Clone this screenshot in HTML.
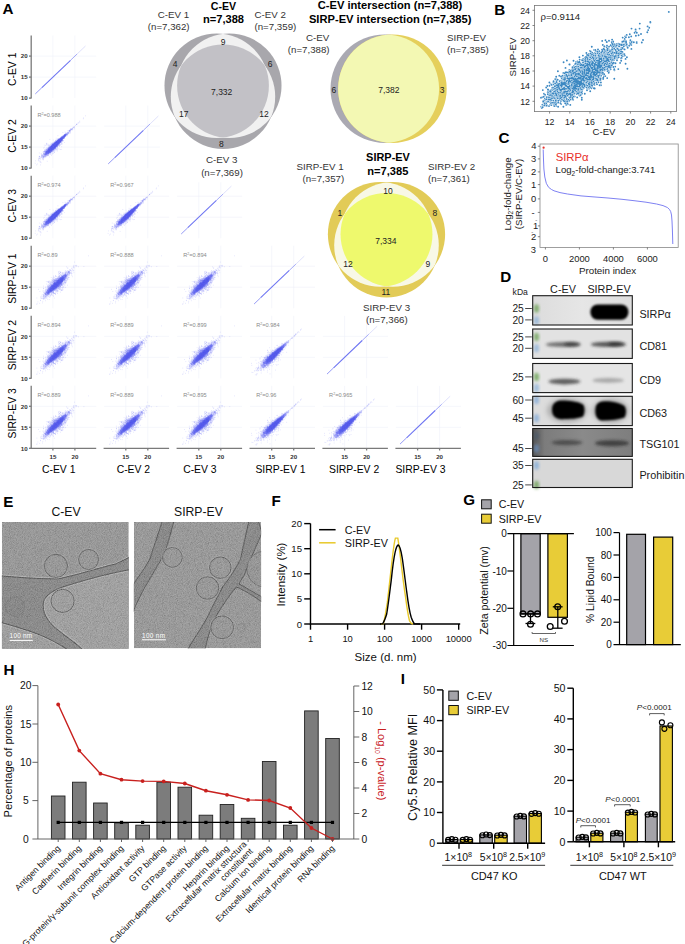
<!DOCTYPE html><html><head><meta charset="utf-8"><style>html,body{margin:0;padding:0;background:#fff;overflow:hidden}svg{display:block}text{font-family:"Liberation Sans", sans-serif}</style></head><body><svg width="685" height="944" viewBox="0 0 685 944" font-family='"Liberation Sans", sans-serif'><rect width="685" height="944" fill="#fff"/><text x="2.4" y="14.3" font-size="15.2" font-weight="bold">A</text><text x="494.2" y="14.5" font-size="15.2" font-weight="bold">B</text><text x="498.6" y="142.8" font-size="15.2" font-weight="bold">C</text><text x="500.2" y="281.9" font-size="15.2" font-weight="bold">D</text><text x="3.3" y="506.9" font-size="15.2" font-weight="bold">E</text><text x="271.4" y="506.2" font-size="15.2" font-weight="bold">F</text><text x="463.2" y="505.0" font-size="15.2" font-weight="bold">G</text><text x="3.6" y="674.9" font-size="15.2" font-weight="bold">H</text><text x="400.7" y="683.8" font-size="15.2" font-weight="bold">I</text><defs><g id="cc" stroke="#646cf6" stroke-opacity="0.27" stroke-width="0.7" stroke-linecap="round" fill="none"><path d="M13.7-11.9h0M32.9-31.8h0M23.7-22.1h0M25.4-23.3h0M26.4-26.1h0M18.1-18.9h0M14.8-15.5h0M32.5-31.6h0M15.3-13.0h0M23.6-19.7h0M29.2-28.2h0M24.7-24.6h0M24.6-22.2h0M33.6-32.3h0M18.7-17.0h0M34.0-33.6h0M28.1-28.2h0M31.4-30.5h0M21.0-20.0h0M19.7-20.4h0M24.9-22.4h0M19.8-16.7h0M19.5-18.8h0M19.3-21.2h0M21.5-22.4h0M26.1-24.1h0M23.6-23.5h0M19.6-21.4h0M28.5-27.2h0M25.6-24.4h0M21.8-20.3h0M17.9-16.4h0M25.9-26.8h0M20.0-19.1h0M22.0-23.5h0M23.1-25.4h0M17.4-17.8h0M21.8-21.7h0M22.0-20.5h0M19.9-17.6h0M32.2-27.2h0M25.1-24.2h0M27.1-27.6h0M27.3-27.1h0M22.2-21.9h0M11.7-16.0h0M28.9-27.8h0M25.8-25.8h0M20.7-18.8h0M27.5-26.2h0M14.9-16.2h0M25.2-23.3h0M30.1-29.5h0M26.8-26.7h0M20.9-21.1h0M21.1-20.8h0M18.6-19.6h0M30.1-30.1h0M16.0-14.6h0M52.1-49.3h0M15.8-12.9h0M25.3-25.0h0M20.6-22.2h0M23.9-23.9h0M26.6-26.0h0M29.2-30.1h0M19.2-18.9h0M21.8-18.7h0M15.9-12.3h0M22.4-23.5h0M25.8-23.2h0M12.8-13.7h0M26.5-24.3h0M23.8-22.3h0M20.4-21.4h0M30.2-29.0h0M18.1-19.0h0M36.2-37.2h0M25.7-18.3h0M21.4-16.4h0M23.5-22.3h0M19.8-18.2h0M17.6-18.3h0M20.7-21.2h0M27.5-27.7h0M18.4-18.9h0M30.5-29.3h0M23.6-21.2h0M22.4-22.1h0M32.0-31.8h0M37.5-37.5h0M31.0-27.0h0M24.1-23.3h0M26.3-25.7h0M21.8-22.9h0M26.6-25.5h0M15.5-12.0h0M22.0-20.8h0M21.4-20.3h0M33.0-31.5h0M20.4-24.5h0M33.8-32.8h0M27.3-25.7h0M28.5-26.0h0M31.0-29.5h0M22.5-22.2h0M8.4-10.1h0M12.6-14.8h0M24.5-22.1h0M18.8-17.4h0M7.1-7.4h0M47.2-45.2h0M29.7-28.7h0M19.3-15.7h0M18.0-17.0h0M20.0-20.4h0M30.9-31.3h0M19.8-19.5h0M15.3-18.4h0M27.7-25.8h0M23.2-20.6h0M26.8-26.6h0M5.3-3.2h0M21.8-20.5h0M22.2-21.1h0M22.4-21.2h0M28.8-27.5h0M26.0-23.1h0M29.2-28.6h0M20.1-17.9h0M24.1-24.9h0M23.5-23.6h0M14.7-14.0h0M27.4-25.4h0M22.2-23.3h0M19.1-20.1h0M26.3-26.1h0M24.9-25.0h0M25.4-23.6h0M21.1-20.2h0M14.4-15.1h0M19.4-18.1h0M25.4-22.5h0M16.9-22.3h0M26.6-25.3h0M20.0-16.8h0M13.6-12.1h0M13.9-14.1h0M32.0-30.5h0M21.1-23.2h0M25.3-23.6h0M33.3-32.8h0M20.7-19.5h0M26.5-24.8h0M20.5-21.7h0M15.5-14.1h0M30.5-29.1h0M25.0-24.2h0M26.8-26.5h0M17.3-18.8h0M23.5-23.5h0M30.9-30.7h0M24.8-24.4h0M28.6-26.9h0M31.0-29.7h0M18.9-18.9h0M19.2-20.1h0M21.4-18.4h0M24.8-24.3h0M30.7-30.0h0M26.2-24.6h0M26.8-26.0h0M27.5-28.8h0M45.6-43.9h0M23.5-23.6h0M17.1-15.9h0M23.0-23.2h0M22.9-22.3h0M34.2-32.4h0M14.9-14.5h0M22.8-23.3h0M33.2-32.3h0M21.9-16.8h0M29.1-26.2h0M23.3-23.9h0M26.6-26.0h0M29.4-27.9h0M24.3-21.5h0M18.4-15.8h0M23.2-22.4h0M27.8-26.9h0M22.6-22.2h0M22.3-22.3h0M24.7-24.9h0M15.2-15.3h0M23.9-24.4h0M9.4-8.9h0M24.0-22.3h0M20.7-18.6h0M26.3-24.7h0M20.4-18.5h0M26.6-27.4h0M38.6-37.6h0M23.6-24.5h0M17.6-18.7h0M24.0-21.9h0M31.9-32.0h0M21.6-20.3h0M27.2-27.0h0M24.7-23.9h0M29.8-29.4h0M27.8-26.6h0M23.3-21.2h0M25.7-25.1h0M24.6-21.5h0M22.7-23.2h0M19.8-19.0h0M12.7-14.2h0M21.0-20.0h0M29.5-27.8h0M18.7-18.6h0M27.9-26.3h0M30.9-30.1h0M18.8-19.7h0M18.3-19.8h0M19.7-19.1h0M20.8-20.1h0M29.7-28.9h0M25.9-22.8h0M25.1-22.5h0M18.5-17.2h0M28.3-28.7h0M37.7-36.1h0M17.6-14.8h0M34.4-32.7h0M17.1-17.0h0M27.9-24.2h0M31.3-29.7h0M21.5-23.7h0M26.4-19.2h0M21.6-22.4h0M20.8-16.8h0M21.0-20.9h0M17.4-16.7h0M24.1-24.4h0M13.3-20.9h0M29.2-28.0h0M16.3-17.7h0M7.9-7.2h0M20.1-19.1h0M18.7-28.7h0M32.5-31.8h0M21.5-21.1h0M24.5-24.1h0M28.8-23.7h0M27.7-26.9h0M20.8-21.6h0M30.3-29.3h0M15.3-15.5h0M36.5-34.0h0M21.3-20.7h0M29.1-27.0h0M33.3-32.5h0M27.4-25.1h0M18.9-20.2h0M18.0-15.1h0M22.1-21.9h0M25.1-25.4h0M9.3-3.2h0M40.7-38.6h0M37.1-35.4h0M32.9-31.7h0M17.5-15.0h0M25.2-24.4h0M25.2-24.3h0M18.1-18.0h0M21.4-23.3h0M33.7-31.6h0M31.9-31.4h0M27.2-24.0h0M21.3-21.9h0M12.2-14.5h0M21.9-17.1h0M26.3-25.5h0M22.1-22.7h0M24.6-19.3h0M23.8-23.4h0M27.5-25.9h0M20.2-12.7h0M22.8-22.3h0M20.4-20.6h0M13.7-11.7h0M23.3-25.1h0M16.1-18.4h0M32.8-32.2h0M16.7-12.6h0M20.0-19.9h0M26.1-24.5h0M22.7-21.5h0M14.6-16.1h0M22.6-21.9h0M33.4-31.3h0M24.5-25.2h0M23.5-23.5h0M17.6-14.2h0M25.7-23.8h0M16.2-16.6h0M17.3-20.9h0M29.2-25.6h0M22.5-18.1h0M18.0-21.1h0M23.7-19.9h0M26.6-21.9h0M15.9-15.3h0M21.9-23.5h0M25.4-22.4h0M33.4-32.9h0M30.1-30.6h0M27.4-25.3h0M33.7-33.2h0M22.4-23.6h0M24.6-22.2h0M29.2-29.4h0M26.7-25.9h0M18.2-22.8h0M28.4-27.8h0M21.8-22.5h0M27.0-26.2h0M14.7-14.5h0M24.6-24.9h0M18.3-18.1h0M21.9-22.4h0M17.5-15.1h0M25.7-24.7h0M20.5-22.3h0M16.8-14.8h0M22.7-19.3h0M33.5-31.5h0M19.0-18.1h0M24.8-24.1h0M20.0-23.9h0M21.3-18.0h0M26.0-22.9h0M17.4-19.3h0M14.8-16.1h0M19.8-21.1h0M23.1-20.4h0M26.8-26.0h0M31.6-30.5h0M21.2-21.1h0M18.6-20.8h0M29.8-29.3h0M30.0-29.2h0M21.7-19.9h0M44.3-42.6h0M31.1-31.0h0M13.6-13.1h0M21.7-18.3h0M14.5-13.2h0M34.8-34.1h0M24.1-23.5h0M21.3-24.2h0M23.4-23.2h0M32.0-31.2h0M33.2-31.5h0M21.2-20.2h0M19.7-18.0h0M24.4-24.1h0M22.7-21.2h0M16.8-18.1h0M27.9-23.9h0M23.4-22.6h0M18.8-17.8h0M31.2-29.7h0M23.0-19.8h0M22.4-22.8h0M20.9-21.5h0M19.5-18.4h0M21.2-22.0h0M20.5-20.7h0M27.3-25.9h0M23.0-22.9h0M19.6-18.0h0M20.4-19.5h0M29.2-26.8h0M22.8-20.6h0M24.4-22.4h0M21.6-20.0h0M31.5-32.0h0M17.0-15.2h0M19.0-20.2h0M18.9-18.5h0M29.9-27.3h0M30.0-23.6h0M15.7-18.7h0M18.4-17.7h0M15.7-12.7h0M30.9-30.1h0M26.7-26.1h0M40.3-38.9h0M16.7-16.5h0M17.6-16.4h0M21.2-20.8h0M25.1-24.1h0M24.8-24.3h0M25.2-24.3h0M18.6-20.7h0M23.6-24.7h0M27.4-25.7h0M40.7-37.9h0M13.5-13.4h0M27.7-26.2h0M17.5-15.7h0M21.4-20.5h0M28.0-28.7h0M20.4-22.1h0M24.4-24.2h0M18.3-17.8h0M18.9-17.1h0M20.6-19.6h0M29.5-28.5h0M22.0-22.1h0M20.3-20.9h0M25.0-23.9h0M31.8-30.1h0M26.4-25.9h0M28.6-28.6h0M22.3-22.5h0M26.4-25.5h0M22.8-15.8h0M24.1-23.9h0M26.4-25.5h0M19.8-19.7h0M20.2-19.0h0M29.4-27.6h0M37.3-34.2h0M16.8-19.5h0M21.1-21.6h0M24.2-22.7h0M34.3-33.7h0M25.1-26.4h0M23.8-25.7h0M29.1-26.1h0M24.6-23.8h0M21.2-18.8h0M34.7-33.5h0M20.8-19.4h0M22.6-21.0h0M30.2-28.1h0M25.2-24.7h0M23.9-23.3h0M33.1-29.7h0M17.5-17.7h0M24.6-22.3h0M24.1-22.6h0M27.6-23.6h0M12.8-10.5h0M22.5-23.3h0M19.3-15.4h0M27.7-27.8h0M22.6-20.7h0M22.0-22.6h0M16.5-15.1h0M24.4-24.9h0M23.7-22.8h0M21.7-19.5h0M23.1-23.4h0M39.9-38.7h0M27.0-26.2h0M16.8-17.2h0M21.5-22.1h0M21.1-16.8h0M22.8-21.6h0M32.4-31.4h0M19.0-17.5h0M16.9-16.2h0M19.2-19.2h0M24.0-23.9h0M21.2-24.0h0M32.1-31.0h0M28.5-26.0h0M30.5-29.4h0M28.1-25.8h0M26.0-25.9h0M24.9-19.4h0M34.8-32.9h0M12.7-14.7h0M29.4-28.7h0M26.2-20.9h0M24.1-17.3h0M19.0-17.6h0M22.6-21.4h0M33.5-32.9h0M25.6-21.5h0M33.7-32.2h0M18.3-17.4h0M34.0-32.5h0M17.8-19.8h0M21.3-19.3h0M23.8-25.9h0M25.9-25.4h0M22.8-23.9h0M20.5-18.6h0M21.6-22.6h0M20.2-20.2h0M24.2-20.3h0M20.4-20.3h0M25.4-23.8h0M20.0-17.9h0M36.2-34.1h0M25.7-24.4h0M23.4-23.2h0M26.3-25.2h0M13.0-13.8h0M19.1-17.5h0M25.0-23.2h0M21.3-22.0h0M52.3-50.2h0M21.9-22.5h0M24.8-24.5h0M17.3-19.8h0M22.3-21.0h0M33.4-33.5h0M19.7-18.3h0M24.8-22.9h0M32.0-27.5h0M26.8-24.5h0M17.7-20.2h0M27.6-28.0h0M21.2-20.9h0M17.1-16.5h0M18.4-15.8h0M28.1-25.7h0M21.7-21.2h0M9.7-11.5h0M21.0-21.1h0M14.6-14.0h0M31.6-29.5h0M14.7-13.8h0M23.4-21.7h0M17.4-15.8h0M18.1-18.5h0M33.8-32.5h0M26.1-25.3h0M21.8-22.2h0M23.5-20.6h0M28.6-28.3h0M27.9-24.8h0M28.0-24.7h0M27.8-26.5h0M22.7-21.6h0M23.2-21.7h0M23.3-24.0h0M24.9-22.4h0M22.4-19.2h0M29.1-28.1h0M24.7-23.2h0M24.0-22.9h0M24.5-24.7h0M25.9-27.9h0M14.7-12.5h0M34.8-34.0h0M26.4-23.8h0M31.4-28.6h0M28.4-29.0h0M25.8-18.0h0M32.0-31.5h0M25.0-22.5h0M20.4-21.4h0M16.4-14.2h0M22.1-24.7h0M38.1-37.6h0M28.4-26.7h0M15.0-15.1h0M25.4-23.7h0M33.1-32.3h0M25.2-25.4h0M17.4-18.9h0M23.9-21.0h0M10.9-10.0h0M24.0-24.6h0M22.0-21.4h0M20.6-21.6h0M27.6-28.1h0M32.2-29.9h0M21.1-18.1h0M13.5-14.9h0M31.7-29.1h0M23.7-25.2h0M32.2-30.9h0M19.4-18.6h0M26.6-25.4h0M13.7-13.7h0M18.9-20.3h0M18.9-15.6h0M22.5-19.5h0M26.6-24.5h0M26.4-26.3h0M29.8-29.9h0M24.5-22.7h0"/><path d="M16.8-16.1h0M30.8-30.1h0M19.7-23.4h0M33.4-31.7h0M22.1-19.9h0M29.8-27.4h0M22.2-21.7h0M16.6-16.4h0M24.5-25.5h0M26.1-26.0h0M21.0-20.0h0M17.2-14.1h0M29.3-28.6h0M17.6-18.0h0M29.3-18.6h0M20.7-22.5h0M26.6-26.8h0M25.0-24.5h0M17.5-23.8h0M15.0-13.8h0M16.3-14.9h0M24.7-23.8h0M33.8-32.5h0M24.4-25.3h0M22.1-20.2h0M21.3-16.2h0M28.3-26.8h0M26.8-26.0h0M30.6-29.8h0M27.1-26.3h0M17.7-20.3h0M24.4-22.9h0M24.9-23.3h0M23.1-22.7h0M14.1-18.0h0M26.2-25.9h0M22.4-21.2h0M25.8-26.0h0M14.0-11.4h0M27.0-25.2h0M16.4-17.6h0M24.1-18.6h0M22.9-23.1h0M26.7-32.4h0M16.8-15.5h0M24.3-24.9h0M23.4-24.7h0M24.7-23.8h0M20.4-20.8h0M29.6-30.3h0M14.7-15.1h0M28.1-27.7h0M27.5-26.7h0M22.8-22.1h0M23.6-22.6h0M26.3-25.3h0M23.2-23.5h0M29.2-28.9h0M22.9-23.0h0M28.3-28.1h0M40.1-39.1h0M21.8-20.5h0M34.3-32.9h0M12.1-11.1h0M23.8-23.2h0M18.3-17.2h0M24.6-25.7h0M32.5-31.5h0M21.9-21.4h0M25.9-25.6h0M15.4-15.9h0M25.2-22.9h0M20.3-19.2h0M20.1-20.4h0M23.8-24.1h0M26.0-24.2h0M26.9-24.6h0M27.6-27.9h0M23.2-23.3h0M21.6-21.2h0M45.6-43.9h0M23.0-20.8h0M22.1-22.7h0M27.7-28.4h0M23.4-19.7h0M29.7-29.4h0M29.6-29.4h0M16.3-16.0h0M25.3-24.8h0M21.6-20.4h0M20.7-22.2h0M23.8-24.0h0M16.5-14.2h0M32.1-29.7h0M19.4-20.1h0M23.8-21.7h0M22.7-23.5h0M34.6-32.3h0M23.9-24.1h0M27.7-22.7h0M25.7-22.4h0M20.7-19.6h0M41.4-39.6h0M29.5-27.3h0M21.5-20.7h0M26.4-23.7h0M31.3-30.8h0M32.5-29.3h0M30.0-28.8h0M21.9-22.4h0M38.5-36.3h0M19.6-20.4h0M22.4-21.0h0M19.0-19.5h0M19.1-13.6h0M27.4-28.1h0M23.0-23.9h0M20.4-21.2h0M21.0-20.6h0M21.3-20.2h0M33.7-31.4h0M24.6-24.2h0M20.1-20.0h0M22.6-24.6h0M26.5-25.4h0M41.7-40.5h0M27.4-25.9h0M35.8-33.7h0M19.9-22.1h0M15.4-24.6h0M20.4-20.0h0M9.9-5.4h0M23.9-21.0h0M26.5-25.4h0M25.0-23.3h0M30.5-29.0h0M20.5-20.9h0M24.2-23.1h0M32.1-30.5h0M27.6-26.4h0M30.4-29.0h0M24.5-26.1h0M35.1-33.5h0M20.0-20.4h0M19.3-20.4h0M15.7-16.8h0M14.4-22.5h0M14.6-13.8h0M27.0-27.1h0M19.3-20.7h0M15.8-16.7h0M25.4-26.2h0M15.7-15.3h0M27.3-26.9h0M21.8-20.2h0M20.7-19.5h0M19.6-22.0h0M18.7-19.8h0M25.1-24.9h0M18.8-17.4h0M28.3-27.4h0M30.1-29.8h0M30.0-28.1h0M27.2-26.2h0M28.6-27.5h0M16.4-12.7h0M48.5-46.9h0M24.5-22.9h0M21.7-20.1h0M15.0-14.8h0M16.0-15.8h0M26.4-25.4h0M25.8-26.6h0M19.9-20.3h0M21.0-19.6h0M21.2-19.3h0M21.1-20.4h0M19.4-19.0h0M26.9-25.3h0M28.6-26.8h0M24.8-20.8h0M26.8-26.2h0M35.7-33.0h0M27.3-28.4h0M17.9-16.3h0M26.0-24.6h0M21.7-21.3h0M26.3-24.3h0M18.6-17.5h0M29.9-29.4h0M21.2-17.5h0M15.1-23.3h0M21.4-24.1h0M21.3-23.9h0M21.5-19.6h0M41.0-38.7h0M20.3-20.9h0M26.5-25.1h0M24.0-24.6h0M18.2-16.7h0M25.6-25.4h0M24.7-25.5h0M25.8-26.0h0M23.9-22.3h0M24.6-22.7h0M22.4-22.6h0M28.7-29.3h0M33.1-30.0h0M26.6-26.7h0M22.5-21.2h0M24.8-25.6h0M15.6-15.9h0M29.9-26.6h0M16.9-17.5h0M17.0-13.1h0M22.4-23.0h0M24.7-25.3h0M15.9-16.5h0M21.5-20.9h0M24.3-22.9h0M20.0-19.5h0M26.4-26.0h0M38.2-37.6h0M21.0-21.0h0M28.7-28.5h0M19.1-20.6h0M14.5-15.9h0M15.0-15.5h0M23.4-24.4h0M21.0-24.3h0M21.4-18.2h0M29.6-25.4h0M28.9-23.1h0M27.3-27.8h0M36.2-34.8h0M19.5-16.7h0M33.3-31.1h0M19.7-25.1h0M38.2-36.3h0M24.0-23.1h0M23.4-22.6h0M25.0-24.0h0M17.5-15.2h0M22.7-23.6h0M24.1-24.3h0M16.7-16.8h0M27.1-26.9h0M27.6-27.1h0M24.8-23.4h0M21.6-20.9h0M18.0-15.6h0M27.0-26.0h0M29.9-28.1h0M19.6-18.9h0M21.7-23.4h0M23.1-21.7h0M21.5-18.4h0M19.8-20.1h0M28.7-28.0h0M21.1-21.1h0M28.1-27.6h0M17.0-20.4h0M16.0-6.8h0M25.6-26.3h0M24.4-23.9h0M30.2-30.0h0M16.8-16.3h0M24.1-23.0h0M27.3-24.9h0M19.6-20.3h0M20.3-19.4h0M22.8-21.8h0M22.4-18.9h0M14.3-12.2h0M26.4-24.2h0M21.9-23.0h0M39.7-39.2h0M13.0-15.9h0M29.8-29.1h0M22.8-22.3h0M24.8-23.9h0M22.1-21.0h0M42.9-40.0h0M25.9-25.5h0M17.6-18.3h0M21.5-21.6h0M31.1-31.0h0M25.7-26.0h0M19.9-19.1h0M20.1-20.9h0M23.5-23.7h0M25.7-24.7h0M22.6-18.5h0M22.0-19.9h0M23.2-21.9h0M24.7-23.8h0M27.8-27.2h0M28.8-26.4h0M29.9-29.2h0M32.5-30.1h0M22.7-21.8h0M22.6-21.4h0M35.6-34.3h0M30.0-28.7h0M30.0-27.1h0M28.9-29.4h0M27.0-26.1h0M25.5-26.1h0M37.0-34.6h0M17.0-19.0h0M19.7-19.7h0M26.1-23.9h0M25.7-26.1h0M21.8-23.3h0M26.0-22.7h0M26.2-22.5h0M23.9-22.2h0M24.8-24.1h0M18.7-16.1h0M27.1-26.3h0M17.7-15.4h0M24.9-24.5h0M24.5-23.7h0M16.1-15.1h0M24.5-23.7h0M21.4-21.6h0M30.4-28.7h0M25.5-25.3h0M21.4-19.9h0M26.8-23.1h0M17.5-18.9h0M26.3-24.9h0M26.2-25.6h0M20.5-16.3h0M38.5-36.4h0M24.8-21.7h0M32.3-30.0h0M24.6-19.8h0M31.4-28.4h0M23.2-24.4h0M24.4-24.4h0M22.9-20.6h0M23.0-24.5h0M31.3-29.9h0M20.1-20.3h0M28.0-27.4h0M28.4-22.0h0M26.0-27.1h0M27.3-24.5h0M18.2-19.6h0M23.4-17.4h0M29.5-28.5h0M20.3-18.1h0M24.0-21.5h0M24.9-22.6h0M27.8-27.1h0M29.9-29.1h0M18.7-16.5h0M21.5-23.4h0M16.0-17.4h0M39.4-35.8h0M25.7-25.6h0M20.6-20.5h0M26.9-27.8h0M23.7-24.0h0M19.6-18.4h0M22.9-23.2h0M18.4-18.5h0M29.2-27.6h0M39.4-37.1h0M28.2-27.3h0M30.4-31.4h0M28.3-24.6h0M27.0-25.5h0M21.8-22.3h0M24.5-21.7h0M28.7-26.9h0M30.2-28.7h0M19.1-18.3h0M38.8-38.5h0M25.4-24.8h0M30.2-28.9h0M30.4-27.6h0M31.8-32.0h0M23.7-21.7h0M18.6-16.9h0M26.0-24.3h0M24.8-23.9h0M24.6-25.0h0M23.6-20.5h0M21.5-21.2h0M27.1-26.5h0M25.2-22.9h0M25.2-24.5h0M13.4-15.0h0M31.1-30.3h0M30.8-25.3h0M36.0-33.8h0M17.6-16.7h0M15.8-18.6h0M20.0-18.8h0M26.4-26.1h0M10.5-10.5h0M19.9-23.9h0M24.4-23.2h0M24.5-26.1h0M25.8-23.7h0M31.5-29.6h0M24.8-25.8h0M21.9-22.3h0M12.9-14.0h0M27.1-27.1h0M22.1-17.1h0M23.6-25.0h0M19.1-15.8h0M19.0-19.5h0M24.4-21.9h0M22.9-21.3h0M39.1-37.1h0M32.1-30.0h0M20.0-16.8h0M38.1-37.0h0M22.6-22.7h0M22.2-20.0h0M28.7-29.9h0M25.8-26.2h0M21.3-22.1h0M21.1-20.1h0M17.0-15.5h0M15.3-13.3h0M31.4-30.8h0M22.5-20.1h0M19.6-20.0h0M26.8-27.7h0M21.8-18.8h0M21.2-18.8h0M30.3-27.8h0M33.7-32.1h0M28.7-29.3h0M19.6-17.8h0M23.9-23.8h0M23.8-24.0h0M23.1-21.2h0M19.6-18.5h0M20.9-21.0h0M16.3-14.0h0M24.8-22.6h0M23.8-23.5h0M22.2-21.3h0M19.8-19.3h0M25.7-23.8h0M27.2-27.0h0M23.2-21.5h0M29.2-28.2h0M28.4-26.9h0M22.8-22.6h0M21.1-18.6h0M21.4-21.8h0M17.0-18.3h0M29.6-28.5h0M21.0-22.6h0M23.3-21.4h0M21.4-19.4h0M33.0-32.6h0M23.7-22.3h0M26.6-24.9h0M23.2-21.5h0M23.5-21.4h0M20.0-21.9h0M19.3-18.3h0M26.1-25.8h0M30.9-28.9h0M23.2-23.8h0M26.6-26.6h0M17.2-14.7h0M19.2-18.6h0M25.7-23.1h0M37.2-35.2h0M30.9-30.1h0M18.7-20.1h0M18.7-18.0h0M30.3-29.4h0M26.6-24.8h0M25.2-23.0h0M18.7-19.2h0M30.3-29.0h0M19.1-14.8h0M27.5-26.5h0M23.8-22.2h0M35.0-34.2h0M18.3-16.0h0M23.5-19.2h0M26.8-28.3h0M27.7-28.0h0M17.3-14.9h0M16.5-19.5h0M21.8-22.5h0M18.7-17.7h0M26.9-24.9h0M22.4-21.4h0M27.8-26.7h0M19.0-19.1h0M15.1-17.9h0M28.5-28.6h0M28.6-27.3h0M31.3-30.1h0M34.9-33.7h0M32.9-30.4h0M18.0-19.8h0M23.1-22.3h0M23.4-22.2h0M22.8-20.2h0M33.4-25.6h0M21.7-20.6h0M21.0-20.7h0M14.1-15.7h0M27.6-27.1h0M31.5-29.9h0M17.2-16.3h0M21.1-19.7h0M22.9-23.6h0M18.9-18.9h0M27.1-27.5h0M22.2-20.9h0M17.2-18.2h0M19.1-19.8h0M28.0-28.0h0M25.2-26.3h0M28.7-28.4h0M25.3-22.7h0M18.7-17.4h0M28.6-28.4h0M32.1-30.9h0M10.7-13.7h0M26.8-19.8h0M21.2-20.1h0M17.3-15.9h0M26.3-24.6h0M19.0-19.0h0M28.1-27.0h0M17.9-17.0h0M39.1-37.4h0M23.8-19.8h0M13.0-13.7h0M21.3-22.8h0M20.8-20.0h0M21.1-21.9h0M21.1-23.4h0M22.2-22.4h0M33.8-36.1h0M14.3-12.8h0M20.2-16.2h0M25.9-25.5h0M17.3-18.0h0M23.8-22.8h0M19.9-18.8h0M25.2-24.2h0M25.4-26.3h0M24.5-22.8h0M20.3-16.8h0M21.9-21.9h0M29.1-26.7h0M18.8-16.1h0M45.2-43.6h0M27.5-26.4h0M25.1-23.1h0M22.5-20.3h0M17.4-17.5h0M28.2-26.9h0M25.9-23.7h0M21.4-19.3h0M24.4-24.5h0M27.3-27.1h0M24.2-24.4h0M19.8-20.6h0M29.1-28.7h0M21.7-22.6h0M15.4-16.3h0M17.0-20.2h0M24.8-24.6h0M27.7-25.9h0M26.2-29.4h0M26.4-27.7h0M19.2-18.5h0M22.8-23.5h0M22.5-21.9h0M16.9-15.9h0M26.5-25.8h0M23.5-20.7h0M20.5-21.4h0M24.4-20.9h0M30.4-28.4h0M23.7-23.4h0M15.1-15.5h0M27.4-28.8h0M21.9-22.0h0M37.8-34.6h0M28.4-28.4h0M18.2-17.1h0M21.9-24.3h0"/><path d="M22.2-14.8h0M23.7-22.6h0M15.1-16.8h0M31.4-30.4h0M24.2-23.6h0M25.0-23.5h0M27.3-26.2h0M24.7-25.1h0M35.0-32.7h0M14.3-13.6h0M21.8-21.8h0M21.2-22.2h0M25.0-26.4h0M30.9-28.7h0M22.0-21.6h0M27.2-26.5h0M15.6-16.3h0M20.0-19.2h0M17.4-19.6h0M22.9-22.6h0M20.3-16.4h0M23.2-20.5h0M25.5-25.3h0M22.2-22.3h0M16.8-15.1h0M28.0-27.9h0M28.8-27.1h0M25.4-25.9h0M18.8-23.2h0M26.0-24.0h0M29.1-26.9h0M20.6-19.6h0M29.5-28.9h0M15.9-16.4h0M27.6-26.7h0M22.4-22.8h0M14.7-16.9h0M27.0-26.7h0M19.8-19.6h0M24.9-23.6h0M25.2-21.8h0M18.7-17.9h0M18.5-19.9h0M23.9-21.3h0M22.7-22.2h0M21.3-20.2h0M8.7-6.9h0M25.2-24.2h0M25.8-24.1h0M28.3-26.0h0M21.3-21.1h0M26.4-25.9h0M16.4-15.9h0M28.1-27.0h0M34.7-33.7h0M28.5-25.3h0M20.1-18.4h0M13.6-17.1h0M18.9-18.5h0M24.9-26.0h0M22.1-19.4h0M23.3-23.4h0M33.1-30.9h0M25.9-22.0h0M18.9-19.9h0M32.0-30.9h0M26.8-23.8h0M30.2-28.8h0M23.0-23.3h0M18.6-20.3h0M20.3-18.9h0M30.3-29.1h0M28.3-28.3h0M22.6-20.6h0M18.5-18.2h0M19.2-19.1h0M21.2-19.2h0M21.3-19.8h0M21.4-23.3h0M54.2-52.3h0M18.2-11.1h0M19.9-21.5h0M27.3-26.2h0M28.3-27.3h0M27.4-26.3h0M24.4-22.6h0M22.7-21.2h0M21.5-20.4h0M24.1-22.5h0M15.6-16.0h0M28.3-27.1h0M20.9-20.6h0M24.8-22.9h0M12.0-14.0h0M18.4-17.0h0M30.5-28.1h0M23.0-22.7h0M30.2-29.8h0M33.9-31.9h0M27.6-27.7h0M35.8-35.0h0M23.6-22.6h0M29.8-29.0h0M22.5-22.2h0M32.2-31.0h0M22.8-25.0h0M25.3-25.2h0M16.7-13.8h0M17.8-18.7h0M25.8-26.5h0M18.6-16.5h0M15.6-14.6h0M17.3-18.2h0M14.4-14.2h0M28.9-26.1h0M16.1-16.6h0M26.0-25.5h0M27.1-24.6h0M22.7-21.1h0M23.6-21.4h0M17.6-22.0h0M24.2-23.5h0M24.5-24.4h0M23.8-20.7h0M23.5-24.6h0M28.5-25.9h0M35.8-34.0h0M21.6-22.1h0M37.2-35.7h0M26.6-25.3h0M22.1-25.4h0M31.0-30.4h0M12.6-11.4h0M12.6-12.9h0M24.1-22.7h0M28.3-25.5h0M24.3-25.2h0M26.6-26.3h0M19.4-21.6h0M26.9-27.9h0M15.5-14.6h0M23.9-22.3h0M19.8-20.1h0M15.0-15.8h0M25.9-23.2h0M24.1-20.5h0M27.7-26.5h0M28.6-26.9h0M24.5-24.5h0M16.7-18.7h0M18.5-18.1h0M26.0-22.8h0M24.6-27.2h0M16.2-16.2h0M15.1-14.8h0M21.5-21.8h0M18.1-16.6h0M22.4-23.2h0M26.2-27.3h0M34.3-33.7h0M22.7-22.0h0M15.2-14.7h0M16.2-17.5h0M24.7-24.8h0M15.1-13.7h0M22.0-21.4h0M16.8-15.7h0M12.5-16.3h0M27.6-29.6h0M20.1-18.5h0M26.3-26.5h0M27.3-26.6h0M26.4-27.1h0M20.8-23.0h0M24.0-22.7h0M30.5-28.0h0M25.7-26.0h0M28.0-27.4h0M20.0-17.9h0M31.1-29.9h0M29.4-29.0h0M17.2-16.2h0M15.3-14.2h0M27.1-25.5h0M20.9-20.5h0M22.1-21.8h0M12.8-13.0h0M25.4-23.8h0M30.7-29.1h0M27.4-22.6h0M13.1-12.0h0M27.8-24.6h0M8.1-11.7h0M22.8-20.7h0M19.0-17.9h0M39.4-38.0h0M21.6-20.5h0M8.2-11.4h0M22.3-23.6h0M20.3-16.8h0M24.8-24.6h0M8.1-11.6h0M21.3-22.8h0M26.0-27.0h0M16.5-14.9h0M4.0-4.8h0M25.1-21.8h0M33.4-32.4h0M27.7-27.9h0M33.2-32.3h0M19.9-17.8h0M26.2-25.6h0M20.1-19.5h0M26.1-23.3h0M29.2-27.2h0M30.2-29.7h0M26.1-24.9h0M26.9-23.7h0M28.2-26.6h0M21.5-20.7h0M27.8-27.2h0M19.0-18.7h0M18.4-18.4h0M24.6-23.5h0M25.2-24.9h0M26.7-24.5h0M24.6-24.4h0M20.3-18.9h0M22.2-18.6h0M22.9-19.3h0M22.2-21.8h0M25.1-24.0h0M22.1-22.7h0M33.8-32.5h0M28.6-28.1h0M20.3-22.4h0M33.1-30.2h0M28.2-26.7h0M20.3-18.3h0M11.5-10.5h0M26.6-26.6h0M20.9-20.9h0M26.6-25.5h0M26.1-25.5h0M20.1-17.1h0M28.0-26.9h0M29.1-28.0h0M34.2-32.3h0M16.9-12.3h0M34.2-31.8h0M22.8-21.7h0M25.1-24.4h0M26.2-24.1h0M29.2-26.9h0M21.9-19.9h0M32.0-30.2h0M25.3-26.0h0M21.9-18.4h0M17.1-16.9h0M24.2-20.9h0M22.5-21.9h0M22.9-22.2h0M21.5-18.0h0M28.0-26.7h0M23.2-21.6h0M28.7-27.6h0M17.3-16.1h0M39.2-35.0h0M24.8-24.8h0M24.6-25.1h0M27.6-24.5h0M25.0-25.5h0M18.1-21.5h0M23.0-23.8h0M27.7-24.3h0M33.6-32.5h0M33.2-31.2h0M15.2-16.0h0M19.7-19.6h0M20.0-21.3h0M25.4-22.1h0M24.4-24.5h0M23.1-23.2h0M24.7-24.8h0M25.2-25.7h0M14.0-14.0h0M10.3-14.0h0M14.3-16.3h0M31.3-28.0h0M14.6-10.8h0M30.5-29.5h0M21.5-17.8h0M19.1-18.9h0M18.9-15.9h0M17.3-16.3h0M13.2-14.6h0M24.4-23.4h0M40.8-39.1h0M31.1-28.5h0M17.6-16.7h0M21.3-20.8h0M9.2-10.5h0M21.3-21.0h0M27.5-26.3h0M20.9-16.6h0M20.3-20.9h0M26.1-27.5h0M20.9-22.3h0M24.0-23.5h0M23.3-22.3h0M27.2-26.0h0M23.6-25.1h0M42.4-40.7h0M33.3-32.9h0M20.4-19.2h0M29.3-27.2h0M20.0-18.0h0M22.2-23.6h0M23.2-21.2h0M23.3-22.4h0M16.4-18.9h0M19.9-19.1h0M19.0-16.5h0M17.4-18.4h0M30.6-31.2h0M17.4-18.3h0M22.6-23.1h0M16.6-16.1h0M20.6-21.7h0M21.8-21.2h0M19.1-21.6h0M23.3-22.9h0M25.8-23.8h0M20.1-19.0h0M31.0-28.8h0M25.1-21.4h0M15.2-16.9h0M26.7-25.2h0M27.1-26.8h0M23.9-22.2h0M19.1-18.9h0M26.6-24.6h0M29.8-29.4h0M26.1-23.0h0M12.5-10.7h0M25.9-23.9h0M26.9-25.2h0M23.1-21.6h0M18.8-18.2h0M25.0-22.5h0M25.5-21.5h0M12.2-8.3h0M24.4-22.7h0M26.5-25.6h0M36.6-35.8h0M24.8-22.8h0M19.9-18.5h0M9.0-5.6h0M19.3-19.0h0M21.8-23.2h0M27.5-27.5h0M26.1-25.7h0M25.2-24.6h0M26.5-24.1h0M19.6-17.8h0M29.3-27.4h0M25.0-28.3h0M26.7-25.3h0M25.0-29.9h0M24.2-25.4h0M14.5-14.5h0M19.9-21.3h0M26.0-25.9h0M24.9-25.9h0M24.3-24.3h0M24.3-23.5h0M21.2-19.3h0M18.8-17.7h0M33.5-32.1h0M27.9-26.5h0M15.5-15.3h0M17.1-16.4h0M21.1-18.6h0M19.4-16.1h0M25.9-23.7h0M22.4-19.3h0M19.3-20.6h0M27.4-25.8h0M23.3-23.3h0M27.2-25.8h0M16.8-16.9h0M26.0-25.2h0M19.0-19.3h0M26.7-26.4h0M24.6-24.1h0M22.2-22.1h0M26.9-25.4h0M17.6-17.8h0M23.1-21.8h0M11.6-12.1h0M36.3-33.3h0M21.5-21.2h0M22.2-19.4h0M19.0-14.6h0M16.0-12.7h0M10.8-11.0h0M14.9-14.1h0M23.5-21.7h0M29.5-28.1h0M27.5-25.4h0M26.4-23.7h0M20.0-18.3h0M7.6-9.5h0M20.8-21.8h0M28.0-27.8h0M25.4-25.9h0M31.0-28.8h0M29.3-27.7h0M21.8-23.6h0M14.5-13.1h0M21.9-22.2h0M29.4-30.0h0M28.4-27.2h0M23.2-22.1h0M26.6-25.4h0M28.9-27.3h0M19.6-17.9h0M21.8-23.2h0M16.6-16.8h0M28.2-29.6h0M24.5-24.9h0M23.0-21.5h0M31.3-24.2h0M18.3-20.1h0M25.2-24.6h0M25.2-23.2h0M23.3-22.2h0M25.4-24.4h0M21.2-21.5h0M29.7-27.2h0M12.1-11.2h0M18.6-16.4h0M21.6-19.3h0M19.4-18.3h0M26.9-28.4h0M17.7-14.9h0M22.3-18.8h0M24.4-20.3h0M29.7-27.2h0M26.3-26.0h0M31.2-27.3h0M25.7-26.6h0M25.9-25.3h0M24.7-24.3h0M26.1-24.4h0M22.3-20.5h0M23.6-25.4h0M22.0-22.4h0M19.3-19.8h0M16.1-13.9h0M21.7-23.6h0M24.9-21.3h0M29.8-28.9h0M18.8-18.6h0M32.6-30.2h0M19.3-18.8h0M11.8-11.8h0M24.2-24.3h0M29.9-30.2h0M14.7-15.7h0M26.9-24.9h0M29.5-28.7h0M23.6-23.9h0M16.9-17.7h0M29.0-27.9h0M17.6-15.4h0M25.9-24.2h0M22.0-21.3h0M43.3-41.3h0M24.6-25.3h0M25.5-24.8h0M25.4-23.9h0M19.6-20.3h0M18.1-20.1h0M21.6-21.4h0M26.4-24.8h0M31.2-28.6h0M27.5-22.8h0M21.0-20.9h0M23.0-23.9h0M42.0-40.7h0M32.2-31.7h0M20.1-19.3h0M20.6-20.1h0M28.8-28.4h0M26.6-26.7h0M22.0-22.3h0M22.7-22.0h0M20.7-19.8h0M21.5-18.9h0M18.2-16.6h0M25.6-25.8h0M15.1-16.6h0M33.0-31.3h0M26.6-25.0h0M26.2-25.7h0M27.5-25.6h0M24.3-21.5h0M21.0-21.2h0M8.2-11.8h0M23.3-26.1h0M30.4-29.0h0M17.0-14.5h0M10.4-10.9h0M15.3-16.2h0M27.1-28.2h0M18.5-18.2h0M27.3-27.2h0M16.5-14.7h0M25.1-23.6h0M21.9-22.3h0M18.6-20.2h0M21.0-18.7h0M33.4-32.4h0M25.7-24.0h0M20.5-21.8h0M27.3-26.0h0M24.3-24.0h0M19.3-18.0h0M20.1-18.6h0M20.8-19.7h0M24.7-22.8h0M29.8-28.9h0M32.4-32.1h0M24.1-23.7h0M23.8-23.0h0M20.2-20.7h0M24.1-20.4h0M21.5-19.0h0M8.7-9.7h0M25.5-25.7h0M29.8-29.2h0M14.7-16.0h0M16.3-16.7h0M12.2-15.0h0M10.2-12.3h0M17.4-18.9h0M40.0-38.8h0M24.8-24.9h0M23.5-20.5h0M24.6-23.8h0M19.6-17.4h0M28.0-25.9h0M21.6-19.7h0M18.8-18.7h0M21.0-22.6h0M25.9-26.3h0M21.4-19.4h0M22.2-20.9h0M30.0-29.2h0M19.6-18.0h0M20.8-20.6h0M34.6-34.1h0M17.6-16.5h0M22.5-22.3h0M24.8-22.9h0M15.9-17.5h0M22.6-21.1h0M27.8-23.8h0M18.3-18.1h0M20.8-23.0h0M15.6-18.4h0M23.4-24.0h0M27.4-27.3h0M19.9-18.8h0M16.7-15.3h0M21.5-20.5h0M26.3-25.8h0M29.9-29.6h0M24.8-21.5h0M17.7-19.2h0M22.6-21.5h0M14.3-14.4h0M27.7-26.1h0M26.1-25.6h0M25.8-27.1h0M26.9-26.6h0M21.8-22.3h0M25.0-23.1h0M17.4-17.9h0M24.0-24.4h0M22.8-21.8h0M33.1-31.0h0M29.8-31.0h0M20.0-16.3h0M22.4-20.6h0M26.7-25.6h0M22.6-24.1h0M24.9-26.3h0M26.8-28.9h0"/><path d="M22.0-19.8h0M21.8-21.3h0M21.7-23.5h0M22.3-22.4h0M25.4-24.2h0M23.0-24.4h0M16.7-17.9h0M24.6-24.6h0M32.3-30.1h0M26.7-25.0h0M26.5-25.7h0M25.5-25.4h0M14.4-13.6h0M29.6-27.2h0M29.3-27.2h0M31.8-27.6h0M23.3-23.0h0M10.4-12.7h0M23.4-21.1h0M21.4-14.4h0M20.5-18.1h0M24.4-22.1h0M27.5-26.6h0M22.4-21.6h0M29.2-29.1h0M27.0-23.9h0M32.8-31.5h0M30.7-29.6h0M21.9-21.6h0M31.7-29.5h0M23.9-23.8h0M24.1-22.0h0M23.7-23.4h0M26.2-21.8h0M18.2-18.5h0M26.0-17.0h0M24.2-23.6h0M17.4-14.7h0M25.9-25.4h0M20.4-22.3h0M18.1-15.3h0M17.5-18.3h0M15.1-16.3h0M32.5-32.5h0M26.6-25.9h0M18.6-18.9h0M26.1-23.8h0M23.5-21.8h0M22.9-21.5h0M17.1-17.8h0M20.3-18.2h0M30.7-30.5h0M27.9-26.1h0M19.9-18.8h0M16.4-17.1h0M28.7-27.5h0M34.1-32.8h0M21.5-23.7h0M21.2-21.4h0M12.2-10.0h0M41.2-39.7h0M21.6-20.9h0M22.9-18.5h0M19.5-21.7h0M19.3-18.0h0M13.5-13.0h0M21.9-22.1h0M33.0-33.0h0M15.6-15.4h0M27.5-27.2h0M27.6-26.1h0M25.0-22.8h0M18.5-17.2h0M24.3-23.7h0M17.9-19.0h0M20.9-23.3h0M21.6-18.8h0M17.0-17.4h0M29.4-28.6h0M26.0-25.0h0M25.7-25.4h0M15.1-16.9h0M24.6-25.4h0M25.4-24.3h0M31.7-30.8h0M33.7-32.6h0M23.6-19.5h0M16.7-14.2h0M21.4-22.1h0M31.4-30.1h0M17.9-16.1h0M24.9-22.8h0M18.7-20.9h0M23.7-21.6h0M29.8-26.6h0M34.0-33.3h0M26.9-25.8h0M23.3-20.6h0M29.0-29.5h0M26.8-26.4h0M18.0-16.5h0M18.0-17.6h0M22.7-24.1h0M24.2-24.7h0M23.6-19.2h0M21.7-22.1h0M17.1-14.3h0M24.1-22.0h0M23.2-23.1h0M21.1-22.3h0M18.7-15.5h0M21.9-22.9h0M23.7-22.3h0M25.0-25.8h0M20.3-20.0h0M19.9-19.1h0M17.6-15.8h0M18.2-20.5h0M23.0-20.6h0M27.5-26.3h0M14.0-14.1h0M23.1-21.9h0M19.6-18.7h0M28.6-27.9h0M28.8-27.1h0M13.1-22.9h0M26.3-27.0h0M22.2-20.7h0M28.4-27.7h0M27.3-27.8h0M25.5-26.1h0M35.6-34.1h0M24.7-18.7h0M33.4-33.3h0M11.6-12.0h0M21.5-21.2h0M20.5-19.2h0M25.2-23.9h0M26.6-24.7h0M16.7-18.7h0M23.7-20.8h0M18.2-19.8h0M26.5-26.1h0M23.0-26.1h0M28.6-27.6h0M24.0-23.4h0M14.5-14.5h0M23.9-21.7h0M16.7-17.5h0M28.8-27.9h0M21.0-22.6h0M24.8-24.2h0M18.7-18.0h0M27.8-27.0h0M30.2-29.3h0M24.9-23.3h0M19.1-20.0h0M28.5-26.7h0M43.2-40.7h0M18.0-17.9h0M21.9-23.7h0M26.0-26.0h0M24.3-24.1h0M29.5-28.7h0M21.5-20.9h0M25.3-24.1h0M27.2-24.6h0M28.4-28.4h0M33.0-30.2h0M18.6-19.3h0M28.2-28.0h0M20.8-21.6h0M33.5-33.0h0M25.5-26.2h0M26.1-24.6h0M32.8-30.9h0M26.8-26.5h0M31.4-29.2h0M24.1-20.0h0M17.8-16.8h0M25.6-23.0h0M28.5-27.8h0M6.4-4.1h0M25.1-24.4h0M19.2-16.2h0M16.3-23.9h0M24.1-20.1h0M29.0-25.6h0M26.0-24.4h0M18.0-17.2h0M16.2-16.0h0M33.4-32.9h0M12.5-10.1h0M20.8-20.0h0M27.9-26.8h0M21.1-19.0h0M39.5-39.3h0M36.1-32.3h0M24.9-22.7h0M12.2-11.1h0M27.0-25.5h0M16.9-16.9h0M32.5-31.3h0M16.9-17.9h0M24.9-27.1h0M26.3-27.2h0M29.3-28.4h0M24.4-24.6h0M27.7-28.3h0M17.3-17.6h0M30.8-27.8h0M30.5-29.3h0M23.8-24.0h0M28.9-27.4h0M21.1-20.9h0M30.7-30.1h0M26.8-24.9h0M23.6-22.7h0M23.1-25.2h0M21.4-20.5h0M31.1-29.3h0M22.0-22.4h0M24.8-22.4h0M25.9-24.4h0M23.3-21.4h0M26.1-25.0h0M21.8-21.8h0M25.4-24.5h0M26.0-24.1h0M30.5-30.3h0M21.9-22.7h0M23.5-21.8h0M24.1-22.1h0M14.9-16.3h0M28.5-26.6h0M21.2-21.2h0M27.8-28.0h0M7.9-9.0h0M21.1-25.5h0M19.4-18.3h0M29.6-29.1h0M24.0-23.5h0M36.6-35.0h0M27.9-27.5h0M20.7-21.9h0M14.6-14.5h0M30.5-28.9h0M28.0-25.7h0M27.3-24.9h0M17.9-20.1h0M29.5-28.3h0M28.5-19.1h0M27.7-27.0h0M22.7-21.9h0M17.5-18.0h0M27.4-25.0h0M28.3-27.5h0M29.5-29.3h0M33.4-32.5h0M15.5-14.9h0M30.2-29.4h0M21.2-23.9h0M28.6-27.0h0M19.3-20.6h0M23.3-20.8h0M17.5-18.6h0M10.7-12.4h0M31.3-31.4h0M20.4-20.2h0M21.0-22.8h0M28.0-26.0h0M29.1-27.4h0M27.4-22.5h0M24.3-21.9h0M26.0-23.1h0M11.2-13.3h0M28.0-26.7h0M20.8-21.9h0M27.2-26.8h0M21.4-20.1h0M28.0-27.4h0M22.4-25.1h0M24.1-23.3h0M19.4-17.6h0M27.1-27.9h0M28.3-26.4h0M18.5-15.3h0M28.5-27.3h0M25.5-24.9h0M23.6-22.8h0M13.2-11.9h0M27.6-25.7h0M17.3-17.0h0M11.4-9.7h0M26.2-25.1h0M29.2-28.7h0M23.9-22.0h0M26.6-27.3h0M18.4-17.5h0M24.2-23.9h0M22.6-22.8h0M33.2-31.4h0M27.4-25.1h0M19.8-17.8h0M12.7-11.8h0M32.6-31.4h0M23.8-20.0h0M16.9-18.3h0M17.5-16.7h0M22.4-20.9h0M16.3-16.6h0M25.7-23.8h0M19.6-20.9h0M23.2-24.1h0M20.4-21.0h0M30.5-27.1h0M24.1-23.6h0M23.4-21.5h0M25.8-25.3h0M21.8-19.8h0M30.1-29.8h0M17.8-17.7h0M27.2-28.3h0M30.2-28.1h0M23.0-19.2h0M23.5-21.0h0M24.8-25.0h0M24.6-24.5h0M22.7-18.1h0M20.6-19.5h0M21.8-20.2h0M17.1-17.2h0M26.8-26.3h0M26.9-26.9h0M16.7-15.5h0M17.9-19.1h0M20.3-19.5h0M28.3-28.3h0M15.3-17.5h0M24.2-20.9h0M28.4-27.7h0M25.2-25.7h0M21.5-21.2h0M22.2-22.6h0M21.8-22.2h0M29.0-25.6h0M19.2-19.4h0M20.8-22.9h0M23.5-22.0h0M26.7-27.5h0M23.0-24.4h0M20.1-19.1h0M38.7-37.0h0M20.8-19.4h0M24.8-25.0h0M29.2-27.2h0M22.4-22.4h0M25.2-23.0h0M20.0-18.9h0M14.1-16.3h0M19.5-22.3h0M24.5-23.3h0M22.2-20.6h0M22.0-28.0h0M22.1-22.8h0M23.7-22.6h0M28.5-28.0h0M21.0-20.8h0M27.9-27.6h0M29.9-27.9h0M29.3-27.1h0M26.0-25.1h0M19.3-21.3h0M26.3-24.5h0M25.8-25.6h0M26.0-24.8h0M29.3-28.4h0M26.5-24.8h0M25.6-21.6h0M21.2-20.9h0M11.6-11.3h0M27.5-25.3h0M42.3-40.9h0M25.0-24.6h0M24.1-24.9h0M23.6-22.6h0M27.6-26.0h0M22.7-22.9h0M22.2-19.2h0M30.4-29.4h0M30.5-30.5h0M25.3-23.8h0M20.4-17.8h0M20.6-20.2h0M27.0-23.9h0M21.2-22.1h0M23.0-22.9h0M23.8-22.3h0M22.0-21.3h0M31.7-35.6h0M33.9-32.5h0M19.4-18.3h0M19.7-18.4h0M24.8-24.0h0M30.5-27.3h0M14.2-13.3h0M19.1-16.5h0M24.4-22.2h0M32.4-30.5h0M31.1-30.2h0M25.8-24.2h0M25.8-23.2h0M20.9-21.2h0M28.6-26.7h0M16.4-14.8h0M22.7-21.8h0M27.6-24.7h0M29.0-29.5h0M21.6-21.0h0M23.2-24.8h0M18.6-18.7h0M20.7-18.5h0M22.1-20.4h0M28.9-28.6h0M28.4-26.2h0M28.9-29.8h0M29.1-27.2h0M11.8-11.1h0M23.3-23.0h0M24.8-23.9h0M24.9-22.5h0M22.0-18.6h0M34.7-32.2h0M22.0-20.3h0M21.3-21.4h0M22.6-21.0h0M23.8-23.4h0M23.5-24.6h0M26.3-26.7h0M17.2-19.4h0M17.1-16.9h0M16.1-16.3h0M33.3-33.0h0M20.2-17.9h0M22.3-20.5h0M19.9-18.4h0M27.6-25.7h0M17.2-13.1h0M34.7-32.3h0M27.4-24.8h0M20.3-19.9h0M14.0-13.4h0M16.9-15.0h0M20.8-21.0h0M24.4-26.6h0M23.5-24.4h0M26.7-26.0h0M19.7-17.9h0M24.7-23.1h0M24.8-26.0h0M27.0-27.9h0M14.3-15.0h0M23.5-22.9h0M24.7-22.5h0M17.6-16.3h0M24.5-27.7h0M30.5-21.4h0M28.9-26.3h0M28.7-25.4h0M24.6-22.9h0M29.3-26.5h0M12.7-12.2h0M18.1-15.9h0M19.1-20.6h0M19.2-18.7h0M27.6-27.8h0M22.1-23.2h0M21.9-21.2h0M20.8-20.9h0M25.1-26.2h0M24.7-23.4h0M22.3-23.0h0M28.0-26.3h0M22.9-21.3h0M26.6-25.3h0M27.3-27.4h0M28.3-25.8h0M18.0-15.9h0M17.9-15.5h0M34.1-33.8h0M26.7-25.7h0M17.4-17.5h0M27.2-25.4h0M21.8-21.1h0M22.1-19.2h0M14.8-18.7h0M27.6-27.5h0M18.0-17.7h0M21.5-19.3h0M25.8-26.0h0M22.3-22.8h0M25.1-24.2h0M19.6-19.0h0M26.3-25.4h0M16.1-13.9h0M21.6-21.9h0M16.8-19.6h0M24.3-24.8h0M12.0-13.2h0M13.6-11.6h0M22.2-19.3h0M41.1-39.5h0M21.7-22.3h0M17.3-17.6h0M25.8-24.3h0M26.7-25.3h0M29.8-29.2h0M20.8-21.7h0M27.6-26.0h0M30.1-28.1h0M15.6-24.9h0M21.4-20.7h0M29.0-27.9h0M22.8-19.4h0M15.7-19.2h0M29.9-27.0h0M22.2-19.3h0M20.1-19.6h0M14.7-14.7h0M21.6-19.7h0M15.6-18.9h0M30.9-29.8h0M27.8-28.8h0M27.8-28.7h0M30.7-30.5h0M25.7-21.9h0M22.6-24.1h0M28.7-24.7h0M36.2-35.4h0M22.4-21.6h0M29.9-27.2h0M25.6-26.0h0M23.9-21.9h0M23.3-23.4h0M18.3-16.3h0M21.6-20.9h0M31.9-31.8h0M28.4-27.6h0M20.4-19.6h0M25.1-18.8h0M23.4-22.0h0M27.8-27.2h0M24.0-22.2h0M19.4-18.8h0M27.4-27.3h0M22.5-21.1h0M19.0-17.2h0M28.1-26.8h0M23.0-23.6h0M27.4-25.3h0M24.9-27.7h0M29.2-27.8h0M13.1-16.1h0M13.0-13.3h0M20.1-20.7h0M27.2-27.7h0M22.6-21.8h0M28.2-28.7h0M28.7-28.0h0M18.6-19.4h0M24.9-23.6h0M21.3-19.7h0M23.8-22.1h0M28.4-26.1h0M27.0-25.8h0M26.9-26.0h0M20.3-20.9h0M17.5-18.4h0M19.8-22.4h0M21.1-19.4h0M28.3-22.8h0M27.7-24.8h0M23.9-20.3h0M29.3-27.1h0M12.9-16.6h0M19.2-17.2h0M22.5-24.1h0M22.6-23.7h0M33.5-31.2h0M26.7-24.6h0M21.0-18.1h0M27.0-26.4h0M33.5-31.9h0M23.3-23.1h0M17.9-16.8h0M21.3-19.9h0M29.9-26.0h0M14.1-15.4h0M24.4-24.9h0M20.1-17.1h0"/><path d="M23.0-23.0h0M9.9-14.3h0M18.0-17.1h0M28.3-25.9h0M22.2-19.2h0M27.6-26.8h0M21.4-21.1h0M24.4-22.1h0M26.3-21.2h0M24.5-25.2h0M22.2-21.0h0M14.8-16.3h0M16.0-17.9h0M27.5-26.8h0M20.7-13.9h0M16.4-14.7h0M21.1-22.7h0M21.4-23.1h0M34.0-31.9h0M10.3-11.7h0M27.5-28.2h0M32.0-29.8h0M33.6-30.8h0M23.1-22.0h0M21.9-20.9h0M19.5-18.5h0M26.7-25.1h0M17.0-17.5h0M20.0-20.6h0M24.1-24.2h0M19.7-16.2h0M21.3-19.2h0M24.1-22.9h0M23.3-25.4h0M21.3-21.4h0M18.2-16.7h0M20.2-21.9h0M20.7-20.4h0M24.9-24.7h0M25.4-25.9h0M22.3-24.0h0M15.5-14.2h0M21.4-19.1h0M29.6-29.0h0M28.8-27.8h0M29.9-29.2h0M22.5-21.1h0M19.4-20.9h0M28.8-26.3h0M24.4-23.6h0M24.6-22.8h0M17.2-14.4h0M17.8-18.3h0M30.3-29.4h0M15.0-16.0h0M23.8-22.3h0M26.8-26.3h0M23.0-23.1h0M32.5-32.2h0M22.3-17.5h0M22.8-22.5h0M28.7-26.9h0M23.5-19.2h0M20.3-19.8h0M23.1-25.3h0M30.8-30.1h0M26.3-23.4h0M19.4-18.8h0M20.2-20.1h0M20.8-22.4h0M26.3-23.7h0M39.4-38.3h0M21.8-20.2h0M15.8-15.4h0M20.9-20.9h0M29.9-30.2h0M34.6-33.2h0M25.8-26.6h0M25.0-25.7h0M23.5-23.5h0M21.0-21.1h0M27.4-25.1h0M27.2-27.0h0M21.8-19.5h0M33.5-32.8h0M23.8-22.6h0M12.7-11.1h0M18.9-19.4h0M25.5-23.5h0M25.8-26.4h0M22.1-23.5h0M21.5-18.6h0M14.7-14.4h0M18.9-17.9h0M18.7-17.1h0M31.1-31.2h0M33.0-33.0h0M20.7-17.9h0M17.7-14.5h0M25.6-23.7h0M19.9-23.3h0M30.4-28.4h0M27.6-26.4h0M28.2-28.0h0M20.8-18.0h0M27.4-25.9h0M18.1-16.2h0M29.8-28.3h0M16.8-16.0h0M30.3-28.9h0M19.0-18.1h0M22.2-22.5h0M22.8-22.7h0M26.1-20.5h0M29.5-25.8h0M26.6-27.1h0M32.7-31.2h0M27.5-26.5h0M24.3-24.6h0M25.9-27.0h0M20.1-18.6h0M17.8-17.0h0M45.7-43.5h0M15.9-15.0h0M24.8-21.5h0M23.3-22.7h0M24.1-21.3h0M17.3-15.4h0M23.6-21.3h0M15.7-16.0h0M23.6-22.7h0M25.6-23.3h0M21.7-19.2h0M18.1-20.8h0M25.1-24.6h0M33.7-32.8h0M22.9-23.4h0M23.4-19.7h0M28.1-27.6h0M28.1-25.1h0M27.9-26.2h0M22.2-21.4h0M24.9-23.1h0M26.4-26.3h0M24.1-22.3h0M23.9-22.2h0M24.2-23.9h0M21.5-20.4h0M19.5-17.6h0M19.1-18.9h0M15.1-13.1h0M21.3-22.2h0M17.2-16.2h0M24.4-22.3h0M27.9-26.7h0M18.7-17.7h0M22.3-21.7h0M25.5-22.8h0M19.9-16.9h0M24.4-21.3h0M27.1-25.4h0M17.4-19.0h0M15.5-17.4h0M31.4-29.5h0M27.1-26.6h0M18.5-16.2h0M22.6-22.0h0M21.6-20.1h0M26.2-24.3h0M23.4-21.3h0M22.0-20.1h0M23.4-23.2h0M22.6-21.6h0M27.3-24.3h0M15.4-17.4h0M15.4-13.9h0M23.9-23.9h0M22.0-21.3h0M25.3-23.8h0M11.5-12.3h0M17.7-17.3h0M13.7-12.7h0M30.3-29.1h0M22.5-24.6h0M29.0-25.3h0M24.7-27.0h0M23.8-24.1h0M25.1-25.1h0M21.0-19.3h0M17.5-12.9h0M18.9-18.3h0M8.1-15.1h0M20.9-22.2h0M16.7-15.4h0M32.8-31.7h0M17.3-16.5h0M26.2-21.5h0M21.1-21.2h0M18.2-17.7h0M21.8-21.4h0M28.6-27.6h0M19.7-19.8h0M22.8-21.8h0M21.2-23.1h0M26.1-26.2h0M20.4-19.7h0M22.7-19.5h0M22.6-20.0h0M18.4-18.5h0M34.3-32.9h0M31.7-29.9h0M20.1-16.2h0M33.4-31.3h0M16.3-16.6h0M24.1-21.4h0M29.0-27.4h0M18.9-16.5h0M16.7-20.5h0M26.0-24.1h0M24.7-23.5h0M21.3-23.1h0M17.5-17.5h0M18.5-18.2h0M19.6-22.3h0M17.8-17.7h0M33.5-31.4h0M20.4-22.3h0M14.7-13.7h0M26.3-27.6h0M34.7-33.7h0M21.3-21.3h0M23.9-22.9h0M26.1-22.9h0M26.4-25.2h0M29.0-25.9h0M20.3-20.3h0M20.7-18.8h0M22.6-22.2h0M21.0-19.3h0M26.7-27.2h0M27.7-23.9h0M21.3-19.5h0M22.8-21.4h0M22.6-19.8h0M22.8-21.2h0M17.8-17.5h0M22.4-20.7h0M22.8-21.3h0M22.2-20.8h0M19.6-17.0h0M19.0-15.8h0M23.1-22.3h0M17.1-17.8h0M26.5-28.1h0M19.9-18.1h0M21.1-21.2h0M26.3-26.6h0M16.7-19.6h0M23.0-23.1h0M20.8-20.8h0M20.3-19.0h0M24.6-24.2h0M33.5-32.5h0M16.8-18.3h0M26.7-26.8h0M26.7-25.8h0M24.2-22.8h0M33.3-33.4h0M26.1-23.1h0M25.5-27.9h0M21.1-20.2h0M14.6-11.6h0M21.5-21.6h0M25.4-24.3h0M38.7-36.8h0M25.9-25.0h0M30.5-18.7h0M23.1-20.0h0M25.2-20.1h0M31.9-29.9h0M13.6-17.0h0M21.2-19.8h0M23.2-20.9h0M23.5-24.1h0M21.6-18.3h0M24.7-22.2h0M33.8-33.4h0M12.0-13.2h0M21.5-21.1h0M29.3-28.4h0M15.2-20.3h0M26.5-21.9h0M12.4-9.0h0M23.0-22.6h0M27.1-27.3h0M23.9-22.8h0M27.9-27.6h0M28.3-26.4h0M27.2-23.5h0M23.4-15.8h0M22.4-22.2h0M17.1-16.2h0M28.5-27.9h0M26.3-27.9h0M15.7-16.3h0M25.9-24.9h0M23.7-25.0h0M24.9-24.8h0M30.2-25.4h0M15.1-19.1h0M25.2-21.8h0M24.2-24.1h0M24.2-24.8h0M23.6-25.5h0M31.6-32.0h0M21.3-18.7h0M27.1-26.8h0M18.0-18.5h0M21.6-20.7h0M18.4-22.0h0M23.2-21.9h0M22.1-22.5h0M26.9-26.5h0M16.2-16.2h0M31.0-29.9h0M34.6-33.4h0M26.2-23.2h0M21.1-19.7h0M28.5-26.1h0M27.7-24.1h0M25.3-25.1h0M22.3-21.7h0M21.2-22.0h0M21.9-20.3h0M25.8-23.2h0M20.3-18.0h0M29.1-23.1h0M12.3-20.1h0M22.8-22.1h0M31.4-30.1h0M17.0-16.9h0M19.3-18.3h0M30.6-28.3h0M28.1-27.0h0M23.6-22.8h0M26.8-24.8h0M27.3-26.4h0M26.7-25.8h0M28.8-27.5h0M25.3-24.9h0M19.5-16.0h0M16.7-16.7h0M26.6-26.3h0M24.2-20.4h0M24.0-22.2h0M31.3-31.5h0M32.1-31.2h0M18.4-18.3h0M25.2-24.7h0M19.1-17.6h0M25.4-24.1h0M27.2-26.0h0M23.0-21.3h0M18.0-17.1h0M26.6-24.7h0M19.9-17.9h0M27.4-26.7h0M21.4-18.4h0M19.6-21.5h0M23.8-22.2h0M30.2-29.2h0M27.4-27.9h0M30.6-30.5h0M18.5-17.0h0M24.0-21.5h0M26.7-27.4h0M33.6-32.9h0M30.3-24.2h0M31.4-27.1h0M8.8-9.8h0M25.6-24.3h0M34.8-33.8h0M23.1-16.0h0M25.4-23.9h0M24.1-24.5h0M33.3-30.3h0M24.8-22.5h0M20.2-19.8h0M24.7-24.6h0M20.5-19.3h0M29.6-27.5h0M20.3-17.8h0M31.9-31.9h0M16.1-17.9h0M23.3-22.3h0M24.6-22.5h0M23.3-21.9h0M20.0-20.0h0M20.0-21.0h0M31.0-30.2h0M24.3-24.8h0M23.6-19.1h0M17.6-19.7h0M32.6-30.6h0M18.9-17.9h0M25.6-23.5h0M18.1-15.7h0M27.0-25.4h0M18.8-18.9h0M30.2-29.0h0M29.5-27.5h0M21.4-18.6h0M26.7-22.1h0M22.3-23.2h0M20.3-20.0h0M13.9-19.1h0M23.2-22.4h0M29.4-28.6h0M22.1-20.1h0M45.4-43.7h0M24.5-23.2h0M23.2-23.8h0M15.1-17.1h0M24.6-20.4h0M26.2-26.6h0M34.3-33.2h0M30.9-30.1h0M23.2-22.5h0M23.0-23.0h0M26.9-27.0h0M15.9-16.2h0M18.1-18.3h0M24.4-23.9h0M24.3-21.1h0M24.1-22.4h0M21.8-19.2h0M23.3-22.1h0M27.0-25.4h0M26.4-25.3h0M28.9-27.9h0M18.2-17.1h0M16.2-18.9h0M20.8-21.5h0M23.6-21.9h0M23.3-23.8h0M25.9-23.9h0M13.0-16.6h0M20.6-23.7h0M33.8-34.2h0M24.6-24.9h0M25.6-25.7h0M26.5-25.8h0M29.7-30.0h0M24.0-24.6h0M22.4-22.0h0M19.7-21.1h0M19.9-21.0h0M32.5-31.5h0M24.2-23.2h0M31.9-29.5h0M29.6-29.3h0M25.2-22.1h0M28.0-24.3h0M18.3-19.5h0M23.2-22.1h0M28.8-28.7h0M27.2-24.5h0M17.5-18.0h0M27.2-24.0h0M16.8-20.2h0M28.0-28.3h0M24.3-22.3h0M26.9-26.8h0M24.0-24.4h0M21.8-18.8h0M14.8-16.1h0M18.3-18.3h0M21.8-19.4h0M25.1-26.1h0M26.9-25.2h0M24.2-26.9h0M15.0-24.0h0M16.7-13.9h0M23.0-24.6h0M23.8-23.3h0M24.7-24.0h0M22.5-20.4h0M21.0-18.4h0M24.0-23.4h0M24.6-24.7h0M26.7-26.3h0M28.8-27.8h0M31.9-30.5h0M21.9-22.0h0M27.3-26.4h0M15.4-14.5h0M19.7-17.8h0M23.0-21.2h0M15.7-15.6h0M21.4-17.9h0M17.6-17.8h0M20.6-19.9h0M30.8-26.9h0M24.6-21.4h0M22.3-19.9h0M32.3-31.2h0M20.9-21.2h0M25.3-22.6h0M22.8-21.1h0M34.1-33.4h0M19.1-17.8h0M26.7-25.9h0M28.6-27.5h0M23.7-21.8h0M25.2-20.9h0M28.5-25.8h0M32.9-32.9h0M17.3-15.9h0M32.6-31.7h0M18.0-18.0h0M35.5-33.8h0M34.0-32.3h0M20.6-21.4h0M18.2-17.3h0M26.8-28.6h0M33.8-32.1h0M20.3-22.0h0M33.2-32.2h0M11.0-8.4h0M24.1-24.3h0M25.1-27.0h0M14.8-16.8h0M19.5-17.8h0M18.9-15.2h0M28.5-28.6h0M11.7-9.1h0M17.3-17.4h0M31.7-31.0h0M15.8-15.4h0M46.5-44.9h0M17.4-18.3h0M26.0-25.3h0M18.6-20.3h0M17.4-16.8h0M30.9-30.1h0M26.1-27.1h0M23.7-23.2h0M15.3-14.4h0M21.0-19.9h0M25.5-24.9h0M26.5-24.4h0M33.8-32.7h0M26.2-26.2h0M25.1-25.3h0M18.9-18.2h0M16.6-18.0h0M30.9-27.8h0M23.8-22.1h0M27.5-26.4h0M21.6-21.2h0M24.1-23.4h0M17.8-19.4h0M31.0-28.0h0M42.9-39.2h0M34.8-35.6h0M18.4-18.3h0M22.4-22.1h0M30.3-28.0h0M21.0-19.5h0M29.2-28.5h0M16.1-13.8h0M22.5-22.1h0M16.2-15.1h0M27.4-25.7h0M25.4-23.9h0M38.1-37.0h0M27.3-25.2h0M23.8-24.5h0M26.7-18.9h0M24.8-24.3h0M20.3-17.5h0M25.0-21.6h0M35.1-32.8h0M25.8-22.7h0M22.5-22.9h0M20.6-21.2h0M34.0-33.7h0M27.9-26.6h0M20.8-21.5h0M28.5-25.4h0M30.9-27.8h0M20.8-18.3h0M27.7-27.8h0M12.4-12.1h0M20.8-20.7h0M23.1-20.8h0M18.1-17.7h0M30.1-26.1h0M22.7-21.3h0M34.5-33.3h0"/><path d="M20.4-18.5h0M31.1-30.7h0M17.0-16.8h0M23.0-26.0h0M27.6-25.4h0M21.2-19.5h0M20.0-18.7h0M23.1-21.6h0M25.1-25.2h0M18.4-17.8h0M24.5-25.4h0M27.8-28.3h0M15.3-15.8h0M21.2-19.7h0M29.6-28.3h0M31.4-29.3h0M24.7-24.3h0M16.0-14.9h0M12.8-15.3h0M24.4-21.8h0M19.6-19.6h0M23.6-23.0h0M27.9-27.4h0M22.8-21.9h0M32.7-32.6h0M16.0-15.5h0M24.9-23.8h0M32.7-31.7h0M27.4-25.8h0M19.7-19.8h0M22.5-20.5h0M28.5-26.0h0M23.4-23.3h0M24.6-23.6h0M19.4-18.9h0M23.3-23.0h0M33.2-31.5h0M23.5-22.7h0M33.9-32.7h0M23.2-21.5h0M27.7-28.0h0M22.6-23.5h0M28.4-25.7h0M25.7-23.9h0M24.8-24.7h0M26.1-26.1h0M27.3-24.3h0M28.1-28.4h0M20.5-17.2h0M19.9-20.8h0M24.2-23.4h0M27.9-25.2h0M25.5-24.4h0M20.2-20.1h0M17.1-22.7h0M18.5-20.0h0M19.8-18.3h0M13.8-12.8h0M15.7-23.1h0M24.2-23.4h0M18.6-20.5h0M28.3-29.1h0M25.3-24.3h0M22.1-21.8h0M27.5-26.4h0M28.2-26.7h0M21.8-20.3h0M27.9-26.4h0M21.2-18.0h0M23.9-21.6h0M19.6-21.3h0M27.0-25.9h0M16.9-17.2h0M22.5-19.4h0M18.5-16.1h0M24.6-21.7h0M18.2-16.8h0M29.6-28.2h0M22.9-21.8h0M27.2-27.5h0M29.9-29.2h0M38.0-35.1h0M23.5-23.7h0M26.8-26.3h0M17.2-17.8h0M34.3-33.6h0M26.5-27.5h0M26.5-24.1h0M22.7-21.9h0M16.4-14.5h0M23.2-22.2h0M30.7-31.0h0M35.1-33.2h0M19.7-20.7h0M19.5-17.3h0M22.5-21.4h0M24.7-22.4h0M23.4-20.1h0M30.3-29.0h0M27.5-26.9h0M23.6-24.3h0M25.1-22.6h0M41.5-38.4h0M13.7-18.6h0M27.4-27.2h0M20.9-20.1h0M31.1-28.0h0M30.1-29.3h0M23.6-23.0h0M15.7-16.7h0M25.9-26.2h0M21.6-22.5h0M24.0-24.0h0M24.1-23.8h0M27.9-28.0h0M47.7-45.2h0M28.6-28.5h0M32.6-30.8h0M34.6-34.0h0M21.5-21.4h0M27.8-26.7h0M24.7-23.4h0M27.0-27.2h0M17.6-17.2h0M21.8-20.8h0M30.1-29.5h0M30.2-24.9h0M25.2-23.2h0M29.1-27.1h0M29.3-28.6h0M23.7-24.0h0M21.5-21.5h0M15.1-13.2h0M24.5-20.2h0M26.4-25.7h0M26.9-24.0h0M23.7-23.6h0M23.1-23.1h0M26.8-26.3h0M23.6-22.8h0M30.4-28.8h0M21.5-19.9h0M19.3-15.6h0M37.4-35.4h0M12.6-16.5h0M26.7-25.2h0M22.8-24.1h0M24.3-24.5h0M21.1-20.5h0M32.2-30.9h0M16.5-16.7h0M21.2-19.4h0M25.7-24.9h0M30.3-27.3h0M23.9-21.8h0M12.9-13.6h0M21.7-22.6h0M31.2-29.8h0M26.4-26.4h0M14.9-15.9h0M19.1-18.1h0M36.4-33.5h0M31.4-31.6h0M18.8-16.3h0M21.9-21.2h0M28.2-27.6h0M25.8-26.8h0M25.0-25.0h0M27.8-27.1h0M22.7-19.6h0M22.0-24.6h0M30.1-27.9h0M20.4-17.5h0M27.1-25.6h0M28.3-25.5h0M20.7-20.2h0M24.7-25.9h0M27.9-25.8h0M15.0-17.9h0M23.3-23.6h0M17.7-16.2h0M26.2-23.7h0M17.3-19.6h0M22.1-24.9h0M19.6-19.4h0M21.7-23.3h0M24.9-26.3h0M20.7-15.0h0M23.8-23.3h0M14.7-14.4h0M15.3-13.8h0M20.9-22.5h0M37.5-37.0h0M26.5-26.7h0M24.2-22.3h0M23.3-19.3h0M26.0-23.4h0M28.5-26.9h0M21.0-19.6h0M25.2-23.4h0M29.4-28.6h0M19.8-21.5h0M25.8-23.5h0M22.6-21.3h0M20.7-21.8h0M20.6-21.8h0M26.7-23.8h0M25.5-26.0h0M14.0-15.2h0M29.3-27.3h0M22.2-19.9h0M20.7-19.0h0M22.5-21.6h0M4.5-7.3h0M20.8-19.6h0M21.2-19.1h0M9.5-6.8h0M23.8-20.8h0M17.5-18.6h0M14.3-16.1h0M21.7-18.3h0M28.3-28.4h0M22.1-22.7h0M22.9-19.9h0M29.2-27.0h0M18.5-21.4h0M32.1-29.4h0M22.8-22.8h0M21.2-20.5h0M32.2-32.8h0M28.4-26.2h0M29.5-28.5h0M29.9-28.4h0M24.7-23.4h0M18.2-22.1h0M25.2-24.0h0M27.9-27.1h0M30.5-28.9h0M20.2-20.1h0M22.8-24.1h0M22.4-21.6h0M21.3-21.0h0M17.8-16.8h0M25.8-24.1h0M29.0-28.2h0M20.4-20.6h0M22.0-20.8h0M25.9-24.1h0M22.9-23.4h0M29.0-29.3h0M19.6-19.5h0M25.1-24.3h0M15.6-15.7h0M21.7-22.0h0M24.5-23.6h0M25.8-23.1h0M22.2-22.8h0M17.8-20.6h0M20.2-20.9h0M20.8-20.2h0M17.1-15.6h0M22.1-20.9h0M19.0-20.3h0M25.1-26.3h0M19.2-18.6h0M25.5-25.8h0M26.5-24.6h0M19.5-18.3h0M17.2-18.7h0M22.5-21.2h0M14.5-17.2h0M28.8-27.2h0M24.5-23.4h0M23.1-23.8h0M29.2-28.1h0M21.7-21.8h0M25.6-25.8h0M13.3-16.6h0M48.6-46.0h0M43.1-41.3h0M22.7-20.7h0M25.3-25.2h0M25.0-22.9h0M18.0-19.4h0M27.5-26.2h0M21.7-21.2h0M21.4-20.2h0M13.9-17.6h0M38.5-37.8h0M26.6-26.3h0M27.4-24.4h0M25.9-22.3h0M22.4-23.9h0M29.4-28.2h0M32.9-31.1h0M19.5-19.8h0M14.5-12.8h0M26.9-25.3h0M28.9-27.5h0M32.9-32.4h0M18.3-14.1h0M17.8-15.1h0M22.7-20.7h0M22.7-22.3h0M22.1-20.5h0M25.1-24.6h0M23.4-20.2h0M23.0-21.7h0M28.1-26.6h0M24.7-22.7h0M24.2-24.7h0M16.1-15.3h0M22.6-22.5h0M19.1-17.1h0M17.1-16.9h0M21.2-20.8h0M19.9-19.8h0M28.4-22.0h0M32.5-31.2h0M17.3-14.2h0M34.8-32.4h0M23.4-23.5h0M7.6-10.1h0M23.5-19.4h0M36.5-35.1h0M17.4-17.3h0M20.0-18.8h0M23.5-21.8h0M29.9-27.4h0M11.2-12.6h0M23.0-21.8h0M29.8-29.5h0M20.3-20.3h0M13.1-14.2h0M30.2-30.9h0M29.3-29.9h0M28.1-25.4h0M20.2-18.6h0M31.5-29.1h0M24.5-23.6h0M15.4-13.7h0M16.2-15.9h0M20.8-21.2h0M21.7-20.5h0M10.6-12.2h0M29.6-28.2h0M26.7-26.1h0M29.7-27.7h0M19.9-19.3h0M21.1-21.1h0M28.0-28.8h0M25.4-22.2h0M27.2-24.1h0M29.4-28.6h0M18.0-17.8h0M23.8-23.3h0M23.7-23.1h0M24.7-25.6h0M25.4-26.6h0M26.6-27.4h0M19.3-17.2h0M23.9-23.4h0M25.9-25.4h0M23.4-23.5h0M18.2-16.6h0M19.8-19.4h0M26.9-26.1h0M18.6-19.8h0M29.0-25.8h0M18.8-17.8h0M30.2-28.6h0M18.2-15.6h0M13.2-13.7h0M21.6-22.1h0M23.8-22.5h0M22.4-21.4h0M28.8-28.8h0M24.1-23.4h0M18.5-16.8h0M19.9-19.4h0M33.0-32.7h0M25.8-26.0h0M28.5-26.8h0M20.5-21.0h0M27.7-27.4h0M29.8-27.6h0M25.8-25.0h0M23.8-22.9h0M22.0-24.3h0M21.3-21.9h0M28.9-27.5h0M23.4-21.8h0M24.9-25.1h0M24.7-22.9h0M17.8-21.1h0M26.8-27.3h0M16.8-15.6h0M20.6-20.3h0M24.0-20.5h0M27.8-26.4h0M19.9-20.0h0M24.7-22.3h0M20.2-20.4h0M19.3-19.2h0M22.3-21.9h0M25.1-24.1h0M24.5-23.9h0M25.3-24.8h0M27.1-26.8h0M18.2-17.6h0M30.3-31.5h0M19.0-18.6h0M22.1-21.7h0M26.2-25.2h0M19.5-21.7h0M24.7-22.6h0M25.8-22.6h0M17.7-17.9h0M20.5-19.1h0M29.9-30.5h0M29.5-28.8h0M29.2-29.0h0M22.0-20.1h0M19.6-19.8h0M28.1-29.2h0M26.0-26.0h0M24.1-22.5h0M30.0-28.7h0M21.9-18.2h0M30.9-28.5h0M13.5-17.4h0M23.3-20.1h0M14.5-17.4h0M29.2-29.0h0M30.3-30.0h0M31.0-30.1h0M23.8-22.9h0M32.2-31.3h0M24.4-23.1h0M21.4-22.5h0M40.1-38.8h0M30.4-29.9h0M29.7-29.5h0M16.1-13.6h0M39.1-38.2h0M24.9-26.6h0M25.0-25.1h0M35.0-34.7h0M26.0-25.9h0M23.0-23.2h0M21.3-18.8h0M20.4-18.5h0M29.7-29.3h0M30.2-28.0h0M23.2-23.0h0M26.4-26.5h0M30.8-30.6h0M22.6-21.9h0M13.6-10.4h0M23.3-22.8h0M16.7-17.0h0M24.6-25.8h0M22.3-20.9h0M29.7-30.7h0M13.9-14.0h0M23.6-23.0h0M23.6-23.0h0M29.0-29.7h0M29.0-26.6h0M20.6-20.6h0M32.1-30.9h0M29.3-26.9h0M16.1-16.8h0M18.1-18.4h0M21.0-19.9h0M28.9-27.5h0M27.9-26.2h0M26.0-24.4h0M29.5-28.8h0M24.2-24.3h0M20.9-21.9h0M19.1-18.6h0M27.7-24.7h0M28.0-28.1h0M18.4-19.0h0M26.3-23.3h0M26.2-25.9h0M18.4-16.0h0M29.2-27.5h0M31.5-31.2h0M18.6-17.9h0M24.6-21.9h0M30.2-29.2h0M19.9-19.2h0M31.7-30.2h0M27.6-27.7h0M22.2-21.7h0M30.3-29.2h0M19.8-17.6h0M27.1-25.6h0M24.0-24.0h0M26.9-27.7h0M19.5-21.2h0M24.8-23.6h0M22.9-17.3h0M33.7-32.6h0M23.6-22.2h0M30.5-30.9h0M32.1-30.0h0M23.9-21.5h0M35.5-34.1h0M29.9-27.1h0M16.4-16.9h0M19.4-19.9h0M22.6-23.9h0M23.1-22.8h0M21.8-23.3h0M30.0-29.1h0M23.5-24.3h0M22.9-26.2h0M15.7-16.3h0M13.8-16.5h0M25.8-24.9h0M27.2-25.9h0M26.0-26.2h0M23.7-20.8h0M26.4-26.2h0M19.5-18.6h0M31.4-30.0h0M26.5-26.9h0M25.4-25.0h0M27.2-26.4h0M25.4-26.0h0M25.2-24.8h0M19.2-17.5h0M24.5-22.9h0M22.3-20.2h0M21.0-21.6h0M20.4-20.7h0M19.2-17.5h0M27.3-29.6h0M23.9-24.2h0M25.2-22.1h0M26.0-24.8h0M29.3-27.6h0M29.0-29.5h0M26.6-26.9h0M11.9-11.8h0M24.5-24.9h0M25.0-23.3h0M15.0-16.0h0M24.5-23.3h0M15.2-15.2h0M26.6-25.5h0M36.9-34.8h0M22.1-19.3h0M18.1-19.4h0M26.1-25.2h0M32.2-31.0h0M7.3-8.4h0M34.9-33.9h0M22.6-21.5h0M21.1-18.8h0M22.5-21.3h0M24.3-22.9h0M27.2-26.8h0M29.3-29.1h0M18.4-19.2h0M14.3-14.8h0M33.8-31.5h0M26.7-25.4h0M25.7-24.3h0M25.8-25.6h0M37.9-35.9h0M18.1-20.7h0M21.3-22.2h0M20.9-21.2h0M31.8-31.5h0M28.1-25.4h0M24.7-24.9h0M18.7-16.5h0M28.9-28.4h0M38.5-37.6h0M21.7-19.4h0M31.4-27.4h0M33.1-32.0h0M25.3-23.3h0M36.8-34.9h0M31.3-30.0h0M22.7-22.5h0M28.2-24.7h0M36.6-35.5h0M27.3-27.4h0M14.7-11.6h0M21.1-20.9h0M23.9-23.7h0M26.8-24.7h0M39.7-38.1h0M25.2-24.7h0M35.7-33.5h0"/></g><g id="dg" fill="none"><path d="M4.1 -4.2 L10.7 -10.5" stroke="#8a90f4" stroke-width="0.9"/><path d="M10.7 -10.5 L39.3 -37.8" stroke="#6d74f2" stroke-width="1.05"/><path d="M39.3 -37.8 L45.9 -44.1" stroke="#959bf5" stroke-width="0.85"/><path d="M45.9 -44.1 L54.3 -52.1" stroke="#c9ccf9" stroke-width="0.6"/></g><g id="sc" stroke="#646cf6" stroke-opacity="0.27" stroke-width="0.7" stroke-linecap="round" fill="none"><path d="M22.4-18.9h0M27.5-27.0h0M26.3-26.1h0M23.9-19.9h0M24.8-22.6h0M27.2-28.0h0M22.0-21.9h0M29.1-23.9h0M21.5-23.4h0M29.7-30.7h0M25.6-22.0h0M27.5-24.9h0M26.6-25.3h0M22.9-22.7h0M22.8-20.2h0M33.2-28.8h0M22.9-21.1h0M31.5-33.2h0M20.3-22.1h0M33.5-28.8h0M21.7-21.0h0M31.6-31.7h0M21.5-21.1h0M19.6-18.1h0M17.2-17.2h0M27.3-27.3h0M30.6-31.2h0M16.5-15.9h0M20.3-17.6h0M22.2-19.2h0M20.2-18.2h0M25.1-26.1h0M31.3-30.1h0M30.6-24.9h0M26.3-23.6h0M24.6-21.8h0M27.5-27.0h0M14.6-20.5h0M26.9-23.3h0M26.1-22.5h0M24.0-20.9h0M17.2-14.6h0M18.9-18.8h0M29.0-26.0h0M21.1-20.6h0M24.1-23.1h0M23.3-22.3h0M15.6-12.1h0M23.2-22.5h0M27.8-27.7h0M21.3-22.1h0M38.8-38.4h0M21.0-18.5h0M23.1-25.3h0M22.0-20.7h0M16.1-17.7h0M33.7-31.4h0M20.3-22.4h0M25.5-22.6h0M30.6-18.4h0M31.1-29.0h0M29.5-27.7h0M16.7-17.0h0M14.0-11.0h0M29.5-31.5h0M35.0-33.0h0M27.1-27.4h0M23.6-23.1h0M22.3-21.9h0M26.2-22.4h0M22.7-20.3h0M24.8-29.3h0M39.1-35.1h0M27.6-19.4h0M26.7-26.2h0M26.0-25.5h0M22.0-21.0h0M33.9-32.9h0M21.2-23.6h0M30.3-26.5h0M32.0-31.2h0M22.7-19.5h0M24.0-22.5h0M13.0-10.3h0M19.0-19.9h0M19.6-18.0h0M24.3-13.9h0M22.9-27.1h0M25.4-24.5h0M30.1-26.0h0M26.4-21.8h0M13.9-14.8h0M32.9-30.3h0M22.5-22.7h0M36.8-31.2h0M30.3-26.0h0M34.5-20.8h0M27.9-34.8h0M19.1-20.9h0M27.4-24.2h0M23.8-24.4h0M27.7-24.8h0M16.9-15.8h0M25.8-25.7h0M31.1-18.6h0M25.5-16.8h0M30.2-24.0h0M25.8-24.7h0M31.3-29.1h0M28.8-27.8h0M23.0-22.2h0M21.3-21.0h0M28.8-26.7h0M22.4-22.5h0M23.4-22.7h0M25.1-26.9h0M30.5-25.9h0M26.4-25.1h0M26.2-27.1h0M24.4-19.6h0M16.2-18.7h0M28.8-29.2h0M30.4-26.0h0M25.8-25.0h0M33.8-25.8h0M32.3-29.0h0M24.9-23.7h0M25.4-22.5h0M21.2-19.0h0M20.2-19.3h0M25.9-23.6h0M23.9-21.5h0M27.4-23.9h0M29.1-27.3h0M20.9-18.4h0M24.1-20.6h0M28.2-24.0h0M24.1-24.4h0M21.6-18.8h0M20.9-18.4h0M25.6-18.9h0M27.4-25.6h0M31.8-29.3h0M26.8-22.9h0M22.2-23.6h0M23.8-25.7h0M13.8-9.0h0M26.5-25.8h0M25.6-21.9h0M35.4-36.1h0M20.5-18.0h0M20.9-21.7h0M20.2-21.1h0M23.1-22.3h0M30.6-29.1h0M26.8-23.8h0M26.2-29.5h0M21.8-22.2h0M29.8-27.9h0M36.9-35.3h0M37.7-28.8h0M34.8-30.3h0M30.7-27.8h0M16.9-17.7h0M29.4-30.6h0M21.7-22.6h0M29.9-28.1h0M24.8-24.5h0M27.8-24.7h0M27.4-25.7h0M28.2-25.5h0M19.4-19.2h0M24.8-22.4h0M31.1-29.7h0M40.7-32.7h0M22.1-20.7h0M22.9-28.9h0M31.8-29.7h0M30.8-24.9h0M29.5-28.4h0M17.1-17.0h0M26.5-24.0h0M33.6-32.0h0M28.9-25.3h0M24.3-22.3h0M25.0-27.8h0M26.1-25.3h0M19.9-20.7h0M23.1-23.5h0M24.8-23.5h0M28.0-24.9h0M32.7-32.5h0M27.4-27.2h0M28.5-22.3h0M22.6-19.4h0M25.4-22.1h0M14.5-14.8h0M24.8-24.8h0M26.9-24.7h0M26.9-23.7h0M31.1-28.3h0M31.5-32.2h0M17.6-15.7h0M34.4-31.5h0M25.6-23.1h0M24.3-32.6h0M42.7-35.5h0M20.1-18.7h0M25.7-19.6h0M29.5-27.4h0M20.5-23.3h0M21.1-25.3h0M13.3-14.8h0M17.4-14.5h0M30.5-26.2h0M34.1-31.7h0M20.1-17.6h0M36.1-35.9h0M28.5-27.7h0M21.1-20.4h0M25.3-21.1h0M14.6-13.8h0M31.4-30.1h0M22.3-21.5h0M18.0-14.7h0M28.3-25.6h0M27.4-27.2h0M26.3-26.1h0M22.6-22.6h0M31.8-29.2h0M26.3-27.1h0M26.5-23.8h0M35.0-33.1h0M29.2-28.1h0M15.6-14.0h0M25.2-18.2h0M29.3-25.7h0M33.9-35.1h0M38.2-36.0h0M23.9-21.9h0M29.0-26.0h0M23.5-21.4h0M31.2-30.5h0M22.0-14.5h0M31.8-29.5h0M28.9-24.3h0M29.3-28.9h0M27.6-26.9h0M20.8-19.0h0M27.5-27.1h0M27.6-27.0h0M24.7-19.3h0M30.8-28.5h0M30.9-27.6h0M24.5-20.8h0M22.8-23.2h0M24.4-22.0h0M26.5-24.5h0M20.1-18.9h0M22.7-18.6h0M20.8-19.5h0M28.4-36.9h0M24.1-26.3h0M13.8-12.2h0M23.5-25.3h0M26.2-22.8h0M19.9-15.7h0M27.3-26.7h0M26.9-21.2h0M21.1-20.4h0M20.6-18.3h0M15.1-14.2h0M23.6-18.0h0M28.9-25.0h0M18.8-18.7h0M28.7-27.8h0M27.3-21.7h0M24.0-23.5h0M29.5-28.2h0M22.1-27.3h0M23.1-22.5h0M33.2-28.4h0M25.9-23.6h0M25.6-22.8h0M20.0-18.2h0M29.0-28.3h0M32.1-29.4h0M31.1-28.9h0M25.5-23.8h0M28.2-24.0h0M17.5-19.3h0M27.4-19.4h0M24.2-27.0h0M13.5-14.8h0M28.3-25.5h0M31.4-31.7h0M18.5-20.3h0M29.0-25.0h0M23.2-21.9h0M21.7-20.5h0M21.4-19.8h0M24.3-23.4h0M28.3-27.8h0M25.9-24.0h0M36.1-33.2h0M28.8-30.2h0M37.0-32.2h0M26.9-25.2h0M30.7-29.4h0M22.3-19.7h0M33.8-26.1h0M19.3-19.4h0M23.5-21.4h0M22.0-18.5h0M15.8-16.4h0M26.4-23.0h0M23.0-22.4h0M25.4-22.8h0M16.1-16.6h0M19.3-18.0h0M22.7-28.6h0M30.6-24.2h0M30.7-30.0h0M23.6-21.4h0M19.7-23.5h0M24.9-22.6h0M20.5-19.8h0M21.7-27.3h0M34.4-24.4h0M26.1-26.4h0M29.4-27.0h0M29.2-28.4h0M32.2-30.8h0M29.6-32.8h0M27.8-25.0h0M29.6-24.8h0M30.9-28.0h0M21.7-20.8h0M23.9-24.1h0M31.6-28.0h0M22.3-18.3h0M21.9-19.6h0M22.8-20.1h0M22.6-20.8h0M26.5-16.8h0M21.4-16.0h0M24.6-22.7h0M18.4-16.1h0M20.6-20.7h0M23.4-18.7h0M36.1-34.1h0M28.0-20.2h0M23.8-24.1h0M25.1-22.9h0M20.9-18.9h0M29.7-29.0h0M16.3-15.3h0M26.6-17.4h0M24.5-23.7h0M34.6-34.4h0M21.4-20.0h0M20.3-19.0h0M25.3-29.2h0M16.8-17.5h0M21.0-21.3h0M18.0-14.6h0M19.8-17.9h0M28.0-25.5h0M27.7-20.1h0M27.1-26.9h0M24.5-21.7h0M27.4-30.2h0M23.5-20.2h0M36.7-37.0h0M27.4-25.6h0M23.8-21.3h0M30.2-27.0h0M23.4-22.9h0M25.9-23.3h0M25.5-21.1h0M25.3-22.6h0M27.6-29.3h0M28.9-26.5h0M24.6-23.1h0M12.8-15.1h0M17.4-16.2h0M14.9-16.1h0M24.3-25.5h0M21.7-22.8h0M28.5-24.3h0M21.3-21.5h0M24.4-23.5h0M13.9-13.1h0M29.2-25.2h0M24.8-22.6h0M17.9-15.0h0M22.7-22.9h0M14.1-17.1h0M25.9-25.4h0M19.3-20.4h0M27.6-25.9h0M23.7-19.6h0M22.1-20.3h0M17.3-14.0h0M31.8-28.4h0M26.2-24.2h0M27.7-25.1h0M22.5-21.4h0M29.8-35.9h0M14.1-11.4h0M27.4-25.5h0M27.2-28.0h0M26.4-23.5h0M30.3-27.9h0M28.8-26.9h0M19.4-16.6h0M12.3-13.9h0M29.5-22.9h0M22.5-20.7h0M24.8-23.0h0M37.5-33.1h0M19.7-18.0h0M31.5-30.7h0M33.4-32.6h0M27.1-26.6h0M26.9-25.0h0M30.7-22.6h0M26.1-22.9h0M16.7-22.3h0M24.8-23.4h0M23.3-22.4h0M34.5-37.7h0M24.7-23.4h0M19.1-13.3h0M25.1-20.7h0M28.3-29.4h0M20.5-18.8h0M22.0-20.5h0M16.1-15.1h0M23.5-22.8h0M27.0-27.3h0M19.1-17.0h0M23.1-22.3h0M24.2-23.2h0M30.3-26.8h0M23.5-14.8h0M30.3-17.7h0M23.5-21.9h0M29.9-30.4h0M23.6-22.2h0M37.0-36.5h0M30.5-30.4h0M28.5-25.4h0M23.5-23.3h0M24.2-22.5h0M28.4-26.6h0M25.2-23.4h0M17.6-18.7h0M32.3-24.8h0M26.7-26.3h0M57.4-52.4h0M29.4-22.1h0M24.3-22.3h0M19.4-19.8h0M21.8-22.0h0M34.1-31.0h0M23.7-23.4h0M31.3-23.5h0M27.8-25.7h0M20.5-20.5h0M26.3-23.8h0M27.4-28.3h0M26.7-21.5h0M23.8-18.4h0M17.1-18.6h0M28.2-26.6h0M12.8-10.0h0M21.6-19.8h0M33.9-31.8h0M33.3-28.1h0M20.5-18.3h0M25.3-25.6h0M22.5-24.1h0M23.8-17.7h0M30.3-29.6h0M27.9-28.6h0M37.6-36.1h0M27.4-28.6h0M19.9-20.3h0M24.3-25.4h0M17.6-14.0h0M25.4-23.3h0M26.1-25.5h0M25.1-25.3h0M20.3-23.0h0M18.7-20.0h0M29.7-28.1h0M28.1-28.4h0M22.8-20.8h0M21.2-19.2h0M20.6-24.4h0M21.2-22.1h0M21.0-21.6h0M33.8-32.8h0M23.3-23.3h0M21.3-27.8h0M43.4-40.4h0M25.6-20.8h0M24.8-23.1h0M25.5-22.3h0M24.4-20.5h0M28.9-20.2h0M30.4-28.9h0M24.9-24.4h0M29.0-27.2h0M26.6-22.7h0M19.8-20.2h0M21.9-23.3h0M30.2-26.8h0M23.9-21.5h0M27.2-22.7h0M16.1-17.3h0M17.0-15.5h0M26.9-29.1h0M25.2-23.6h0M26.9-22.9h0M26.8-28.1h0M24.7-23.6h0M21.6-18.7h0M32.2-29.7h0M27.8-20.5h0M23.8-22.1h0M19.4-17.5h0M16.9-13.6h0M30.7-27.9h0M14.5-11.9h0M21.0-20.1h0M36.1-33.4h0M33.3-28.0h0M18.6-10.8h0M28.5-26.8h0M33.8-25.8h0M21.8-19.3h0M29.8-25.4h0M24.2-22.0h0M21.6-25.8h0M33.5-23.3h0M25.0-24.2h0M25.0-25.6h0M26.1-23.6h0M14.2-13.8h0M28.2-24.8h0M18.6-18.6h0M21.3-21.2h0M24.8-23.1h0M25.1-20.9h0M23.0-25.2h0M33.9-33.2h0M31.2-27.9h0M24.7-24.0h0M21.5-24.6h0M31.6-31.8h0M26.8-28.0h0M33.4-32.5h0M25.6-25.8h0M24.2-21.9h0M23.0-22.2h0M27.3-24.5h0M27.8-26.9h0M25.6-24.6h0M31.8-29.0h0M25.6-24.8h0M20.0-21.7h0M42.4-41.3h0M28.7-28.6h0M27.9-25.7h0M26.5-25.4h0M15.7-14.0h0M23.8-24.5h0M30.9-30.0h0M14.4-14.6h0M23.4-22.5h0M20.6-23.1h0M27.3-25.2h0M36.3-29.0h0M34.0-32.9h0M22.6-20.5h0M26.7-24.0h0M29.7-28.3h0M26.7-27.1h0M23.8-19.3h0M18.9-17.5h0M29.0-27.4h0M22.2-21.7h0M18.2-17.8h0M34.7-27.0h0M23.4-21.1h0M18.0-19.2h0M29.6-29.7h0M32.1-31.2h0"/><path d="M29.0-25.2h0M20.2-18.8h0M21.2-25.1h0M29.0-25.1h0M31.8-27.3h0M29.9-28.4h0M33.5-32.2h0M28.4-24.1h0M23.7-20.7h0M20.9-22.4h0M21.8-21.3h0M12.8-12.1h0M28.0-25.1h0M30.9-27.7h0M18.3-18.6h0M27.9-26.4h0M22.1-22.0h0M22.2-19.9h0M28.0-26.6h0M22.1-18.6h0M34.7-32.0h0M20.3-19.8h0M21.6-21.1h0M21.8-20.0h0M17.9-16.9h0M28.0-24.4h0M17.6-17.0h0M26.9-21.5h0M28.1-26.8h0M30.8-24.0h0M29.5-28.1h0M32.7-34.7h0M28.6-26.2h0M31.6-31.6h0M24.4-24.2h0M24.3-21.2h0M18.0-24.9h0M21.9-19.8h0M22.6-25.0h0M25.0-22.3h0M26.0-24.5h0M28.7-27.5h0M23.2-20.9h0M26.2-24.6h0M28.3-26.1h0M21.6-17.2h0M29.6-26.6h0M37.0-36.0h0M23.5-20.3h0M19.5-24.1h0M21.6-21.3h0M24.4-21.1h0M24.9-24.2h0M22.3-22.0h0M35.0-27.6h0M24.1-23.4h0M24.3-23.7h0M27.0-27.5h0M32.0-29.4h0M29.6-25.6h0M17.6-15.7h0M28.2-23.3h0M31.4-17.7h0M36.1-34.0h0M19.8-18.6h0M36.3-33.3h0M24.6-22.3h0M29.9-29.8h0M18.1-17.5h0M23.7-20.1h0M22.6-17.4h0M30.3-31.5h0M34.5-32.5h0M43.8-42.7h0M31.0-30.8h0M20.5-20.1h0M18.1-18.8h0M23.5-17.9h0M29.6-24.2h0M30.2-25.6h0M30.1-28.0h0M21.3-18.0h0M29.5-25.3h0M27.2-27.8h0M23.4-21.9h0M29.8-27.4h0M24.6-22.4h0M23.5-27.4h0M21.6-21.8h0M30.9-27.9h0M33.1-33.3h0M31.5-31.3h0M34.0-31.8h0M10.9-13.3h0M27.8-24.7h0M23.9-22.8h0M19.0-24.4h0M32.4-27.9h0M28.4-23.0h0M31.3-30.1h0M45.7-42.0h0M28.1-25.5h0M26.7-24.6h0M23.9-21.5h0M23.5-20.4h0M22.6-21.9h0M34.8-32.5h0M25.3-25.1h0M30.1-28.8h0M25.1-25.0h0M25.8-24.5h0M22.1-22.5h0M25.5-24.2h0M31.1-29.2h0M22.3-22.3h0M27.9-23.0h0M19.3-20.8h0M38.2-34.1h0M26.2-27.4h0M28.9-25.1h0M23.9-23.8h0M21.7-18.0h0M22.8-19.9h0M22.4-22.8h0M35.4-32.9h0M28.2-25.3h0M20.6-18.9h0M31.3-28.0h0M28.7-21.8h0M24.0-23.4h0M31.0-29.9h0M18.8-19.4h0M28.8-28.6h0M27.3-24.4h0M30.9-23.9h0M25.7-26.7h0M30.8-27.2h0M22.1-20.0h0M17.3-16.0h0M28.4-27.1h0M24.4-22.9h0M17.3-16.4h0M24.9-31.1h0M22.6-19.0h0M19.4-18.7h0M7.4-18.8h0M20.7-28.5h0M17.9-17.6h0M21.8-20.9h0M38.2-38.4h0M29.4-27.1h0M26.1-25.5h0M21.2-18.2h0M23.9-27.3h0M27.8-24.8h0M29.8-26.6h0M19.3-16.5h0M25.4-23.0h0M35.5-26.8h0M16.0-16.8h0M15.3-16.0h0M30.4-31.0h0M27.8-26.4h0M18.1-22.5h0M29.1-30.0h0M20.6-21.6h0M23.0-23.7h0M6.7-6.3h0M19.9-20.8h0M29.4-29.6h0M24.0-25.0h0M17.8-15.8h0M22.7-22.8h0M42.1-37.3h0M30.1-28.1h0M26.3-23.3h0M27.3-23.9h0M26.3-24.0h0M28.2-29.1h0M26.6-23.1h0M29.3-25.8h0M29.8-27.0h0M25.5-25.2h0M30.0-29.1h0M21.8-21.5h0M32.2-31.1h0M16.1-18.0h0M35.8-34.7h0M22.2-26.1h0M38.3-34.7h0M23.1-24.2h0M25.5-27.5h0M24.1-27.9h0M29.8-26.0h0M29.1-29.3h0M27.7-23.6h0M26.3-26.1h0M28.8-29.2h0M27.4-26.2h0M16.3-17.9h0M28.2-30.5h0M32.9-32.2h0M28.8-29.0h0M39.5-37.7h0M24.9-22.5h0M36.0-29.6h0M23.5-27.1h0M25.7-23.7h0M26.6-25.3h0M22.8-25.0h0M20.3-22.9h0M22.2-20.0h0M24.1-21.1h0M28.4-27.6h0M24.0-21.8h0M20.2-22.0h0M37.2-36.8h0M23.4-20.8h0M27.8-22.6h0M5.7-10.2h0M20.8-23.5h0M17.8-23.3h0M26.9-26.4h0M11.1-11.5h0M30.2-28.9h0M25.5-27.3h0M23.5-19.7h0M25.9-25.0h0M25.7-21.3h0M40.8-34.5h0M23.8-25.2h0M22.3-18.3h0M22.1-19.9h0M24.1-23.6h0M21.8-23.4h0M24.9-22.5h0M22.4-23.9h0M28.1-23.0h0M17.4-19.1h0M27.2-26.0h0M18.0-19.2h0M25.5-21.8h0M21.2-23.0h0M28.3-29.5h0M23.8-21.2h0M25.1-22.5h0M27.8-27.2h0M24.5-23.7h0M27.4-28.7h0M20.7-19.0h0M25.0-24.0h0M23.3-17.7h0M26.7-27.6h0M25.9-25.4h0M20.9-20.0h0M33.6-33.6h0M21.7-21.6h0M26.4-24.8h0M30.8-34.3h0M33.3-27.4h0M31.3-27.1h0M35.8-33.5h0M25.9-24.8h0M23.4-22.8h0M34.1-32.7h0M36.7-30.6h0M24.5-25.2h0M31.5-28.8h0M24.5-21.9h0M31.2-28.6h0M25.0-20.1h0M17.4-19.7h0M21.9-19.0h0M25.0-23.3h0M26.5-24.8h0M39.4-36.0h0M21.2-18.3h0M36.0-27.8h0M29.8-29.2h0M34.6-32.8h0M27.6-25.3h0M29.6-20.0h0M22.1-24.9h0M30.6-25.7h0M34.3-31.4h0M13.7-17.2h0M31.3-30.8h0M26.0-21.2h0M23.6-23.1h0M30.1-29.9h0M20.1-17.0h0M22.7-19.5h0M24.9-23.2h0M22.9-20.1h0M28.8-28.3h0M19.8-15.8h0M31.1-26.4h0M20.5-17.3h0M29.4-22.0h0M25.2-23.1h0M22.0-22.2h0M24.4-21.6h0M32.5-28.6h0M23.0-23.6h0M25.0-22.8h0M17.1-20.0h0M35.4-30.0h0M35.0-25.6h0M18.7-20.9h0M25.0-24.8h0M19.3-20.1h0M20.9-21.0h0M25.7-24.2h0M30.7-27.9h0M29.2-35.9h0M33.3-29.3h0M18.0-24.1h0M23.7-22.5h0M24.6-22.8h0M21.3-28.2h0M28.5-27.6h0M25.8-25.9h0M35.3-31.3h0M22.7-21.2h0M30.3-30.3h0M24.5-21.3h0M38.2-36.3h0M30.0-27.9h0M23.9-21.7h0M23.9-24.8h0M20.1-19.4h0M22.5-21.0h0M24.2-27.6h0M31.2-29.2h0M32.2-27.8h0M22.9-23.8h0M18.9-22.9h0M23.1-14.7h0M29.5-30.4h0M25.0-23.9h0M23.2-22.4h0M25.2-23.0h0M23.3-24.3h0M25.5-24.3h0M22.8-21.7h0M17.9-18.7h0M28.6-32.0h0M20.7-19.8h0M27.5-24.5h0M24.1-29.3h0M23.4-21.2h0M26.7-25.7h0M22.8-22.6h0M24.4-24.0h0M22.1-19.8h0M29.5-24.8h0M20.8-18.5h0M18.7-19.4h0M24.8-22.7h0M30.8-27.3h0M26.1-26.0h0M26.1-26.6h0M17.8-15.7h0M14.3-17.6h0M21.0-22.1h0M23.9-21.7h0M19.7-22.1h0M22.8-23.2h0M34.5-28.8h0M27.5-26.4h0M21.6-20.8h0M23.7-21.4h0M35.8-32.0h0M23.9-22.5h0M33.7-31.8h0M11.4-5.3h0M21.1-18.4h0M32.1-29.6h0M14.1-13.2h0M26.9-26.8h0M30.9-27.6h0M30.6-28.8h0M26.9-24.8h0M26.3-26.7h0M22.9-20.7h0M29.3-24.8h0M27.7-24.7h0M19.7-18.7h0M25.0-27.7h0M25.9-28.5h0M21.3-29.9h0M28.2-26.6h0M23.5-24.2h0M28.0-23.1h0M10.3-9.8h0M16.2-15.8h0M18.0-8.7h0M25.5-22.0h0M28.0-28.3h0M26.0-23.8h0M12.5-12.8h0M28.9-24.5h0M26.7-25.1h0M21.4-25.7h0M20.8-19.6h0M21.4-20.9h0M14.6-13.6h0M28.4-25.1h0M27.0-26.7h0M32.0-33.2h0M30.5-28.5h0M24.9-25.1h0M20.6-18.2h0M26.4-25.7h0M25.0-26.8h0M22.1-27.0h0M29.9-30.3h0M30.7-20.4h0M29.8-27.9h0M15.9-16.0h0M24.9-20.6h0M31.3-31.1h0M29.7-26.6h0M24.0-24.9h0M25.1-23.1h0M26.1-22.3h0M22.6-26.1h0M36.6-40.0h0M27.9-29.0h0M28.3-26.5h0M25.9-19.3h0M31.8-27.3h0M25.5-22.9h0M23.8-21.8h0M31.1-30.4h0M21.4-20.2h0M29.0-26.2h0M17.5-18.0h0M23.1-25.6h0M23.1-20.6h0M22.8-23.2h0M31.5-30.4h0M28.6-26.4h0M22.2-20.7h0M21.6-21.3h0M20.3-21.7h0M21.2-26.7h0M22.0-17.9h0M20.7-20.4h0M22.0-20.7h0M25.3-24.0h0M27.5-27.3h0M31.3-29.8h0M29.6-24.3h0M29.8-29.2h0M25.6-23.1h0M24.8-20.6h0M23.3-23.2h0M18.8-16.0h0M19.1-18.5h0M24.2-28.6h0M24.9-20.1h0M37.0-36.7h0M30.4-29.0h0M20.2-18.5h0M27.5-26.3h0M16.9-15.2h0M24.4-22.2h0M19.5-20.5h0M24.0-22.0h0M31.8-31.3h0M21.7-20.5h0M33.0-29.1h0M26.7-19.2h0M30.4-29.6h0M29.9-25.6h0M24.8-27.6h0M22.5-22.1h0M27.2-21.3h0M18.9-19.4h0M21.9-17.2h0M23.3-14.8h0M22.3-21.2h0M29.5-28.8h0M24.5-21.0h0M29.1-29.5h0M30.3-28.5h0M22.9-23.5h0M22.1-28.8h0M31.5-29.7h0M22.4-20.8h0M38.0-33.5h0M24.6-20.4h0M31.1-27.3h0M9.4-7.9h0M30.6-27.0h0M22.2-20.5h0M27.2-25.8h0M30.6-32.8h0M25.5-24.2h0M29.6-26.7h0M23.1-21.1h0M26.6-26.4h0M18.9-17.4h0M20.7-20.4h0M26.7-27.4h0M29.1-28.8h0M27.5-24.3h0M18.6-20.8h0M16.4-18.2h0M20.6-17.6h0M25.6-23.9h0M12.1-8.9h0M30.7-28.0h0M22.0-22.8h0M24.6-20.9h0M20.8-20.4h0M28.6-27.8h0M35.8-35.6h0M26.3-23.0h0M29.9-28.5h0M28.8-26.7h0M26.9-31.1h0M26.2-26.5h0M32.6-30.4h0M17.0-15.4h0M26.3-22.9h0M40.1-37.7h0M22.3-24.3h0M27.3-27.2h0M16.3-9.0h0M23.9-19.2h0M18.8-12.2h0M22.9-24.5h0M20.6-20.4h0M22.3-15.3h0M20.3-16.7h0M17.5-15.3h0M24.9-23.0h0M19.6-17.3h0M16.4-14.8h0M28.2-23.9h0M33.0-30.7h0M25.1-22.9h0M24.8-23.2h0M26.7-24.8h0M30.8-27.3h0M26.1-22.3h0M24.2-23.1h0M17.6-16.1h0M18.6-19.6h0M29.8-27.9h0M27.9-26.0h0M24.9-25.3h0M33.7-32.6h0M20.7-16.7h0M30.5-31.0h0M27.9-25.2h0M27.5-28.8h0M16.3-17.8h0M16.9-15.4h0M23.4-21.1h0M30.6-27.1h0M19.3-16.3h0M40.3-34.2h0M30.5-26.4h0M22.0-30.5h0M22.9-24.5h0M30.4-24.9h0M23.9-18.3h0M17.2-17.1h0M30.4-28.8h0M31.5-27.0h0M22.1-21.6h0M28.3-24.5h0M28.4-29.9h0M22.4-22.6h0M27.1-31.9h0M15.5-24.2h0M23.6-21.6h0M28.7-26.7h0M34.7-32.7h0M26.4-23.9h0M25.6-25.7h0M24.9-22.7h0M28.0-26.0h0M26.9-23.9h0M21.2-18.4h0M29.4-16.1h0M24.5-24.2h0M38.5-36.8h0M9.2-7.6h0M32.9-31.0h0M31.0-28.6h0M29.8-27.3h0M27.1-26.8h0M32.2-32.0h0M24.4-24.0h0M22.1-21.2h0M23.7-21.2h0"/><path d="M22.3-21.7h0M23.4-20.6h0M29.8-27.0h0M25.3-25.0h0M18.8-21.2h0M30.9-28.3h0M34.0-29.7h0M27.1-27.9h0M26.3-25.1h0M24.5-27.5h0M22.2-21.2h0M17.5-21.8h0M22.4-29.1h0M33.3-31.9h0M30.2-25.9h0M28.5-22.4h0M20.2-19.1h0M18.1-27.2h0M25.3-23.1h0M25.5-17.6h0M23.4-19.3h0M21.3-15.3h0M25.0-20.2h0M27.9-24.5h0M32.7-33.4h0M20.3-20.5h0M25.2-22.4h0M19.0-19.0h0M24.0-24.7h0M30.2-27.3h0M31.4-28.0h0M20.4-16.5h0M32.3-32.2h0M29.6-29.9h0M29.5-27.1h0M30.2-25.9h0M21.5-17.9h0M27.5-22.8h0M19.2-17.8h0M28.6-26.2h0M25.3-22.9h0M31.3-26.1h0M33.9-33.4h0M33.9-30.6h0M17.4-18.8h0M21.9-20.5h0M31.3-27.6h0M16.1-17.8h0M28.5-30.2h0M24.6-23.1h0M28.6-25.8h0M24.8-25.3h0M30.6-29.9h0M29.0-26.1h0M28.3-26.0h0M27.5-27.5h0M28.2-25.8h0M29.5-29.6h0M21.5-21.2h0M21.5-19.1h0M29.3-25.0h0M27.4-24.9h0M28.5-28.9h0M31.5-26.8h0M23.7-24.3h0M27.8-34.0h0M25.6-31.7h0M23.0-23.3h0M15.2-11.6h0M32.4-30.3h0M32.6-32.2h0M14.9-18.0h0M35.3-32.8h0M21.9-22.0h0M23.4-22.6h0M29.2-25.0h0M25.1-24.5h0M31.4-29.3h0M29.2-36.2h0M19.4-19.3h0M22.1-20.8h0M27.4-22.3h0M19.5-20.8h0M28.0-25.0h0M20.4-26.2h0M25.3-23.6h0M25.9-21.4h0M19.0-17.0h0M26.4-24.2h0M28.7-24.1h0M37.1-34.2h0M15.4-15.0h0M29.1-26.3h0M25.9-23.5h0M27.0-25.2h0M30.7-31.5h0M19.4-17.8h0M23.1-21.9h0M8.7-16.7h0M25.7-25.7h0M20.7-18.4h0M28.0-27.1h0M13.9-14.8h0M21.1-19.1h0M25.2-23.6h0M24.7-22.2h0M17.7-14.4h0M22.0-21.0h0M28.0-28.6h0M16.6-21.1h0M22.2-20.1h0M25.9-29.1h0M30.9-24.8h0M18.0-22.5h0M31.0-28.7h0M28.2-29.8h0M31.0-31.4h0M26.1-23.8h0M24.1-22.0h0M25.1-23.4h0M18.4-16.3h0M15.8-15.1h0M21.4-18.6h0M19.8-21.4h0M34.4-33.8h0M23.3-25.5h0M23.4-23.0h0M21.4-22.1h0M9.2-11.3h0M17.9-20.1h0M29.2-23.6h0M24.1-20.6h0M35.6-31.4h0M32.0-32.7h0M24.9-24.1h0M32.4-25.5h0M26.8-30.5h0M21.9-22.6h0M27.0-22.3h0M26.7-21.0h0M18.8-17.3h0M24.7-22.7h0M20.9-19.5h0M22.4-16.2h0M26.0-16.1h0M34.5-32.8h0M21.4-21.8h0M19.6-19.2h0M24.5-22.6h0M26.2-24.0h0M21.4-19.9h0M25.9-21.2h0M31.6-24.5h0M27.8-24.3h0M31.9-18.5h0M22.6-21.8h0M24.7-27.6h0M24.8-23.7h0M25.3-24.6h0M25.5-24.6h0M20.8-18.7h0M34.3-32.3h0M19.9-20.0h0M26.2-25.1h0M31.8-29.3h0M41.6-37.5h0M14.7-17.0h0M27.0-30.4h0M27.8-22.7h0M34.1-28.5h0M31.1-27.5h0M30.0-28.1h0M22.3-11.8h0M20.1-21.8h0M17.8-16.0h0M23.7-19.0h0M27.4-22.7h0M19.6-20.4h0M26.5-26.3h0M23.3-23.7h0M23.6-21.7h0M19.2-19.5h0M32.6-31.3h0M25.6-23.1h0M22.8-19.2h0M31.5-29.1h0M22.4-23.7h0M23.9-20.5h0M19.2-18.0h0M22.2-21.7h0M17.9-20.7h0M30.0-26.8h0M23.6-22.5h0M26.7-25.1h0M33.9-36.6h0M25.6-23.6h0M31.8-29.7h0M18.0-20.2h0M30.0-28.5h0M32.2-30.6h0M32.8-28.9h0M22.8-21.8h0M26.8-22.7h0M33.6-28.2h0M31.4-28.5h0M16.5-11.2h0M31.0-27.1h0M32.7-32.6h0M12.3-10.4h0M30.1-28.7h0M22.3-18.9h0M25.5-27.3h0M21.8-22.4h0M19.7-16.8h0M30.3-24.7h0M23.9-21.2h0M34.5-25.1h0M27.2-27.9h0M28.7-23.3h0M45.3-42.8h0M22.0-19.4h0M22.3-23.3h0M21.6-19.7h0M21.3-18.5h0M23.0-23.8h0M24.0-28.3h0M33.2-29.6h0M29.2-28.3h0M26.5-26.8h0M25.9-19.9h0M26.2-17.3h0M29.9-30.1h0M23.1-20.8h0M29.3-26.6h0M23.7-27.3h0M18.6-25.3h0M18.1-16.2h0M17.6-21.7h0M17.4-13.6h0M22.0-21.9h0M23.0-24.0h0M20.0-26.6h0M32.4-35.4h0M20.9-19.3h0M20.3-22.3h0M20.8-19.2h0M27.2-24.9h0M26.9-24.6h0M22.2-16.5h0M22.9-23.3h0M27.3-36.5h0M24.4-22.6h0M13.9-14.3h0M24.7-23.8h0M26.2-23.7h0M28.5-21.0h0M22.6-20.3h0M13.7-13.5h0M16.8-26.7h0M22.3-14.9h0M28.4-26.7h0M27.3-23.8h0M20.3-17.4h0M34.5-35.2h0M21.9-20.1h0M20.3-16.4h0M17.6-16.4h0M28.5-27.2h0M29.8-29.2h0M20.2-19.7h0M36.0-28.8h0M27.0-25.2h0M23.5-21.9h0M22.5-21.6h0M31.2-29.3h0M31.6-19.7h0M31.7-27.6h0M29.1-26.6h0M27.5-23.8h0M26.1-24.7h0M29.2-25.2h0M28.2-25.1h0M30.9-27.1h0M29.1-21.5h0M27.0-25.0h0M26.4-26.8h0M31.0-28.4h0M20.4-19.3h0M29.2-29.8h0M31.1-26.3h0M19.9-22.9h0M25.1-21.4h0M19.5-18.1h0M27.2-21.7h0M33.9-30.8h0M25.3-25.3h0M24.2-22.0h0M15.1-26.6h0M23.8-21.4h0M26.9-24.7h0M17.8-19.1h0M31.7-32.1h0M27.5-23.8h0M26.2-24.4h0M29.4-26.8h0M29.7-28.4h0M19.0-17.0h0M16.9-15.9h0M21.4-19.9h0M26.7-25.8h0M28.5-28.3h0M20.9-19.4h0M26.6-24.7h0M25.7-19.6h0M33.0-28.2h0M37.6-36.3h0M22.9-20.6h0M26.2-25.2h0M26.6-23.6h0M21.3-18.3h0M23.0-22.5h0M18.0-22.8h0M23.7-25.4h0M24.0-22.2h0M27.9-27.8h0M44.6-42.6h0M34.7-33.2h0M32.1-30.2h0M24.5-21.0h0M21.7-24.3h0M24.7-24.0h0M26.3-23.7h0M27.8-27.0h0M19.6-19.0h0M25.9-20.9h0M24.5-23.9h0M30.4-29.4h0M31.6-29.5h0M28.6-26.2h0M19.0-20.9h0M26.9-25.2h0M28.6-26.5h0M30.1-30.3h0M27.7-21.1h0M25.9-24.0h0M24.5-23.0h0M25.8-22.0h0M17.9-21.5h0M33.5-30.5h0M25.1-28.4h0M23.3-28.0h0M21.0-27.8h0M13.8-13.5h0M25.4-22.0h0M20.8-19.3h0M19.9-17.3h0M22.1-19.5h0M28.9-20.9h0M21.9-19.4h0M22.7-22.0h0M21.5-20.8h0M30.1-30.2h0M28.5-25.9h0M21.2-21.8h0M27.0-25.4h0M30.4-26.8h0M26.5-25.6h0M33.7-30.0h0M26.7-25.1h0M27.4-29.1h0M25.9-21.7h0M25.4-23.1h0M18.6-17.9h0M27.5-26.1h0M22.0-21.1h0M16.4-21.2h0M20.0-25.5h0M32.3-27.9h0M30.2-26.9h0M33.6-30.1h0M30.8-31.1h0M24.8-22.0h0M28.4-22.0h0M23.7-24.0h0M40.3-34.9h0M21.3-20.3h0M32.7-27.8h0M24.5-18.0h0M22.0-19.5h0M30.1-27.0h0M33.8-29.5h0M38.5-34.3h0M20.3-17.4h0M14.2-21.2h0M24.1-26.1h0M38.0-37.5h0M29.8-26.5h0M24.3-23.0h0M28.4-25.9h0M32.1-27.6h0M27.2-27.1h0M27.1-23.7h0M16.4-15.1h0M22.3-18.5h0M27.4-27.3h0M26.8-23.4h0M29.7-28.0h0M30.0-28.7h0M22.8-23.1h0M31.2-30.6h0M30.5-29.0h0M22.4-22.6h0M32.3-28.5h0M20.9-19.9h0M22.9-25.1h0M27.9-25.7h0M27.2-24.9h0M37.5-33.6h0M34.9-32.5h0M26.8-23.5h0M42.2-42.8h0M16.2-16.2h0M19.4-18.6h0M26.0-23.7h0M27.9-25.8h0M29.6-28.4h0M21.6-21.8h0M20.2-25.2h0M33.6-31.0h0M17.7-20.6h0M31.2-27.1h0M21.8-20.3h0M33.6-31.9h0M12.1-9.4h0M33.0-30.7h0M21.3-17.3h0M18.7-17.4h0M24.5-22.6h0M17.4-26.8h0M29.2-24.8h0M25.5-21.5h0M31.8-30.6h0M29.5-27.5h0M30.5-31.2h0M21.8-26.0h0M26.3-20.9h0M15.4-13.5h0M17.7-13.7h0M28.2-26.6h0M28.8-26.3h0M30.2-28.9h0M19.2-18.6h0M29.2-26.8h0M32.1-32.4h0M27.0-26.2h0M26.0-27.9h0M27.0-23.6h0M30.4-27.2h0M22.1-15.6h0M21.5-19.2h0M21.7-22.0h0M24.0-21.6h0M22.3-24.3h0M19.8-19.1h0M17.8-16.0h0M16.5-14.8h0M29.0-18.7h0M15.3-15.8h0M21.0-20.8h0M26.7-26.4h0M24.7-23.5h0M21.2-20.0h0M26.3-25.4h0M30.0-30.5h0M23.8-24.7h0M32.0-32.0h0M21.8-20.9h0M33.5-30.7h0M17.2-18.6h0M19.4-19.1h0M29.3-21.8h0M24.0-22.3h0M20.8-22.5h0M27.1-22.0h0M32.0-30.2h0M15.2-16.6h0M26.5-23.3h0M25.2-25.7h0M23.1-22.2h0M19.8-16.3h0M32.5-24.2h0M25.7-21.4h0M23.6-23.7h0M21.3-21.6h0M20.8-20.5h0M26.0-22.4h0M26.9-24.5h0M23.9-21.3h0M21.7-14.0h0M29.1-26.7h0M25.5-23.7h0M14.9-17.0h0M18.7-19.2h0M32.4-21.2h0M21.4-21.8h0M31.1-35.4h0M25.4-23.5h0M24.9-19.5h0M43.2-46.1h0M24.9-18.3h0M26.7-17.8h0M28.7-26.5h0M25.3-23.5h0M28.9-26.6h0M28.6-27.6h0M27.4-25.0h0M29.3-25.9h0M28.2-34.9h0M27.1-25.8h0M31.1-31.4h0M23.6-21.2h0M30.5-28.2h0M23.2-25.1h0M29.0-29.2h0M26.8-25.4h0M25.9-23.6h0M15.6-15.5h0M28.7-26.1h0M31.5-20.8h0M19.4-25.3h0M26.9-28.1h0M26.9-29.5h0M26.6-25.0h0M15.7-15.7h0M25.3-21.8h0M26.3-25.5h0M20.3-20.7h0M30.4-28.1h0M21.9-20.5h0M30.2-29.5h0M29.4-31.0h0M17.6-14.8h0M20.9-20.1h0M29.9-29.4h0M24.3-20.9h0M15.1-10.1h0M24.8-20.8h0M22.4-19.6h0M18.4-16.6h0M25.8-25.0h0M28.2-28.1h0M27.9-28.4h0M32.1-28.3h0M24.3-23.8h0M20.1-19.7h0M20.6-21.8h0M27.2-26.0h0M23.6-23.1h0M26.2-25.3h0M23.2-21.2h0M23.3-23.3h0M26.5-30.4h0M26.1-26.3h0M18.7-15.4h0M21.3-19.1h0M28.7-25.8h0M26.5-26.4h0M23.3-27.2h0M23.3-20.1h0M24.0-22.2h0M23.1-24.1h0M22.2-22.5h0M19.5-18.8h0M32.8-26.8h0M25.5-21.7h0M33.0-30.8h0M27.0-25.5h0M18.5-18.0h0M17.6-17.0h0M20.0-30.6h0M25.5-26.3h0M32.3-28.7h0M23.8-24.6h0M33.8-30.9h0M32.7-23.9h0M32.4-29.7h0M21.0-18.7h0M30.1-26.2h0M24.7-22.8h0M24.3-23.1h0M36.1-33.2h0M19.7-18.3h0M32.3-30.4h0M28.2-27.4h0M22.3-20.1h0M27.0-26.0h0M24.7-24.9h0M32.1-30.2h0M12.7-9.5h0M31.1-28.5h0"/><path d="M22.9-20.1h0M24.9-24.7h0M25.9-27.2h0M29.2-27.1h0M18.0-16.5h0M28.0-24.9h0M19.3-16.4h0M20.2-21.8h0M24.5-23.8h0M14.9-19.7h0M16.7-19.0h0M17.9-16.6h0M24.4-31.9h0M15.3-18.7h0M32.1-30.5h0M31.4-28.1h0M21.9-18.8h0M28.1-26.2h0M30.3-26.0h0M34.2-33.4h0M17.5-20.4h0M19.7-17.0h0M26.6-24.9h0M22.6-19.4h0M19.8-16.2h0M17.3-17.5h0M23.0-25.2h0M20.7-18.1h0M22.7-20.7h0M27.2-25.4h0M30.4-23.6h0M17.6-17.9h0M15.1-14.6h0M16.4-17.0h0M15.7-14.0h0M33.7-28.6h0M19.9-17.7h0M30.3-29.2h0M25.3-23.4h0M31.8-33.6h0M30.4-28.5h0M25.1-22.5h0M20.4-21.4h0M30.4-26.5h0M17.2-18.5h0M28.4-25.8h0M23.7-26.1h0M29.2-29.8h0M24.2-14.2h0M27.7-21.8h0M28.6-27.7h0M30.9-29.3h0M31.8-22.6h0M20.5-14.3h0M21.7-20.2h0M24.8-24.8h0M17.6-19.5h0M27.3-23.9h0M22.3-20.3h0M30.9-27.1h0M29.5-27.7h0M21.1-19.6h0M24.7-23.9h0M32.7-30.6h0M26.7-24.1h0M16.8-22.1h0M13.8-10.6h0M30.6-23.1h0M30.7-28.8h0M30.7-27.2h0M33.0-31.0h0M26.2-24.1h0M26.6-28.0h0M21.4-22.6h0M33.1-32.6h0M22.4-25.4h0M25.3-23.9h0M23.4-23.8h0M20.2-18.5h0M30.0-23.0h0M33.0-30.5h0M21.1-18.0h0M25.2-29.2h0M20.5-20.4h0M33.3-25.0h0M30.7-28.0h0M24.2-24.0h0M21.4-21.3h0M24.1-24.5h0M19.3-19.6h0M26.0-24.2h0M32.4-29.1h0M24.6-32.1h0M19.0-17.8h0M22.6-24.4h0M29.8-23.0h0M12.3-11.8h0M23.8-22.6h0M22.4-24.7h0M21.2-19.4h0M37.4-30.4h0M16.1-19.8h0M12.5-20.3h0M23.7-20.8h0M29.7-25.8h0M25.0-23.3h0M24.7-21.5h0M19.1-18.2h0M30.2-28.6h0M30.8-27.9h0M21.0-21.4h0M21.3-17.6h0M28.3-25.1h0M20.9-20.6h0M19.9-23.7h0M23.9-22.4h0M42.8-41.6h0M23.3-23.5h0M30.8-28.2h0M31.7-33.0h0M31.5-28.2h0M25.6-19.6h0M19.4-18.5h0M21.4-22.1h0M33.3-28.5h0M34.9-34.2h0M29.3-28.7h0M24.8-24.8h0M20.3-25.8h0M24.8-24.9h0M24.0-19.8h0M21.8-18.5h0M18.6-15.8h0M24.4-16.6h0M23.1-22.1h0M26.9-27.0h0M25.6-24.9h0M33.7-22.3h0M19.2-22.3h0M24.0-19.7h0M32.1-30.2h0M21.9-22.3h0M18.7-18.8h0M24.3-23.1h0M23.3-25.4h0M28.2-26.3h0M23.6-24.7h0M11.8-17.2h0M23.0-27.6h0M24.9-27.4h0M21.9-19.6h0M30.1-27.7h0M24.7-23.0h0M19.2-17.0h0M26.9-25.1h0M27.4-24.5h0M25.8-29.5h0M17.7-20.4h0M30.6-29.7h0M29.4-28.4h0M29.2-30.0h0M28.5-23.9h0M21.2-22.1h0M28.3-25.9h0M20.1-19.3h0M32.7-33.5h0M24.5-19.0h0M21.0-21.1h0M21.3-18.9h0M28.5-27.3h0M28.6-26.4h0M17.3-15.2h0M24.2-19.7h0M27.0-30.5h0M24.9-21.0h0M31.8-29.8h0M28.3-29.3h0M24.7-22.6h0M28.2-32.2h0M28.1-26.1h0M28.4-29.4h0M24.1-20.7h0M24.8-23.1h0M23.1-20.8h0M17.9-15.3h0M27.6-27.2h0M25.1-26.5h0M30.6-31.0h0M23.0-20.6h0M29.6-33.6h0M28.3-32.5h0M24.7-23.8h0M29.0-28.2h0M25.6-23.3h0M22.8-20.6h0M36.6-29.6h0M20.5-13.8h0M20.0-17.3h0M24.9-19.3h0M21.2-22.7h0M28.7-26.9h0M30.1-21.0h0M23.3-22.0h0M22.5-22.9h0M18.7-19.5h0M29.3-26.4h0M27.5-26.8h0M31.2-31.0h0M28.6-28.0h0M19.8-18.8h0M26.1-26.3h0M23.6-19.4h0M27.3-25.0h0M19.7-20.2h0M21.5-21.9h0M21.0-22.5h0M28.1-23.4h0M24.7-24.7h0M29.1-29.1h0M22.9-27.8h0M27.9-27.2h0M20.8-17.3h0M23.2-23.9h0M32.2-31.2h0M29.1-28.7h0M33.7-27.0h0M27.1-25.1h0M21.3-20.8h0M17.7-18.3h0M25.4-24.9h0M20.4-18.3h0M19.4-20.6h0M25.1-24.0h0M29.5-25.1h0M27.6-24.7h0M27.4-25.7h0M22.4-20.9h0M31.9-28.8h0M21.2-22.2h0M24.4-24.5h0M22.0-21.6h0M14.6-14.3h0M25.1-20.9h0M25.6-22.5h0M27.6-26.9h0M22.2-18.9h0M21.4-20.3h0M20.4-20.1h0M38.3-35.9h0M30.9-27.3h0M35.3-32.7h0M27.0-25.1h0M19.1-23.1h0M24.1-21.4h0M23.2-22.0h0M17.3-14.8h0M38.5-34.5h0M24.2-22.9h0M24.9-22.3h0M30.9-20.6h0M30.6-28.0h0M22.6-19.5h0M28.5-27.6h0M25.4-23.9h0M24.1-22.6h0M29.3-35.7h0M22.3-21.0h0M38.0-32.7h0M27.5-31.6h0M29.9-29.5h0M29.4-25.3h0M18.9-18.1h0M27.8-28.0h0M18.1-20.0h0M28.1-25.1h0M26.7-24.8h0M29.8-26.3h0M32.4-31.1h0M20.8-20.8h0M23.3-22.3h0M22.1-20.5h0M23.6-22.6h0M23.1-24.9h0M22.1-21.7h0M27.8-26.3h0M27.7-28.1h0M23.7-21.8h0M33.7-29.9h0M22.6-21.8h0M25.2-23.1h0M19.9-19.1h0M12.7-13.1h0M23.2-20.3h0M16.2-17.5h0M25.2-23.7h0M23.6-22.8h0M36.6-33.2h0M24.4-23.5h0M24.2-23.2h0M34.3-27.7h0M30.2-29.6h0M22.6-20.4h0M28.1-27.2h0M28.3-25.6h0M25.4-20.7h0M15.1-15.5h0M27.4-24.8h0M21.5-23.9h0M23.7-20.4h0M36.2-23.0h0M20.7-21.6h0M22.8-21.8h0M19.7-22.4h0M28.1-27.4h0M26.4-29.3h0M17.9-15.4h0M26.7-25.6h0M26.6-26.1h0M30.8-25.4h0M22.2-18.9h0M30.7-27.8h0M12.5-19.6h0M23.8-22.8h0M16.4-17.3h0M34.1-32.5h0M23.2-28.2h0M27.3-25.5h0M20.0-20.5h0M32.6-30.7h0M29.2-28.2h0M25.6-23.2h0M29.5-27.4h0M14.7-15.7h0M18.1-18.9h0M27.2-27.4h0M23.8-23.3h0M22.3-21.4h0M24.8-20.2h0M21.6-17.4h0M37.0-35.7h0M23.0-22.0h0M30.4-27.4h0M22.0-18.5h0M18.8-15.9h0M27.0-22.6h0M13.8-12.1h0M26.8-25.6h0M22.7-20.4h0M30.1-31.0h0M35.6-28.4h0M24.8-22.6h0M26.3-24.0h0M23.1-24.4h0M27.6-26.2h0M30.6-29.1h0M26.5-24.9h0M31.1-28.6h0M28.9-26.7h0M27.2-22.3h0M18.0-16.7h0M34.1-25.7h0M27.7-26.1h0M31.3-30.2h0M23.5-19.7h0M25.6-19.9h0M30.6-24.3h0M28.4-27.4h0M26.4-24.3h0M27.7-23.1h0M27.1-25.2h0M24.5-23.7h0M30.9-26.6h0M24.7-22.2h0M23.2-26.3h0M22.4-18.7h0M28.2-23.8h0M23.9-23.7h0M22.6-22.4h0M14.2-18.7h0M29.8-26.8h0M16.0-15.1h0M34.1-31.8h0M22.7-21.9h0M20.9-17.7h0M29.7-29.3h0M22.8-24.7h0M31.1-29.0h0M22.9-22.3h0M19.1-16.2h0M23.3-19.2h0M27.4-27.6h0M22.5-21.2h0M19.4-12.2h0M24.4-21.8h0M30.9-25.5h0M16.0-13.2h0M20.3-19.1h0M24.5-21.2h0M26.8-26.1h0M17.6-19.8h0M15.1-15.9h0M29.9-22.9h0M28.6-26.3h0M28.5-35.0h0M14.7-16.3h0M30.4-29.3h0M28.0-27.8h0M31.7-31.0h0M27.7-23.9h0M29.8-28.4h0M29.0-22.9h0M20.3-17.2h0M42.0-41.2h0M27.3-26.0h0M13.6-15.7h0M31.2-30.7h0M25.5-22.8h0M34.3-31.5h0M28.3-24.7h0M22.9-25.1h0M20.4-20.4h0M27.7-25.8h0M18.1-18.0h0M18.8-19.0h0M22.9-22.9h0M28.5-27.3h0M21.5-23.3h0M19.1-21.1h0M12.0-10.0h0M17.6-16.2h0M38.3-30.9h0M27.6-27.0h0M21.9-15.6h0M28.3-27.4h0M23.4-22.5h0M28.6-26.5h0M26.5-25.1h0M23.8-22.1h0M16.1-13.9h0M24.1-24.5h0M18.7-18.1h0M20.0-21.3h0M26.8-26.9h0M33.5-31.4h0M27.2-25.0h0M16.9-16.9h0M21.9-19.8h0M20.9-20.8h0M28.7-25.1h0M12.5-12.4h0M30.7-28.8h0M23.3-18.9h0M34.7-29.9h0M26.7-25.6h0M19.8-19.2h0M31.5-31.1h0M30.5-29.5h0M26.0-26.7h0M26.2-22.4h0M47.4-41.5h0M12.4-11.7h0M28.2-28.1h0M26.4-24.5h0M19.2-16.7h0M25.8-24.7h0M16.8-12.0h0M22.0-12.7h0M23.0-22.1h0M31.1-27.3h0M29.5-28.1h0M26.5-23.7h0M28.8-26.4h0M29.2-26.4h0M26.4-24.7h0M25.9-24.9h0M28.6-26.2h0M22.9-15.1h0M19.8-19.2h0M24.6-21.7h0M25.4-25.1h0M25.7-23.6h0M32.9-35.1h0M26.8-27.8h0M16.3-13.9h0M23.3-21.8h0M24.7-24.4h0M21.0-18.8h0M18.9-17.8h0M29.4-26.6h0M22.9-19.6h0M24.8-22.1h0M30.9-32.5h0M27.1-23.2h0M33.1-29.2h0M19.4-19.2h0M19.0-18.4h0M13.7-10.4h0M10.6-10.2h0M21.2-18.5h0M30.2-29.7h0M22.0-22.7h0M19.5-20.2h0M23.8-20.3h0M26.0-24.0h0M30.6-29.2h0M25.2-21.0h0M27.4-28.9h0M18.2-16.3h0M21.5-18.6h0M32.7-29.9h0M20.9-20.9h0M27.6-22.9h0M23.8-21.7h0M30.9-28.6h0M28.5-27.8h0M25.2-25.2h0M24.0-27.0h0M25.0-21.9h0M28.9-29.0h0M26.1-23.6h0M20.6-16.6h0M20.5-17.0h0M17.8-18.8h0M28.1-26.3h0M15.2-15.0h0M19.9-16.0h0M30.0-24.0h0M19.0-17.9h0M25.3-23.2h0M17.4-19.6h0M31.8-27.9h0M20.6-18.5h0M22.5-20.6h0M22.6-19.4h0M28.3-28.2h0M27.0-22.5h0M20.3-20.4h0M19.3-16.9h0M26.3-24.7h0M22.1-20.4h0M17.4-16.6h0M22.1-27.1h0M24.2-21.8h0M29.2-28.5h0M25.1-21.2h0M30.4-28.8h0M31.5-27.6h0M29.4-28.1h0M25.3-24.1h0M33.5-33.4h0M25.3-27.9h0M24.6-21.2h0M30.0-24.1h0M33.9-31.1h0M26.1-27.6h0M26.4-23.1h0M23.9-20.8h0M23.6-20.1h0M27.6-17.0h0M28.1-28.0h0M24.9-24.9h0M24.2-21.9h0M26.8-28.1h0M16.3-12.6h0M24.8-21.8h0M24.0-20.3h0M18.7-19.8h0M22.8-22.0h0M33.4-31.3h0M24.9-22.2h0M28.0-23.9h0M18.6-16.1h0M35.1-31.2h0M21.0-22.7h0M27.9-26.1h0M25.6-25.3h0M20.7-17.6h0M25.6-22.7h0M21.7-21.6h0M20.3-22.3h0M26.5-22.7h0M28.9-26.8h0M22.3-22.4h0M24.2-22.8h0M24.0-22.3h0M39.1-35.1h0M23.6-22.8h0M28.1-25.0h0M29.9-29.1h0M17.2-16.9h0M22.1-19.1h0M31.9-31.6h0M19.6-17.9h0M23.8-22.3h0M29.9-27.9h0M31.0-28.7h0M23.6-22.5h0M32.1-29.5h0M28.2-27.3h0M18.4-16.5h0"/><path d="M17.1-14.6h0M31.2-28.0h0M52.7-41.7h0M20.9-12.7h0M24.5-22.5h0M17.3-15.5h0M21.2-20.8h0M19.2-18.4h0M27.1-21.9h0M20.7-19.4h0M18.2-16.8h0M34.4-34.5h0M15.0-13.3h0M31.0-27.6h0M20.8-21.8h0M15.6-17.0h0M22.9-20.8h0M34.4-33.8h0M27.4-25.6h0M26.2-25.5h0M21.2-21.4h0M19.1-18.8h0M23.3-24.8h0M23.5-25.9h0M23.7-20.8h0M28.3-24.9h0M33.0-29.1h0M20.9-20.1h0M28.7-30.0h0M31.4-35.0h0M34.7-31.2h0M28.6-30.4h0M29.4-29.3h0M17.9-15.7h0M22.2-17.9h0M23.5-23.3h0M24.5-23.8h0M42.6-37.8h0M23.9-24.2h0M26.2-25.4h0M25.7-21.2h0M31.1-27.2h0M27.0-26.1h0M26.2-22.2h0M26.2-24.2h0M21.5-20.3h0M29.5-23.1h0M15.0-10.3h0M19.2-18.3h0M33.8-31.8h0M26.2-23.5h0M28.0-26.9h0M24.7-23.3h0M21.1-20.7h0M24.9-21.4h0M30.3-27.1h0M25.8-24.7h0M27.9-27.3h0M27.9-24.5h0M34.5-33.2h0M25.5-22.6h0M26.3-27.5h0M21.7-21.8h0M23.5-25.5h0M20.7-19.0h0M16.1-17.3h0M25.1-23.6h0M25.0-23.4h0M20.5-14.3h0M27.2-24.0h0M25.9-24.2h0M23.1-10.1h0M33.1-29.1h0M31.3-23.6h0M20.2-20.5h0M19.0-20.1h0M30.7-27.8h0M34.6-36.3h0M26.5-23.9h0M25.8-22.9h0M35.2-30.2h0M33.7-20.5h0M16.2-19.2h0M25.2-23.5h0M28.4-26.6h0M28.0-25.5h0M25.5-27.7h0M27.3-20.0h0M26.3-27.3h0M16.5-15.4h0M34.4-31.4h0M30.2-29.3h0M31.6-28.6h0M28.4-22.7h0M34.2-31.8h0M17.7-20.2h0M27.8-30.3h0M28.6-25.7h0M25.0-24.7h0M34.3-31.4h0M27.7-27.4h0M16.9-16.6h0M30.0-28.4h0M28.4-26.0h0M20.8-20.4h0M23.6-28.7h0M27.3-21.8h0M24.0-24.3h0M21.8-20.9h0M22.9-19.7h0M19.5-20.5h0M25.0-23.7h0M25.9-25.9h0M22.0-16.2h0M29.0-27.0h0M34.2-30.1h0M18.6-16.1h0M26.6-22.4h0M31.3-29.2h0M18.8-22.0h0M23.6-22.2h0M26.6-27.4h0M14.5-15.7h0M28.6-26.8h0M18.9-17.2h0M26.6-26.8h0M31.6-29.5h0M31.9-26.9h0M24.3-23.3h0M24.2-14.4h0M30.3-29.6h0M9.6-10.1h0M37.5-35.1h0M33.2-29.9h0M31.0-29.4h0M29.9-23.9h0M20.4-17.4h0M29.1-26.4h0M25.9-29.7h0M20.2-14.8h0M27.0-26.9h0M17.9-15.7h0M28.8-24.9h0M24.4-23.9h0M29.4-28.3h0M21.8-19.7h0M26.1-26.7h0M27.2-25.2h0M24.1-27.4h0M33.9-32.9h0M17.4-21.2h0M34.8-31.7h0M26.5-28.1h0M22.8-20.6h0M27.7-27.5h0M27.7-23.7h0M28.3-19.1h0M14.8-14.0h0M27.5-20.5h0M23.0-22.3h0M22.6-22.2h0M24.3-22.0h0M19.0-19.2h0M27.5-27.6h0M28.0-29.6h0M30.7-31.7h0M31.1-29.0h0M28.4-21.6h0M15.1-12.6h0M29.5-23.3h0M28.4-27.1h0M26.7-25.1h0M22.4-22.3h0M22.8-21.9h0M28.4-26.1h0M27.1-24.0h0M22.9-22.2h0M22.3-21.6h0M28.4-31.0h0M22.2-22.1h0M25.3-22.0h0M20.9-17.0h0M15.8-18.2h0M23.4-20.8h0M27.4-24.3h0M27.7-27.7h0M31.6-29.4h0M29.7-34.3h0M25.3-24.2h0M25.9-20.9h0M20.0-27.9h0M27.4-35.9h0M29.8-25.7h0M21.0-22.8h0M22.1-22.8h0M34.8-33.5h0M26.1-27.1h0M22.6-21.7h0M28.3-26.7h0M38.1-35.0h0M23.8-22.4h0M20.7-19.7h0M24.6-26.1h0M28.5-26.3h0M29.5-28.6h0M27.5-23.4h0M22.1-21.3h0M30.6-30.5h0M18.4-14.1h0M27.7-34.0h0M25.9-24.5h0M22.5-23.5h0M25.8-22.7h0M18.5-17.3h0M25.9-23.7h0M29.8-32.8h0M24.9-23.0h0M19.1-25.2h0M10.2-12.0h0M21.9-18.1h0M22.1-18.9h0M28.5-25.2h0M14.5-13.7h0M22.5-21.7h0M32.1-30.4h0M32.3-31.5h0M22.5-19.4h0M16.3-13.3h0M24.2-24.6h0M24.4-23.5h0M23.8-22.4h0M30.2-32.2h0M30.2-28.0h0M16.7-17.3h0M29.4-27.1h0M21.6-21.3h0M27.0-22.4h0M23.4-24.5h0M16.8-18.4h0M17.0-14.4h0M32.1-20.8h0M23.7-22.3h0M31.0-28.4h0M21.6-21.7h0M34.4-27.2h0M22.0-19.3h0M25.1-25.4h0M22.0-16.7h0M18.7-19.1h0M32.7-29.6h0M11.9-13.8h0M22.5-22.6h0M24.3-25.6h0M31.5-29.2h0M28.9-26.4h0M30.1-29.3h0M26.2-27.6h0M31.2-26.5h0M25.8-24.7h0M11.6-6.9h0M21.7-15.7h0M28.2-24.3h0M26.7-23.2h0M31.1-32.4h0M37.2-35.5h0M36.6-34.5h0M22.3-20.3h0M18.5-19.4h0M15.8-14.4h0M31.9-31.3h0M40.5-36.6h0M37.1-34.3h0M29.4-29.7h0M25.0-25.1h0M32.0-27.8h0M33.9-29.8h0M20.3-21.0h0M23.8-21.1h0M25.8-24.3h0M30.1-28.1h0M29.6-29.8h0M30.2-28.3h0M31.1-27.5h0M28.1-25.8h0M32.8-28.1h0M16.9-14.4h0M26.0-23.3h0M29.9-27.9h0M15.8-21.1h0M35.6-32.2h0M25.7-22.8h0M23.6-23.7h0M22.1-21.5h0M21.1-18.9h0M29.4-30.7h0M26.2-24.6h0M14.0-11.7h0M32.6-31.3h0M33.7-25.4h0M31.2-31.4h0M26.8-25.7h0M18.7-15.5h0M22.6-20.4h0M23.8-24.7h0M26.6-22.4h0M30.7-28.7h0M30.1-29.8h0M35.6-33.0h0M26.5-24.9h0M15.9-15.7h0M23.2-23.3h0M29.9-30.4h0M41.1-31.5h0M22.2-15.9h0M36.1-37.6h0M17.9-15.0h0M24.7-23.3h0M24.5-24.1h0M24.9-24.2h0M26.6-26.4h0M24.4-22.9h0M34.1-32.2h0M19.3-19.6h0M24.1-23.0h0M34.0-30.1h0M21.6-25.9h0M26.9-27.4h0M20.9-22.4h0M18.6-17.7h0M23.9-20.9h0M18.0-19.4h0M28.3-25.9h0M22.6-19.3h0M23.3-21.7h0M28.7-26.3h0M26.4-17.5h0M21.2-19.0h0M20.6-20.9h0M33.5-29.0h0M23.2-21.1h0M25.9-26.7h0M20.1-21.5h0M25.1-25.1h0M29.9-28.3h0M26.0-22.6h0M19.7-17.5h0M22.7-20.5h0M24.2-24.6h0M19.9-18.2h0M22.9-23.0h0M16.9-19.6h0M20.8-21.6h0M28.0-29.3h0M18.0-15.2h0M26.5-25.9h0M31.4-28.5h0M16.3-26.3h0M34.2-31.8h0M12.8-11.0h0M30.5-29.3h0M13.8-15.0h0M29.5-29.1h0M22.8-24.3h0M23.6-21.6h0M25.0-18.2h0M26.0-23.2h0M24.1-22.3h0M27.3-24.7h0M28.2-25.8h0M18.5-20.1h0M14.8-15.6h0M22.2-20.2h0M22.8-21.7h0M27.9-31.9h0M19.3-16.2h0M21.7-19.4h0M17.9-11.5h0M29.6-28.5h0M35.7-36.3h0M22.3-22.1h0M15.4-16.0h0M22.3-20.1h0M23.8-27.8h0M23.2-26.4h0M30.6-22.8h0M28.6-30.8h0M14.9-14.9h0M21.6-19.9h0M29.6-24.7h0M37.9-35.1h0M14.3-14.2h0M25.7-26.2h0M34.4-34.0h0M26.7-26.0h0M29.1-18.1h0M24.1-26.2h0M25.9-24.5h0M28.1-26.6h0M29.3-20.3h0M25.1-22.8h0M41.5-38.6h0M17.8-16.7h0M30.2-18.0h0M14.9-12.2h0M30.5-28.9h0M20.9-19.1h0M18.4-16.6h0M29.9-27.7h0M19.7-15.3h0M19.2-17.3h0M19.2-21.1h0M27.6-24.9h0M31.6-31.6h0M21.3-17.4h0M32.1-31.9h0M29.1-26.1h0M16.0-15.3h0M37.0-35.6h0M20.9-20.4h0M24.1-15.1h0M36.4-32.1h0M30.3-30.3h0M25.8-20.9h0M33.5-31.3h0M27.5-26.6h0M23.4-20.7h0M14.9-18.7h0M22.6-30.4h0M31.6-31.0h0M19.8-20.7h0M29.0-25.3h0M34.8-34.0h0M29.9-27.0h0M25.4-21.7h0M25.1-23.4h0M18.6-18.1h0M29.7-27.6h0M34.9-30.2h0M26.9-25.3h0M13.8-16.3h0M26.5-25.9h0M22.5-19.8h0M16.2-13.0h0M29.3-25.3h0M31.9-30.7h0M26.5-25.6h0M18.1-18.7h0M24.8-27.5h0M22.7-20.6h0M35.0-31.8h0M30.6-29.2h0M32.7-33.0h0M12.2-22.1h0M35.3-32.9h0M31.2-28.9h0M26.6-28.9h0M20.5-19.7h0M23.0-24.0h0M22.4-23.7h0M27.1-24.5h0M23.1-19.7h0M23.4-21.2h0M19.3-19.1h0M28.1-29.7h0M26.1-28.0h0M12.4-15.7h0M18.7-18.0h0M16.6-16.7h0M18.0-21.9h0M24.4-22.2h0M28.1-26.7h0M23.7-20.7h0M23.2-27.0h0M25.3-22.5h0M26.2-24.8h0M14.2-14.4h0M28.2-26.4h0M17.7-14.0h0M33.6-32.8h0M27.7-28.1h0M30.1-29.8h0M37.1-35.9h0M21.4-22.2h0M35.1-31.5h0M30.2-32.5h0M22.4-20.8h0M19.1-19.9h0M29.6-30.5h0M24.3-22.6h0M25.0-17.3h0M21.2-18.8h0M24.4-23.0h0M17.2-16.4h0M26.3-22.6h0M23.2-25.5h0M31.2-29.1h0M20.2-22.8h0M30.6-27.9h0M23.7-22.4h0M19.0-18.2h0M22.0-23.3h0M18.8-19.5h0M21.5-18.8h0M31.5-30.9h0M25.6-21.1h0M24.7-25.8h0M29.8-27.5h0M28.4-26.8h0M27.7-25.8h0M16.6-15.3h0M25.6-26.0h0M33.7-33.7h0M25.7-20.6h0M26.9-24.1h0M29.7-27.6h0M25.5-20.5h0M17.7-13.6h0M23.1-21.7h0M18.5-17.6h0M25.4-24.7h0M21.8-20.3h0M20.9-20.8h0M28.3-25.8h0M25.0-24.9h0M24.9-23.2h0M30.8-29.0h0M28.7-27.9h0M40.7-39.3h0M18.0-18.2h0M30.0-27.4h0M25.4-21.8h0M21.3-19.6h0M32.3-24.1h0M20.4-21.3h0M25.0-24.5h0M26.1-23.5h0M25.3-23.7h0M30.7-28.3h0M22.3-22.1h0M22.8-20.5h0M26.0-28.1h0M26.1-22.5h0M24.1-29.4h0M29.2-23.4h0M32.1-29.5h0M32.1-29.6h0M22.7-21.8h0M29.0-25.5h0M21.2-21.1h0M22.4-20.7h0M30.2-29.3h0M34.5-35.5h0M23.9-19.7h0M23.0-21.7h0M19.0-22.1h0M29.7-29.6h0M26.3-24.3h0M31.3-26.8h0M25.9-26.5h0M29.9-28.1h0M27.6-26.8h0M29.7-33.9h0M22.5-17.1h0M22.7-19.2h0M24.2-21.7h0M22.0-22.7h0M26.3-14.7h0M40.2-40.0h0M35.6-32.1h0M19.2-18.1h0M26.0-23.6h0M28.1-27.0h0M18.9-22.2h0M30.8-27.9h0M20.1-17.9h0M26.8-25.0h0M22.7-21.5h0M29.5-28.2h0M20.1-18.4h0M17.5-26.0h0M21.8-22.9h0M19.4-18.1h0M24.9-16.0h0M31.2-26.5h0M19.7-19.4h0M27.5-22.3h0M27.0-26.7h0M25.5-25.0h0M24.9-21.0h0M22.7-23.2h0M34.3-29.1h0M23.5-21.7h0M20.3-24.4h0M26.1-27.9h0M19.4-17.4h0M27.3-25.2h0M30.0-30.0h0M25.3-25.8h0M27.8-25.5h0M23.1-30.5h0"/><path d="M22.6-21.6h0M26.0-23.9h0M29.0-24.5h0M33.1-29.8h0M20.9-16.3h0M18.6-16.5h0M22.9-25.6h0M18.0-17.5h0M25.9-27.1h0M14.9-11.3h0M33.1-26.8h0M29.3-30.3h0M30.2-26.4h0M37.5-36.6h0M20.6-22.4h0M16.4-16.5h0M25.3-25.4h0M24.4-27.1h0M26.8-23.4h0M30.6-29.1h0M25.9-25.2h0M24.9-22.5h0M21.9-18.5h0M31.5-27.6h0M18.5-18.0h0M25.4-20.8h0M31.2-30.1h0M22.2-22.7h0M20.0-18.9h0M23.1-19.2h0M20.4-18.1h0M32.7-31.2h0M24.0-23.9h0M27.2-29.0h0M28.2-28.1h0M13.0-12.0h0M31.2-30.8h0M18.8-19.9h0M21.0-18.0h0M23.3-20.9h0M25.0-26.5h0M27.6-29.6h0M22.9-20.4h0M22.9-26.7h0M32.6-32.4h0M27.6-25.5h0M28.1-21.2h0M31.3-35.1h0M26.8-25.1h0M30.4-30.1h0M13.8-9.9h0M26.9-25.0h0M27.5-24.5h0M33.6-32.0h0M16.0-21.6h0M24.3-18.9h0M20.0-17.1h0M27.3-23.9h0M30.9-27.6h0M24.4-23.2h0M24.7-29.0h0M31.1-26.9h0M26.6-24.3h0M27.2-27.2h0M33.5-25.4h0M25.7-25.7h0M22.8-19.7h0M22.6-21.6h0M6.0-4.4h0M18.8-14.6h0M23.4-24.3h0M32.8-28.9h0M28.5-23.5h0M27.0-24.0h0M39.4-38.1h0M28.2-27.4h0M25.4-28.3h0M23.9-22.1h0M22.6-20.6h0M20.9-23.6h0M29.6-29.1h0M27.1-26.0h0M30.2-29.5h0M37.4-30.7h0M31.0-27.2h0M26.5-21.8h0M17.2-17.3h0M20.5-18.1h0M17.9-17.4h0M20.2-17.6h0M29.7-26.8h0M26.6-20.4h0M21.2-18.9h0M24.5-23.1h0M22.7-18.6h0M30.3-27.4h0M20.3-18.5h0M26.0-26.8h0M22.4-22.6h0M31.3-31.5h0M38.2-36.4h0M25.0-28.0h0M23.9-25.4h0M30.9-24.7h0M33.7-33.1h0M30.6-28.0h0M20.0-19.5h0M20.6-23.8h0M24.0-25.9h0M25.0-29.3h0M22.0-19.5h0M33.4-32.3h0M21.3-20.3h0M17.4-25.8h0M32.0-21.5h0M20.5-20.8h0M28.9-29.6h0M23.7-25.0h0M28.7-22.2h0M22.9-21.2h0M26.6-19.0h0M19.8-21.8h0M30.5-27.2h0M24.1-23.9h0M24.2-22.6h0M29.5-27.0h0M15.0-17.1h0M17.8-15.8h0M22.7-17.7h0M20.4-20.9h0M26.0-22.5h0M25.5-25.7h0M16.2-14.9h0M20.8-22.0h0M29.3-30.8h0M44.8-41.5h0M25.7-23.8h0M28.1-27.2h0M34.0-33.5h0M22.7-18.4h0M29.3-29.3h0M19.5-20.4h0M20.5-22.6h0M27.8-23.9h0M24.8-26.6h0M25.3-21.9h0M27.2-26.4h0M25.7-23.7h0M24.3-22.3h0M24.0-22.2h0M29.1-27.1h0M29.5-26.9h0M31.4-26.5h0M25.1-26.1h0M31.8-30.3h0M30.2-29.4h0M16.9-16.9h0M16.6-22.8h0M23.2-20.2h0M28.7-27.5h0M17.7-17.6h0M20.8-21.2h0M22.0-19.2h0M29.0-26.3h0M20.3-19.0h0M19.1-13.1h0M26.1-23.2h0M27.6-24.8h0M24.2-22.5h0M22.9-21.1h0M28.3-25.8h0M35.2-33.4h0M21.1-20.3h0M19.5-17.5h0M29.5-27.7h0M22.7-29.3h0M23.4-28.1h0M19.1-20.5h0M25.5-25.4h0M23.8-23.1h0M18.2-19.6h0M12.5-19.6h0M24.4-26.0h0M25.0-24.2h0M24.1-24.0h0M26.5-27.0h0M17.4-15.4h0M32.8-29.3h0M31.1-31.4h0M20.1-17.6h0M21.9-21.4h0M25.3-20.2h0M26.7-23.9h0M15.9-14.4h0M26.1-25.2h0M25.2-26.7h0M22.5-22.1h0M29.2-26.1h0M12.4-13.1h0M29.9-27.6h0M29.7-24.8h0M33.9-33.5h0M20.2-13.4h0M29.8-28.8h0M32.2-31.3h0M16.0-17.3h0M22.0-23.3h0M36.2-34.9h0M30.8-30.0h0M15.9-15.8h0M26.7-24.2h0M30.8-29.9h0M27.9-26.1h0M33.6-31.1h0M34.9-27.6h0M23.8-21.6h0M29.3-21.7h0M18.9-16.8h0M27.4-24.7h0M29.5-29.7h0M18.0-17.3h0M21.6-21.8h0M32.3-32.8h0M28.8-27.5h0M28.2-28.0h0M18.3-17.3h0M23.6-18.9h0M25.2-24.3h0M21.9-24.4h0M30.6-22.9h0M31.9-29.0h0M24.9-22.4h0M23.7-20.3h0M27.6-24.5h0M28.0-26.7h0M33.9-26.0h0M28.3-31.8h0M28.5-25.5h0M22.1-21.4h0M28.5-27.2h0M30.8-32.0h0M16.2-14.5h0M20.5-19.1h0M24.9-22.4h0M31.8-28.7h0M25.0-23.2h0M26.1-26.7h0M23.1-21.0h0M17.6-17.8h0M30.5-29.7h0M34.3-35.5h0M29.7-26.6h0M25.0-25.2h0M21.7-22.6h0M16.6-20.8h0M17.2-18.4h0M25.9-23.6h0M28.1-23.5h0M26.3-26.2h0M22.0-20.7h0M24.0-25.0h0M18.2-26.5h0M24.6-24.1h0M24.7-23.7h0M27.2-26.3h0M19.6-23.9h0M17.6-16.0h0M22.8-21.6h0M32.9-29.4h0M16.6-14.0h0M20.8-18.5h0M26.5-26.7h0M30.6-25.9h0M35.9-30.8h0M21.4-18.1h0M29.9-30.5h0M28.1-24.8h0M18.7-18.6h0M17.4-12.2h0M25.8-23.1h0M26.4-21.8h0M20.7-19.1h0M27.8-32.3h0M24.0-24.0h0M27.8-24.9h0M25.8-24.5h0M22.8-24.3h0M27.6-24.8h0M16.5-15.1h0M19.5-19.9h0M19.3-18.4h0M21.2-18.8h0M24.1-22.4h0M19.0-23.3h0M29.7-27.6h0M26.4-23.7h0M27.7-22.6h0M27.7-26.6h0M28.9-25.6h0M26.3-26.9h0M36.7-34.4h0M21.9-26.7h0M25.3-22.8h0M21.4-20.9h0M28.4-27.2h0M23.1-22.6h0M21.9-20.3h0M28.2-26.1h0M24.0-18.6h0M28.5-25.0h0M14.0-14.9h0M23.0-20.0h0M37.8-35.8h0M31.6-29.2h0M25.5-22.0h0M18.8-16.8h0M22.0-20.4h0M20.2-20.8h0M29.6-27.4h0M28.7-25.9h0M24.7-24.9h0M16.1-13.3h0M23.7-24.7h0M15.3-13.0h0M24.8-23.4h0M23.2-23.0h0M24.2-21.3h0M25.8-23.7h0M29.5-27.1h0M16.2-19.2h0M15.2-15.9h0M32.7-30.8h0M24.4-22.0h0M20.9-19.2h0M32.9-29.2h0M18.7-20.9h0M20.3-20.4h0M22.5-20.1h0M28.1-28.7h0M35.2-36.4h0M21.7-20.6h0M40.5-35.7h0M5.5-4.0h0M25.2-21.8h0M24.9-23.7h0M28.1-25.1h0M28.0-20.0h0M30.3-25.6h0M25.5-21.8h0M24.0-22.3h0M18.1-19.2h0M14.2-7.5h0M28.2-25.0h0M19.5-21.3h0M17.0-23.4h0M28.1-26.5h0M22.5-22.4h0M27.6-26.8h0M26.4-23.4h0M25.7-22.8h0M34.8-35.1h0M29.9-26.4h0M42.0-40.7h0M23.7-23.1h0M27.3-24.2h0M25.2-21.9h0M25.8-23.4h0M26.6-26.8h0M24.4-19.7h0M26.1-24.2h0M15.4-13.1h0M28.7-19.0h0M31.7-26.7h0M26.3-23.4h0M13.4-13.2h0M26.3-24.8h0M27.1-24.4h0M25.2-25.9h0M32.9-31.4h0M25.2-23.3h0M17.5-16.5h0M19.8-17.4h0M11.3-9.8h0M14.4-12.3h0M23.4-24.7h0M27.8-25.7h0M22.3-24.0h0M16.6-16.0h0M35.4-32.0h0M23.3-21.3h0M31.0-30.2h0M32.5-29.5h0M25.4-22.8h0M24.6-29.2h0M28.6-27.3h0M21.6-20.1h0M25.9-27.4h0M17.2-14.7h0M28.3-18.9h0M23.4-26.0h0M27.6-26.2h0M29.3-27.6h0M27.6-29.8h0M15.0-13.2h0M27.8-26.1h0M23.3-22.8h0M29.4-24.0h0M25.9-27.3h0M22.8-21.1h0M20.9-15.9h0M27.9-26.5h0M24.9-23.0h0M24.9-22.7h0M8.5-4.9h0M19.8-26.7h0M16.8-15.4h0M28.1-25.8h0M27.7-29.9h0M18.0-13.1h0M17.1-21.1h0M19.5-24.3h0M23.6-20.6h0M30.7-28.4h0M30.4-23.9h0M27.4-24.1h0M24.8-25.1h0M24.6-21.9h0M22.5-23.6h0M23.7-19.2h0M29.9-23.3h0M29.0-25.6h0M28.3-28.5h0M23.3-19.9h0M32.3-30.5h0M23.1-20.9h0M33.5-29.6h0M23.6-19.3h0M16.0-14.5h0M36.6-40.3h0M28.7-27.9h0M35.4-41.3h0M22.4-20.3h0M28.4-25.2h0M31.5-30.3h0M18.3-18.0h0M31.2-28.2h0M23.6-23.7h0M22.2-28.0h0M28.7-28.5h0M21.5-18.3h0M16.7-14.8h0M39.4-37.9h0M26.5-25.2h0M31.0-26.0h0M26.9-24.6h0M19.8-17.2h0M29.6-28.2h0M32.4-31.2h0M23.9-21.4h0M28.0-26.8h0M30.1-26.8h0M29.5-24.3h0M26.3-29.6h0M30.1-28.2h0M21.5-22.1h0M24.0-20.8h0M26.3-25.0h0M19.2-26.1h0M24.2-22.0h0M22.3-22.7h0M24.8-23.5h0M23.6-23.8h0M22.1-27.0h0M31.3-22.2h0M28.9-26.1h0M21.4-22.6h0M24.7-25.7h0M26.1-21.7h0M24.5-22.4h0M18.6-17.2h0M17.0-15.7h0M25.7-22.2h0M21.8-19.4h0M22.9-24.5h0M25.9-23.9h0M23.5-23.8h0M18.7-21.4h0M25.2-22.8h0M22.4-20.4h0M20.6-20.7h0M16.4-16.2h0M38.8-35.2h0M41.8-39.4h0M22.9-21.7h0M21.6-21.1h0M21.9-21.3h0M27.9-23.6h0M22.6-31.4h0M21.7-21.7h0M18.5-20.8h0M26.6-22.2h0M24.8-21.6h0M28.3-25.3h0M19.8-20.1h0M20.9-16.8h0M22.5-27.2h0M17.0-16.2h0M21.7-21.0h0M22.3-32.2h0M23.3-19.0h0M30.1-18.2h0M32.3-29.0h0M29.1-27.0h0M23.0-20.2h0M24.0-25.4h0M21.9-17.7h0M21.4-21.7h0M27.2-26.4h0M34.8-30.4h0M20.0-20.9h0M26.7-22.1h0M31.5-28.8h0M26.7-26.9h0M17.6-17.7h0M31.8-29.5h0M34.1-32.9h0M18.5-17.2h0M33.5-35.1h0M32.3-25.5h0M19.4-18.0h0M27.2-26.0h0M22.4-26.3h0M25.4-22.2h0M23.8-23.4h0M22.3-21.8h0M25.3-26.0h0M17.2-17.0h0M26.4-24.4h0M16.9-17.3h0M17.9-17.7h0M26.5-22.1h0M27.7-21.7h0M27.1-25.5h0M25.8-22.2h0M23.2-22.0h0M28.3-24.4h0M34.2-31.6h0M38.5-35.8h0M19.5-21.6h0M31.0-27.5h0M25.9-28.9h0M17.1-17.3h0M27.4-26.4h0M28.8-27.2h0M19.3-18.5h0M30.3-24.2h0M19.9-18.8h0M27.9-26.7h0M23.8-24.1h0M16.4-18.5h0M32.4-29.7h0M16.8-14.6h0M21.5-19.3h0M28.1-24.9h0M24.9-23.0h0M23.0-20.4h0M25.3-24.8h0M27.2-25.0h0M28.4-27.6h0M29.6-25.1h0M23.1-21.1h0M37.7-37.0h0M16.8-13.2h0M22.6-21.2h0M25.4-21.2h0M25.7-24.9h0M17.6-25.9h0M20.4-20.9h0M24.6-20.5h0M28.2-25.7h0M12.0-17.1h0M20.1-17.1h0M35.6-35.2h0M32.6-32.7h0M30.1-29.3h0M22.3-24.3h0M19.4-20.9h0M23.9-24.2h0M27.9-26.7h0M31.6-27.3h0M24.0-20.0h0M28.3-26.6h0M33.0-32.7h0M26.0-23.0h0M15.3-17.0h0M29.8-28.6h0M34.3-30.2h0M14.5-14.1h0M35.8-29.4h0M22.4-21.1h0"/></g><g id="ss" stroke="#646cf6" stroke-opacity="0.27" stroke-width="0.7" stroke-linecap="round" fill="none"><path d="M21.9-18.6h0M29.5-24.7h0M24.9-23.4h0M15.1-15.0h0M21.3-22.3h0M28.2-26.6h0M24.5-24.2h0M33.1-32.0h0M29.5-29.3h0M27.6-26.0h0M27.3-25.7h0M28.0-27.1h0M23.9-24.6h0M31.3-31.0h0M36.1-33.5h0M23.2-22.5h0M24.7-28.0h0M26.1-25.1h0M25.5-24.3h0M33.5-30.8h0M25.3-24.8h0M29.2-26.9h0M12.8-14.2h0M20.9-22.9h0M19.7-20.4h0M27.3-25.5h0M16.0-16.4h0M29.4-27.5h0M21.4-19.3h0M37.5-36.3h0M25.7-26.4h0M23.4-23.7h0M30.4-28.6h0M22.9-25.3h0M14.5-16.1h0M30.6-26.8h0M23.7-21.7h0M21.4-21.6h0M29.1-26.9h0M23.9-20.4h0M21.7-22.9h0M17.2-21.7h0M22.9-22.1h0M22.4-23.2h0M30.2-28.4h0M18.3-20.3h0M16.3-17.7h0M21.5-19.9h0M25.9-25.0h0M28.8-26.9h0M26.9-25.0h0M19.1-17.5h0M24.1-25.2h0M19.0-14.7h0M24.9-22.1h0M22.7-21.6h0M18.7-17.8h0M26.4-28.2h0M14.0-12.8h0M27.0-27.3h0M24.0-22.0h0M19.9-17.2h0M31.8-29.1h0M31.2-29.7h0M26.6-26.7h0M25.6-24.8h0M16.1-18.2h0M24.2-25.3h0M18.1-16.2h0M30.0-29.7h0M35.5-35.0h0M15.8-17.5h0M20.8-22.9h0M12.3-13.1h0M21.7-23.1h0M22.9-19.5h0M25.1-26.5h0M27.2-25.5h0M18.6-16.8h0M20.9-21.5h0M17.0-15.2h0M24.3-24.5h0M27.0-24.7h0M24.9-22.1h0M20.7-20.8h0M18.0-17.1h0M19.1-19.9h0M20.9-20.9h0M29.3-27.3h0M27.5-25.5h0M20.8-19.1h0M34.2-33.9h0M19.5-17.5h0M21.8-22.3h0M24.2-20.8h0M25.5-24.5h0M22.0-22.5h0M22.4-20.9h0M17.0-16.0h0M23.2-22.8h0M12.8-16.3h0M21.9-22.7h0M31.3-31.5h0M21.6-26.8h0M19.9-21.3h0M17.8-18.4h0M24.5-23.2h0M32.4-30.4h0M16.8-16.6h0M21.8-17.8h0M11.6-21.8h0M20.7-22.3h0M26.7-28.5h0M27.2-28.7h0M20.2-18.7h0M20.7-21.9h0M24.3-25.5h0M25.4-21.0h0M18.2-25.4h0M31.0-30.0h0M21.9-18.7h0M21.4-22.0h0M26.7-24.1h0M13.8-17.5h0M19.8-21.7h0M20.5-18.3h0M22.7-21.5h0M23.6-19.8h0M22.8-23.3h0M27.7-28.5h0M22.7-21.1h0M13.7-13.6h0M28.1-28.1h0M23.8-23.1h0M23.4-20.6h0M27.7-26.6h0M28.8-25.8h0M28.2-27.4h0M15.6-16.0h0M31.5-29.9h0M18.5-18.8h0M19.1-18.7h0M26.8-24.8h0M23.4-20.4h0M22.8-23.7h0M26.6-27.0h0M29.3-27.8h0M26.5-24.4h0M23.8-23.9h0M15.5-11.7h0M21.1-19.6h0M22.7-19.0h0M19.8-18.7h0M27.0-26.1h0M16.2-17.8h0M20.4-18.4h0M23.8-22.8h0M23.9-23.8h0M28.5-29.5h0M33.0-32.6h0M26.1-23.1h0M17.4-16.5h0M22.8-18.8h0M28.5-28.0h0M29.9-26.7h0M23.4-22.7h0M28.5-25.6h0M29.5-27.8h0M23.2-21.1h0M21.1-19.4h0M18.8-20.8h0M32.7-29.2h0M21.0-22.7h0M21.0-18.9h0M18.6-17.5h0M26.5-25.5h0M28.2-28.4h0M30.9-31.4h0M27.8-29.1h0M20.3-20.4h0M32.9-31.4h0M27.2-26.6h0M28.2-26.2h0M26.2-24.7h0M14.2-19.4h0M38.7-36.4h0M22.3-21.2h0M29.1-28.4h0M20.7-14.7h0M30.5-30.4h0M28.9-28.5h0M22.4-22.0h0M31.5-28.8h0M24.2-22.1h0M10.3-16.8h0M20.5-21.0h0M19.9-17.1h0M29.1-27.4h0M16.3-15.1h0M21.6-22.1h0M21.0-21.2h0M22.9-23.1h0M28.1-28.6h0M22.3-21.4h0M26.5-22.8h0M30.5-26.8h0M23.7-23.3h0M25.4-24.0h0M26.3-24.0h0M27.6-21.2h0M17.6-17.0h0M25.1-25.4h0M22.6-20.4h0M26.2-26.9h0M23.3-22.3h0M18.4-17.1h0M26.8-25.8h0M27.1-26.1h0M28.0-26.5h0M28.0-28.0h0M21.4-19.7h0M19.0-15.1h0M23.9-22.3h0M31.4-30.8h0M21.4-20.4h0M23.8-19.2h0M29.6-29.5h0M28.9-29.7h0M23.8-24.8h0M26.5-26.5h0M23.1-22.7h0M22.8-20.5h0M22.8-23.6h0M17.9-14.3h0M46.0-44.5h0M20.9-22.4h0M22.7-23.3h0M19.1-16.2h0M27.4-26.9h0M24.0-25.4h0M22.4-21.2h0M22.5-20.3h0M29.4-28.5h0M31.2-28.8h0M14.7-13.3h0M24.0-21.5h0M24.4-23.3h0M27.8-27.4h0M18.0-17.8h0M21.8-21.6h0M27.5-24.5h0M33.2-32.7h0M30.1-28.9h0M20.1-22.1h0M30.6-29.4h0M23.3-22.1h0M18.1-16.5h0M23.3-24.1h0M9.1-15.0h0M21.3-21.4h0M24.2-23.4h0M27.8-26.0h0M44.4-43.0h0M25.7-23.8h0M30.4-28.3h0M27.9-25.1h0M21.4-22.1h0M34.9-34.2h0M20.9-19.7h0M26.7-19.5h0M30.8-30.4h0M15.5-12.9h0M24.8-23.4h0M15.0-16.2h0M29.3-30.2h0M25.7-22.0h0M26.4-24.0h0M23.8-21.9h0M18.5-15.7h0M13.1-11.6h0M23.4-24.0h0M27.2-27.3h0M17.4-19.0h0M21.7-23.0h0M11.6-13.3h0M20.9-14.9h0M31.3-29.6h0M23.7-23.8h0M28.9-26.4h0M23.6-23.2h0M29.5-29.4h0M22.3-23.8h0M21.8-21.3h0M25.4-25.8h0M35.2-33.2h0M25.9-24.2h0M20.6-20.4h0M33.8-31.1h0M35.7-35.0h0M16.2-19.6h0M21.0-19.6h0M22.2-21.1h0M23.1-21.1h0M19.5-25.4h0M24.8-25.3h0M20.0-21.4h0M18.7-19.9h0M26.2-23.6h0M33.7-31.4h0M19.3-19.4h0M18.7-11.3h0M23.5-23.8h0M31.3-30.5h0M34.6-34.1h0M28.6-26.5h0M25.2-23.1h0M34.1-31.7h0M24.5-23.1h0M21.7-20.7h0M31.3-28.8h0M16.6-18.9h0M7.8-10.8h0M25.3-22.7h0M31.0-29.8h0M37.3-35.1h0M28.1-13.8h0M30.1-27.2h0M21.7-17.7h0M19.0-19.7h0M24.2-26.0h0M33.7-30.9h0M22.1-21.6h0M27.1-23.7h0M16.7-15.1h0M26.5-26.8h0M27.0-26.8h0M31.8-31.5h0M27.5-26.4h0M29.9-25.5h0M13.1-11.1h0M17.3-16.4h0M25.7-23.7h0M30.7-29.9h0M19.3-18.3h0M27.8-25.9h0M19.5-17.7h0M30.6-30.3h0M20.7-22.4h0M26.9-25.1h0M24.2-23.5h0M12.9-17.9h0M21.2-22.4h0M14.9-17.1h0M16.7-16.7h0M35.2-33.4h0M28.1-27.5h0M22.7-21.5h0M20.2-22.9h0M21.8-19.8h0M30.5-30.3h0M30.6-31.0h0M19.7-22.1h0M31.6-31.1h0M25.7-23.6h0M17.9-14.4h0M31.3-29.6h0M24.0-24.3h0M32.2-29.3h0M13.9-8.3h0M28.0-28.8h0M25.1-23.5h0M23.9-15.9h0M26.9-25.1h0M16.1-13.5h0M16.7-16.1h0M24.6-23.5h0M27.3-30.5h0M20.6-20.6h0M28.5-26.9h0M29.0-25.9h0M28.3-25.1h0M35.9-33.7h0M32.7-32.6h0M25.6-21.9h0M18.3-15.9h0M27.9-27.5h0M24.4-22.5h0M26.1-25.7h0M26.6-24.4h0M23.1-21.4h0M35.3-33.0h0M27.5-24.6h0M21.9-21.3h0M28.8-28.9h0M24.4-25.1h0M17.1-16.4h0M24.8-27.4h0M26.3-26.5h0M23.4-24.3h0M40.0-38.7h0M22.8-22.3h0M26.7-26.5h0M28.2-23.5h0M24.8-26.5h0M35.7-30.4h0M22.2-24.5h0M22.4-18.0h0M28.3-23.4h0M27.7-26.2h0M2.9-5.8h0M23.0-24.9h0M27.4-25.4h0M14.9-12.2h0M25.2-22.6h0M22.2-25.6h0M23.9-21.3h0M20.9-15.9h0M29.7-28.4h0M18.9-20.4h0M31.6-30.0h0M31.1-28.9h0M23.1-23.3h0M26.8-25.3h0M22.0-21.2h0M31.7-28.8h0M23.8-22.9h0M14.2-12.1h0M24.8-24.8h0M34.7-33.1h0M26.9-24.5h0M17.3-14.1h0M36.6-35.9h0M20.0-18.9h0M25.2-24.5h0M17.8-14.8h0M33.0-32.7h0M17.9-17.5h0M21.6-20.0h0M30.9-29.3h0M29.6-27.9h0M28.3-24.3h0M23.0-24.0h0M30.5-27.6h0M22.4-17.7h0M20.7-20.3h0M19.6-22.2h0M11.2-9.1h0M30.6-30.1h0M25.1-22.4h0M28.8-30.5h0M19.9-19.2h0M23.2-24.5h0M28.2-26.5h0M16.4-21.3h0M20.7-20.1h0M29.9-28.4h0M21.9-19.8h0M12.9-15.4h0M20.9-15.9h0M22.2-22.6h0M27.3-24.5h0M28.8-22.8h0M18.3-17.4h0M13.2-11.0h0M19.6-17.5h0M12.8-16.3h0M17.8-16.5h0M14.0-15.8h0M26.6-26.4h0M15.0-18.8h0M24.2-22.2h0M21.6-22.0h0M22.4-20.8h0M19.2-17.8h0M16.3-22.5h0M18.5-16.3h0M24.0-21.4h0M36.5-34.6h0M31.8-30.6h0M30.0-29.3h0M17.5-21.0h0M27.4-27.7h0M24.7-19.9h0M26.4-24.2h0M17.6-17.3h0M27.1-25.5h0M26.9-26.0h0M18.0-16.2h0M22.8-22.6h0M24.6-22.6h0M32.4-30.1h0M23.7-20.9h0M23.1-18.4h0M32.2-29.4h0M30.7-30.3h0M19.8-20.2h0M20.6-18.1h0M19.7-21.3h0M24.9-24.7h0M17.7-22.3h0M20.2-22.5h0M35.8-33.1h0M27.9-25.1h0M24.1-26.3h0M27.2-27.9h0M20.3-16.4h0M25.1-23.2h0M17.5-19.5h0M19.4-21.9h0M21.9-23.1h0M31.7-31.1h0M28.6-26.0h0M17.5-27.8h0M19.4-15.4h0M25.1-26.4h0M27.9-26.5h0M29.5-27.9h0M30.1-25.5h0M15.6-14.5h0M17.1-18.2h0M16.7-17.2h0M20.7-18.6h0M27.1-26.0h0M20.2-16.5h0M15.0-16.8h0M22.9-22.9h0M19.7-19.8h0M31.1-29.6h0M21.6-21.2h0M36.5-35.4h0M29.5-28.5h0M25.6-27.2h0M27.5-28.8h0M27.8-26.5h0M18.5-20.5h0M14.5-11.3h0M28.5-26.2h0M21.1-23.5h0M22.1-20.8h0M17.4-19.7h0M8.0-7.4h0M26.8-28.3h0M17.2-17.5h0M24.7-21.0h0M31.4-30.2h0M21.1-19.3h0M16.3-14.5h0M30.8-29.5h0M21.1-20.6h0M25.6-24.5h0M29.1-31.4h0M14.2-15.7h0M25.5-26.5h0M19.9-20.9h0M30.9-26.1h0M26.0-26.6h0M38.6-37.4h0M26.5-25.4h0M23.5-23.1h0M26.9-24.8h0M19.2-17.6h0M24.2-22.2h0M16.7-18.1h0M26.8-26.4h0M22.0-22.9h0M17.2-15.8h0M26.0-25.0h0M21.5-17.6h0M24.8-25.0h0M27.2-25.8h0M21.3-21.2h0M19.5-21.6h0M17.3-10.3h0M22.6-23.0h0M22.8-23.2h0M22.6-24.3h0M20.6-18.3h0M26.0-26.0h0M24.0-21.2h0M24.7-20.4h0M21.2-17.3h0M38.0-36.8h0M21.6-18.6h0M21.4-19.8h0M20.4-18.6h0M14.1-15.8h0M29.7-27.0h0M22.0-23.2h0M16.7-16.6h0M24.2-24.1h0M22.4-23.9h0M24.5-25.4h0M20.3-18.2h0M26.8-27.3h0M29.0-27.8h0M19.2-23.5h0M23.4-24.9h0M17.6-16.8h0M29.0-30.9h0M23.2-23.8h0"/><path d="M23.2-25.1h0M22.1-19.7h0M30.3-29.0h0M29.4-28.0h0M23.7-24.2h0M25.3-24.7h0M30.5-27.1h0M48.3-46.6h0M15.3-17.6h0M24.5-24.2h0M32.7-29.0h0M17.7-15.8h0M33.4-33.4h0M33.4-31.1h0M19.8-17.1h0M16.0-16.8h0M26.3-24.0h0M28.5-26.1h0M19.3-17.1h0M29.2-30.0h0M27.2-26.4h0M16.7-13.7h0M22.6-21.7h0M22.6-22.2h0M26.5-27.9h0M15.4-14.3h0M29.1-26.4h0M22.7-21.0h0M20.0-18.6h0M17.7-17.6h0M23.9-23.4h0M20.5-22.0h0M24.3-23.4h0M21.9-26.7h0M12.9-14.0h0M26.7-22.5h0M16.1-12.8h0M22.4-18.8h0M28.4-27.0h0M16.8-15.1h0M24.8-23.3h0M14.0-15.0h0M27.9-26.0h0M21.3-21.7h0M31.3-28.8h0M14.0-12.9h0M21.7-19.2h0M16.0-19.6h0M27.1-28.3h0M18.1-20.4h0M22.5-20.6h0M18.1-18.2h0M18.6-16.8h0M22.3-23.3h0M23.9-24.9h0M25.7-24.9h0M28.0-26.3h0M26.8-27.1h0M21.9-18.0h0M21.6-22.4h0M27.6-26.9h0M11.4-12.4h0M25.0-23.6h0M25.9-24.6h0M26.3-23.0h0M27.9-26.8h0M30.0-28.5h0M38.8-37.2h0M25.6-23.3h0M28.2-27.7h0M22.6-22.7h0M19.0-19.6h0M18.4-14.8h0M26.6-23.7h0M24.5-26.6h0M25.0-24.0h0M15.8-12.2h0M24.7-24.3h0M23.1-21.2h0M22.9-23.2h0M21.6-18.5h0M10.5-12.1h0M38.8-36.4h0M24.2-24.5h0M15.4-15.9h0M17.8-14.1h0M16.1-19.4h0M33.3-31.4h0M29.1-26.8h0M31.1-31.4h0M1.5-14.9h0M23.6-22.5h0M26.8-28.0h0M27.3-25.1h0M21.0-22.6h0M25.4-24.7h0M24.5-22.8h0M15.8-16.2h0M23.3-20.6h0M16.0-16.7h0M16.1-10.6h0M22.5-15.8h0M21.9-18.1h0M28.7-26.0h0M22.5-20.3h0M22.0-22.3h0M31.8-28.7h0M11.5-16.1h0M25.2-23.6h0M18.4-21.6h0M23.3-21.6h0M6.2-8.1h0M27.2-23.5h0M20.8-20.2h0M23.6-23.1h0M25.6-23.7h0M29.9-25.7h0M44.7-42.7h0M23.8-21.9h0M22.3-23.1h0M27.2-28.4h0M25.2-21.3h0M30.6-27.9h0M24.8-23.4h0M33.8-32.8h0M15.4-15.3h0M19.2-20.9h0M18.8-19.0h0M29.4-28.8h0M19.5-15.3h0M26.2-25.4h0M24.5-18.1h0M30.1-29.2h0M20.1-19.7h0M22.6-23.4h0M22.7-21.4h0M28.8-27.5h0M24.8-21.1h0M28.0-27.0h0M26.0-23.0h0M22.4-20.6h0M22.6-21.8h0M16.4-18.8h0M27.5-25.5h0M31.5-30.9h0M20.6-21.5h0M13.4-15.6h0M18.3-23.6h0M21.8-21.2h0M17.4-21.2h0M17.4-15.9h0M22.0-18.8h0M19.9-21.3h0M25.0-24.1h0M15.1-16.3h0M26.3-26.0h0M26.6-25.1h0M29.8-27.5h0M14.9-12.5h0M23.0-23.2h0M20.1-25.8h0M24.3-20.9h0M14.2-14.3h0M21.0-20.7h0M17.7-20.8h0M25.8-24.7h0M29.1-26.7h0M31.5-29.4h0M27.4-27.6h0M14.1-17.3h0M23.4-21.5h0M18.9-18.4h0M27.9-29.1h0M20.8-19.0h0M22.7-21.6h0M25.8-29.0h0M20.8-21.2h0M23.1-22.9h0M17.9-20.8h0M29.4-26.7h0M28.0-27.7h0M25.2-23.0h0M21.1-20.3h0M19.2-20.4h0M28.3-29.3h0M28.6-26.5h0M25.9-24.9h0M24.1-19.0h0M27.4-25.8h0M25.5-22.6h0M15.8-14.7h0M18.5-20.1h0M26.8-26.6h0M28.7-27.2h0M23.6-23.4h0M26.7-23.9h0M15.9-18.1h0M20.0-19.9h0M11.1-14.2h0M23.5-24.6h0M18.7-17.2h0M22.5-23.2h0M25.1-22.3h0M22.0-23.9h0M18.0-23.5h0M29.4-31.1h0M28.2-26.5h0M29.1-27.9h0M29.0-25.6h0M24.2-24.6h0M26.4-24.9h0M25.3-26.0h0M34.8-33.7h0M19.5-20.7h0M23.6-22.6h0M23.4-26.3h0M24.5-21.6h0M22.3-21.0h0M26.0-21.2h0M19.3-16.6h0M21.9-21.2h0M21.9-25.7h0M18.9-17.8h0M28.7-26.8h0M29.7-27.3h0M15.9-14.9h0M19.2-19.4h0M28.5-27.0h0M23.4-24.6h0M19.3-19.9h0M17.3-18.4h0M27.9-29.5h0M18.0-16.0h0M28.1-27.0h0M29.2-28.9h0M19.5-19.7h0M24.1-25.7h0M19.4-21.6h0M17.8-13.8h0M24.6-23.8h0M26.8-26.6h0M24.5-26.8h0M17.9-15.3h0M23.7-24.6h0M18.1-19.6h0M19.7-19.5h0M29.2-24.8h0M13.9-14.3h0M30.0-28.4h0M30.6-30.8h0M22.1-23.2h0M22.6-20.5h0M26.1-25.2h0M27.4-28.2h0M10.9-17.1h0M26.5-23.5h0M22.9-21.0h0M14.7-12.5h0M26.8-25.7h0M31.3-31.0h0M30.3-28.7h0M22.3-20.4h0M20.7-18.0h0M34.0-33.8h0M20.7-18.8h0M25.3-24.0h0M24.4-24.7h0M17.2-20.8h0M21.0-18.6h0M18.5-18.3h0M25.7-28.3h0M17.3-15.7h0M21.3-18.9h0M27.5-25.9h0M23.1-21.7h0M26.5-25.8h0M20.9-17.5h0M27.4-27.9h0M19.9-21.5h0M25.4-25.2h0M16.1-13.6h0M8.3-10.5h0M19.1-17.8h0M24.6-30.4h0M23.6-23.6h0M29.2-27.7h0M27.4-27.5h0M15.5-11.4h0M14.4-17.4h0M18.5-21.6h0M27.5-24.2h0M20.2-19.6h0M25.7-24.0h0M30.2-29.0h0M23.4-22.3h0M29.5-27.7h0M29.9-31.8h0M31.7-32.5h0M22.2-24.3h0M8.7-15.9h0M25.0-23.3h0M21.1-20.5h0M16.9-18.2h0M17.6-21.4h0M18.4-14.8h0M10.9-14.8h0M31.4-29.2h0M21.7-17.3h0M28.6-28.1h0M28.3-28.7h0M26.4-25.8h0M11.8-11.8h0M26.4-26.3h0M19.6-16.7h0M26.3-25.8h0M22.3-21.7h0M22.2-20.4h0M19.1-15.1h0M24.5-25.5h0M20.5-19.1h0M23.9-21.6h0M23.3-24.1h0M30.2-28.4h0M24.9-23.3h0M18.4-18.4h0M23.5-25.6h0M33.5-31.6h0M16.5-16.4h0M26.0-25.6h0M21.2-21.3h0M24.8-24.4h0M16.5-17.8h0M23.9-24.3h0M14.1-15.0h0M28.4-25.7h0M20.0-19.0h0M28.4-25.8h0M19.7-17.7h0M14.9-17.8h0M14.7-11.2h0M23.1-21.9h0M20.1-17.8h0M31.5-27.7h0M20.7-19.6h0M24.6-24.6h0M19.4-20.3h0M25.0-23.7h0M29.1-27.9h0M27.2-24.5h0M24.0-21.5h0M24.9-23.4h0M21.7-18.5h0M23.4-20.0h0M25.0-23.1h0M28.4-25.9h0M28.7-28.8h0M27.8-28.6h0M28.0-25.2h0M25.7-25.0h0M8.7-9.7h0M19.6-19.1h0M23.5-23.3h0M24.4-21.7h0M25.1-24.4h0M25.3-26.0h0M21.7-22.2h0M11.3-7.5h0M23.8-23.4h0M26.7-27.0h0M26.0-23.8h0M19.0-17.9h0M18.5-19.5h0M27.6-25.6h0M24.1-23.6h0M18.1-20.0h0M25.2-30.3h0M16.8-17.4h0M27.1-25.0h0M21.2-24.9h0M26.9-26.4h0M28.4-25.5h0M30.9-28.6h0M19.2-18.7h0M20.9-18.1h0M31.0-29.9h0M21.8-24.6h0M27.2-27.9h0M22.2-18.8h0M18.7-14.3h0M7.5-9.5h0M18.7-18.5h0M17.5-12.1h0M18.2-16.9h0M32.3-31.7h0M27.9-27.0h0M41.2-39.7h0M26.0-25.1h0M31.9-28.9h0M20.3-21.2h0M28.4-27.7h0M24.0-23.2h0M26.7-25.9h0M12.2-12.6h0M24.3-23.8h0M20.8-18.8h0M22.5-23.9h0M24.0-16.8h0M19.6-20.1h0M26.7-20.4h0M21.9-19.9h0M15.8-20.5h0M22.2-18.3h0M23.3-20.2h0M26.1-24.2h0M17.6-25.9h0M23.4-20.1h0M26.7-25.8h0M21.1-20.3h0M14.9-13.4h0M22.4-26.1h0M25.2-24.2h0M16.0-10.7h0M29.2-30.7h0M19.4-20.1h0M24.2-24.4h0M20.5-18.0h0M17.0-15.5h0M11.9-12.8h0M25.4-23.0h0M31.6-31.8h0M24.6-23.4h0M28.3-25.5h0M31.0-29.7h0M22.2-21.1h0M24.5-23.0h0M17.1-16.3h0M26.4-24.7h0M25.7-22.4h0M16.3-23.1h0M16.2-21.4h0M23.2-21.3h0M17.6-19.5h0M23.8-22.6h0M26.4-25.8h0M22.2-18.8h0M22.2-21.2h0M26.2-18.8h0M21.1-21.2h0M24.4-24.3h0M20.9-12.7h0M28.0-23.1h0M20.9-20.4h0M21.6-18.6h0M21.4-23.7h0M17.7-17.5h0M24.0-24.0h0M17.6-18.3h0M25.9-25.2h0M21.1-17.5h0M22.6-20.0h0M19.5-19.9h0M15.1-13.0h0M18.8-18.0h0M22.5-24.6h0M24.2-20.9h0M28.4-28.1h0M29.0-29.5h0M27.8-26.3h0M27.6-25.6h0M24.6-23.9h0M33.0-25.6h0M18.5-18.6h0M23.7-26.0h0M26.5-27.2h0M22.4-18.8h0M25.8-23.6h0M20.6-20.7h0M24.0-22.8h0M27.5-24.7h0M27.5-26.3h0M26.9-26.1h0M19.9-17.3h0M11.2-12.6h0M22.8-22.9h0M22.7-19.8h0M32.4-31.9h0M24.1-22.1h0M22.0-18.0h0M16.0-14.7h0M28.2-28.2h0M24.5-23.4h0M23.5-20.6h0M26.2-24.5h0M30.3-29.1h0M17.8-19.1h0M15.7-13.7h0M35.5-34.3h0M29.6-29.5h0M17.0-18.8h0M35.2-33.6h0M17.4-19.0h0M19.9-18.7h0M22.0-20.5h0M24.6-24.8h0M17.2-16.9h0M45.0-42.7h0M26.8-24.3h0M21.0-16.6h0M27.2-23.8h0M23.0-22.2h0M22.8-25.7h0M25.9-24.3h0M30.3-28.2h0M32.3-30.5h0M22.2-18.2h0M17.4-12.6h0M21.2-19.6h0M31.9-30.7h0M27.5-27.1h0M24.2-22.5h0M24.1-23.1h0M27.7-27.7h0M6.5-3.3h0M24.0-26.4h0M30.5-28.2h0M30.4-29.1h0M27.2-27.1h0M28.9-30.1h0M47.3-45.2h0M31.4-33.4h0M19.1-15.4h0M25.9-25.0h0M17.5-15.8h0M22.9-19.1h0M8.9-9.2h0M19.4-21.7h0M23.1-20.0h0M12.3-12.8h0M14.0-15.8h0M28.4-17.5h0M18.5-18.2h0M30.5-29.8h0M27.0-26.7h0M22.6-22.7h0M7.6-9.5h0M25.3-27.7h0M28.2-29.6h0M31.7-30.2h0M24.4-23.1h0M27.4-25.1h0M42.3-40.3h0M27.2-27.0h0M44.4-41.7h0M15.7-17.0h0M34.8-34.1h0M14.8-16.3h0M16.6-13.7h0M29.8-26.8h0M25.4-24.4h0M27.9-27.0h0M31.4-28.0h0M26.7-26.9h0M29.8-30.0h0M24.1-24.8h0M27.9-24.6h0M29.7-28.0h0M28.1-26.7h0M16.8-14.8h0M13.3-10.7h0M17.2-16.4h0M29.5-22.9h0M30.1-33.1h0M23.8-24.6h0M21.5-23.5h0M19.3-20.2h0M23.8-20.8h0M19.8-22.3h0M33.2-31.5h0M26.9-23.3h0M20.4-20.1h0M13.9-17.3h0M26.3-25.8h0M8.9-10.4h0M20.4-20.8h0M28.3-28.9h0M25.6-28.8h0M21.5-20.2h0M15.3-13.0h0M31.2-29.6h0M26.0-25.2h0M19.1-20.4h0M25.8-23.8h0M16.6-15.1h0M29.2-25.1h0M18.6-13.7h0M28.7-27.7h0M29.6-28.7h0M24.6-23.1h0M17.0-14.9h0M15.4-17.0h0"/><path d="M14.1-15.4h0M16.7-17.0h0M20.0-18.6h0M47.6-46.0h0M13.4-14.6h0M27.9-26.2h0M22.0-23.2h0M22.8-21.9h0M10.8-12.5h0M24.5-23.4h0M27.2-27.0h0M17.0-16.7h0M15.9-18.8h0M24.0-21.2h0M26.8-23.3h0M32.2-32.3h0M27.0-26.7h0M24.8-25.0h0M28.9-27.8h0M15.3-13.2h0M28.5-27.9h0M28.7-30.0h0M33.0-30.6h0M29.8-28.0h0M27.6-28.0h0M23.2-21.1h0M27.9-27.3h0M21.1-21.0h0M35.8-32.6h0M22.2-22.8h0M26.3-25.0h0M21.3-23.0h0M26.2-29.5h0M18.5-16.9h0M13.3-9.8h0M14.4-14.8h0M16.7-17.2h0M32.7-32.6h0M26.2-24.2h0M25.6-21.7h0M30.7-26.4h0M19.6-22.2h0M17.3-17.1h0M28.3-28.0h0M19.5-21.0h0M20.1-22.9h0M28.0-25.7h0M23.1-21.1h0M27.0-32.8h0M29.6-30.5h0M18.8-12.4h0M23.3-23.3h0M15.0-15.6h0M33.7-31.2h0M22.5-22.2h0M20.8-19.3h0M25.1-26.8h0M15.7-18.6h0M17.7-14.2h0M27.2-32.9h0M19.7-21.9h0M19.0-14.7h0M28.5-26.4h0M26.1-21.1h0M15.7-17.7h0M25.2-24.2h0M18.4-19.0h0M20.6-20.7h0M23.3-22.1h0M21.9-21.7h0M23.0-22.1h0M25.4-28.5h0M19.6-20.3h0M26.3-25.6h0M33.9-33.0h0M20.6-19.7h0M18.4-20.5h0M21.4-23.4h0M31.3-31.6h0M17.1-21.0h0M11.7-9.7h0M22.9-21.7h0M27.3-25.0h0M18.3-19.7h0M17.7-17.1h0M21.9-17.1h0M34.0-33.2h0M19.7-18.8h0M20.7-17.8h0M25.4-24.5h0M24.3-23.1h0M25.8-25.6h0M24.1-22.9h0M33.7-31.0h0M25.8-26.2h0M12.7-13.4h0M20.5-22.0h0M24.6-24.4h0M21.1-20.4h0M22.8-20.4h0M17.1-13.9h0M20.5-19.3h0M23.4-22.3h0M14.7-20.7h0M17.9-19.4h0M18.1-19.5h0M28.9-27.9h0M13.6-15.8h0M24.6-26.1h0M25.9-24.5h0M22.7-23.5h0M27.8-29.1h0M24.8-24.9h0M22.4-20.1h0M26.6-25.8h0M22.5-24.0h0M15.0-17.9h0M27.7-24.8h0M18.4-18.9h0M20.4-19.9h0M21.6-21.1h0M23.1-22.7h0M32.1-30.2h0M20.4-21.3h0M20.5-20.3h0M28.7-24.2h0M25.7-24.0h0M24.6-22.1h0M24.8-25.3h0M25.8-24.3h0M18.5-18.7h0M27.1-27.3h0M19.9-16.4h0M29.0-28.4h0M16.1-16.6h0M23.0-23.0h0M31.9-29.3h0M17.3-22.0h0M32.0-28.9h0M31.0-30.6h0M32.2-32.1h0M27.3-27.0h0M26.9-23.8h0M24.5-24.0h0M28.2-27.1h0M15.7-12.8h0M20.2-19.6h0M32.5-31.1h0M34.8-35.6h0M38.3-33.1h0M18.1-16.1h0M34.5-33.7h0M33.1-30.7h0M23.3-23.7h0M24.3-21.5h0M16.9-15.0h0M8.6-13.2h0M19.2-20.3h0M16.9-20.8h0M31.2-31.0h0M28.3-26.5h0M20.9-20.4h0M30.0-28.4h0M22.8-21.1h0M20.0-18.7h0M19.5-16.6h0M16.8-12.7h0M18.8-17.3h0M22.8-23.7h0M13.6-11.5h0M19.2-17.9h0M21.1-21.0h0M28.9-25.1h0M11.3-14.4h0M28.1-25.0h0M13.6-11.4h0M26.0-26.7h0M24.2-19.9h0M26.8-24.5h0M31.8-32.7h0M17.2-21.9h0M22.6-18.9h0M28.8-29.5h0M23.1-21.0h0M24.5-23.6h0M18.4-14.9h0M31.0-29.9h0M29.4-28.9h0M25.7-24.9h0M15.5-18.6h0M23.8-22.9h0M28.6-25.3h0M30.7-31.8h0M22.0-22.1h0M20.3-18.6h0M22.8-22.6h0M20.4-19.7h0M31.3-30.5h0M20.8-18.4h0M30.1-26.3h0M19.7-30.6h0M22.3-23.0h0M17.2-21.3h0M23.3-23.3h0M18.3-19.6h0M16.4-15.8h0M25.7-27.5h0M29.5-27.9h0M30.1-29.2h0M28.4-28.5h0M29.4-28.4h0M17.9-18.4h0M17.3-18.4h0M27.3-26.7h0M20.8-18.1h0M15.6-12.0h0M17.1-17.7h0M25.9-24.4h0M23.4-19.8h0M26.9-27.6h0M23.2-23.2h0M30.2-29.0h0M20.1-16.7h0M27.6-24.6h0M18.7-12.4h0M19.2-19.2h0M20.4-18.1h0M28.8-28.5h0M18.8-22.0h0M27.4-26.3h0M29.7-28.0h0M29.3-26.6h0M28.8-29.8h0M22.2-25.7h0M25.1-22.7h0M35.4-34.9h0M33.3-31.7h0M22.8-21.0h0M29.2-27.7h0M26.1-23.8h0M13.9-10.7h0M18.7-19.1h0M19.1-17.3h0M27.4-26.9h0M22.3-21.5h0M33.1-31.5h0M19.9-17.5h0M22.7-21.8h0M20.1-19.8h0M26.0-25.1h0M17.7-18.1h0M19.5-23.9h0M29.4-24.8h0M29.4-26.3h0M46.5-44.1h0M18.0-17.9h0M31.5-29.2h0M19.4-19.9h0M29.3-28.1h0M19.6-19.4h0M27.3-26.3h0M21.9-20.1h0M24.5-25.3h0M34.1-32.8h0M25.2-24.2h0M23.3-21.4h0M21.9-21.8h0M24.4-22.4h0M30.4-28.4h0M25.2-24.7h0M28.7-28.8h0M17.1-19.5h0M28.1-18.5h0M22.2-21.1h0M22.0-20.5h0M16.3-15.2h0M22.7-21.2h0M22.7-23.3h0M23.2-23.7h0M17.2-20.0h0M22.3-22.6h0M33.1-31.0h0M28.4-26.8h0M22.9-21.9h0M24.2-23.1h0M25.6-27.7h0M18.2-20.7h0M25.9-26.0h0M23.1-20.0h0M27.4-25.6h0M20.5-24.3h0M26.1-25.2h0M26.9-25.6h0M32.1-29.7h0M24.7-20.6h0M26.0-26.4h0M29.0-28.7h0M24.2-25.6h0M19.4-21.6h0M16.7-18.1h0M23.2-21.3h0M20.5-14.9h0M17.8-15.6h0M23.4-22.9h0M17.8-18.7h0M25.2-24.5h0M30.7-29.5h0M22.0-19.7h0M21.8-18.9h0M25.5-18.4h0M24.8-22.8h0M19.2-21.6h0M34.1-33.6h0M23.4-21.6h0M29.4-29.9h0M19.7-23.1h0M21.9-23.4h0M23.9-20.8h0M20.2-20.7h0M23.4-22.9h0M24.5-23.9h0M35.3-33.1h0M11.1-11.0h0M26.4-24.4h0M17.6-17.9h0M18.4-15.5h0M21.6-20.8h0M22.0-22.2h0M21.4-16.8h0M19.3-19.5h0M16.2-14.7h0M22.3-25.2h0M25.7-18.7h0M20.9-22.6h0M11.3-14.1h0M20.1-16.9h0M22.5-17.6h0M21.9-19.1h0M27.0-29.0h0M21.0-20.4h0M20.7-23.0h0M39.9-37.7h0M18.7-17.9h0M28.5-29.6h0M28.4-28.7h0M30.3-30.3h0M26.2-23.8h0M26.5-22.0h0M11.2-10.7h0M20.0-4.4h0M22.6-20.7h0M28.3-26.8h0M24.9-24.4h0M20.4-21.0h0M16.2-16.7h0M30.6-30.7h0M25.6-26.3h0M13.1-21.1h0M22.9-23.3h0M32.0-29.8h0M17.6-18.6h0M20.8-21.5h0M28.8-26.5h0M13.7-9.3h0M13.7-16.5h0M23.0-21.8h0M23.9-25.2h0M17.2-19.3h0M28.6-26.1h0M32.7-31.5h0M22.3-20.0h0M28.0-28.0h0M20.9-22.1h0M24.4-21.4h0M24.1-24.1h0M24.8-19.2h0M20.7-20.9h0M24.5-23.0h0M26.2-24.0h0M23.4-23.9h0M22.4-20.7h0M27.6-29.5h0M29.4-25.6h0M18.8-20.9h0M19.3-19.1h0M24.2-20.2h0M20.4-17.8h0M30.1-30.3h0M27.2-27.0h0M26.4-24.6h0M17.2-20.7h0M28.6-26.9h0M23.3-23.7h0M26.8-23.9h0M17.7-15.9h0M19.2-19.2h0M32.3-32.5h0M18.9-18.9h0M34.9-34.4h0M21.1-20.6h0M32.4-29.5h0M28.6-25.8h0M23.2-23.1h0M27.1-29.1h0M29.8-26.7h0M25.4-25.4h0M20.5-20.1h0M21.7-21.0h0M22.6-21.0h0M21.0-23.6h0M20.5-21.1h0M19.8-19.5h0M19.0-18.7h0M23.2-24.4h0M24.6-24.5h0M19.6-19.2h0M28.9-26.6h0M18.9-19.7h0M23.4-13.8h0M24.1-24.9h0M26.9-28.0h0M21.0-19.2h0M22.3-26.0h0M27.0-24.0h0M25.6-8.2h0M28.2-26.1h0M23.9-22.5h0M26.9-24.8h0M30.3-30.3h0M28.4-27.4h0M22.7-25.0h0M17.4-8.1h0M15.5-18.9h0M19.7-18.1h0M22.0-25.4h0M30.0-27.6h0M25.8-26.8h0M21.8-22.9h0M29.6-26.8h0M23.9-21.5h0M31.4-32.0h0M24.5-24.5h0M20.9-23.2h0M20.7-15.7h0M17.2-21.9h0M28.5-27.6h0M28.6-29.0h0M28.0-28.8h0M26.1-24.1h0M23.1-23.9h0M21.1-21.6h0M29.5-28.3h0M20.3-16.9h0M17.7-16.3h0M22.4-20.8h0M22.9-23.5h0M23.9-21.8h0M22.9-24.3h0M20.9-19.6h0M28.6-26.2h0M30.7-26.6h0M31.6-29.9h0M15.7-17.5h0M17.7-20.8h0M27.5-26.5h0M24.6-25.3h0M24.2-20.6h0M12.7-13.2h0M42.1-41.0h0M31.9-29.4h0M17.3-6.2h0M6.8-15.0h0M22.4-24.2h0M22.8-23.7h0M22.3-20.6h0M23.8-23.1h0M24.4-21.5h0M22.1-20.5h0M12.2-13.3h0M28.2-27.9h0M27.2-25.3h0M31.1-30.1h0M18.6-19.1h0M20.7-18.0h0M33.5-32.2h0M28.5-26.0h0M36.1-33.9h0M32.7-30.4h0M31.1-30.4h0M25.6-24.5h0M22.1-23.1h0M22.2-19.7h0M15.8-18.9h0M27.5-26.5h0M26.2-24.1h0M23.5-21.3h0M19.8-19.6h0M30.7-30.4h0M33.6-33.9h0M32.4-32.2h0M17.0-13.3h0M23.0-21.3h0M22.6-18.4h0M21.9-18.6h0M21.7-19.1h0M25.7-26.4h0M13.0-13.3h0M25.3-24.8h0M25.8-25.9h0M28.2-19.5h0M20.6-20.3h0M22.8-21.7h0M24.4-22.5h0M21.5-24.1h0M25.5-21.3h0M29.0-25.4h0M20.4-15.7h0M31.3-29.8h0M19.4-20.4h0M27.0-25.8h0M28.7-26.9h0M26.3-22.6h0M33.9-28.6h0M23.1-19.5h0M23.2-22.7h0M23.6-22.9h0M31.9-27.6h0M27.4-28.5h0M31.8-30.1h0M30.4-27.8h0M16.7-15.8h0M24.7-25.6h0M20.1-16.7h0M30.2-28.7h0M26.1-13.8h0M18.5-15.7h0M15.4-14.7h0M51.4-49.3h0M20.0-17.2h0M31.4-28.6h0M19.3-20.5h0M32.6-31.0h0M27.7-27.6h0M30.5-28.4h0M20.1-20.5h0M17.7-17.4h0M20.6-22.9h0M42.4-40.3h0M17.5-18.2h0M27.3-28.0h0M12.7-12.0h0M20.9-20.1h0M24.6-22.6h0M20.1-19.5h0M18.5-21.0h0M22.7-22.8h0M24.3-23.2h0M31.7-30.0h0M25.5-23.8h0M28.2-31.7h0M16.1-16.4h0M21.5-18.9h0M25.8-23.4h0M25.9-23.1h0M23.0-20.6h0M16.2-18.5h0M27.5-27.2h0M19.9-22.2h0M25.4-24.1h0M24.0-21.6h0M22.0-24.6h0M8.8-11.9h0M24.1-20.5h0M26.9-26.0h0M30.1-28.9h0M18.0-18.1h0M19.2-14.3h0M29.6-27.7h0M29.7-27.6h0M15.0-20.8h0M18.2-20.8h0M31.5-29.9h0M22.7-22.6h0M23.4-23.3h0M25.2-23.6h0M14.9-12.5h0M18.9-20.9h0M26.2-25.7h0M27.2-26.3h0M29.3-25.8h0M11.9-11.9h0M18.2-19.0h0M17.1-17.9h0M17.4-14.5h0M35.2-31.6h0M13.8-16.8h0M29.2-28.2h0M26.2-23.3h0M27.3-22.9h0M28.3-28.1h0"/><path d="M30.7-27.5h0M23.4-23.6h0M23.1-21.5h0M21.9-23.6h0M25.5-23.4h0M29.2-29.1h0M20.5-19.8h0M30.7-29.8h0M21.5-21.8h0M23.0-19.4h0M23.2-21.2h0M26.6-24.6h0M19.8-16.9h0M29.5-28.4h0M25.8-26.9h0M26.4-24.6h0M29.4-29.1h0M31.9-30.3h0M24.6-25.0h0M19.5-22.5h0M27.9-26.7h0M28.2-24.7h0M19.5-17.8h0M15.0-12.0h0M20.7-20.8h0M28.0-27.3h0M34.9-34.5h0M23.1-21.3h0M22.5-23.3h0M32.3-30.5h0M23.7-22.8h0M18.3-18.1h0M21.8-19.6h0M19.2-20.0h0M27.9-26.9h0M16.7-18.8h0M27.7-25.1h0M29.2-28.7h0M19.2-16.3h0M20.6-19.8h0M20.4-23.4h0M24.9-26.9h0M14.9-16.0h0M23.0-23.5h0M20.7-19.8h0M36.5-34.0h0M14.9-12.6h0M20.7-18.6h0M23.0-25.8h0M25.0-25.2h0M23.0-23.9h0M24.3-25.3h0M22.7-24.0h0M26.9-22.2h0M22.7-20.7h0M33.5-32.4h0M11.8-13.2h0M19.0-10.5h0M23.2-19.6h0M25.1-22.4h0M19.0-17.0h0M14.9-14.6h0M18.9-16.3h0M13.3-15.4h0M13.4-15.7h0M29.8-29.3h0M26.0-24.1h0M27.9-27.4h0M30.3-27.4h0M25.5-25.7h0M22.0-15.5h0M23.4-23.3h0M32.9-28.0h0M16.0-12.4h0M20.6-24.4h0M29.8-26.9h0M23.8-24.0h0M27.2-25.7h0M23.1-24.7h0M38.2-35.1h0M27.0-27.6h0M26.3-24.1h0M13.0-14.0h0M21.6-23.3h0M14.9-14.9h0M15.3-16.2h0M13.5-14.8h0M21.0-20.4h0M18.7-16.8h0M19.6-18.1h0M26.0-27.6h0M26.8-25.9h0M23.3-27.4h0M25.0-23.1h0M21.7-18.9h0M18.6-25.4h0M23.3-22.4h0M24.5-27.1h0M25.7-24.5h0M27.1-28.9h0M28.1-26.6h0M21.1-19.6h0M20.1-18.3h0M26.9-25.4h0M28.5-27.3h0M17.6-20.0h0M29.3-30.3h0M20.3-21.1h0M12.8-10.7h0M34.6-32.0h0M20.9-20.5h0M22.4-23.9h0M19.2-18.0h0M14.4-14.2h0M32.0-32.3h0M26.9-16.6h0M38.3-37.7h0M29.2-29.5h0M27.1-27.0h0M23.1-25.7h0M20.1-20.6h0M22.1-21.6h0M17.2-17.7h0M32.2-30.0h0M28.3-27.8h0M24.8-19.2h0M16.6-17.6h0M32.3-34.0h0M15.2-16.6h0M19.8-18.8h0M26.4-24.3h0M33.4-32.7h0M20.3-19.5h0M22.0-20.0h0M21.7-23.1h0M20.1-16.5h0M23.6-20.4h0M24.1-20.3h0M30.7-29.4h0M27.8-27.7h0M37.3-34.5h0M25.2-25.7h0M24.7-21.5h0M15.7-19.0h0M23.9-22.2h0M27.9-27.9h0M25.4-20.1h0M24.9-25.2h0M29.1-29.2h0M28.1-25.7h0M15.1-14.8h0M23.0-22.9h0M26.7-22.3h0M21.2-20.7h0M27.2-26.1h0M17.5-16.3h0M19.6-19.6h0M26.2-28.3h0M28.0-25.1h0M27.1-26.0h0M23.2-22.3h0M20.0-18.8h0M27.4-25.9h0M28.7-28.4h0M31.6-30.1h0M30.8-30.1h0M24.8-18.1h0M28.0-28.0h0M22.7-23.3h0M30.3-28.3h0M28.7-20.7h0M22.9-25.2h0M22.8-21.3h0M24.1-23.5h0M33.7-33.0h0M26.7-25.0h0M31.1-29.1h0M18.4-20.3h0M30.9-29.1h0M31.3-30.8h0M25.9-25.9h0M26.7-23.2h0M17.9-15.3h0M26.8-12.7h0M20.0-15.2h0M24.6-25.1h0M24.4-24.1h0M22.3-17.6h0M14.9-18.7h0M25.4-24.4h0M25.2-25.0h0M27.4-26.0h0M14.0-16.1h0M22.8-23.8h0M15.2-10.1h0M34.6-33.8h0M31.5-31.9h0M23.2-23.6h0M23.2-21.6h0M36.4-37.0h0M30.3-28.1h0M19.7-20.7h0M22.6-19.9h0M17.0-18.2h0M23.0-22.6h0M21.9-20.3h0M21.2-19.9h0M18.7-19.0h0M26.9-25.6h0M28.4-27.5h0M15.7-20.7h0M22.0-16.7h0M16.7-18.0h0M30.6-29.9h0M19.0-16.7h0M18.9-16.3h0M12.4-13.5h0M19.2-19.4h0M23.0-24.6h0M31.7-30.7h0M22.7-23.9h0M21.3-20.0h0M13.8-12.0h0M14.7-14.6h0M27.3-26.7h0M21.6-22.4h0M21.4-19.6h0M26.7-27.4h0M18.6-20.0h0M43.4-41.4h0M24.7-22.0h0M34.4-34.7h0M6.5-4.3h0M26.1-23.7h0M27.3-24.3h0M17.4-14.7h0M15.7-16.4h0M23.5-20.1h0M36.8-36.1h0M17.3-18.6h0M26.2-26.1h0M25.4-22.5h0M31.4-29.3h0M16.1-16.3h0M25.1-23.1h0M24.3-22.5h0M14.0-12.6h0M24.1-23.0h0M25.0-23.8h0M12.1-15.8h0M25.0-19.9h0M23.8-23.1h0M25.2-24.4h0M30.2-30.7h0M24.3-23.4h0M23.8-21.6h0M15.0-14.8h0M27.7-24.6h0M24.7-23.0h0M28.6-26.9h0M25.8-26.8h0M17.9-14.8h0M26.2-27.4h0M22.4-22.2h0M24.8-26.6h0M23.8-25.4h0M19.6-14.7h0M25.5-27.3h0M28.0-22.4h0M33.8-33.3h0M26.8-24.3h0M21.4-21.7h0M27.4-25.5h0M21.4-21.1h0M20.6-17.6h0M12.2-15.0h0M10.8-13.8h0M26.1-24.0h0M24.5-23.9h0M28.4-28.6h0M20.1-20.5h0M33.8-31.3h0M15.1-16.6h0M18.2-16.3h0M11.2-5.3h0M24.1-23.7h0M26.0-23.6h0M14.6-16.6h0M28.1-26.3h0M22.3-22.7h0M22.5-20.2h0M33.6-33.8h0M24.0-25.3h0M13.1-13.1h0M18.1-19.4h0M17.4-18.0h0M24.0-24.6h0M30.9-30.0h0M23.2-24.4h0M26.9-27.7h0M25.8-23.8h0M14.7-19.4h0M26.3-24.7h0M29.2-25.5h0M23.3-23.8h0M24.3-26.0h0M50.4-48.0h0M26.3-24.0h0M26.3-25.4h0M23.5-23.5h0M16.5-20.3h0M22.1-19.0h0M16.9-19.0h0M24.2-22.8h0M19.5-21.3h0M25.2-24.6h0M27.1-25.9h0M23.2-20.9h0M20.4-21.7h0M23.7-20.8h0M26.6-25.7h0M28.2-27.3h0M31.2-29.2h0M26.1-26.2h0M30.0-29.3h0M21.2-21.8h0M35.2-35.5h0M20.4-18.0h0M18.0-18.4h0M25.7-24.4h0M26.0-22.3h0M19.8-20.8h0M18.7-17.2h0M23.4-21.1h0M24.4-23.1h0M30.4-27.7h0M25.3-25.0h0M22.4-24.1h0M23.7-24.0h0M27.1-26.0h0M31.1-26.8h0M31.9-30.9h0M22.7-22.8h0M23.0-23.0h0M20.6-21.2h0M21.5-19.1h0M20.2-22.1h0M30.7-29.1h0M23.5-20.9h0M33.4-33.1h0M30.4-28.7h0M23.2-24.6h0M22.3-19.2h0M16.5-14.3h0M26.9-23.4h0M23.7-22.3h0M24.1-23.9h0M18.0-20.0h0M29.3-27.5h0M27.4-27.6h0M19.9-18.8h0M22.8-24.0h0M13.7-15.6h0M24.9-23.7h0M19.1-20.9h0M14.3-12.4h0M14.1-14.0h0M21.8-20.8h0M26.8-25.7h0M27.1-23.0h0M16.4-13.6h0M30.2-29.9h0M27.6-27.6h0M25.7-24.9h0M30.1-24.2h0M24.8-22.6h0M26.0-22.6h0M27.3-28.1h0M12.5-17.0h0M31.9-31.5h0M27.4-27.4h0M28.1-28.8h0M22.3-19.7h0M14.8-14.1h0M27.3-28.7h0M21.3-18.6h0M24.7-23.3h0M28.3-26.0h0M23.7-23.4h0M22.4-21.4h0M27.7-26.6h0M25.3-24.8h0M23.9-20.4h0M23.9-23.2h0M30.3-30.4h0M26.7-25.2h0M25.7-24.5h0M23.1-23.8h0M13.3-18.7h0M19.1-21.3h0M23.9-24.8h0M24.1-22.8h0M32.5-31.1h0M14.1-12.9h0M21.3-20.5h0M22.2-19.7h0M25.6-23.7h0M21.2-20.0h0M29.6-29.3h0M20.8-21.0h0M23.4-20.0h0M21.1-22.6h0M22.8-25.5h0M26.0-22.0h0M36.1-34.3h0M24.2-24.7h0M13.7-10.9h0M29.0-29.2h0M20.4-20.0h0M24.8-23.0h0M25.1-27.6h0M23.4-24.8h0M21.9-17.6h0M24.8-24.5h0M29.8-29.3h0M30.6-28.2h0M22.8-22.3h0M24.7-23.8h0M26.3-26.5h0M23.2-21.4h0M17.8-20.6h0M19.3-17.7h0M28.3-27.5h0M21.0-22.4h0M31.9-29.7h0M30.4-28.3h0M29.0-29.0h0M26.5-25.6h0M24.9-24.6h0M28.1-25.9h0M20.5-19.2h0M14.1-19.2h0M24.1-23.8h0M32.1-29.4h0M26.4-26.4h0M21.8-20.2h0M15.0-17.1h0M8.0-7.7h0M23.4-22.2h0M13.9-11.1h0M18.7-19.1h0M22.9-20.5h0M29.8-28.1h0M20.1-18.1h0M26.3-25.6h0M18.0-22.7h0M17.0-16.4h0M26.1-25.7h0M19.2-16.7h0M24.7-24.2h0M21.4-21.9h0M28.3-24.4h0M24.9-24.8h0M26.9-26.1h0M18.1-18.0h0M21.3-19.9h0M26.2-26.5h0M22.9-24.3h0M27.4-27.2h0M29.0-27.3h0M20.3-21.7h0M22.8-22.3h0M11.2-12.9h0M21.5-19.9h0M23.6-27.3h0M28.2-25.7h0M28.8-28.0h0M28.9-28.0h0M26.1-22.7h0M23.4-20.0h0M31.4-30.8h0M21.1-19.1h0M28.0-27.3h0M27.6-27.7h0M18.9-21.7h0M22.6-25.0h0M23.8-21.5h0M23.3-16.1h0M17.7-24.2h0M25.7-25.5h0M18.3-16.7h0M21.8-22.2h0M22.1-22.5h0M30.8-30.0h0M21.6-20.8h0M20.3-28.2h0M24.5-22.4h0M24.0-22.1h0M35.3-32.6h0M24.2-25.2h0M18.7-16.3h0M21.8-22.6h0M27.1-27.3h0M36.2-34.9h0M16.3-15.3h0M29.9-26.8h0M27.5-25.1h0M30.6-29.5h0M19.2-15.5h0M24.6-22.7h0M45.5-43.5h0M24.7-22.4h0M25.2-27.1h0M22.2-17.9h0M22.0-21.8h0M11.0-15.3h0M15.8-15.9h0M17.7-16.0h0M24.5-20.9h0M24.2-24.4h0M28.7-27.2h0M21.9-21.7h0M17.7-13.5h0M23.9-22.1h0M30.3-29.6h0M20.6-22.6h0M27.7-26.7h0M27.2-24.2h0M19.1-15.2h0M22.5-21.6h0M12.4-12.1h0M6.9-7.5h0M29.5-26.4h0M30.2-27.2h0M32.0-30.5h0M22.1-20.8h0M20.3-23.7h0M23.5-24.3h0M29.4-27.4h0M30.0-29.3h0M20.3-17.0h0M20.3-19.9h0M21.8-21.6h0M29.3-28.2h0M29.5-28.8h0M14.7-13.4h0M16.5-14.9h0M17.2-18.6h0M26.8-25.9h0M17.7-16.7h0M19.1-13.6h0M14.0-16.3h0M23.7-23.2h0M30.1-30.1h0M19.4-18.3h0M35.7-33.9h0M30.6-29.3h0M23.2-21.4h0M25.8-26.0h0M26.2-19.8h0M26.8-27.9h0M27.1-25.4h0M26.1-24.7h0M27.9-29.8h0M19.1-18.7h0M26.9-23.4h0M33.1-32.6h0M20.4-18.0h0M30.2-27.8h0M13.2-14.7h0M18.0-17.1h0M16.9-14.7h0M21.7-19.3h0M20.1-18.6h0M26.6-25.4h0M17.3-20.3h0M27.4-23.0h0M23.4-20.1h0M21.0-22.4h0M27.0-25.4h0M25.8-24.6h0M29.8-29.3h0M28.6-26.0h0M27.1-25.2h0M15.9-18.0h0M29.2-27.6h0M23.5-24.3h0M25.9-22.4h0M33.5-31.5h0M23.4-21.0h0M14.0-12.9h0M34.2-33.4h0M14.6-14.9h0M26.6-25.9h0M17.4-12.2h0M38.3-37.5h0M19.6-20.1h0M28.1-27.8h0M30.6-30.3h0M23.4-24.3h0"/><path d="M24.8-23.1h0M16.4-18.0h0M22.2-21.4h0M22.7-22.2h0M21.8-24.6h0M18.1-15.1h0M28.3-28.1h0M34.0-31.2h0M28.6-27.6h0M33.6-31.4h0M25.3-24.6h0M27.7-24.8h0M20.6-18.7h0M16.6-16.4h0M27.0-26.9h0M15.3-16.0h0M35.2-34.3h0M23.5-21.2h0M26.4-24.3h0M26.4-24.7h0M20.2-18.5h0M15.2-20.0h0M28.9-26.8h0M22.4-17.3h0M21.4-24.1h0M21.0-18.1h0M28.9-28.7h0M34.0-29.3h0M21.1-20.2h0M25.6-25.5h0M28.8-28.2h0M18.7-18.6h0M18.9-16.7h0M29.3-22.4h0M26.0-25.5h0M26.8-23.3h0M20.3-18.1h0M14.9-19.4h0M26.5-25.9h0M30.6-28.0h0M32.1-30.7h0M26.1-24.1h0M21.1-21.1h0M18.1-17.9h0M25.6-24.0h0M15.9-15.5h0M21.0-20.0h0M23.6-21.8h0M23.4-24.4h0M24.3-25.9h0M40.5-39.2h0M32.2-33.9h0M30.8-31.4h0M17.0-17.1h0M4.3-7.4h0M22.1-21.0h0M22.0-20.7h0M13.6-13.7h0M8.7-7.8h0M22.0-22.5h0M22.6-21.8h0M32.2-29.9h0M36.2-32.1h0M17.3-20.0h0M33.1-32.0h0M17.8-12.9h0M24.2-22.8h0M28.7-26.0h0M25.1-24.1h0M26.4-25.8h0M25.6-21.4h0M26.4-26.3h0M20.3-21.4h0M14.0-17.7h0M20.8-26.5h0M23.2-27.5h0M19.3-20.9h0M25.0-25.6h0M26.1-26.0h0M22.4-19.9h0M29.5-28.2h0M33.6-32.5h0M20.6-20.9h0M13.4-13.7h0M25.3-24.4h0M22.9-22.9h0M24.5-23.7h0M20.0-21.2h0M29.7-28.2h0M24.1-21.4h0M20.4-21.6h0M17.4-21.4h0M23.1-22.7h0M21.8-24.4h0M27.3-26.1h0M29.6-28.9h0M32.9-31.8h0M28.8-24.6h0M25.4-23.0h0M31.8-30.4h0M23.1-23.8h0M28.5-27.6h0M15.8-20.0h0M24.2-23.7h0M15.1-21.4h0M16.6-13.5h0M27.6-29.0h0M22.3-19.7h0M19.5-17.6h0M23.4-21.5h0M22.6-23.2h0M23.0-25.2h0M20.0-22.0h0M22.7-22.0h0M34.1-32.6h0M22.1-12.4h0M28.5-25.0h0M18.5-13.2h0M20.1-17.7h0M30.3-18.4h0M24.8-23.3h0M18.3-17.9h0M20.5-19.7h0M28.7-27.7h0M23.1-22.1h0M31.1-29.8h0M23.0-23.4h0M20.3-17.5h0M29.0-28.0h0M34.0-31.5h0M23.1-24.3h0M29.5-29.8h0M21.7-22.7h0M23.2-22.1h0M23.4-25.2h0M32.7-31.7h0M20.3-16.2h0M24.3-20.5h0M32.8-31.5h0M33.8-30.2h0M17.9-17.7h0M24.9-24.7h0M32.9-31.0h0M24.0-23.4h0M20.8-19.3h0M27.3-24.6h0M22.3-19.6h0M12.4-11.3h0M19.7-14.3h0M16.6-15.5h0M16.8-15.5h0M19.4-9.0h0M20.5-21.4h0M22.5-22.2h0M28.5-27.6h0M5.8-10.0h0M21.0-20.6h0M14.8-14.1h0M26.1-21.0h0M22.4-21.1h0M23.6-24.2h0M26.5-24.5h0M25.9-26.2h0M15.4-15.1h0M21.9-22.3h0M30.0-24.6h0M14.3-17.6h0M14.5-16.3h0M23.8-24.0h0M20.4-21.8h0M25.8-23.8h0M22.7-20.2h0M19.7-18.6h0M26.7-25.6h0M20.9-18.7h0M18.6-16.4h0M20.1-21.1h0M29.2-28.6h0M27.4-24.9h0M27.3-27.3h0M21.2-20.3h0M26.2-22.8h0M24.1-22.2h0M20.0-20.5h0M20.5-20.7h0M17.6-20.4h0M19.5-16.2h0M33.9-32.8h0M30.7-29.9h0M19.8-19.3h0M19.0-18.0h0M19.5-18.6h0M21.9-21.9h0M20.3-20.7h0M19.7-21.7h0M27.5-26.2h0M25.8-26.7h0M18.9-16.4h0M19.7-17.2h0M22.6-20.3h0M13.1-15.7h0M26.6-24.8h0M21.8-18.2h0M24.6-24.8h0M25.4-24.6h0M24.3-22.0h0M24.1-25.6h0M19.7-20.2h0M17.2-21.4h0M27.6-26.7h0M22.1-25.0h0M20.0-20.2h0M30.6-27.0h0M24.7-26.7h0M20.9-21.2h0M25.4-24.3h0M6.0-18.1h0M25.4-25.0h0M30.2-27.1h0M21.7-21.3h0M23.6-25.5h0M30.5-29.1h0M26.5-27.4h0M27.3-29.3h0M28.4-22.5h0M21.3-17.9h0M11.3-13.3h0M23.3-22.0h0M25.2-24.6h0M23.2-22.5h0M26.4-26.1h0M28.0-26.6h0M31.1-28.8h0M32.2-31.8h0M24.9-22.7h0M27.1-26.7h0M38.3-35.6h0M24.0-22.7h0M24.2-21.2h0M31.0-29.0h0M24.5-24.1h0M33.2-30.4h0M14.6-12.3h0M19.7-19.5h0M26.2-25.0h0M28.2-27.5h0M29.4-28.0h0M24.8-23.1h0M25.8-23.8h0M45.5-43.9h0M26.3-24.3h0M25.8-25.1h0M19.9-21.9h0M11.1-8.7h0M27.6-26.8h0M30.2-29.2h0M17.6-16.9h0M49.0-45.9h0M30.3-31.9h0M24.5-22.5h0M35.3-35.1h0M32.3-32.0h0M18.3-16.5h0M23.4-23.0h0M26.2-25.3h0M12.2-12.4h0M30.2-28.5h0M20.8-21.9h0M27.6-26.7h0M16.5-14.7h0M21.2-21.0h0M24.5-23.9h0M11.9-11.8h0M21.8-17.2h0M33.1-34.8h0M13.2-17.7h0M27.1-26.5h0M19.7-19.0h0M25.1-23.7h0M29.1-28.1h0M9.9-19.3h0M19.8-20.7h0M32.0-34.8h0M22.4-20.3h0M17.6-18.0h0M20.7-19.2h0M26.5-27.6h0M26.0-22.0h0M22.5-20.4h0M24.8-24.6h0M24.0-21.0h0M27.5-25.9h0M24.7-24.3h0M27.0-23.5h0M15.0-12.1h0M25.2-23.5h0M23.1-20.5h0M21.7-19.3h0M23.7-22.7h0M19.9-18.2h0M32.2-30.9h0M17.9-18.2h0M28.3-25.8h0M20.0-20.6h0M14.4-20.5h0M22.9-28.3h0M22.7-21.8h0M26.5-25.5h0M23.6-25.0h0M20.1-23.2h0M18.6-18.9h0M20.0-20.1h0M20.5-19.3h0M23.7-25.3h0M26.8-25.8h0M19.3-16.0h0M19.5-19.9h0M33.2-32.7h0M17.1-18.0h0M13.9-15.5h0M27.8-25.9h0M20.8-16.7h0M13.4-17.0h0M20.2-20.7h0M32.3-28.7h0M18.6-18.3h0M28.5-28.4h0M32.4-31.2h0M16.8-17.6h0M26.0-28.2h0M29.4-28.3h0M23.1-18.7h0M19.2-13.1h0M18.1-19.3h0M18.2-20.8h0M22.4-18.2h0M33.6-33.0h0M20.0-18.1h0M13.0-15.1h0M29.3-26.9h0M19.9-19.8h0M13.2-19.0h0M31.6-30.0h0M14.7-15.7h0M25.9-26.6h0M20.8-25.3h0M26.4-27.4h0M32.5-28.1h0M32.2-30.1h0M21.1-20.6h0M26.2-21.0h0M26.8-26.3h0M22.5-25.4h0M19.8-19.3h0M27.3-26.3h0M21.6-21.0h0M22.0-22.9h0M18.9-18.3h0M23.7-22.3h0M25.8-25.3h0M27.9-28.4h0M22.4-20.4h0M23.7-23.2h0M28.1-27.0h0M20.5-19.6h0M23.4-24.9h0M32.1-29.7h0M28.3-26.7h0M24.6-23.9h0M26.7-23.0h0M27.5-27.6h0M20.7-20.3h0M22.5-21.2h0M19.7-18.5h0M22.9-19.0h0M32.0-29.3h0M27.1-25.3h0M24.8-23.5h0M25.8-25.2h0M23.5-23.5h0M24.3-19.3h0M19.8-16.3h0M24.8-21.6h0M24.0-20.7h0M22.4-20.9h0M22.3-23.4h0M26.2-25.5h0M19.2-18.4h0M19.6-18.3h0M25.7-26.3h0M28.4-28.2h0M24.6-21.1h0M27.8-27.6h0M16.7-17.1h0M22.3-22.7h0M21.1-21.5h0M32.6-31.1h0M10.1-20.2h0M26.8-27.0h0M16.4-17.5h0M24.3-24.8h0M21.0-21.7h0M29.6-29.3h0M18.3-19.6h0M20.8-22.3h0M25.3-25.1h0M16.7-19.4h0M21.8-23.0h0M30.8-27.5h0M24.9-17.0h0M26.7-28.3h0M23.8-21.9h0M27.0-24.3h0M25.8-24.6h0M21.1-25.8h0M38.7-35.8h0M21.8-21.6h0M35.1-33.1h0M24.4-26.9h0M26.8-27.2h0M22.3-20.0h0M23.8-23.3h0M24.4-24.2h0M16.9-15.9h0M24.7-23.3h0M28.0-24.9h0M23.8-23.4h0M23.9-20.9h0M25.1-24.8h0M21.3-23.7h0M21.4-20.5h0M18.8-16.1h0M20.1-21.6h0M34.7-31.7h0M17.1-20.0h0M33.4-30.8h0M31.1-29.2h0M17.2-19.8h0M32.3-29.6h0M30.7-27.2h0M16.8-17.9h0M23.2-20.5h0M21.5-23.6h0M17.6-22.3h0M26.8-23.7h0M20.2-21.3h0M28.9-28.8h0M31.5-30.0h0M27.7-28.1h0M15.5-15.4h0M24.8-24.7h0M29.3-28.2h0M20.5-16.4h0M20.1-17.7h0M20.6-18.8h0M34.7-32.3h0M15.6-16.8h0M23.7-21.0h0M13.9-8.3h0M27.2-26.3h0M25.5-24.2h0M28.1-28.0h0M25.6-22.6h0M21.9-16.2h0M20.5-19.2h0M19.9-17.7h0M24.8-25.1h0M16.1-15.2h0M15.3-16.5h0M15.0-15.6h0M21.3-22.3h0M31.8-30.7h0M33.8-32.8h0M21.0-18.6h0M32.3-28.8h0M26.9-26.5h0M10.7-14.1h0M26.6-27.1h0M33.9-31.4h0M27.7-26.8h0M22.4-20.1h0M17.2-16.9h0M24.8-19.5h0M22.2-20.6h0M14.0-12.2h0M19.0-21.7h0M28.7-26.5h0M21.6-22.4h0M24.7-25.5h0M20.4-21.1h0M23.1-25.1h0M7.5-9.5h0M13.7-15.8h0M19.3-16.3h0M25.4-25.5h0M17.5-15.8h0M27.8-30.7h0M28.0-27.5h0M20.4-18.8h0M25.3-21.3h0M26.9-26.4h0M14.0-17.2h0M21.2-22.2h0M25.5-25.0h0M23.2-23.3h0M27.8-29.6h0M29.6-29.2h0M25.7-25.9h0M15.4-17.1h0M28.8-28.7h0M20.8-21.3h0M21.0-19.8h0M30.8-29.4h0M24.0-22.5h0M30.6-30.6h0M26.5-25.5h0M28.0-23.0h0M17.3-14.8h0M21.2-20.4h0M31.6-23.5h0M29.1-26.0h0M24.0-22.7h0M14.5-10.7h0M33.0-30.8h0M19.1-16.7h0M26.2-25.2h0M20.7-18.6h0M37.6-36.0h0M28.7-26.7h0M27.5-27.0h0M24.8-23.6h0M17.3-16.2h0M33.0-32.3h0M28.9-30.7h0M20.4-22.2h0M23.2-21.8h0M31.7-29.5h0M29.3-28.4h0M22.5-23.3h0M17.1-17.5h0M12.1-10.6h0M29.5-28.1h0M32.7-32.5h0M21.4-20.4h0M29.8-29.7h0M24.0-22.6h0M28.0-26.6h0M24.2-23.0h0M29.1-27.4h0M8.5-11.0h0M17.0-12.5h0M35.4-32.7h0M20.6-20.7h0M31.8-30.1h0M13.3-13.0h0M26.2-27.7h0M27.9-27.3h0M29.3-27.5h0M20.3-22.7h0M31.9-30.8h0M28.1-29.3h0M23.6-20.7h0M25.0-23.4h0M37.4-35.8h0M36.4-32.9h0M27.7-26.8h0M20.4-23.4h0M29.8-27.7h0M34.5-31.8h0M23.1-25.2h0M34.0-32.2h0M22.3-19.8h0M10.5-10.4h0M21.7-22.7h0M22.4-19.1h0M20.2-16.4h0M24.6-25.1h0M33.7-33.6h0M25.9-24.3h0M28.1-26.4h0M23.3-20.8h0M16.7-17.9h0M21.8-18.8h0M14.9-13.9h0M25.5-24.2h0M20.7-21.7h0M21.7-19.9h0M30.9-27.7h0M21.6-17.8h0M50.7-48.8h0M15.5-22.3h0M29.1-26.4h0M1.9-6.0h0M33.3-31.8h0M34.7-32.4h0M23.1-20.7h0M32.1-29.4h0M19.3-21.4h0M30.0-27.9h0M13.4-12.5h0"/><path d="M18.8-19.1h0M27.8-25.5h0M29.0-28.2h0M31.7-30.8h0M24.9-22.9h0M14.1-20.6h0M25.6-23.7h0M21.5-18.6h0M21.7-22.6h0M18.3-19.0h0M23.6-23.0h0M25.1-21.2h0M12.5-11.3h0M28.6-28.3h0M23.4-20.9h0M30.7-27.9h0M24.6-20.9h0M21.7-20.7h0M19.6-17.9h0M23.0-24.8h0M20.1-19.1h0M32.0-29.8h0M28.6-28.8h0M19.5-21.1h0M24.4-23.7h0M25.8-22.7h0M21.0-21.9h0M28.1-26.2h0M15.8-16.3h0M22.0-27.9h0M19.3-21.0h0M15.3-15.1h0M25.2-25.6h0M18.7-16.8h0M22.8-20.8h0M20.8-22.3h0M22.6-27.7h0M17.1-18.1h0M22.8-24.3h0M20.9-19.6h0M23.0-19.7h0M17.9-16.9h0M24.1-24.7h0M14.0-11.9h0M26.1-26.1h0M34.6-32.6h0M28.6-28.2h0M21.4-22.2h0M21.8-19.5h0M18.4-16.3h0M16.3-18.2h0M20.3-21.9h0M28.0-28.7h0M31.3-31.5h0M22.2-21.6h0M31.0-31.0h0M19.2-16.5h0M41.8-40.1h0M18.8-18.5h0M22.1-19.8h0M23.7-21.7h0M27.6-26.0h0M18.8-20.8h0M29.4-29.6h0M21.3-21.3h0M26.5-27.0h0M25.2-27.0h0M26.2-25.7h0M28.1-27.4h0M20.2-20.0h0M18.8-21.5h0M20.7-16.4h0M32.5-30.2h0M29.3-29.8h0M18.3-27.0h0M23.8-19.0h0M19.9-19.1h0M24.4-23.6h0M23.8-23.6h0M29.9-26.5h0M25.1-23.0h0M17.2-18.0h0M25.6-26.7h0M19.8-18.7h0M23.1-25.8h0M25.4-26.6h0M24.1-24.0h0M10.1-9.3h0M23.9-23.5h0M13.0-16.4h0M25.3-20.4h0M24.5-25.1h0M27.4-22.6h0M16.8-18.5h0M25.8-26.7h0M28.0-26.9h0M23.0-22.9h0M23.0-23.2h0M26.8-27.5h0M22.1-21.3h0M24.7-24.1h0M13.5-14.9h0M14.6-14.2h0M26.0-22.9h0M19.1-17.3h0M24.1-19.7h0M19.9-18.1h0M24.2-24.4h0M23.9-22.8h0M20.8-20.6h0M29.1-27.4h0M30.8-28.0h0M17.7-12.4h0M22.3-20.1h0M32.2-28.2h0M31.3-29.9h0M4.9-7.4h0M22.7-21.1h0M15.7-18.7h0M41.7-40.0h0M26.4-26.1h0M21.0-21.1h0M29.5-28.2h0M29.9-29.4h0M21.8-22.0h0M24.2-26.5h0M24.4-21.2h0M24.9-23.6h0M19.5-21.3h0M28.7-28.3h0M24.4-23.1h0M24.2-22.2h0M18.0-18.6h0M16.5-17.9h0M31.7-30.7h0M24.6-18.3h0M29.6-31.4h0M18.2-17.9h0M16.7-17.4h0M19.6-17.9h0M19.7-20.2h0M26.9-23.4h0M22.3-20.4h0M25.9-22.9h0M22.0-20.9h0M35.0-33.1h0M7.7-9.0h0M14.8-12.3h0M29.5-30.1h0M13.1-11.2h0M13.5-18.6h0M20.4-22.3h0M37.5-36.0h0M22.1-22.9h0M18.7-19.9h0M23.5-23.8h0M15.3-14.9h0M28.2-24.8h0M24.5-28.6h0M21.8-21.4h0M25.2-24.2h0M36.5-35.8h0M21.6-22.6h0M16.7-18.3h0M31.0-29.0h0M26.1-23.5h0M11.0-7.8h0M16.4-17.5h0M22.7-21.7h0M22.9-24.7h0M23.7-22.2h0M13.8-13.2h0M31.2-30.4h0M22.6-25.1h0M22.8-24.6h0M23.5-18.8h0M22.4-23.2h0M14.5-13.1h0M18.8-20.2h0M18.0-17.9h0M23.5-22.0h0M32.2-29.7h0M19.4-20.9h0M30.8-29.0h0M26.7-23.5h0M16.9-14.6h0M27.4-26.5h0M13.3-18.0h0M25.3-24.0h0M29.7-26.7h0M13.4-13.8h0M22.3-22.5h0M30.1-28.5h0M26.6-24.0h0M16.9-15.6h0M12.0-9.4h0M20.0-20.1h0M17.9-17.7h0M29.9-28.2h0M25.9-22.2h0M16.9-15.1h0M26.9-27.5h0M18.3-17.4h0M17.1-17.3h0M24.0-23.2h0M28.2-27.8h0M26.2-25.3h0M28.2-27.3h0M21.1-20.5h0M25.8-25.9h0M23.6-23.2h0M12.6-17.3h0M21.3-22.0h0M24.2-26.9h0M21.7-18.8h0M27.9-20.7h0M21.8-21.2h0M26.6-25.2h0M27.8-27.8h0M25.8-24.5h0M26.8-24.4h0M21.7-22.5h0M29.8-27.9h0M12.8-11.3h0M35.6-34.5h0M25.2-21.8h0M14.7-14.9h0M26.6-25.5h0M32.6-31.4h0M28.7-28.2h0M22.0-16.9h0M23.6-22.3h0M24.9-25.9h0M21.0-20.3h0M25.3-26.5h0M10.1-9.5h0M19.6-22.3h0M15.0-21.0h0M24.2-24.8h0M23.5-25.1h0M14.3-14.9h0M31.1-31.6h0M20.5-18.5h0M23.8-22.1h0M25.2-23.1h0M17.0-18.4h0M24.1-26.1h0M30.4-28.5h0M26.7-25.9h0M16.4-11.0h0M45.4-44.1h0M34.3-32.6h0M19.3-16.6h0M23.3-22.9h0M17.9-18.0h0M23.5-20.6h0M25.8-25.5h0M27.7-26.5h0M21.5-20.4h0M19.1-22.7h0M22.0-22.9h0M26.6-23.2h0M19.0-14.4h0M8.8-11.0h0M31.3-28.6h0M31.3-31.2h0M25.9-24.4h0M25.6-23.3h0M29.4-28.4h0M22.8-23.0h0M20.7-23.2h0M16.9-17.4h0M18.3-16.9h0M26.9-29.7h0M24.0-24.2h0M7.3-4.5h0M21.6-22.3h0M36.7-26.0h0M29.5-29.3h0M32.7-30.1h0M18.6-13.2h0M23.1-22.2h0M28.7-27.4h0M20.1-21.7h0M20.9-21.9h0M29.4-25.4h0M20.9-19.5h0M19.8-17.2h0M18.7-14.6h0M28.9-29.7h0M21.6-19.2h0M25.4-23.3h0M23.2-21.6h0M24.9-23.9h0M20.8-23.6h0M23.8-23.7h0M26.2-26.5h0M19.9-17.1h0M23.1-19.5h0M30.1-29.0h0M20.3-15.5h0M24.7-24.9h0M29.9-30.4h0M12.5-11.1h0M15.9-18.7h0M26.7-25.5h0M16.9-15.8h0M20.1-19.0h0M21.8-23.7h0M19.0-19.6h0M20.4-19.1h0M37.9-36.0h0M24.9-25.2h0M14.0-16.1h0M20.3-19.6h0M25.2-25.0h0M22.6-23.4h0M17.2-18.3h0M24.6-22.9h0M26.5-23.8h0M25.2-24.6h0M29.2-27.6h0M21.2-22.4h0M23.6-21.6h0M20.8-19.4h0M21.2-20.5h0M37.8-37.1h0M26.4-27.2h0M25.5-24.9h0M22.5-19.3h0M26.3-25.7h0M17.9-19.4h0M24.1-19.6h0M22.1-20.3h0M29.9-29.2h0M25.1-25.1h0M20.9-20.9h0M21.7-18.7h0M24.8-23.9h0M19.4-24.2h0M22.7-26.1h0M19.7-22.4h0M20.8-21.2h0M16.9-14.2h0M22.3-24.4h0M27.7-28.1h0M22.7-22.2h0M11.0-12.5h0M22.8-20.5h0M14.2-12.0h0M27.2-28.5h0M31.4-29.7h0M25.8-25.2h0M29.2-28.7h0M27.8-26.9h0M25.6-22.8h0M33.6-33.7h0M33.5-30.8h0M23.4-23.8h0M31.8-32.3h0M16.3-11.0h0M18.4-18.0h0M29.7-28.4h0M17.7-19.2h0M20.8-24.7h0M17.3-19.6h0M24.3-24.0h0M17.9-17.2h0M17.4-17.8h0M19.5-23.7h0M20.6-20.1h0M22.9-22.1h0M17.4-15.4h0M23.8-25.6h0M23.3-25.1h0M28.7-29.2h0M29.2-28.2h0M15.0-15.8h0M24.1-19.4h0M28.0-27.0h0M16.9-13.2h0M29.4-28.3h0M13.0-14.9h0M31.0-31.1h0M31.6-32.1h0M16.8-13.4h0M25.1-23.0h0M20.5-18.3h0M20.6-17.6h0M24.0-19.4h0M24.5-25.9h0M17.5-15.9h0M24.0-23.5h0M25.2-26.5h0M28.5-26.7h0M14.6-15.0h0M22.2-16.9h0M23.8-21.8h0M36.6-36.3h0M16.2-15.9h0M30.1-29.3h0M25.5-24.0h0M31.6-28.4h0M20.4-19.5h0M13.5-13.9h0M31.0-30.4h0M29.7-30.7h0M20.8-20.4h0M18.4-16.8h0M22.1-22.4h0M11.6-11.3h0M17.2-20.2h0M20.6-20.1h0M26.1-22.3h0M18.0-15.8h0M23.3-22.6h0M20.3-21.7h0M18.3-20.5h0M6.6-10.7h0M26.8-26.3h0M21.7-22.2h0M20.1-20.3h0M27.0-30.1h0M16.8-16.5h0M24.3-24.2h0M18.6-21.3h0M28.3-25.5h0M20.8-18.8h0M18.5-20.0h0M25.2-21.6h0M18.3-18.5h0M30.3-29.4h0M26.7-27.1h0M18.4-17.0h0M30.9-28.1h0M43.8-42.3h0M29.7-28.5h0M35.7-36.2h0M10.6-10.3h0M17.5-28.2h0M23.2-20.6h0M24.5-21.1h0M23.8-22.9h0M25.4-23.8h0M29.1-29.1h0M20.5-21.4h0M32.9-31.8h0M32.7-33.5h0M20.3-20.2h0M25.8-22.0h0M16.5-16.6h0M22.8-22.5h0M24.3-25.5h0M24.9-22.9h0M19.4-16.9h0M21.6-20.3h0M32.4-30.9h0M21.1-22.2h0M31.1-31.3h0M28.3-27.4h0M21.3-21.2h0M17.0-14.2h0M25.0-22.3h0M23.6-20.9h0M16.7-19.8h0M26.6-21.3h0M17.0-15.4h0M24.5-23.5h0M21.8-22.2h0M25.2-27.9h0M31.2-30.4h0M13.4-11.2h0M11.5-16.9h0M27.8-24.2h0M13.2-13.6h0M21.2-22.4h0M23.9-23.3h0M26.4-29.7h0M16.8-16.8h0M25.7-24.0h0M19.3-23.6h0M22.9-23.1h0M25.1-21.8h0M21.4-21.6h0M21.4-22.0h0M27.0-21.3h0M21.4-22.3h0M22.8-20.3h0M28.9-27.7h0M22.0-20.4h0M23.4-21.6h0M26.1-23.2h0M34.0-33.3h0M27.6-26.0h0M25.3-23.9h0M20.0-19.3h0M27.6-26.1h0M18.9-21.1h0M23.7-20.9h0M18.4-18.9h0M25.6-21.4h0M34.5-31.6h0M29.1-29.8h0M28.1-27.2h0M17.9-14.5h0M29.0-29.7h0M15.1-18.1h0M25.3-24.1h0M29.1-23.1h0M34.9-35.0h0M23.9-24.4h0M31.8-35.0h0M30.8-27.9h0M6.2-8.2h0M28.8-24.1h0M25.3-21.6h0M24.2-21.5h0M22.2-21.8h0M24.0-21.3h0M27.4-29.8h0M32.4-29.1h0M26.7-26.4h0M22.0-22.1h0M28.6-27.3h0M13.7-14.8h0M26.1-26.5h0M19.8-20.9h0M25.0-23.5h0M19.6-17.4h0M22.8-22.8h0M22.3-20.5h0M17.8-18.3h0M29.3-29.4h0M24.5-21.0h0M5.3-3.5h0M29.3-28.0h0M30.4-29.7h0M27.4-27.4h0M16.8-14.8h0M19.6-20.6h0M29.4-28.1h0M20.0-17.4h0M33.1-29.8h0M26.3-27.3h0M25.1-24.5h0M18.2-17.9h0M20.4-19.4h0M21.0-18.5h0M20.2-20.8h0M22.7-21.9h0M22.7-19.7h0M25.9-25.1h0M22.6-15.7h0M22.2-22.9h0M22.9-21.1h0M25.4-23.1h0M28.4-26.5h0M1.8-12.9h0M23.1-20.1h0M16.3-14.9h0M23.6-23.8h0M21.3-24.6h0M21.2-22.2h0M24.9-24.1h0M22.8-23.9h0M22.3-19.7h0M29.5-29.0h0M19.4-15.9h0M26.0-23.7h0M17.8-15.4h0M25.6-23.9h0M27.4-26.2h0M29.8-29.2h0M21.6-23.6h0M19.3-17.3h0M22.3-21.8h0M22.2-20.5h0M10.3-7.9h0M28.9-19.8h0M25.9-24.1h0M27.8-28.9h0M34.8-34.3h0M24.3-23.3h0M28.5-30.2h0M24.4-22.1h0M21.4-24.5h0M22.5-21.5h0M28.6-25.2h0M17.9-18.4h0M22.5-20.3h0M22.8-21.7h0M28.9-26.4h0M22.3-19.4h0M36.6-35.2h0M22.8-21.7h0M13.9-15.6h0M28.8-28.0h0M21.4-22.8h0M26.5-26.4h0M30.2-29.9h0"/></g></defs><g stroke="#eef0f9" stroke-width="0.6"><line x1="52.9" y1="35.6" x2="52.9" y2="98.1"/><line x1="31.2" y1="77.1" x2="96.2" y2="77.1"/><line x1="74.9" y1="35.6" x2="74.9" y2="98.1"/><line x1="31.2" y1="56.1" x2="96.2" y2="56.1"/><line x1="52.9" y1="105.6" x2="52.9" y2="168.1"/><line x1="31.2" y1="147.1" x2="96.2" y2="147.1"/><line x1="74.9" y1="105.6" x2="74.9" y2="168.1"/><line x1="31.2" y1="126.1" x2="96.2" y2="126.1"/><line x1="125.8" y1="105.6" x2="125.8" y2="168.1"/><line x1="104.1" y1="147.1" x2="169.1" y2="147.1"/><line x1="147.8" y1="105.6" x2="147.8" y2="168.1"/><line x1="104.1" y1="126.1" x2="169.1" y2="126.1"/><line x1="52.9" y1="175.7" x2="52.9" y2="238.2"/><line x1="31.2" y1="217.2" x2="96.2" y2="217.2"/><line x1="74.9" y1="175.7" x2="74.9" y2="238.2"/><line x1="31.2" y1="196.2" x2="96.2" y2="196.2"/><line x1="125.8" y1="175.7" x2="125.8" y2="238.2"/><line x1="104.1" y1="217.2" x2="169.1" y2="217.2"/><line x1="147.8" y1="175.7" x2="147.8" y2="238.2"/><line x1="104.1" y1="196.2" x2="169.1" y2="196.2"/><line x1="198.8" y1="175.7" x2="198.8" y2="238.2"/><line x1="177.1" y1="217.2" x2="242.1" y2="217.2"/><line x1="220.8" y1="175.7" x2="220.8" y2="238.2"/><line x1="177.1" y1="196.2" x2="242.1" y2="196.2"/><line x1="52.9" y1="245.7" x2="52.9" y2="308.2"/><line x1="31.2" y1="287.2" x2="96.2" y2="287.2"/><line x1="74.9" y1="245.7" x2="74.9" y2="308.2"/><line x1="31.2" y1="266.2" x2="96.2" y2="266.2"/><line x1="125.8" y1="245.7" x2="125.8" y2="308.2"/><line x1="104.1" y1="287.2" x2="169.1" y2="287.2"/><line x1="147.8" y1="245.7" x2="147.8" y2="308.2"/><line x1="104.1" y1="266.2" x2="169.1" y2="266.2"/><line x1="198.8" y1="245.7" x2="198.8" y2="308.2"/><line x1="177.1" y1="287.2" x2="242.1" y2="287.2"/><line x1="220.8" y1="245.7" x2="220.8" y2="308.2"/><line x1="177.1" y1="266.2" x2="242.1" y2="266.2"/><line x1="271.7" y1="245.7" x2="271.7" y2="308.2"/><line x1="250.0" y1="287.2" x2="315.0" y2="287.2"/><line x1="293.7" y1="245.7" x2="293.7" y2="308.2"/><line x1="250.0" y1="266.2" x2="315.0" y2="266.2"/><line x1="52.9" y1="315.8" x2="52.9" y2="378.3"/><line x1="31.2" y1="357.3" x2="96.2" y2="357.3"/><line x1="74.9" y1="315.8" x2="74.9" y2="378.3"/><line x1="31.2" y1="336.3" x2="96.2" y2="336.3"/><line x1="125.8" y1="315.8" x2="125.8" y2="378.3"/><line x1="104.1" y1="357.3" x2="169.1" y2="357.3"/><line x1="147.8" y1="315.8" x2="147.8" y2="378.3"/><line x1="104.1" y1="336.3" x2="169.1" y2="336.3"/><line x1="198.8" y1="315.8" x2="198.8" y2="378.3"/><line x1="177.1" y1="357.3" x2="242.1" y2="357.3"/><line x1="220.8" y1="315.8" x2="220.8" y2="378.3"/><line x1="177.1" y1="336.3" x2="242.1" y2="336.3"/><line x1="271.7" y1="315.8" x2="271.7" y2="378.3"/><line x1="250.0" y1="357.3" x2="315.0" y2="357.3"/><line x1="293.7" y1="315.8" x2="293.7" y2="378.3"/><line x1="250.0" y1="336.3" x2="315.0" y2="336.3"/><line x1="344.6" y1="315.8" x2="344.6" y2="378.3"/><line x1="322.9" y1="357.3" x2="387.9" y2="357.3"/><line x1="366.6" y1="315.8" x2="366.6" y2="378.3"/><line x1="322.9" y1="336.3" x2="387.9" y2="336.3"/><line x1="52.9" y1="385.8" x2="52.9" y2="448.3"/><line x1="31.2" y1="427.3" x2="96.2" y2="427.3"/><line x1="74.9" y1="385.8" x2="74.9" y2="448.3"/><line x1="31.2" y1="406.3" x2="96.2" y2="406.3"/><line x1="125.8" y1="385.8" x2="125.8" y2="448.3"/><line x1="104.1" y1="427.3" x2="169.1" y2="427.3"/><line x1="147.8" y1="385.8" x2="147.8" y2="448.3"/><line x1="104.1" y1="406.3" x2="169.1" y2="406.3"/><line x1="198.8" y1="385.8" x2="198.8" y2="448.3"/><line x1="177.1" y1="427.3" x2="242.1" y2="427.3"/><line x1="220.8" y1="385.8" x2="220.8" y2="448.3"/><line x1="177.1" y1="406.3" x2="242.1" y2="406.3"/><line x1="271.7" y1="385.8" x2="271.7" y2="448.3"/><line x1="250.0" y1="427.3" x2="315.0" y2="427.3"/><line x1="293.7" y1="385.8" x2="293.7" y2="448.3"/><line x1="250.0" y1="406.3" x2="315.0" y2="406.3"/><line x1="344.6" y1="385.8" x2="344.6" y2="448.3"/><line x1="322.9" y1="427.3" x2="387.9" y2="427.3"/><line x1="366.6" y1="385.8" x2="366.6" y2="448.3"/><line x1="322.9" y1="406.3" x2="387.9" y2="406.3"/><line x1="417.6" y1="385.8" x2="417.6" y2="448.3"/><line x1="395.9" y1="427.3" x2="460.9" y2="427.3"/><line x1="439.6" y1="385.8" x2="439.6" y2="448.3"/><line x1="395.9" y1="406.3" x2="460.9" y2="406.3"/></g><use href="#dg" x="31.2" y="98.1"/><use href="#cc" x="31.2" y="168.1"/><text x="37.4" y="117.0" font-size="5.6" fill="#8a8a8a">R<tspan font-size="3.6" dy="-2">2</tspan><tspan dy="2">=0.988</tspan></text><use href="#dg" x="104.1" y="168.1"/><use href="#cc" x="31.2" y="238.2"/><text x="37.4" y="187.1" font-size="5.6" fill="#8a8a8a">R<tspan font-size="3.6" dy="-2">2</tspan><tspan dy="2">=0.974</tspan></text><use href="#cc" x="104.1" y="238.2"/><text x="110.3" y="187.1" font-size="5.6" fill="#8a8a8a">R<tspan font-size="3.6" dy="-2">2</tspan><tspan dy="2">=0.967</tspan></text><use href="#dg" x="177.1" y="238.2"/><use href="#sc" x="31.2" y="308.2"/><text x="37.4" y="257.1" font-size="5.6" fill="#8a8a8a">R<tspan font-size="3.6" dy="-2">2</tspan><tspan dy="2">=0.89</tspan></text><use href="#sc" x="104.1" y="308.2"/><text x="110.3" y="257.1" font-size="5.6" fill="#8a8a8a">R<tspan font-size="3.6" dy="-2">2</tspan><tspan dy="2">=0.888</tspan></text><use href="#sc" x="177.1" y="308.2"/><text x="183.3" y="257.1" font-size="5.6" fill="#8a8a8a">R<tspan font-size="3.6" dy="-2">2</tspan><tspan dy="2">=0.894</tspan></text><use href="#dg" x="250.0" y="308.2"/><use href="#sc" x="31.2" y="378.3"/><text x="37.4" y="327.2" font-size="5.6" fill="#8a8a8a">R<tspan font-size="3.6" dy="-2">2</tspan><tspan dy="2">=0.894</tspan></text><use href="#sc" x="104.1" y="378.3"/><text x="110.3" y="327.2" font-size="5.6" fill="#8a8a8a">R<tspan font-size="3.6" dy="-2">2</tspan><tspan dy="2">=0.889</tspan></text><use href="#sc" x="177.1" y="378.3"/><text x="183.3" y="327.2" font-size="5.6" fill="#8a8a8a">R<tspan font-size="3.6" dy="-2">2</tspan><tspan dy="2">=0.899</tspan></text><use href="#ss" x="250.0" y="378.3"/><text x="256.2" y="327.2" font-size="5.6" fill="#8a8a8a">R<tspan font-size="3.6" dy="-2">2</tspan><tspan dy="2">=0.984</tspan></text><use href="#dg" x="322.9" y="378.3"/><use href="#sc" x="31.2" y="448.3"/><text x="37.4" y="397.2" font-size="5.6" fill="#8a8a8a">R<tspan font-size="3.6" dy="-2">2</tspan><tspan dy="2">=0.889</tspan></text><use href="#sc" x="104.1" y="448.3"/><text x="110.3" y="397.2" font-size="5.6" fill="#8a8a8a">R<tspan font-size="3.6" dy="-2">2</tspan><tspan dy="2">=0.889</tspan></text><use href="#sc" x="177.1" y="448.3"/><text x="183.3" y="397.2" font-size="5.6" fill="#8a8a8a">R<tspan font-size="3.6" dy="-2">2</tspan><tspan dy="2">=0.895</tspan></text><use href="#ss" x="250.0" y="448.3"/><text x="256.2" y="397.2" font-size="5.6" fill="#8a8a8a">R<tspan font-size="3.6" dy="-2">2</tspan><tspan dy="2">=0.96</tspan></text><use href="#ss" x="322.9" y="448.3"/><text x="329.1" y="397.2" font-size="5.6" fill="#8a8a8a">R<tspan font-size="3.6" dy="-2">2</tspan><tspan dy="2">=0.965</tspan></text><use href="#dg" x="395.9" y="448.3"/><g stroke="#7a7a7a" stroke-width="1.3"><line x1="31.2" y1="35.6" x2="31.2" y2="98.6"/><line x1="29.0" y1="98.1" x2="31.2" y2="98.1"/><line x1="29.0" y1="77.1" x2="31.2" y2="77.1"/><line x1="29.0" y1="56.1" x2="31.2" y2="56.1"/><line x1="31.2" y1="105.6" x2="31.2" y2="168.6"/><line x1="29.0" y1="168.1" x2="31.2" y2="168.1"/><line x1="29.0" y1="147.1" x2="31.2" y2="147.1"/><line x1="29.0" y1="126.1" x2="31.2" y2="126.1"/><line x1="31.2" y1="175.7" x2="31.2" y2="238.7"/><line x1="29.0" y1="238.2" x2="31.2" y2="238.2"/><line x1="29.0" y1="217.2" x2="31.2" y2="217.2"/><line x1="29.0" y1="196.2" x2="31.2" y2="196.2"/><line x1="31.2" y1="245.7" x2="31.2" y2="308.7"/><line x1="29.0" y1="308.2" x2="31.2" y2="308.2"/><line x1="29.0" y1="287.2" x2="31.2" y2="287.2"/><line x1="29.0" y1="266.2" x2="31.2" y2="266.2"/><line x1="31.2" y1="315.8" x2="31.2" y2="378.8"/><line x1="29.0" y1="378.3" x2="31.2" y2="378.3"/><line x1="29.0" y1="357.3" x2="31.2" y2="357.3"/><line x1="29.0" y1="336.3" x2="31.2" y2="336.3"/><line x1="31.2" y1="385.8" x2="31.2" y2="448.8"/><line x1="29.0" y1="448.3" x2="31.2" y2="448.3"/><line x1="29.0" y1="427.3" x2="31.2" y2="427.3"/><line x1="29.0" y1="406.3" x2="31.2" y2="406.3"/><line x1="30.7" y1="448.3" x2="96.2" y2="448.3"/><line x1="52.9" y1="448.3" x2="52.9" y2="450.5"/><line x1="74.9" y1="448.3" x2="74.9" y2="450.5"/><line x1="103.6" y1="448.3" x2="169.1" y2="448.3"/><line x1="125.8" y1="448.3" x2="125.8" y2="450.5"/><line x1="147.8" y1="448.3" x2="147.8" y2="450.5"/><line x1="176.6" y1="448.3" x2="242.1" y2="448.3"/><line x1="198.8" y1="448.3" x2="198.8" y2="450.5"/><line x1="220.8" y1="448.3" x2="220.8" y2="450.5"/><line x1="249.5" y1="448.3" x2="315.0" y2="448.3"/><line x1="271.7" y1="448.3" x2="271.7" y2="450.5"/><line x1="293.7" y1="448.3" x2="293.7" y2="450.5"/><line x1="322.4" y1="448.3" x2="387.9" y2="448.3"/><line x1="344.6" y1="448.3" x2="344.6" y2="450.5"/><line x1="366.6" y1="448.3" x2="366.6" y2="450.5"/><line x1="395.4" y1="448.3" x2="460.9" y2="448.3"/><line x1="417.6" y1="448.3" x2="417.6" y2="450.5"/><line x1="439.6" y1="448.3" x2="439.6" y2="450.5"/></g><text x="27.6" y="100.3" font-size="6.2" font-weight="bold" text-anchor="end" fill="#333">10</text><text x="27.6" y="79.3" font-size="6.2" font-weight="bold" text-anchor="end" fill="#333">15</text><text x="27.6" y="58.3" font-size="6.2" font-weight="bold" text-anchor="end" fill="#333">20</text><text x="27.6" y="170.3" font-size="6.2" font-weight="bold" text-anchor="end" fill="#333">10</text><text x="27.6" y="149.3" font-size="6.2" font-weight="bold" text-anchor="end" fill="#333">15</text><text x="27.6" y="128.3" font-size="6.2" font-weight="bold" text-anchor="end" fill="#333">20</text><text x="27.6" y="240.4" font-size="6.2" font-weight="bold" text-anchor="end" fill="#333">10</text><text x="27.6" y="219.4" font-size="6.2" font-weight="bold" text-anchor="end" fill="#333">15</text><text x="27.6" y="198.4" font-size="6.2" font-weight="bold" text-anchor="end" fill="#333">20</text><text x="27.6" y="310.4" font-size="6.2" font-weight="bold" text-anchor="end" fill="#333">10</text><text x="27.6" y="289.4" font-size="6.2" font-weight="bold" text-anchor="end" fill="#333">15</text><text x="27.6" y="268.4" font-size="6.2" font-weight="bold" text-anchor="end" fill="#333">20</text><text x="27.6" y="380.5" font-size="6.2" font-weight="bold" text-anchor="end" fill="#333">10</text><text x="27.6" y="359.5" font-size="6.2" font-weight="bold" text-anchor="end" fill="#333">15</text><text x="27.6" y="338.5" font-size="6.2" font-weight="bold" text-anchor="end" fill="#333">20</text><text x="27.6" y="450.5" font-size="6.2" font-weight="bold" text-anchor="end" fill="#333">10</text><text x="27.6" y="429.5" font-size="6.2" font-weight="bold" text-anchor="end" fill="#333">15</text><text x="27.6" y="408.5" font-size="6.2" font-weight="bold" text-anchor="end" fill="#333">20</text><text x="52.9" y="459.1" font-size="6.2" font-weight="bold" text-anchor="middle" fill="#333">15</text><text x="74.9" y="459.1" font-size="6.2" font-weight="bold" text-anchor="middle" fill="#333">20</text><text x="125.8" y="459.1" font-size="6.2" font-weight="bold" text-anchor="middle" fill="#333">15</text><text x="147.8" y="459.1" font-size="6.2" font-weight="bold" text-anchor="middle" fill="#333">20</text><text x="198.8" y="459.1" font-size="6.2" font-weight="bold" text-anchor="middle" fill="#333">15</text><text x="220.8" y="459.1" font-size="6.2" font-weight="bold" text-anchor="middle" fill="#333">20</text><text x="271.7" y="459.1" font-size="6.2" font-weight="bold" text-anchor="middle" fill="#333">15</text><text x="293.7" y="459.1" font-size="6.2" font-weight="bold" text-anchor="middle" fill="#333">20</text><text x="344.6" y="459.1" font-size="6.2" font-weight="bold" text-anchor="middle" fill="#333">15</text><text x="366.6" y="459.1" font-size="6.2" font-weight="bold" text-anchor="middle" fill="#333">20</text><text x="417.6" y="459.1" font-size="6.2" font-weight="bold" text-anchor="middle" fill="#333">15</text><text x="439.6" y="459.1" font-size="6.2" font-weight="bold" text-anchor="middle" fill="#333">20</text><text transform="translate(16.4 69.3) rotate(-90)" font-size="10.4" text-anchor="middle">C-EV 1</text><text x="58.7" y="473.4" font-size="10.4" text-anchor="middle">C-EV 1</text><text transform="translate(16.4 135.9) rotate(-90)" font-size="10.4" text-anchor="middle">C-EV 2</text><text x="133.4" y="473.4" font-size="10.4" text-anchor="middle">C-EV 2</text><text transform="translate(16.4 205.8) rotate(-90)" font-size="10.4" text-anchor="middle">C-EV 3</text><text x="199.9" y="473.4" font-size="10.4" text-anchor="middle">C-EV 3</text><text transform="translate(16.4 278.6) rotate(-90)" font-size="10.4" text-anchor="middle">SIRP-EV 1</text><text x="280.5" y="473.4" font-size="10.4" text-anchor="middle">SIRP-EV 1</text><text transform="translate(16.4 345.2) rotate(-90)" font-size="10.4" text-anchor="middle">SIRP-EV 2</text><text x="354.1" y="473.4" font-size="10.4" text-anchor="middle">SIRP-EV 2</text><text transform="translate(16.4 413.3) rotate(-90)" font-size="10.4" text-anchor="middle">SIRP-EV 3</text><text x="420.5" y="473.4" font-size="10.4" text-anchor="middle">SIRP-EV 3</text><rect x="159.8" y="0" width="140" height="182.3" fill="#fff"/><defs><clipPath id="va0"><circle cx="216.68" cy="85.75" r="52.2"/></clipPath><clipPath id="va1"><circle cx="229.32" cy="85.75" r="52.2"/></clipPath><clipPath id="va2"><circle cx="223.00" cy="96.70" r="52.2"/></clipPath></defs><circle cx="216.68" cy="85.75" r="52.2" fill="#a8a7ac"/><circle cx="229.32" cy="85.75" r="52.2" fill="#a8a7ac"/><circle cx="223.00" cy="96.70" r="52.2" fill="#a8a7ac"/><circle cx="229.32" cy="85.75" r="52.2" fill="#f1f1f1" clip-path="url(#va0)"/><circle cx="223.00" cy="96.70" r="52.2" fill="#f1f1f1" clip-path="url(#va1)"/><circle cx="223.00" cy="96.70" r="52.2" fill="#f1f1f1" clip-path="url(#va0)"/><g clip-path="url(#va0)"><circle cx="223.00" cy="96.70" r="52.2" fill="#c2c1c6" clip-path="url(#va1)"/></g><text x="223.2" y="45.1" font-size="8.5" text-anchor="middle" fill="#222">9</text><text x="175.2" y="66.9" font-size="8.5" text-anchor="middle" fill="#222">4</text><text x="270.2" y="67.3" font-size="8.5" text-anchor="middle" fill="#222">6</text><text x="221.7" y="94.8" font-size="8.5" text-anchor="middle" fill="#222">7,332</text><text x="183.7" y="117.2" font-size="8.5" text-anchor="middle" fill="#222">17</text><text x="264.0" y="117.2" font-size="8.5" text-anchor="middle" fill="#222">12</text><text x="221.3" y="147.0" font-size="8.5" text-anchor="middle" fill="#222">8</text><text x="223.5" y="9.8" font-size="10.6" font-weight="bold" text-anchor="middle">C-EV</text><text x="223.5" y="23.4" font-size="11.1" font-weight="bold" text-anchor="middle">n=7,388</text><text x="189.2" y="18.2" font-size="9.75" text-anchor="end" fill="#333">C-EV 1</text><text x="189.6" y="29.9" font-size="9.7" text-anchor="end" fill="#333">(n=7,362)</text><text x="254.5" y="18.2" font-size="9.75" fill="#333">C-EV 2</text><text x="254.5" y="29.9" font-size="9.7" fill="#333">(n=7,359)</text><text x="221.8" y="163.2" font-size="9.75" text-anchor="middle" fill="#333">C-EV 3</text><text x="222.0" y="175.7" font-size="9.7" text-anchor="middle" fill="#333">(n=7,369)</text><defs><clipPath id="vb0"><circle cx="384.8" cy="88.7" r="54.3"/></clipPath></defs><circle cx="384.8" cy="88.7" r="54.3" fill="#aaa9b2"/><circle cx="392.4" cy="88.7" r="54.3" fill="#e5cf5b"/><circle cx="392.4" cy="88.7" r="54.3" fill="#f3f8b3" clip-path="url(#vb0)"/><text x="333.9" y="93.4" font-size="8.5" text-anchor="middle" fill="#222">6</text><text x="388.9" y="93.4" font-size="8.5" text-anchor="middle" fill="#222">7,382</text><text x="442.2" y="93.4" font-size="8.5" text-anchor="middle" fill="#222">3</text><text x="390.0" y="8.9" font-size="11.15" font-weight="bold" text-anchor="middle">C-EV intersection (n=7,388)</text><text x="390.2" y="22.9" font-size="11.15" font-weight="bold" text-anchor="middle">SIRP-EV intersection (n=7,385)</text><text x="329.3" y="40.9" font-size="9.75" text-anchor="end" fill="#333">C-EV</text><text x="329.6" y="52.6" font-size="9.7" text-anchor="end" fill="#333">(n=7,388)</text><text x="447.0" y="40.9" font-size="9.75" fill="#333">SIRP-EV</text><text x="447.0" y="52.6" font-size="9.7" fill="#333">(n=7,385)</text><defs><clipPath id="vc0"><circle cx="380.18" cy="234.35" r="52.3"/></clipPath><clipPath id="vc1"><circle cx="392.82" cy="234.35" r="52.3"/></clipPath><clipPath id="vc2"><circle cx="386.50" cy="245.30" r="52.3"/></clipPath></defs><circle cx="380.18" cy="234.35" r="52.3" fill="#e2cb57"/><circle cx="392.82" cy="234.35" r="52.3" fill="#e2cb57"/><circle cx="386.50" cy="245.30" r="52.3" fill="#e2cb57"/><circle cx="392.82" cy="234.35" r="52.3" fill="#f8f8e6" clip-path="url(#vc0)"/><circle cx="386.50" cy="245.30" r="52.3" fill="#f8f8e6" clip-path="url(#vc1)"/><circle cx="386.50" cy="245.30" r="52.3" fill="#f8f8e6" clip-path="url(#vc0)"/><g clip-path="url(#vc0)"><circle cx="386.50" cy="245.30" r="52.3" fill="#eef96d" clip-path="url(#vc1)"/></g><text x="388.0" y="193.6" font-size="8.5" text-anchor="middle" fill="#222">10</text><text x="339.8" y="215.7" font-size="8.5" text-anchor="middle" fill="#222">1</text><text x="434.9" y="215.7" font-size="8.5" text-anchor="middle" fill="#222">8</text><text x="385.8" y="243.9" font-size="8.5" text-anchor="middle" fill="#222">7,334</text><text x="348.0" y="266.8" font-size="8.5" text-anchor="middle" fill="#222">12</text><text x="427.9" y="266.8" font-size="8.5" text-anchor="middle" fill="#222">9</text><text x="385.8" y="295.4" font-size="8.5" text-anchor="middle" fill="#222">11</text><text x="388.0" y="161.0" font-size="10.95" font-weight="bold" text-anchor="middle">SIRP-EV</text><text x="387.8" y="175.1" font-size="11.1" font-weight="bold" text-anchor="middle">n=7,385</text><text x="343.6" y="169.8" font-size="9.75" text-anchor="end" fill="#333">SIRP-EV 1</text><text x="344.2" y="181.5" font-size="9.7" text-anchor="end" fill="#333">(n=7,357)</text><text x="428.0" y="169.8" font-size="9.75" fill="#333">SIRP-EV 2</text><text x="428.0" y="181.5" font-size="9.7" fill="#333">(n=7,361)</text><text x="386.7" y="311.1" font-size="9.75" text-anchor="middle" fill="#333">SIRP-EV 3</text><text x="386.8" y="323.0" font-size="9.7" text-anchor="middle" fill="#333">(n=7,366)</text><rect x="534.5" y="5.4" width="142.10000000000002" height="106.19999999999999" fill="none" stroke="#777" stroke-width="0.8"/><defs><path id="bp0" d="M590.6 84.1h0M602.3 63.2h0M583.2 76.7h0M596.1 68.7h0M585.4 81.8h0M603.0 61.9h0M592.0 79.0h0M603.8 59.0h0M552.1 87.7h0M569.7 94.0h0M588.6 74.6h0M590.5 66.3h0M574.2 84.2h0M592.8 60.5h0M590.3 68.5h0M597.7 65.5h0M592.6 66.0h0M566.8 85.5h0M583.5 81.1h0M548.8 96.1h0M575.9 62.1h0M585.2 82.7h0M575.2 82.9h0M629.1 45.8h0M580.4 90.1h0M561.5 95.5h0M650.4 22.6h0M575.3 89.7h0M612.1 53.7h0M586.4 81.1h0M600.4 59.2h0M584.1 70.4h0M580.2 75.7h0M588.4 67.1h0M551.7 94.1h0M607.3 56.4h0M574.0 72.5h0M603.5 61.6h0M609.9 64.5h0M587.1 67.8h0M560.9 97.0h0M566.7 84.6h0M606.4 66.2h0M592.8 63.9h0M580.0 75.4h0M595.5 76.0h0M592.4 71.4h0M590.2 71.2h0M578.6 93.5h0M583.7 70.0h0M573.8 89.8h0M600.2 76.3h0M599.1 68.3h0M579.4 57.2h0M570.7 86.1h0M598.4 63.1h0M547.7 92.2h0M577.3 85.0h0M582.9 55.6h0M566.1 83.7h0M580.1 65.6h0M609.2 68.1h0M574.3 83.3h0M584.4 82.5h0M599.8 65.3h0M575.1 68.7h0M587.9 70.6h0M581.6 70.9h0M566.8 85.4h0M579.7 80.2h0M565.8 84.5h0M595.7 65.8h0M578.0 78.2h0M575.8 87.4h0M590.8 54.3h0M593.9 78.6h0M578.6 91.7h0M586.0 72.8h0M581.7 85.0h0M594.0 81.4h0M600.3 72.5h0M566.0 82.1h0M567.0 86.7h0M618.2 43.8h0M587.7 70.7h0M582.2 82.1h0M578.0 82.2h0M578.1 79.0h0M592.9 68.4h0M562.2 85.2h0M589.5 61.8h0M587.7 78.7h0M578.8 80.6h0M582.2 72.3h0M575.5 77.6h0M607.5 65.8h0M568.9 83.0h0M594.8 55.4h0M593.0 67.6h0M562.7 83.3h0M563.6 62.2h0M587.9 80.9h0M570.8 76.9h0M575.3 84.8h0M591.7 74.5h0M584.0 79.7h0M587.7 72.2h0M591.5 55.9h0M595.6 74.9h0M574.1 82.7h0M617.4 57.9h0M587.9 81.1h0M553.1 100.4h0M567.4 86.9h0M546.9 96.9h0M599.9 57.9h0M577.3 70.9h0M589.0 68.0h0M583.1 79.8h0M601.6 64.5h0M567.8 93.7h0M572.2 88.2h0M604.2 65.0h0M592.4 70.7h0M555.2 99.1h0M597.2 62.0h0M630.2 42.2h0M586.6 71.4h0M605.6 61.0h0M593.1 64.5h0M592.9 61.2h0M587.6 70.5h0M568.6 74.5h0M583.6 74.2h0M571.2 88.4h0M576.8 79.8h0M579.4 68.9h0M560.2 89.2h0M547.2 105.2h0M574.0 79.0h0M573.0 82.9h0M583.0 77.5h0M605.5 40.2h0M611.1 65.7h0M589.2 56.0h0M607.5 48.9h0M580.6 80.0h0M579.5 67.4h0M585.1 76.4h0M570.9 80.1h0M556.9 91.3h0M580.3 83.2h0M569.5 100.1h0M568.2 79.4h0M577.8 78.4h0M592.2 54.5h0M577.9 82.7h0M595.2 68.9h0M578.5 86.9h0M584.3 70.7h0M555.8 84.8h0M594.1 80.0h0M585.2 75.5h0M589.3 79.5h0M548.3 89.9h0M565.4 86.2h0M581.0 63.6h0M562.4 79.2h0M578.8 94.5h0M577.8 81.7h0M566.9 88.9h0M576.7 63.6h0M580.8 74.9h0M616.8 48.1h0M593.4 60.9h0M584.0 88.0h0M569.3 90.8h0M602.8 61.7h0M586.6 68.7h0M580.4 63.1h0M562.7 94.6h0M598.9 61.2h0M596.2 71.5h0M576.1 87.6h0M579.8 77.7h0M622.0 41.6h0M604.0 46.3h0M547.9 89.4h0M548.9 96.8h0M589.3 79.3h0M578.6 67.3h0M582.7 68.3h0M560.9 91.4h0M590.2 78.4h0M581.3 77.3h0M553.4 94.5h0M571.5 84.0h0M575.4 90.3h0M552.7 96.1h0M595.8 68.9h0M584.0 76.6h0M611.5 46.2h0M593.0 65.4h0M561.5 86.0h0M602.1 62.6h0M607.4 65.5h0M556.2 88.1h0M587.4 76.7h0M544.1 100.4h0M590.6 77.3h0M584.3 69.2h0M589.1 72.9h0M578.5 73.7h0M572.9 89.9h0M569.4 87.0h0M556.8 85.0h0M576.3 71.0h0M586.1 70.3h0M588.0 70.0h0M572.1 82.8h0M563.6 94.2h0M577.0 80.1h0M583.8 70.1h0M600.1 64.8h0M631.4 48.9h0M608.8 60.8h0M600.1 58.2h0M585.9 68.9h0M575.2 90.1h0M583.2 75.9h0M611.9 49.1h0M592.3 60.5h0M595.8 55.9h0M596.3 69.4h0M591.5 61.5h0M593.5 69.3h0M586.0 76.7h0M589.2 64.5h0M577.8 79.7h0M597.3 61.5h0M592.5 65.2h0M602.4 73.8h0M603.8 53.0h0M592.3 74.2h0M593.4 82.6h0M582.5 74.6h0M542.3 97.2h0M601.4 54.0h0M602.4 61.2h0M593.9 74.5h0M588.5 68.8h0M572.0 78.6h0M592.3 70.5h0M559.8 92.9h0M583.4 63.1h0M593.3 55.3h0M617.0 53.2h0M590.8 57.5h0M599.7 72.7h0M589.7 61.5h0M591.7 83.5h0M565.5 94.4h0M618.3 55.3h0M599.4 68.0h0M594.8 63.2h0M561.5 84.7h0M578.2 66.9h0M584.4 80.4h0M579.6 85.8h0M565.1 90.5h0M606.7 69.0h0M597.5 65.4h0M598.3 78.4h0M582.7 76.8h0M611.7 58.9h0M582.8 73.5h0M596.5 65.9h0M575.8 82.4h0M613.5 53.5h0M592.1 78.1h0M578.5 68.7h0M561.7 87.5h0M590.8 71.0h0M556.8 84.0h0M609.3 66.0h0M593.9 69.4h0M596.5 74.9h0M561.0 92.6h0M586.7 67.5h0M599.5 65.4h0M555.2 90.9h0M601.6 66.5h0M572.2 74.9h0M588.2 88.5h0M618.9 52.5h0M589.7 70.3h0M577.6 65.2h0M600.1 75.3h0M578.6 73.6h0M602.1 52.1h0M572.8 82.8h0M593.3 62.8h0M584.2 78.9h0M572.7 86.8h0M550.0 105.0h0M598.8 64.8h0M580.4 69.9h0M575.4 75.0h0M585.2 66.8h0M595.2 56.3h0M588.2 64.4h0M580.9 84.3h0M600.7 70.5h0M560.3 88.3h0M599.2 65.8h0M569.7 94.9h0M581.0 76.1h0M573.3 79.4h0M573.2 99.7h0M570.8 90.0h0M590.6 73.9h0M556.9 98.8h0M575.7 80.4h0M588.8 64.8h0M589.0 74.2h0M585.3 79.4h0M597.1 61.8h0M605.3 60.8h0M570.0 88.6h0M609.7 56.9h0M598.3 61.7h0M553.4 89.4h0M590.6 60.1h0M603.9 60.9h0M604.1 61.6h0M570.3 94.5h0M591.1 75.0h0M580.3 81.0h0M600.9 85.2h0M609.0 71.9h0M613.1 54.8h0M584.2 70.1h0M566.5 92.0h0M591.3 67.0h0M597.7 70.7h0M588.0 69.4h0M552.6 94.1h0M586.8 75.3h0M591.0 69.4h0M556.2 94.2h0M584.5 72.2h0M556.4 94.2h0M577.4 67.6h0M605.0 62.6h0M582.9 78.8h0M620.9 58.1h0M593.1 66.7h0M581.9 64.6h0M565.6 86.1h0M620.8 50.5h0M557.8 97.6h0M625.3 43.1h0M601.7 69.9h0M579.2 77.8h0M563.6 94.6h0M601.8 69.3h0M598.5 64.3h0M607.9 65.8h0M583.0 84.2h0M601.7 70.0h0M566.2 86.0h0M585.0 83.1h0M601.8 60.4h0M567.9 95.4h0M581.8 68.0h0M558.3 84.5h0M588.1 62.4h0M553.0 103.4h0M591.6 75.7h0M590.9 80.5h0M541.2 106.6h0M553.5 82.2h0M607.3 55.9h0M572.6 71.3h0M556.5 95.9h0M579.5 88.2h0M569.0 90.3h0M585.3 72.7h0M593.5 81.1h0M592.1 69.0h0M609.7 52.6h0M588.6 72.4h0M593.3 63.3h0M580.1 78.6h0M585.4 64.3h0M583.4 84.9h0M591.1 73.6h0M614.6 46.4h0M596.7 53.7h0M580.2 72.4h0M598.0 65.7h0M575.0 81.2h0M597.6 70.4h0M596.2 66.7h0M587.7 72.2h0M617.2 57.0h0M590.7 66.5h0M581.1 70.6h0M588.6 78.8h0M585.3 75.4h0M584.9 80.8h0M610.9 52.1h0M580.2 74.9h0M563.8 81.2h0M589.6 59.6h0M552.1 90.0h0M580.4 80.8h0M608.2 66.7h0M564.2 87.9h0M561.3 88.0h0M585.5 70.7h0M582.1 83.5h0M571.2 85.6h0M613.3 55.7h0M570.5 83.6h0M610.8 60.5h0M592.0 77.1h0M576.7 85.0h0M597.2 73.6h0M592.4 59.1h0M554.9 95.4h0M604.1 60.1h0M583.0 76.6h0M577.7 85.7h0M560.6 92.1h0M589.4 86.9h0M614.3 47.2h0M593.2 65.2h0M576.9 74.9h0M596.3 58.5h0M569.6 87.8h0M606.4 61.1h0M596.7 54.4h0M573.4 70.3h0M582.5 78.8h0M569.0 97.0h0M568.7 79.2h0M600.2 72.5h0M617.1 55.9h0"/><path id="bp1" d="M571.9 76.6h0M575.4 86.1h0M586.6 70.7h0M599.5 68.2h0M567.8 104.2h0M571.5 90.7h0M585.8 83.7h0M600.4 77.2h0M569.6 77.6h0M603.5 66.5h0M568.0 91.4h0M582.0 80.5h0M556.0 96.3h0M594.1 71.9h0M594.0 64.3h0M597.9 64.5h0M588.7 53.9h0M556.5 94.0h0M557.2 91.5h0M572.9 76.2h0M561.8 95.2h0M581.1 79.7h0M576.2 72.1h0M572.1 92.3h0M584.5 73.3h0M566.9 85.3h0M578.1 74.4h0M591.9 82.4h0M567.9 87.9h0M586.1 75.6h0M575.3 83.2h0M603.2 59.5h0M595.0 69.1h0M568.9 101.2h0M601.7 60.2h0M569.0 85.7h0M570.5 90.5h0M591.9 63.8h0M582.9 78.1h0M585.1 73.0h0M578.8 68.4h0M573.1 89.2h0M588.1 67.1h0M554.7 96.8h0M556.6 97.2h0M582.9 74.6h0M639.8 23.6h0M555.5 95.3h0M583.6 78.5h0M554.5 88.9h0M582.9 86.5h0M583.9 63.5h0M592.2 65.4h0M557.6 88.9h0M567.9 88.1h0M600.5 75.1h0M563.5 76.6h0M599.8 71.4h0M605.8 64.1h0M597.7 53.8h0M592.6 68.7h0M605.6 52.8h0M559.9 90.9h0M603.1 66.4h0M549.3 99.1h0M607.3 59.3h0M607.8 57.8h0M590.3 61.2h0M566.3 96.9h0M556.0 79.2h0M603.2 78.9h0M587.0 90.3h0M590.5 53.5h0M598.3 53.0h0M580.4 95.4h0M575.5 82.6h0M563.4 73.0h0M585.0 77.7h0M568.3 89.0h0M561.9 90.8h0M572.5 86.4h0M573.0 91.0h0M568.3 85.9h0M594.2 68.2h0M583.3 75.5h0M579.3 79.5h0M572.2 74.1h0M581.1 91.4h0M579.9 78.0h0M596.5 63.6h0M581.6 93.9h0M574.6 79.9h0M586.6 65.3h0M584.1 72.4h0M584.0 75.9h0M587.5 77.2h0M567.7 81.3h0M595.7 78.8h0M591.3 62.9h0M544.9 98.6h0M599.0 68.0h0M587.1 58.6h0M589.7 78.2h0M566.1 88.4h0M575.5 86.3h0M592.3 75.1h0M558.4 89.7h0M565.3 90.7h0M597.5 69.3h0M569.7 81.1h0M582.7 85.5h0M574.9 82.5h0M585.7 77.4h0M582.6 74.2h0M579.8 75.9h0M571.7 89.3h0M574.6 83.2h0M589.1 81.9h0M607.0 68.9h0M573.5 79.1h0M588.8 79.5h0M567.6 87.1h0M574.8 84.2h0M590.2 64.4h0M598.9 53.6h0M599.0 76.4h0M627.3 46.5h0M587.5 57.8h0M580.4 72.3h0M562.7 92.4h0M593.2 67.1h0M578.4 72.9h0M572.1 87.3h0M602.8 59.0h0M583.5 77.8h0M581.5 76.0h0M565.6 89.7h0M566.8 102.4h0M601.4 74.4h0M562.7 96.9h0M602.5 62.2h0M639.6 28.6h0M571.1 83.5h0M603.6 66.3h0M592.4 58.8h0M578.4 77.9h0M581.7 73.3h0M589.4 69.6h0M594.1 74.3h0M567.4 87.6h0M588.1 81.0h0M590.2 68.0h0M558.7 96.7h0M565.8 87.9h0M591.8 72.6h0M604.6 62.4h0M564.2 83.9h0M579.9 91.3h0M560.3 91.7h0M590.0 63.2h0M567.4 91.3h0M623.0 44.4h0M553.9 93.0h0M608.4 51.8h0M597.8 73.0h0M585.6 70.4h0M586.9 74.4h0M573.1 79.9h0M601.5 73.9h0M596.9 69.3h0M578.6 89.3h0M596.7 73.5h0M598.2 70.6h0M583.7 82.3h0M597.3 75.4h0M584.9 67.3h0M588.2 77.2h0M586.8 70.5h0M590.5 79.7h0M586.8 74.0h0M581.3 85.2h0M563.1 89.3h0M587.6 72.6h0M563.0 89.2h0M622.3 41.7h0M582.6 80.0h0M608.3 54.1h0M574.1 72.2h0M577.8 89.2h0M576.8 83.3h0M564.0 87.3h0M586.3 64.6h0M592.0 72.4h0M590.8 81.8h0M600.3 68.6h0M619.4 46.3h0M573.0 89.7h0M586.6 70.1h0M582.5 71.5h0M586.9 69.4h0M559.9 99.1h0M574.2 81.1h0M611.4 59.4h0M575.7 92.7h0M570.3 79.9h0M635.7 31.3h0M584.8 57.7h0M586.8 80.7h0M583.8 76.7h0M574.5 80.4h0M591.5 76.7h0M561.5 95.2h0M585.6 70.1h0M596.6 63.6h0M584.6 68.8h0M583.2 76.9h0M595.1 61.4h0M581.0 74.6h0M544.8 102.5h0M582.6 67.9h0M602.0 66.7h0M608.6 62.6h0M583.2 75.9h0M563.4 78.3h0M569.7 64.5h0M602.8 67.2h0M558.6 87.7h0M581.9 74.8h0M585.8 69.8h0M596.8 57.1h0M570.9 82.2h0M574.0 91.3h0M585.3 84.7h0M550.7 99.6h0M596.7 58.7h0M587.1 70.0h0M607.7 66.0h0M638.6 35.3h0M580.3 81.2h0M568.0 91.2h0M558.1 95.6h0M568.2 86.9h0M600.5 60.2h0M562.3 93.5h0M555.1 94.7h0M583.6 79.4h0M564.4 90.7h0M590.1 71.3h0M568.9 77.2h0M604.1 76.1h0M635.9 35.8h0M596.2 65.9h0M589.5 75.1h0M588.5 74.9h0M556.9 91.0h0M571.3 82.0h0M574.6 71.2h0M603.7 56.8h0M584.4 73.8h0M575.8 85.3h0M572.6 81.5h0M576.2 85.6h0M590.5 65.8h0M577.9 76.2h0M589.4 64.3h0M583.3 78.4h0M581.0 87.6h0M571.4 81.1h0M542.4 104.6h0M568.2 96.1h0M574.6 77.3h0M594.0 76.6h0M583.0 68.2h0M569.0 73.5h0M549.8 101.7h0M570.4 87.5h0M591.2 68.2h0M595.6 76.0h0M598.5 55.0h0M559.9 92.2h0M564.0 90.9h0M608.0 49.0h0M578.3 79.9h0M589.3 78.8h0M598.3 61.2h0M577.3 74.5h0M599.0 75.8h0M568.0 89.3h0M596.7 61.5h0M574.8 77.9h0M559.2 94.4h0M594.3 67.3h0M595.5 69.2h0M547.3 86.0h0M578.9 77.6h0M572.2 78.1h0M581.9 82.8h0M595.7 68.5h0M584.3 82.0h0M560.4 92.2h0M588.9 62.4h0M558.4 95.2h0M599.5 70.4h0M601.6 59.8h0M586.5 73.1h0M620.9 58.4h0M594.4 69.6h0M575.6 90.4h0M566.5 91.0h0M581.4 72.6h0M589.4 76.2h0M586.5 66.9h0M566.8 79.1h0M542.4 107.2h0M602.7 65.3h0M577.4 74.1h0M544.0 93.8h0M585.2 66.7h0M586.1 82.4h0M573.3 82.3h0M588.0 75.5h0M641.0 34.0h0M573.3 78.7h0M551.1 100.6h0M582.2 93.1h0M594.9 52.8h0M597.1 68.9h0M582.2 85.3h0M585.3 80.3h0M569.9 87.5h0M583.1 83.4h0M577.6 82.7h0M597.5 73.7h0M569.2 94.3h0M563.4 83.2h0M579.9 70.1h0M586.9 74.6h0M559.6 94.9h0M578.4 76.6h0M581.1 85.6h0M618.2 55.7h0M593.9 69.4h0M578.7 80.6h0M601.9 56.8h0M561.7 93.6h0M590.1 59.9h0M584.5 77.9h0M597.3 71.0h0M604.4 65.1h0M607.6 69.0h0M572.3 94.1h0M579.8 78.9h0M600.1 61.0h0M565.0 92.3h0M552.7 98.0h0M579.8 69.9h0M590.4 69.6h0M584.4 74.6h0M579.0 84.3h0M600.6 58.0h0M583.9 73.5h0M558.0 96.4h0M557.1 98.0h0M550.2 92.3h0M578.7 80.0h0M568.3 88.7h0M565.1 91.0h0M581.9 74.0h0M548.8 92.5h0M596.2 58.6h0M591.0 81.1h0M577.4 74.8h0M591.1 61.8h0M595.8 58.6h0M602.8 61.5h0M573.7 78.4h0M552.1 97.2h0M591.8 67.1h0M561.3 96.6h0M589.9 66.4h0M578.9 81.4h0M598.6 65.8h0M588.2 74.2h0M577.3 80.1h0M608.6 63.6h0M631.3 43.4h0M569.9 86.0h0M594.8 68.5h0M584.2 74.4h0M580.0 81.8h0M556.6 80.4h0M582.5 85.8h0M618.8 46.4h0M579.0 71.4h0M589.8 64.6h0M596.1 67.0h0M567.6 83.3h0M606.4 58.4h0M558.5 92.8h0M550.0 99.6h0M616.0 47.0h0M592.1 66.7h0M593.1 74.5h0M561.3 94.7h0M605.3 65.5h0M583.7 74.5h0M583.4 72.0h0M574.4 83.9h0M568.9 79.9h0M571.2 70.7h0M596.7 71.6h0M607.0 65.6h0M584.6 72.2h0M595.9 72.6h0M547.1 105.4h0M583.2 80.3h0M605.4 59.6h0M562.4 93.7h0M608.9 59.1h0M601.6 74.6h0M579.7 59.7h0M573.8 73.4h0M564.0 87.3h0M560.9 100.9h0M570.0 76.6h0M556.3 88.3h0M565.6 89.1h0M580.1 71.5h0M567.1 101.0h0M626.7 34.9h0M609.9 61.3h0M606.0 65.7h0M572.3 81.1h0M603.3 77.7h0M574.5 92.9h0M588.4 62.6h0M573.1 89.0h0M561.6 80.8h0M559.3 97.7h0M576.8 71.9h0M588.1 77.4h0M570.3 78.3h0M586.0 75.3h0M571.9 94.7h0M582.6 76.2h0M597.1 54.4h0M581.7 69.6h0M576.5 76.2h0M668.8 11.9h0"/><path id="bp2" d="M572.3 96.9h0M577.0 74.3h0M596.7 67.2h0M594.4 73.9h0M574.5 87.9h0M574.1 92.0h0M581.6 87.0h0M556.7 88.8h0M556.2 76.8h0M567.3 88.1h0M589.9 63.3h0M589.9 69.5h0M588.7 61.3h0M595.8 55.2h0M580.2 73.7h0M581.7 67.5h0M568.8 86.5h0M594.7 62.7h0M583.0 82.5h0M559.9 89.9h0M580.1 78.1h0M589.7 76.0h0M599.2 64.1h0M575.0 74.6h0M566.7 90.4h0M585.6 80.5h0M608.6 56.2h0M600.0 68.1h0M591.8 67.7h0M584.5 75.7h0M589.9 73.2h0M601.0 65.7h0M602.4 70.6h0M597.9 57.5h0M581.9 60.2h0M577.6 83.8h0M565.2 76.7h0M583.3 74.3h0M546.1 102.4h0M591.4 73.2h0M571.7 80.0h0M595.6 63.5h0M586.6 73.7h0M578.9 83.7h0M566.4 85.7h0M569.0 95.7h0M549.6 99.1h0M567.3 92.9h0M595.5 57.7h0M590.8 70.9h0M574.4 83.9h0M589.5 78.9h0M557.3 84.9h0M617.0 60.2h0M575.7 76.5h0M546.5 105.9h0M593.3 57.3h0M545.6 99.6h0M584.3 79.0h0M586.8 80.9h0M601.5 65.8h0M563.4 106.8h0M583.9 74.5h0M601.4 65.8h0M581.8 71.1h0M570.0 82.2h0M588.2 69.1h0M571.5 78.0h0M582.4 71.5h0M580.8 78.8h0M595.0 59.3h0M575.7 70.0h0M573.0 70.6h0M590.0 57.3h0M557.7 79.8h0M581.5 64.6h0M566.0 97.0h0M578.9 78.9h0M569.6 81.5h0M569.6 90.1h0M566.2 87.5h0M573.5 94.5h0M581.2 72.4h0M590.1 77.5h0M625.3 43.2h0M580.8 74.6h0M597.8 71.6h0M618.6 55.4h0M622.7 37.6h0M585.9 76.8h0M595.6 75.7h0M604.5 60.8h0M582.5 75.5h0M564.3 84.4h0M592.2 71.8h0M584.3 78.3h0M573.1 87.9h0M592.5 68.7h0M566.5 84.2h0M584.0 72.7h0M563.3 92.3h0M574.9 87.6h0M603.9 58.7h0M586.3 74.1h0M575.8 68.8h0M609.8 66.6h0M579.6 95.5h0M563.5 88.2h0M560.8 86.7h0M596.4 60.1h0M580.9 75.9h0M556.6 87.0h0M572.8 82.3h0M575.1 87.6h0M585.1 80.4h0M590.5 66.2h0M596.1 63.6h0M610.6 69.3h0M615.2 66.6h0M614.0 45.3h0M595.9 58.2h0M552.6 97.0h0M582.8 69.8h0M588.4 66.0h0M574.0 76.1h0M581.0 69.6h0M599.3 72.8h0M567.3 89.3h0M617.3 54.4h0M599.8 60.1h0M593.4 59.6h0M566.7 86.3h0M599.5 56.9h0M579.9 71.6h0M582.8 69.7h0M571.6 90.4h0M568.8 86.6h0M555.5 94.6h0M580.2 68.7h0M600.4 60.0h0M586.2 64.5h0M568.4 81.6h0M591.1 61.4h0M590.0 64.0h0M565.5 72.4h0M594.0 77.4h0M590.8 73.3h0M571.5 88.6h0M582.3 74.7h0M576.4 81.6h0M587.6 73.3h0M556.9 91.9h0M592.1 52.6h0M570.6 88.8h0M597.7 59.8h0M570.4 86.0h0M577.4 76.8h0M584.7 70.0h0M586.1 74.2h0M590.4 72.6h0M594.9 64.3h0M604.4 59.6h0M580.1 77.8h0M549.5 85.7h0M543.5 102.2h0M604.4 67.6h0M592.6 62.3h0M591.4 73.9h0M579.1 74.1h0M587.8 73.9h0M599.2 67.8h0M579.4 85.3h0M607.1 42.1h0M596.6 61.9h0M586.8 78.4h0M550.1 94.0h0M622.3 54.9h0M606.5 49.8h0M562.1 84.0h0M583.4 85.4h0M591.1 74.7h0M575.1 83.4h0M588.3 63.5h0M551.5 92.4h0M584.3 77.2h0M573.4 71.4h0M628.9 37.2h0M612.5 55.4h0M575.5 70.9h0M587.6 69.2h0M582.8 85.2h0M588.9 69.5h0M577.4 87.5h0M555.2 87.6h0M588.5 68.7h0M594.1 74.2h0M592.9 72.8h0M594.2 63.5h0M567.0 95.0h0M555.1 83.3h0M584.9 69.6h0M585.8 67.3h0M567.2 81.2h0M564.3 86.9h0M589.2 67.8h0M611.8 52.4h0M565.2 88.3h0M587.3 66.7h0M571.1 91.5h0M585.4 86.7h0M593.0 74.6h0M620.3 53.9h0M583.9 60.8h0M541.0 97.7h0M582.0 72.0h0M578.9 71.8h0M631.2 36.4h0M603.4 58.0h0M615.8 55.0h0M565.5 67.9h0M569.9 91.8h0M607.5 57.8h0M573.7 75.0h0M550.5 104.5h0M616.8 57.4h0M600.3 74.1h0M580.4 77.9h0M563.3 95.6h0M600.5 66.5h0M566.4 76.0h0M573.2 84.8h0M595.5 71.9h0M582.5 73.4h0M581.2 78.9h0M618.9 53.2h0M570.6 75.9h0M599.6 66.7h0M578.8 91.1h0M570.7 77.0h0M601.0 75.8h0M583.2 81.8h0M562.8 83.3h0M632.3 41.8h0M591.4 56.0h0M571.5 87.1h0M555.4 93.2h0M585.1 63.8h0M599.2 60.7h0M597.7 61.2h0M611.6 60.0h0M589.9 72.1h0M584.6 81.2h0M570.4 87.9h0M565.8 82.8h0M620.1 62.9h0M582.6 64.7h0M582.3 81.4h0M582.2 78.4h0M567.5 92.4h0M573.3 91.3h0M603.5 58.5h0M561.2 104.0h0M567.6 91.5h0M575.2 89.3h0M593.3 60.8h0M593.0 64.8h0M553.1 84.4h0M594.8 71.1h0M596.9 66.6h0M569.9 86.2h0M605.1 62.6h0M594.9 80.6h0M584.0 77.0h0M575.7 82.6h0M590.3 73.5h0M603.6 59.8h0M568.7 75.9h0M584.3 76.0h0M595.2 72.7h0M601.1 73.3h0M607.7 59.5h0M605.8 59.6h0M608.8 65.6h0M572.1 82.4h0M603.3 59.0h0M606.1 59.0h0M580.1 81.9h0M598.5 77.7h0M579.9 71.2h0M561.4 93.9h0M583.8 77.2h0M596.6 69.3h0M576.8 82.2h0M593.4 73.9h0M559.3 87.3h0M596.3 75.7h0M574.8 73.2h0M572.6 69.9h0M570.1 85.3h0M570.6 83.4h0M594.5 53.2h0M604.4 68.6h0M601.3 70.6h0M574.3 69.7h0M551.1 97.2h0M562.8 91.6h0M584.5 69.5h0M598.9 75.8h0M550.5 102.2h0M569.3 100.5h0M570.2 97.7h0M554.5 94.7h0M595.3 59.6h0M585.3 65.3h0M591.0 69.1h0M556.7 82.8h0M571.5 86.5h0M584.4 80.2h0M587.0 70.8h0M589.4 62.3h0M577.6 87.8h0M568.0 83.6h0M562.9 100.0h0M553.8 89.2h0M596.0 57.1h0M613.9 63.3h0M579.6 84.9h0M582.2 78.2h0M570.5 90.6h0M572.0 80.8h0M583.5 77.7h0M575.6 86.4h0M575.5 83.1h0M597.0 84.2h0M585.8 71.3h0M608.6 52.1h0M619.1 54.3h0M571.8 83.7h0M580.6 79.5h0M608.2 64.1h0M589.9 50.9h0M589.2 88.5h0M551.2 94.7h0M609.1 54.0h0M585.2 73.6h0M622.7 56.3h0M548.1 99.9h0M592.4 68.1h0M563.4 75.6h0M552.9 96.7h0M597.1 56.4h0M610.4 62.9h0M585.4 67.8h0M600.7 65.9h0M596.0 62.6h0M560.2 80.8h0M587.8 61.2h0M559.8 90.9h0M581.1 77.6h0M592.9 70.1h0M588.9 67.5h0M573.9 85.2h0M595.8 76.4h0M599.0 63.7h0M608.5 47.9h0M582.5 77.0h0M594.7 77.7h0M598.7 64.7h0M580.7 73.1h0M592.7 71.8h0M573.8 66.2h0M571.9 83.8h0M555.2 85.1h0M589.7 74.7h0M621.2 60.7h0M568.3 81.0h0M566.6 81.4h0M583.2 70.0h0M588.5 77.1h0M565.2 80.8h0M590.4 72.3h0M588.1 67.0h0M582.0 79.6h0M590.2 71.4h0M595.7 60.8h0M592.2 69.0h0M573.6 74.2h0M571.4 88.9h0M572.2 69.5h0M605.0 51.0h0M581.7 81.1h0M608.2 56.1h0M605.7 58.5h0M588.5 56.3h0M579.2 77.7h0M591.4 65.8h0M602.5 68.1h0M594.2 49.9h0M586.1 73.3h0M587.3 64.4h0M589.2 68.1h0M565.8 100.5h0M568.2 82.1h0M576.0 73.8h0M563.0 97.1h0M569.9 81.4h0M611.0 55.9h0M571.3 73.8h0M576.0 70.7h0M583.1 82.5h0M578.4 89.8h0M587.1 79.7h0M612.0 56.9h0M587.1 70.9h0M590.6 85.1h0M552.5 96.0h0M572.1 70.3h0M579.8 76.6h0M545.2 95.2h0M576.8 84.5h0M565.8 90.9h0M575.7 82.5h0M579.6 71.9h0M562.3 83.9h0M546.7 97.1h0M565.5 73.5h0M572.7 68.6h0M574.6 71.8h0M585.8 78.3h0M591.2 76.8h0M626.2 45.4h0M569.0 86.3h0M577.1 78.1h0M587.9 67.3h0M595.5 70.7h0M563.5 98.5h0M572.7 87.7h0M590.6 70.0h0M650.3 22.0h0M587.0 82.6h0M573.3 93.0h0M558.0 90.6h0M567.7 87.9h0M606.8 62.8h0M582.6 69.9h0M582.9 83.3h0M555.4 88.7h0M582.4 81.9h0M627.4 68.7h0"/><path id="bp3" d="M598.6 72.7h0M600.3 67.1h0M594.9 58.8h0M582.6 68.3h0M585.5 69.3h0M567.0 79.5h0M586.7 69.7h0M563.5 97.3h0M582.3 70.2h0M600.1 57.9h0M577.4 75.7h0M596.3 75.5h0M577.7 77.0h0M559.1 87.8h0M587.3 57.4h0M575.8 80.4h0M580.3 71.7h0M594.0 68.0h0M592.6 66.5h0M577.9 82.2h0M587.4 68.4h0M572.5 84.7h0M598.2 55.6h0M558.9 90.6h0M556.5 90.7h0M593.1 67.5h0M589.6 77.9h0M581.9 70.6h0M594.6 76.8h0M563.1 88.4h0M580.6 72.3h0M587.0 71.0h0M584.1 70.2h0M581.6 78.9h0M601.5 55.5h0M558.1 92.0h0M563.6 78.6h0M577.3 80.3h0M592.3 62.5h0M605.1 66.1h0M606.0 63.2h0M586.6 75.0h0M595.7 50.8h0M592.6 63.6h0M581.0 80.5h0M607.7 64.2h0M582.9 74.0h0M604.4 69.5h0M566.3 87.5h0M569.9 70.4h0M580.5 68.1h0M564.7 91.4h0M582.0 80.5h0M619.8 49.6h0M596.2 60.3h0M584.1 68.8h0M563.1 91.1h0M595.9 72.1h0M572.6 83.3h0M559.1 87.1h0M586.8 78.1h0M559.7 94.1h0M588.7 64.0h0M625.6 43.1h0M604.6 61.7h0M574.7 67.1h0M575.2 84.1h0M607.4 63.9h0M581.8 78.4h0M541.6 107.6h0M570.3 82.7h0M580.4 87.7h0M609.2 59.0h0M580.7 71.0h0M568.1 84.5h0M605.8 55.5h0M601.3 61.2h0M582.8 77.6h0M589.9 77.3h0M591.5 68.8h0M608.1 55.9h0M566.1 81.6h0M590.5 78.9h0M591.1 63.9h0M559.4 88.1h0M597.8 55.2h0M565.4 91.8h0M567.2 84.8h0M591.8 72.5h0M573.8 76.0h0M563.4 84.9h0M593.7 65.6h0M647.3 32.2h0M593.3 69.4h0M568.4 83.4h0M562.8 76.1h0M582.7 77.4h0M597.1 67.0h0M612.8 41.2h0M567.2 86.7h0M584.3 79.1h0M568.3 89.6h0M590.6 74.4h0M594.6 74.1h0M605.7 51.3h0M585.0 74.5h0M566.8 80.7h0M563.7 82.7h0M572.9 82.7h0M578.2 85.0h0M576.6 77.5h0M583.5 73.2h0M585.7 85.8h0M565.0 87.0h0M571.8 88.1h0M609.6 62.0h0M610.2 57.9h0M571.7 82.9h0M574.7 89.1h0M578.2 72.2h0M606.4 53.4h0M572.7 80.5h0M605.6 66.8h0M605.1 68.5h0M592.6 68.9h0M595.0 70.9h0M587.4 64.9h0M567.7 94.5h0M586.2 84.7h0M553.6 97.0h0M550.8 84.2h0M588.6 74.1h0M574.4 80.2h0M572.1 91.3h0M555.6 100.5h0M599.1 64.2h0M595.2 77.3h0M592.8 63.8h0M586.6 71.8h0M612.3 62.8h0M561.5 88.3h0M574.5 85.1h0M571.8 83.8h0M580.4 72.1h0M580.5 95.1h0M570.1 90.5h0M580.2 70.5h0M558.3 95.3h0M589.9 75.4h0M594.2 77.0h0M604.5 65.4h0M608.8 52.8h0M585.5 75.5h0M599.5 55.3h0M564.4 89.8h0M579.8 79.9h0M577.7 83.5h0M568.1 93.4h0M573.4 91.9h0M575.0 64.1h0M586.3 77.9h0M578.7 86.8h0M591.4 80.5h0M577.9 80.2h0M611.1 58.1h0M613.6 48.6h0M572.9 91.3h0M594.8 62.5h0M574.2 79.8h0M592.2 86.7h0M572.3 91.2h0M576.3 74.4h0M588.8 75.1h0M561.1 103.9h0M563.6 92.9h0M590.2 76.3h0M583.6 61.6h0M565.8 93.5h0M566.3 87.0h0M585.8 60.1h0M614.5 59.1h0M576.7 66.5h0M566.2 104.7h0M583.3 79.8h0M562.4 83.8h0M607.4 60.5h0M582.2 82.4h0M589.3 69.8h0M597.5 70.4h0M585.4 74.8h0M576.5 80.9h0M571.1 79.2h0M601.5 53.5h0M573.2 71.1h0M596.8 62.5h0M595.4 70.5h0M597.9 63.9h0M648.2 30.1h0M595.6 71.0h0M569.8 97.7h0M586.5 74.6h0M605.7 55.2h0M583.7 83.0h0M583.8 79.0h0M586.8 72.7h0M597.4 76.7h0M558.2 92.1h0M575.3 76.7h0M636.8 32.7h0M605.4 63.7h0M597.5 74.2h0M582.1 87.1h0M592.8 71.5h0M592.6 69.0h0M561.4 82.2h0M549.9 100.5h0M611.5 62.0h0M597.1 73.6h0M565.3 101.4h0M624.8 55.6h0M588.5 67.3h0M584.2 74.7h0M575.7 83.0h0M587.7 77.5h0M572.6 88.3h0M598.9 71.2h0M592.2 72.9h0M566.7 93.5h0M581.5 88.6h0M603.1 55.3h0M598.6 61.5h0M560.0 85.0h0M574.5 87.6h0M564.2 91.2h0M584.5 84.5h0M606.3 57.3h0M576.4 74.9h0M576.6 73.1h0M578.6 78.5h0M576.9 74.6h0M569.6 87.1h0M597.8 63.0h0M607.0 62.0h0M596.4 64.9h0M602.2 62.0h0M612.7 57.5h0M584.8 93.7h0M575.4 77.2h0M600.1 65.0h0M587.9 77.9h0M593.9 57.2h0M590.4 79.0h0M557.6 89.9h0M588.4 76.4h0M595.1 69.9h0M567.9 84.6h0M572.9 75.1h0M587.6 71.2h0M589.4 77.8h0M569.6 87.2h0M593.1 69.1h0M576.0 80.7h0M576.5 86.9h0M596.1 67.5h0M571.3 83.5h0M585.0 81.1h0M566.7 83.3h0M552.9 93.7h0M586.8 64.3h0M563.4 92.3h0M600.7 71.5h0M581.0 78.2h0M576.5 81.9h0M573.5 87.6h0M581.0 75.8h0M579.3 75.2h0M583.8 69.6h0M594.9 61.5h0M579.8 84.8h0M590.8 69.2h0M583.5 68.1h0M584.9 76.8h0M598.6 71.0h0M574.9 73.6h0M591.5 69.3h0M599.6 67.2h0M590.6 58.3h0M571.9 93.4h0M586.5 74.0h0M599.8 69.8h0M586.0 56.9h0M577.4 76.6h0M605.5 62.3h0M557.6 94.6h0M610.1 50.5h0M553.7 88.9h0M586.5 84.9h0M592.0 68.8h0M609.1 51.1h0M580.3 84.6h0M579.5 87.6h0M576.5 79.8h0M594.8 67.4h0M578.5 69.6h0M595.9 56.1h0M545.0 94.7h0M600.4 70.4h0M620.4 53.1h0M596.2 69.3h0M592.5 68.0h0M601.0 62.9h0M547.8 94.3h0M585.3 59.7h0M592.7 65.3h0M552.4 87.6h0M586.0 72.1h0M583.5 69.9h0M564.3 83.6h0M618.3 69.1h0M604.1 53.7h0M594.4 65.5h0M585.3 58.3h0M593.0 68.4h0M604.8 68.8h0M623.7 48.9h0M594.0 74.2h0M590.7 74.1h0M593.5 55.3h0M589.1 64.2h0M588.0 64.9h0M550.1 98.3h0M583.2 59.0h0M543.2 101.3h0M566.4 84.1h0M558.0 87.3h0M599.1 60.0h0M574.7 96.4h0M597.2 71.1h0M593.6 71.5h0M625.6 58.9h0M600.5 53.0h0M578.2 92.3h0M580.0 76.7h0M600.3 66.1h0M575.3 76.7h0M590.7 68.0h0M569.1 84.4h0M601.1 66.3h0M570.5 86.1h0M588.5 75.9h0M569.8 87.4h0M597.9 51.1h0M559.4 96.4h0M574.6 85.9h0M571.9 75.1h0M594.9 73.1h0M587.4 70.1h0M605.0 59.4h0M593.5 73.5h0M591.4 60.7h0M631.5 28.6h0M561.2 96.7h0M579.4 77.4h0M583.0 76.8h0M567.8 82.4h0M596.3 67.4h0M590.1 71.6h0M606.0 56.4h0M570.7 99.6h0M587.6 66.2h0M602.5 60.5h0M574.1 67.8h0M566.3 96.4h0M588.3 76.7h0M569.0 87.9h0M584.9 68.9h0M566.7 88.4h0M621.6 49.0h0M605.3 76.1h0M579.5 64.4h0M584.3 69.2h0M596.9 66.8h0M581.5 76.4h0M591.7 79.8h0M570.0 87.6h0M561.3 87.5h0M568.3 86.8h0M585.6 67.5h0M600.9 71.3h0M587.2 70.6h0M581.9 73.3h0M580.8 74.4h0M592.1 66.0h0M602.7 73.8h0M602.4 59.3h0M563.9 93.4h0M547.1 102.1h0M599.0 80.2h0M603.8 62.1h0M581.0 86.7h0M613.2 49.4h0M564.8 77.6h0M595.1 72.6h0M604.6 67.4h0M594.7 58.3h0M567.8 83.2h0M589.0 75.5h0M593.1 79.2h0M587.8 77.6h0M576.7 86.7h0M585.3 79.5h0M569.6 84.1h0M551.6 100.2h0M606.7 65.6h0M568.5 81.7h0M599.4 68.7h0M577.0 87.3h0M575.8 71.7h0M598.2 67.7h0M576.5 78.5h0M585.6 80.3h0M569.0 81.3h0M595.8 74.9h0M563.6 97.3h0M569.4 70.0h0M609.6 67.6h0M570.4 83.3h0M587.6 74.1h0M565.5 76.6h0M601.6 59.9h0M593.1 62.5h0M611.6 62.2h0M583.5 75.5h0M623.7 45.9h0M585.4 79.7h0M568.1 92.9h0M576.3 88.3h0M595.5 70.9h0M584.6 73.5h0M582.3 76.8h0M583.4 73.1h0M602.5 65.3h0M597.6 62.3h0M567.2 94.7h0M574.8 76.6h0M560.2 84.4h0M588.0 60.5h0M564.3 99.0h0"/><path id="bp4" d="M588.9 67.2h0M597.2 70.4h0M587.7 74.2h0M597.7 57.7h0M594.8 78.4h0M601.4 63.8h0M587.2 69.5h0M603.0 61.6h0M571.4 72.8h0M613.9 59.9h0M593.4 66.6h0M590.9 63.8h0M578.0 64.4h0M564.5 94.6h0M606.0 62.2h0M595.3 74.9h0M564.4 97.9h0M578.5 73.3h0M551.1 90.1h0M579.5 77.6h0M570.4 76.6h0M601.4 54.8h0M596.1 57.8h0M578.4 82.4h0M605.5 62.0h0M575.0 73.3h0M594.2 66.8h0M631.7 42.0h0M565.9 92.2h0M576.6 82.4h0M556.6 89.8h0M600.6 72.8h0M590.8 83.0h0M580.9 77.6h0M600.6 53.8h0M579.2 81.2h0M593.4 64.3h0M623.8 46.3h0M594.6 68.7h0M599.3 65.1h0M599.9 59.6h0M582.5 78.6h0M588.7 68.6h0M578.0 86.4h0M566.0 72.2h0M594.6 60.3h0M601.9 55.7h0M600.3 66.9h0M576.3 88.2h0M590.0 74.7h0M589.0 88.1h0M562.0 91.0h0M594.2 61.6h0M567.4 87.8h0M624.7 39.0h0M608.5 70.7h0M586.6 72.0h0M583.2 79.7h0M555.2 79.1h0M597.9 55.3h0M580.8 76.6h0M589.3 68.5h0M569.8 75.7h0M568.4 81.3h0M558.9 90.0h0M582.7 86.5h0M571.7 95.8h0M572.6 86.5h0M582.8 71.9h0M601.8 65.9h0M567.0 80.8h0M592.6 74.4h0M588.0 79.1h0M595.7 57.7h0M573.1 83.4h0M569.1 79.5h0M613.0 49.5h0M549.5 91.4h0M581.0 84.3h0M582.4 77.2h0M572.0 88.2h0M587.4 61.7h0M589.7 69.1h0M569.9 86.6h0M576.3 81.6h0M584.8 68.4h0M582.6 83.9h0M591.8 83.8h0M559.7 88.4h0M579.4 74.4h0M556.2 86.8h0M556.1 105.7h0M591.2 67.7h0M608.7 72.8h0M562.3 75.7h0M596.8 63.5h0M564.6 82.2h0M573.5 96.8h0M612.5 41.2h0M565.7 84.6h0M568.0 92.2h0M594.1 53.9h0M594.9 59.5h0M590.6 80.3h0M577.4 83.2h0M584.5 76.5h0M576.1 80.5h0M588.3 72.2h0M586.3 83.6h0M588.4 65.1h0M626.9 57.2h0M572.5 75.3h0M560.0 94.7h0M601.5 61.1h0M592.8 70.2h0M599.7 55.5h0M580.0 75.6h0M566.1 94.6h0M593.3 65.4h0M598.8 68.1h0M602.8 72.7h0M579.0 87.4h0M566.7 95.5h0M591.1 70.0h0M592.3 68.4h0M575.2 81.9h0M598.8 54.6h0M565.4 87.8h0M603.1 58.7h0M584.1 65.4h0M601.9 58.3h0M570.5 70.9h0M578.7 68.8h0M597.7 65.4h0M577.1 82.4h0M578.9 81.7h0M587.0 69.0h0M596.5 58.5h0M570.2 82.4h0M600.4 63.5h0M578.5 73.2h0M591.3 55.1h0M590.7 76.3h0M563.9 82.8h0M574.8 90.5h0M578.8 81.8h0M581.2 84.8h0M594.0 69.8h0M585.6 84.1h0M619.8 51.8h0M568.7 78.2h0M605.4 64.3h0M580.3 78.9h0M591.9 78.3h0M554.2 104.4h0M569.2 72.2h0M593.3 62.5h0M579.0 88.0h0M581.9 77.5h0M587.5 65.8h0M598.3 61.4h0M586.5 67.9h0M569.6 83.0h0M562.8 95.4h0M599.3 77.1h0M577.4 61.4h0M571.3 83.8h0M601.7 60.5h0M598.5 67.5h0M605.6 60.1h0M572.7 83.4h0M589.6 74.4h0M565.8 86.2h0M576.2 82.7h0M596.8 61.1h0M576.1 81.8h0M579.4 86.6h0M596.1 69.8h0M567.9 75.6h0M579.0 86.1h0M612.7 48.2h0M617.7 52.6h0M569.4 64.4h0M548.3 97.2h0M567.7 90.0h0M590.6 67.5h0M587.4 68.3h0M612.7 51.9h0M564.6 75.6h0M592.9 77.7h0M576.8 84.7h0M591.4 63.1h0M604.6 55.7h0M591.6 67.6h0M572.9 93.2h0M592.7 82.0h0M597.5 63.2h0M593.3 69.9h0M604.2 74.3h0M578.7 83.7h0M583.7 68.8h0M621.4 47.9h0M607.8 61.3h0M594.5 85.1h0M575.3 79.6h0M562.5 87.2h0M598.8 62.2h0M589.3 70.2h0M573.9 84.1h0M593.3 64.9h0M586.5 76.3h0M601.4 61.3h0M575.0 71.5h0M618.6 54.0h0M565.7 90.6h0M573.3 83.0h0M587.3 85.8h0M588.6 72.4h0M582.2 77.8h0M599.1 57.0h0M574.3 72.0h0M600.8 73.4h0M579.8 64.7h0M612.5 55.7h0M577.7 84.6h0M572.3 81.4h0M606.0 54.2h0M599.6 60.6h0M568.2 89.7h0M602.4 60.4h0M589.7 62.4h0M584.3 65.4h0M612.2 52.2h0M623.3 53.7h0M566.3 90.3h0M591.7 70.2h0M592.1 63.5h0M602.3 71.2h0M574.8 85.8h0M609.2 57.4h0M595.9 53.8h0M589.7 63.7h0M588.8 76.0h0M586.5 75.6h0M551.4 105.1h0M554.7 93.5h0M564.2 85.2h0M579.3 70.5h0M579.2 79.3h0M576.5 78.5h0M560.3 87.9h0M587.3 67.8h0M583.5 69.2h0M552.9 92.7h0M573.1 88.4h0M582.7 78.6h0M567.3 80.1h0M583.4 88.2h0M589.6 65.0h0M585.9 70.8h0M582.4 69.0h0M566.9 60.5h0M583.5 65.6h0M610.2 54.9h0M597.5 76.9h0M565.9 90.5h0M588.4 75.9h0M578.7 84.3h0M590.2 91.3h0M566.5 72.4h0M621.6 57.9h0M592.8 70.6h0M595.4 67.1h0M583.4 72.7h0M569.7 86.5h0M585.2 81.2h0M599.7 71.2h0M571.6 82.7h0M595.1 69.1h0M598.5 82.3h0M569.3 95.0h0M578.4 91.1h0M581.8 99.8h0M579.1 86.4h0M585.1 77.8h0M612.2 53.4h0M608.8 50.0h0M586.8 74.3h0M586.0 69.6h0M585.6 77.9h0M597.2 63.6h0M572.2 77.7h0M566.8 81.5h0M565.2 79.2h0M564.8 73.3h0M589.6 77.3h0M591.9 58.3h0M571.5 79.2h0M587.1 71.6h0M572.8 76.7h0M583.6 73.4h0M575.6 84.7h0M613.2 41.8h0M589.4 75.7h0M600.8 70.4h0M595.0 70.4h0M596.8 73.7h0M581.6 83.4h0M593.4 66.3h0M604.5 46.5h0M572.4 77.0h0M611.5 55.3h0M580.1 70.6h0M588.8 64.2h0M570.8 79.1h0M577.6 70.2h0M600.7 65.2h0M562.3 89.8h0M588.8 55.0h0M598.2 72.0h0M564.3 79.0h0M605.3 66.7h0M581.9 73.8h0M577.4 78.8h0M576.9 75.9h0M625.2 36.5h0M583.5 76.8h0M559.8 94.9h0M548.2 101.2h0M591.9 84.8h0M584.6 68.1h0M584.5 85.7h0M588.9 64.5h0M575.9 79.7h0M581.6 68.8h0M585.5 73.5h0M608.7 63.7h0M575.8 79.5h0M580.7 76.5h0M577.6 80.7h0M604.4 65.6h0M570.7 90.9h0M580.3 74.7h0M591.5 66.6h0M595.9 64.5h0M585.9 83.8h0M566.2 81.8h0M586.3 70.1h0M587.7 71.1h0M587.4 61.8h0M599.5 61.4h0M559.6 91.0h0M602.4 72.8h0M602.2 40.9h0M583.6 70.9h0M599.2 67.5h0M564.3 88.7h0M597.8 62.0h0M594.2 66.0h0M592.9 70.6h0M568.5 84.8h0M575.8 82.1h0M562.8 90.4h0M570.6 86.0h0M560.5 95.7h0M576.6 92.4h0M604.4 65.1h0M593.1 62.9h0M589.8 59.6h0M605.1 60.1h0M543.7 96.8h0M582.3 89.7h0M590.2 84.0h0M559.7 83.5h0M605.2 57.2h0M572.7 90.6h0M605.8 64.6h0M565.2 87.1h0M598.0 62.3h0M617.1 51.4h0M612.6 47.8h0M578.9 84.5h0M601.2 63.7h0M582.7 73.9h0M586.7 87.6h0M575.7 80.4h0M589.2 68.0h0M578.6 84.9h0M583.5 84.8h0M649.2 27.7h0M546.6 105.2h0M585.6 74.9h0M607.0 45.8h0M561.4 89.8h0M579.4 72.3h0M554.8 88.2h0M569.8 81.3h0M567.6 89.0h0M593.3 67.7h0M577.9 78.8h0M581.1 70.6h0M610.2 68.1h0M592.0 62.4h0M600.9 52.6h0M570.1 83.0h0M565.2 103.3h0M619.8 54.3h0M574.3 78.1h0M578.1 63.5h0M555.4 85.7h0M575.0 81.9h0M608.3 61.5h0M585.6 71.1h0M575.6 85.6h0M574.8 83.1h0M596.7 71.7h0M571.8 82.7h0M568.1 72.5h0M593.2 64.5h0M589.3 62.0h0M593.4 81.5h0M586.9 75.3h0M600.2 63.9h0M601.5 62.4h0M617.7 45.3h0M588.7 64.5h0M588.4 68.9h0M604.8 64.5h0M602.8 55.5h0M568.5 75.4h0M609.0 40.7h0M592.0 67.4h0M555.8 90.6h0M598.9 68.4h0M590.8 68.0h0M596.7 79.5h0M585.7 69.2h0M573.8 75.3h0M576.8 78.2h0M564.8 86.6h0M584.3 59.7h0M591.3 81.7h0M569.2 85.1h0M607.7 64.6h0M570.7 85.8h0M574.0 93.8h0M604.8 60.5h0M572.8 75.7h0"/><path id="bp5" d="M558.3 92.8h0M612.0 58.3h0M586.0 84.4h0M575.5 76.2h0M568.6 95.0h0M578.2 71.7h0M590.0 77.0h0M624.3 41.0h0M585.8 78.3h0M588.0 80.9h0M555.3 85.7h0M598.6 57.5h0M580.4 66.9h0M592.4 68.5h0M566.7 81.3h0M592.1 75.4h0M591.2 78.9h0M591.2 68.4h0M581.1 83.7h0M590.8 84.7h0M568.9 87.2h0M557.9 89.3h0M573.9 78.5h0M602.5 64.1h0M566.7 83.9h0M561.5 94.6h0M579.5 74.0h0M601.9 67.5h0M565.0 88.7h0M597.9 66.1h0M578.0 83.3h0M582.8 77.6h0M561.7 81.8h0M581.2 75.7h0M578.3 71.5h0M563.6 90.7h0M593.4 81.6h0M565.0 82.8h0M591.8 79.7h0M592.9 80.1h0M556.5 97.0h0M572.8 81.1h0M584.0 64.4h0M560.2 89.6h0M625.6 63.8h0M604.2 59.7h0M602.1 70.4h0M589.5 66.6h0M575.7 72.5h0M582.7 82.4h0M600.6 52.9h0M585.2 78.7h0M589.9 65.3h0M621.1 53.1h0M572.0 70.5h0M580.3 84.8h0M595.3 71.6h0M592.9 70.1h0M570.8 87.5h0M556.6 88.7h0M597.1 68.9h0M580.8 81.0h0M581.2 82.2h0M573.4 82.3h0M590.7 68.6h0M592.1 85.8h0M564.0 96.6h0M580.6 85.4h0M568.0 86.7h0M586.9 75.0h0M572.7 79.1h0M549.4 82.5h0M592.9 63.0h0M571.8 84.1h0M609.1 46.6h0M599.8 60.2h0M576.9 80.6h0M587.7 67.4h0M595.1 68.9h0M581.2 89.6h0M609.3 54.4h0M595.3 69.3h0M582.0 83.5h0M587.5 62.9h0M583.2 82.1h0M566.2 94.3h0M596.7 78.5h0M606.8 64.7h0M600.5 64.5h0M598.4 58.9h0M580.6 71.7h0M562.7 95.8h0M562.0 99.6h0M554.7 86.6h0M595.3 50.0h0M580.4 84.5h0M597.9 76.4h0M604.8 62.3h0M577.2 97.4h0M589.2 87.9h0M597.9 62.6h0M582.2 74.4h0M577.9 86.2h0M576.5 78.6h0M584.7 76.1h0M587.2 63.9h0M570.9 97.2h0M570.1 88.0h0M582.2 73.0h0M581.5 77.8h0M552.6 97.2h0M571.1 88.9h0M586.1 73.2h0M568.2 83.5h0M597.5 60.7h0M606.7 47.3h0M569.1 100.7h0M557.3 92.2h0M593.4 79.7h0M578.9 77.5h0M579.0 72.3h0M565.5 92.4h0M579.4 81.6h0M566.1 84.5h0M572.1 71.6h0M568.7 86.7h0M586.4 53.0h0M557.5 83.2h0M560.8 85.1h0M604.4 52.3h0M574.7 79.2h0M573.0 83.3h0M582.4 67.6h0M587.1 82.5h0M608.7 55.4h0M603.7 61.5h0M587.8 79.5h0M590.6 77.3h0M618.8 50.6h0M581.4 77.9h0M587.4 71.6h0M577.4 83.3h0M595.0 60.1h0M587.8 60.4h0M590.9 69.5h0M584.3 71.4h0M631.3 44.9h0M573.2 70.1h0M569.9 92.9h0M601.7 54.1h0M599.3 78.8h0M568.2 93.5h0M611.4 53.6h0M574.7 88.1h0M559.9 98.3h0M559.4 99.9h0M578.9 77.9h0M611.1 65.7h0M601.8 58.4h0M581.4 69.0h0M598.5 52.1h0M590.3 68.3h0M589.6 72.9h0M553.5 94.4h0M601.1 60.1h0M582.2 75.0h0M561.1 94.1h0M570.8 73.5h0M583.7 73.4h0M550.4 92.2h0M583.1 78.0h0M570.3 77.4h0M566.7 94.2h0M595.5 55.8h0M566.5 81.8h0M565.8 91.5h0M595.8 59.0h0M591.2 74.1h0M584.3 80.4h0M585.5 71.4h0M585.8 69.8h0M577.3 92.4h0M580.6 67.2h0M614.3 52.8h0M586.8 73.3h0M583.2 66.2h0M551.5 93.9h0M602.4 51.6h0M577.1 76.0h0M595.0 60.3h0M598.6 54.7h0M563.3 97.7h0M607.1 56.9h0M546.8 99.2h0M553.7 102.5h0M577.8 79.8h0M568.6 80.4h0M580.0 69.8h0M561.7 78.0h0M589.5 72.0h0M594.9 61.8h0M576.8 73.4h0M570.6 96.2h0M605.0 64.9h0M578.2 83.6h0M559.7 93.3h0M600.6 67.9h0M595.0 75.8h0M600.3 63.0h0M581.2 91.8h0M559.7 90.9h0M579.5 74.0h0M584.4 66.2h0M591.0 70.4h0M579.4 87.6h0M588.7 78.0h0M554.3 98.2h0M582.0 81.3h0M589.1 76.5h0M615.5 55.7h0M581.5 71.2h0M577.5 83.3h0M613.1 63.3h0M597.9 64.5h0M561.4 86.9h0M595.8 67.0h0M593.1 63.5h0M602.8 44.9h0M574.9 77.7h0M571.0 73.9h0M592.4 72.8h0M574.8 84.1h0M589.5 66.5h0M556.3 99.7h0M565.3 75.5h0M589.2 67.4h0M600.2 67.9h0M563.8 89.8h0M595.1 76.9h0M603.3 65.4h0M601.8 64.2h0M586.9 79.7h0M592.2 79.5h0M559.3 75.7h0M590.7 67.9h0M579.8 73.4h0M566.0 80.9h0M598.7 61.4h0M591.7 72.8h0M585.0 75.7h0M584.6 75.7h0M593.2 67.1h0M575.5 87.4h0M568.6 80.3h0M572.5 75.1h0M592.1 69.6h0M596.1 68.8h0M573.2 80.4h0M601.6 62.1h0M583.5 88.0h0M585.8 72.0h0M573.3 84.5h0M571.6 88.2h0M554.7 102.4h0M582.7 83.5h0M586.8 71.5h0M573.7 85.6h0M577.0 73.9h0M577.9 79.1h0M584.9 73.9h0M598.6 67.3h0M635.6 29.4h0M570.3 87.3h0M586.7 71.1h0M586.8 76.0h0M574.5 84.7h0M573.1 71.8h0M608.3 52.7h0M570.5 77.9h0M586.2 68.3h0M608.3 49.3h0M592.5 67.8h0M575.8 82.1h0M585.6 71.0h0M591.4 88.3h0M576.1 72.7h0M580.9 86.3h0M556.2 100.9h0M583.7 71.9h0M590.7 51.4h0M571.9 75.0h0M616.0 46.4h0M572.3 83.3h0M586.2 64.4h0M597.4 61.6h0M604.0 62.7h0M577.7 87.1h0M593.6 66.2h0M611.7 59.2h0M593.8 74.3h0M595.8 67.2h0M614.4 70.2h0M583.5 73.4h0M580.1 88.0h0M566.3 95.0h0M571.1 78.2h0M619.5 44.3h0M572.0 72.7h0M584.0 84.4h0M559.2 96.6h0M588.0 74.9h0M574.7 79.7h0M585.9 72.4h0M603.7 60.2h0M573.3 79.0h0M560.0 83.9h0M574.2 89.2h0M574.3 93.1h0M578.9 81.5h0M589.2 67.6h0M581.3 85.9h0M599.2 70.1h0M604.5 60.1h0M598.2 69.5h0M607.9 54.8h0M574.2 87.8h0M579.5 79.3h0M592.3 73.0h0M589.2 82.5h0M570.9 80.9h0M561.3 83.8h0M597.8 63.5h0M572.5 67.3h0M626.4 45.2h0M580.4 70.5h0M587.0 76.5h0M583.7 82.7h0M572.8 91.4h0M567.7 80.8h0M576.7 78.8h0M609.7 56.3h0M596.1 72.6h0M599.4 75.3h0M586.1 73.2h0M594.1 72.3h0M582.4 78.2h0M573.1 78.6h0M554.1 105.2h0M584.5 77.0h0M633.8 42.2h0M572.1 85.5h0M618.7 57.2h0M596.0 64.4h0M607.4 62.1h0M605.8 57.9h0M623.3 54.2h0M608.1 67.0h0M614.4 45.5h0M550.0 95.2h0M555.9 95.3h0M568.4 87.8h0M560.8 93.3h0M612.2 64.7h0M597.7 63.0h0M587.4 66.8h0M568.7 88.3h0M572.9 87.5h0M572.3 92.0h0M580.4 63.3h0M622.7 48.0h0M599.6 72.6h0M573.1 73.6h0M582.4 74.5h0M586.3 72.6h0M591.5 66.0h0M582.5 82.7h0M578.7 68.0h0M589.0 72.0h0M565.3 85.8h0M564.4 92.9h0M579.6 82.5h0M601.8 58.5h0M612.1 43.6h0M573.2 80.0h0M586.5 76.2h0M581.5 83.3h0M577.7 89.7h0M575.9 91.2h0M594.7 67.3h0M603.4 57.1h0M591.3 65.3h0M569.7 80.4h0M571.5 82.7h0M552.9 93.4h0M590.2 67.2h0M607.5 71.1h0M596.8 66.4h0M592.2 71.9h0M592.1 77.1h0M604.0 58.4h0M590.7 67.6h0M582.3 80.6h0M606.2 67.3h0M546.2 87.5h0M564.5 84.3h0M582.0 78.1h0M558.1 106.8h0M599.7 58.2h0M586.7 67.6h0M598.7 70.1h0M600.8 60.6h0M569.2 83.2h0M586.3 72.1h0M568.0 86.4h0M572.9 91.6h0M566.7 89.2h0M579.3 72.1h0M588.4 80.2h0M619.6 53.4h0M573.3 76.7h0M576.0 81.2h0M583.6 77.9h0M601.5 59.0h0M578.1 84.7h0M565.6 83.6h0M584.9 79.7h0M597.3 51.5h0M572.3 84.5h0M599.4 62.5h0M591.8 72.1h0M612.9 45.0h0M573.5 83.4h0M596.6 73.5h0M598.8 61.4h0M590.5 75.2h0M609.7 60.6h0M575.3 84.9h0M600.0 66.7h0M572.5 88.3h0M592.4 70.3h0M566.0 92.4h0M569.9 71.6h0M571.7 80.0h0M576.4 76.6h0M589.5 74.6h0M594.7 68.7h0M592.0 76.0h0M563.3 93.9h0"/><path id="bp6" d="M585.0 74.5h0M621.1 44.4h0M601.9 65.5h0M562.1 93.1h0M558.0 93.2h0M585.9 85.6h0M583.6 74.9h0M594.2 60.5h0M583.6 71.4h0M576.5 87.4h0M609.0 58.1h0M591.2 72.8h0M612.1 39.6h0M560.0 92.7h0M578.5 89.7h0M625.9 37.3h0M572.1 92.7h0M573.5 91.9h0M603.8 60.2h0M584.2 69.7h0M576.3 82.6h0M602.0 55.3h0M577.5 70.7h0M630.4 40.2h0M561.2 89.5h0M578.6 78.8h0M582.2 85.1h0M588.4 68.5h0M583.5 77.3h0M636.7 43.1h0M611.6 50.5h0M550.5 99.4h0M577.7 82.9h0M591.9 67.2h0M588.7 87.1h0M592.8 77.4h0M579.7 71.0h0M605.6 63.1h0M562.4 84.5h0M559.6 81.1h0M575.2 79.0h0M564.2 91.1h0M589.6 77.2h0M584.4 72.4h0M604.6 65.3h0M577.0 67.9h0M556.3 103.5h0M607.8 61.0h0M564.1 98.9h0M578.6 80.6h0M560.8 95.9h0M598.0 49.4h0M555.9 99.1h0M577.4 78.7h0M580.4 78.2h0M595.9 64.3h0M592.4 77.7h0M586.4 72.7h0M604.1 52.1h0M577.4 89.5h0M574.8 76.2h0M595.8 68.3h0M590.4 69.5h0M554.5 91.9h0M618.8 54.8h0M574.7 85.0h0M599.7 67.6h0M554.9 91.7h0M600.9 82.5h0M550.9 92.5h0M575.9 78.8h0M579.2 64.5h0M554.1 92.5h0M594.1 69.5h0M573.2 87.8h0M595.0 66.5h0M571.3 78.0h0M605.1 63.4h0M568.3 79.0h0M596.1 71.9h0M595.5 62.5h0M572.3 88.6h0M577.4 80.4h0M578.0 77.7h0M587.0 81.2h0M604.2 57.2h0M598.9 71.6h0M592.1 77.6h0M602.0 64.7h0M582.5 74.4h0M575.2 75.9h0M577.2 79.2h0M562.6 94.6h0M568.9 86.5h0M564.0 79.3h0M603.1 68.3h0M588.9 69.6h0M591.0 66.1h0M590.4 70.1h0M613.4 59.3h0M597.1 70.5h0M598.7 56.3h0M594.8 63.8h0M554.2 91.4h0M590.7 68.8h0M602.2 61.1h0M579.1 92.3h0M613.8 60.0h0M583.5 83.2h0M557.4 97.3h0M579.0 76.6h0M552.0 98.2h0M575.4 74.3h0M594.9 71.8h0M592.2 63.1h0M586.6 64.7h0M609.3 59.3h0M591.7 67.3h0M600.7 68.8h0M599.2 62.5h0M570.3 70.6h0M577.6 81.5h0M576.7 78.4h0M597.0 76.5h0M585.7 61.0h0M596.3 65.0h0M603.0 55.5h0M600.9 73.0h0M591.1 67.6h0M590.9 70.3h0M601.0 64.1h0M588.5 83.6h0M543.5 105.6h0M569.2 83.9h0M600.4 64.1h0M579.7 77.4h0M563.7 91.8h0M561.4 90.5h0M572.9 90.1h0M598.3 55.1h0M578.6 89.9h0M606.2 60.3h0M597.8 78.9h0M602.1 62.5h0M588.2 72.5h0M595.3 66.1h0M609.9 51.2h0M567.2 87.0h0M590.4 79.5h0M590.5 67.2h0M578.1 62.6h0M608.7 55.9h0M616.1 44.4h0M588.2 63.6h0M614.3 78.8h0M546.2 103.4h0M602.1 49.7h0M574.7 77.8h0M568.0 91.0h0M577.5 77.6h0M568.3 99.6h0M604.2 63.9h0M588.7 67.7h0M591.6 80.8h0M611.6 59.0h0M587.3 62.1h0M598.9 71.8h0M583.5 73.4h0M591.1 72.2h0M577.2 82.8h0M592.8 74.4h0M591.9 76.6h0M590.9 78.0h0M572.5 76.1h0M587.3 66.1h0M579.2 62.2h0M622.9 44.9h0M604.6 70.4h0M569.1 78.3h0M607.7 66.5h0M607.2 78.1h0M597.7 76.5h0M598.8 60.5h0M565.3 86.3h0M557.6 91.2h0M594.1 73.9h0M592.9 70.0h0M586.7 67.9h0M580.2 77.7h0M563.5 84.3h0M551.7 84.6h0M601.5 57.4h0M615.2 56.2h0M597.5 66.2h0M589.1 85.0h0M568.6 82.1h0M583.3 76.7h0M571.2 77.0h0M580.2 84.4h0M589.6 84.1h0M561.6 97.6h0M568.8 86.2h0M574.0 80.6h0M577.3 81.9h0M575.9 80.3h0M600.1 65.2h0M592.3 71.3h0M599.0 70.9h0M576.7 85.4h0M615.8 56.7h0M605.0 55.2h0M572.8 99.3h0M592.1 71.4h0M591.4 74.7h0M581.4 76.4h0M585.8 78.2h0M595.6 64.1h0M588.8 64.9h0M586.0 70.9h0M548.8 99.3h0M599.7 59.4h0M592.5 62.5h0M573.3 88.9h0M572.0 77.6h0M557.3 84.1h0M597.2 61.1h0M587.8 73.7h0M587.3 72.1h0M572.6 78.2h0M596.9 69.6h0M558.2 102.6h0M593.6 69.7h0M572.0 88.4h0M611.7 60.6h0M600.8 60.0h0M597.5 71.2h0M592.7 57.3h0M568.4 91.0h0M606.6 62.1h0M592.0 79.4h0M603.9 56.7h0M573.3 90.0h0M582.7 79.1h0M581.0 72.4h0M575.5 75.6h0M595.4 62.9h0M569.4 90.9h0M587.9 60.7h0M569.1 82.4h0M573.8 77.9h0M596.0 74.4h0M592.3 63.2h0M575.9 82.6h0M585.8 69.1h0M612.5 63.8h0M590.0 64.4h0M601.0 68.8h0M579.3 82.2h0M597.9 64.6h0M581.9 91.8h0M578.7 78.5h0M571.6 80.5h0M554.7 92.3h0M572.9 79.9h0M603.8 68.6h0M583.8 80.8h0M584.6 64.3h0M574.4 79.0h0M570.4 93.6h0M600.4 64.9h0M590.1 73.2h0M583.5 79.3h0M545.5 103.9h0M576.7 94.0h0M601.4 57.3h0M558.7 93.9h0M588.6 62.0h0M555.2 95.3h0M594.7 67.6h0M579.0 86.3h0M602.2 67.5h0M641.8 42.5h0M603.1 61.7h0M603.6 69.0h0M572.6 91.3h0M602.5 69.8h0M593.3 67.6h0M565.4 90.9h0M580.1 81.6h0M615.9 50.3h0M579.3 61.6h0M573.1 78.7h0M583.3 81.2h0M601.5 67.2h0M588.6 70.6h0M595.4 61.9h0M570.7 79.0h0M591.0 61.6h0M585.6 67.0h0M588.6 54.1h0M589.1 71.1h0M582.3 86.9h0M576.6 83.6h0M607.8 49.0h0M609.1 65.8h0M583.0 77.4h0M568.9 75.3h0M573.2 73.7h0M595.8 68.6h0M577.8 84.4h0M582.8 60.2h0M560.0 96.0h0M599.4 53.8h0M555.0 102.9h0M584.7 78.6h0M551.1 103.2h0M569.0 94.5h0M567.6 95.6h0M595.3 68.2h0M607.6 54.1h0M596.3 82.8h0M569.2 82.2h0M585.3 61.8h0M603.3 60.3h0M585.3 80.1h0M564.4 95.3h0M572.2 88.0h0M615.5 63.2h0M583.6 73.0h0M588.8 74.3h0M566.5 85.7h0M568.6 83.3h0M567.9 90.5h0M592.7 61.9h0M613.7 56.3h0M586.9 71.1h0M602.2 69.1h0M585.2 65.1h0M567.6 86.7h0M592.1 67.9h0M580.2 76.8h0M581.0 71.3h0M588.9 75.8h0M609.1 61.1h0M579.4 71.4h0M610.8 67.1h0M575.4 71.1h0M560.2 89.4h0M609.4 56.2h0M566.2 97.9h0M590.5 87.3h0M593.4 64.0h0M591.8 46.7h0M562.1 88.6h0M570.9 86.2h0M592.9 75.5h0M585.6 58.9h0M591.6 65.4h0M580.4 92.4h0M613.6 62.8h0M583.4 78.4h0M581.2 70.6h0M599.7 66.1h0M564.5 81.1h0M556.2 94.5h0M587.9 80.7h0M585.2 69.6h0M607.5 62.9h0M614.2 69.2h0M581.4 77.9h0M582.9 76.7h0M575.7 63.7h0M592.1 75.3h0M599.7 56.1h0M616.4 44.3h0M584.5 71.0h0M603.7 48.7h0M575.2 75.7h0M581.7 70.6h0M541.9 108.0h0M576.3 86.1h0M584.9 74.6h0M621.3 45.3h0M587.7 58.9h0M575.4 82.4h0M570.4 80.2h0M581.8 72.8h0M598.7 63.2h0M556.5 82.0h0M587.9 73.3h0M574.8 85.4h0M583.9 85.1h0M604.3 49.8h0M647.6 26.4h0M561.0 76.5h0M588.4 65.0h0M568.7 88.9h0M609.1 67.3h0M578.2 76.4h0M549.0 106.1h0M570.5 80.8h0M621.5 55.6h0M560.2 98.3h0M579.8 75.8h0M589.1 73.7h0M565.1 79.0h0M594.9 72.3h0M578.1 77.6h0M580.7 68.4h0M561.1 84.4h0M576.7 71.7h0M577.9 75.6h0M565.2 96.5h0M594.6 68.4h0M600.3 61.6h0M564.0 94.9h0M618.1 53.4h0M598.4 71.5h0M605.2 67.5h0M595.5 53.9h0M592.3 65.5h0M581.0 85.4h0M598.8 60.3h0M603.3 60.6h0M574.9 85.9h0M594.1 84.2h0M601.6 67.1h0M575.9 81.1h0M578.0 88.3h0M583.0 62.6h0M582.8 76.3h0M587.0 79.3h0M610.0 56.9h0M617.3 53.3h0M601.3 67.6h0M581.0 79.8h0M597.9 68.9h0M599.9 66.2h0M584.6 69.1h0M542.8 90.1h0M598.2 57.6h0M557.0 95.2h0M593.6 58.8h0M584.8 74.2h0M604.8 67.6h0M595.8 74.9h0M583.7 87.5h0M610.4 55.9h0"/><path id="bp7" d="M569.5 71.6h0M581.6 64.7h0M594.4 64.0h0M596.2 58.1h0M573.9 87.2h0M607.2 60.6h0M587.2 63.9h0M575.5 81.3h0M622.4 51.9h0M574.3 79.1h0M595.3 75.5h0M575.1 90.6h0M556.7 85.1h0M585.8 78.6h0M599.6 63.4h0M589.3 71.3h0M575.5 78.6h0M579.1 86.7h0M621.0 51.5h0M601.0 61.7h0M601.4 65.5h0M552.1 102.6h0M577.5 78.8h0M583.2 84.0h0M580.7 83.9h0M587.1 68.1h0M593.6 77.1h0M578.2 66.6h0M592.2 62.9h0M553.0 87.7h0M549.0 97.5h0M606.0 56.6h0M593.4 73.6h0M592.0 54.3h0M566.8 99.0h0M582.5 78.8h0M598.8 72.2h0M567.7 87.0h0M643.0 40.0h0M561.4 85.8h0M563.9 88.8h0M601.2 58.3h0M588.4 73.6h0M601.1 66.3h0M550.1 91.3h0M580.6 77.6h0M593.8 66.1h0M589.7 71.3h0M607.6 48.8h0M579.2 83.7h0M580.3 85.1h0M597.6 65.7h0M634.6 32.8h0M636.7 42.1h0M596.7 64.9h0M594.6 73.9h0M607.4 50.4h0M572.8 88.6h0M551.5 84.9h0M582.2 72.9h0M561.1 90.9h0M569.4 88.7h0M614.1 44.1h0M610.9 57.1h0M613.5 46.4h0M557.9 71.2h0M617.6 48.7h0M575.6 86.6h0M601.4 52.5h0M588.4 69.2h0M561.8 84.7h0M577.0 84.1h0M600.2 70.3h0M574.0 83.1h0M597.2 80.5h0M585.4 63.4h0M590.0 70.9h0M604.7 69.4h0M598.1 60.9h0M594.3 71.9h0M598.5 77.1h0M575.5 75.1h0M602.3 63.6h0M599.3 51.1h0M599.8 59.3h0M558.3 100.7h0M568.8 81.7h0M544.6 103.4h0M590.2 79.5h0M564.0 92.6h0M564.4 101.4h0M592.2 70.9h0M584.1 76.5h0M601.7 69.6h0M589.3 79.6h0M568.6 82.2h0M574.8 88.9h0M570.4 81.8h0M574.0 72.6h0M555.8 100.7h0M552.4 93.4h0M565.0 91.5h0M558.1 85.8h0M597.3 79.6h0M597.9 68.8h0M597.3 67.7h0M566.3 85.5h0M559.1 87.9h0M568.2 88.4h0M568.1 84.0h0M595.8 69.7h0M550.7 91.3h0M589.6 70.4h0M579.4 69.9h0M591.8 77.0h0M593.0 69.6h0M592.7 63.1h0M580.3 78.2h0M579.0 73.6h0M615.9 55.9h0M581.3 80.3h0M623.9 44.7h0M579.6 81.8h0M590.4 75.0h0M573.5 60.8h0M591.8 68.5h0M588.4 72.7h0M591.9 63.9h0M573.7 79.4h0M580.9 67.7h0M564.6 97.5h0M571.7 84.6h0M584.7 67.1h0M595.3 55.8h0M578.8 77.6h0M583.6 76.6h0M560.8 89.6h0M587.3 79.2h0M593.5 77.0h0M571.3 75.4h0M575.2 87.5h0M570.4 90.1h0M571.8 78.6h0M597.5 60.6h0M565.2 85.1h0M591.2 73.0h0M609.0 57.5h0M603.7 58.8h0M557.8 98.3h0M584.3 80.9h0M606.0 57.7h0M582.3 74.1h0M582.2 78.4h0M576.5 88.7h0M607.0 45.7h0M564.4 89.3h0M602.8 70.1h0M564.1 95.4h0M574.9 85.6h0M542.6 107.3h0M596.6 74.2h0M599.9 65.3h0M574.4 85.4h0M558.9 92.7h0M598.0 62.9h0M576.6 85.9h0M594.5 69.0h0M586.2 70.7h0M594.7 88.5h0M602.5 55.9h0M580.4 65.3h0M580.9 84.5h0M558.6 86.5h0M611.7 42.1h0M599.5 67.5h0M560.4 85.2h0M573.4 78.3h0M578.2 69.0h0M598.1 75.7h0M579.0 73.8h0M604.8 61.1h0M592.7 62.0h0M593.1 72.0h0M572.3 78.5h0M582.3 65.1h0M612.1 49.5h0M562.3 89.1h0M615.6 50.0h0M600.2 69.6h0M599.0 66.8h0M577.7 82.7h0M561.5 82.7h0M569.5 80.3h0M576.6 80.3h0M614.2 48.6h0M560.4 103.1h0M626.0 41.2h0M610.7 59.3h0M585.6 75.4h0M576.0 82.4h0M575.4 74.2h0M586.3 82.6h0M601.5 59.3h0M578.1 81.0h0M594.2 72.8h0M566.3 74.8h0M624.6 49.4h0M589.5 78.4h0M599.9 72.2h0M622.5 41.7h0M577.1 86.0h0M581.5 76.3h0M599.1 60.0h0M596.0 70.0h0M576.6 79.6h0M562.7 89.0h0M578.5 93.3h0M591.5 76.0h0M566.5 94.0h0M581.6 82.1h0M596.9 73.7h0M597.7 66.8h0M558.4 84.7h0M594.3 83.1h0M609.7 63.6h0M616.4 45.4h0M589.6 64.0h0M606.7 42.0h0M590.1 77.7h0M594.6 67.4h0M609.0 61.3h0M583.2 80.1h0M599.0 64.4h0M568.8 86.9h0M567.3 93.6h0M584.2 84.8h0M612.9 59.9h0M571.4 78.2h0M599.4 58.2h0M567.9 86.8h0M593.7 74.7h0M587.7 70.5h0M594.3 74.0h0M570.1 93.5h0M587.8 75.6h0M618.3 55.8h0M581.5 82.9h0M595.9 62.6h0M601.8 60.4h0M594.7 65.3h0M602.5 51.0h0M581.8 97.8h0M578.2 82.9h0M572.4 98.0h0M561.6 86.8h0M583.3 78.1h0M577.6 93.4h0M583.1 78.6h0M605.9 61.6h0M603.5 62.5h0M607.4 58.5h0M573.2 73.7h0M580.3 75.3h0M618.8 50.2h0M580.8 84.3h0M597.5 53.1h0M598.1 72.2h0M599.4 61.4h0M587.1 54.9h0M583.7 65.0h0M584.6 86.3h0M592.8 79.8h0M589.0 79.5h0M563.4 100.6h0M566.2 91.7h0M598.2 72.1h0M565.0 84.5h0M590.0 65.8h0M592.0 64.7h0M588.6 68.8h0M586.9 73.2h0M597.2 70.4h0M566.0 88.7h0M575.9 81.8h0M629.8 34.2h0M581.3 92.6h0M624.4 54.1h0M626.1 42.3h0M589.8 62.6h0M544.5 105.4h0M601.2 66.6h0M573.3 89.1h0M598.2 63.5h0M593.0 62.6h0M604.7 56.1h0M559.1 83.6h0M587.2 61.3h0M593.4 78.4h0M606.5 60.2h0M598.4 63.2h0M559.3 88.9h0M595.5 64.5h0M576.9 76.5h0M597.2 71.6h0M567.5 91.6h0M588.4 55.3h0M577.4 86.5h0M573.4 87.3h0M564.4 82.8h0M564.0 93.1h0M598.7 65.6h0M598.8 60.9h0M574.2 83.5h0M591.7 64.1h0M562.3 95.9h0M595.9 69.2h0M579.8 85.4h0M563.7 84.1h0M555.9 104.6h0M614.7 56.5h0M573.8 81.5h0M589.9 76.7h0M570.8 95.0h0M577.1 81.1h0M576.0 84.3h0M596.0 78.8h0M589.7 68.9h0M576.5 80.8h0M588.2 64.6h0M553.4 93.2h0M555.0 88.8h0M583.1 76.3h0M590.1 65.2h0M586.0 74.1h0M572.4 94.9h0M590.8 66.9h0M590.8 75.1h0M586.7 72.9h0M583.2 80.2h0M567.3 78.2h0M598.8 55.2h0M595.5 72.1h0M599.6 85.2h0M557.0 87.4h0M591.5 72.6h0M616.2 52.0h0M610.7 45.3h0M590.2 57.4h0M581.1 81.5h0M585.3 66.2h0M600.2 67.4h0M564.1 87.8h0M595.8 74.7h0M606.0 66.4h0M592.3 65.3h0M599.7 72.8h0M568.8 87.5h0M569.1 80.3h0M584.0 77.4h0M584.0 76.2h0M593.9 88.3h0M593.3 79.2h0M562.5 84.7h0M567.1 101.3h0M585.7 78.2h0M571.8 85.7h0M554.3 106.1h0M588.7 61.9h0M614.6 58.3h0M608.2 60.0h0M579.9 82.8h0M569.9 78.2h0M567.4 103.5h0M589.7 86.2h0M574.8 79.7h0M569.8 85.9h0M565.4 96.6h0M575.0 72.4h0M587.8 66.1h0M570.3 104.9h0M575.9 66.6h0M555.5 93.4h0M560.4 90.3h0M578.6 74.4h0M597.9 72.0h0M580.1 78.8h0M567.2 76.2h0M578.2 74.0h0M555.6 93.2h0M579.1 78.5h0M581.3 67.4h0M586.5 69.6h0M562.6 83.1h0M589.6 77.7h0M586.2 75.6h0M584.2 67.0h0M576.9 73.9h0M596.6 73.4h0M556.3 94.3h0M623.8 41.3h0M596.5 60.6h0M566.1 86.1h0M627.7 47.7h0M630.2 43.9h0M563.5 83.1h0M588.3 77.0h0M579.2 70.6h0M587.2 65.1h0M599.9 67.8h0M582.5 71.3h0M579.0 78.6h0M586.1 65.6h0M568.4 78.6h0M595.4 70.1h0M592.5 67.6h0M583.5 79.1h0M609.1 54.6h0M568.9 94.2h0M613.4 67.0h0M576.4 71.1h0M579.9 85.5h0M565.2 82.9h0M582.1 83.8h0M571.4 74.1h0M561.2 83.0h0M548.1 101.5h0M586.2 74.0h0M575.1 81.3h0M556.5 95.6h0M586.3 78.0h0M626.7 44.2h0M599.4 62.7h0M600.4 79.9h0M594.7 67.9h0M574.7 79.2h0M580.9 81.7h0M600.6 78.8h0M589.7 78.5h0M616.2 53.2h0M588.5 67.4h0M565.8 95.9h0M590.8 74.1h0M553.6 81.3h0M569.1 86.6h0M578.4 83.7h0M572.0 77.6h0M570.2 72.0h0M579.3 69.5h0"/></defs><use href="#bp0" stroke="#fff" stroke-width="2.4" stroke-linecap="round" fill="none"/><use href="#bp0" stroke="#3c88c2" stroke-width="1.9" stroke-linecap="round" fill="none"/><use href="#bp1" stroke="#fff" stroke-width="2.4" stroke-linecap="round" fill="none"/><use href="#bp1" stroke="#3c88c2" stroke-width="1.9" stroke-linecap="round" fill="none"/><use href="#bp2" stroke="#fff" stroke-width="2.4" stroke-linecap="round" fill="none"/><use href="#bp2" stroke="#3c88c2" stroke-width="1.9" stroke-linecap="round" fill="none"/><use href="#bp3" stroke="#fff" stroke-width="2.4" stroke-linecap="round" fill="none"/><use href="#bp3" stroke="#3c88c2" stroke-width="1.9" stroke-linecap="round" fill="none"/><use href="#bp4" stroke="#fff" stroke-width="2.4" stroke-linecap="round" fill="none"/><use href="#bp4" stroke="#3c88c2" stroke-width="1.9" stroke-linecap="round" fill="none"/><use href="#bp5" stroke="#fff" stroke-width="2.4" stroke-linecap="round" fill="none"/><use href="#bp5" stroke="#3c88c2" stroke-width="1.9" stroke-linecap="round" fill="none"/><use href="#bp6" stroke="#fff" stroke-width="2.4" stroke-linecap="round" fill="none"/><use href="#bp6" stroke="#3c88c2" stroke-width="1.9" stroke-linecap="round" fill="none"/><use href="#bp7" stroke="#fff" stroke-width="2.4" stroke-linecap="round" fill="none"/><use href="#bp7" stroke="#3c88c2" stroke-width="1.9" stroke-linecap="round" fill="none"/><g stroke="#555" stroke-width="0.7"><line x1="532.5" y1="101.3" x2="534.5" y2="101.3"/><line x1="549.6" y1="111.6" x2="549.6" y2="113.6"/><line x1="532.5" y1="86.1" x2="534.5" y2="86.1"/><line x1="569.8" y1="111.6" x2="569.8" y2="113.6"/><line x1="532.5" y1="71.0" x2="534.5" y2="71.0"/><line x1="590.0" y1="111.6" x2="590.0" y2="113.6"/><line x1="532.5" y1="55.8" x2="534.5" y2="55.8"/><line x1="610.2" y1="111.6" x2="610.2" y2="113.6"/><line x1="532.5" y1="40.7" x2="534.5" y2="40.7"/><line x1="630.4" y1="111.6" x2="630.4" y2="113.6"/><line x1="532.5" y1="25.5" x2="534.5" y2="25.5"/><line x1="650.6" y1="111.6" x2="650.6" y2="113.6"/><line x1="532.5" y1="10.3" x2="534.5" y2="10.3"/><line x1="670.8" y1="111.6" x2="670.8" y2="113.6"/></g><text x="530.0" y="104.5" font-size="8.8" text-anchor="end" fill="#222">12</text><text x="549.6" y="124.9" font-size="8.8" text-anchor="middle" fill="#222">12</text><text x="530.0" y="89.3" font-size="8.8" text-anchor="end" fill="#222">14</text><text x="569.8" y="124.9" font-size="8.8" text-anchor="middle" fill="#222">14</text><text x="530.0" y="74.2" font-size="8.8" text-anchor="end" fill="#222">16</text><text x="590.0" y="124.9" font-size="8.8" text-anchor="middle" fill="#222">16</text><text x="530.0" y="59.0" font-size="8.8" text-anchor="end" fill="#222">18</text><text x="610.2" y="124.9" font-size="8.8" text-anchor="middle" fill="#222">18</text><text x="530.0" y="43.9" font-size="8.8" text-anchor="end" fill="#222">20</text><text x="630.4" y="124.9" font-size="8.8" text-anchor="middle" fill="#222">20</text><text x="530.0" y="28.7" font-size="8.8" text-anchor="end" fill="#222">22</text><text x="650.6" y="124.9" font-size="8.8" text-anchor="middle" fill="#222">22</text><text x="530.0" y="13.5" font-size="8.8" text-anchor="end" fill="#222">24</text><text x="670.8" y="124.9" font-size="8.8" text-anchor="middle" fill="#222">24</text><text x="604.0" y="135.0" font-size="9.6" text-anchor="middle" fill="#222">C-EV</text><text transform="translate(515.6 57.0) rotate(-90)" font-size="9.7" text-anchor="middle" fill="#222">SIRP-EV</text><text x="540.5" y="20.2" font-size="9.6" fill="#222">ρ=0.9114</text><rect x="540.0" y="144.0" width="138.20000000000005" height="103.5" fill="none" stroke="#888" stroke-width="0.8"/><path d="M543.2 149.5 L543.5 160.0 L543.9 169.0 L544.8 177.0 L546.3 183.3 L548.6 187.3 L551.5 189.5 L554.0 190.8 L560.0 192.6 L567.5 194.0 L581.0 195.9 L595.0 197.0 L608.0 198.0 L622.0 199.3 L635.0 200.8 L646.0 202.2 L656.6 204.0 L663.0 205.6 L667.4 207.5 L669.6 209.6 L670.7 211.6 L671.5 215.0 L672.0 221.0 L672.4 230.0 L672.8 244.0" fill="none" stroke="#6f73f0" stroke-width="0.9"/><circle cx="543.6" cy="147.7" r="1.1" fill="#e8322c"/><text x="555.7" y="160.8" font-size="11.3" fill="#e8302a">SIRPα</text><text x="555.6" y="173.3" font-size="9.6" fill="#222">Log<tspan font-size="6.5" dy="2.2">2</tspan><tspan dy="-2.2">-fold-change:3.741</tspan></text><g stroke="#555" stroke-width="0.7"><line x1="537.8" y1="146.2" x2="540.0" y2="146.2"/><line x1="537.8" y1="158.9" x2="540.0" y2="158.9"/><line x1="537.8" y1="171.9" x2="540.0" y2="171.9"/><line x1="537.8" y1="184.6" x2="540.0" y2="184.6"/><line x1="537.8" y1="198.9" x2="540.0" y2="198.9"/><line x1="537.8" y1="212.4" x2="540.0" y2="212.4"/><line x1="537.8" y1="225.9" x2="540.0" y2="225.9"/><line x1="537.8" y1="236.7" x2="540.0" y2="236.7"/><line x1="545.4" y1="247.5" x2="545.4" y2="249.5"/><line x1="579.4" y1="247.5" x2="579.4" y2="249.5"/><line x1="613.4" y1="247.5" x2="613.4" y2="249.5"/><line x1="647.4" y1="247.5" x2="647.4" y2="249.5"/></g><text x="533.8" y="149.4" font-size="9.4" text-anchor="middle" fill="#222">4</text><text x="533.6" y="162.3" font-size="9.4" text-anchor="middle" fill="#222">3</text><text x="533.6" y="175.3" font-size="9.4" text-anchor="middle" fill="#222">2</text><text x="533.6" y="188.0" font-size="9.4" text-anchor="middle" fill="#222">1</text><text x="533.6" y="202.3" font-size="9.4" text-anchor="middle" fill="#222">0</text><text x="533.0" y="215.8" font-size="9.4" text-anchor="middle" fill="#222">-</text><text x="535.6" y="229.3" font-size="9.4" text-anchor="middle" fill="#222">1</text><text x="533.6" y="240.1" font-size="9.4" text-anchor="middle" fill="#222">2</text><text x="533.3" y="252.8" font-size="9.4" text-anchor="middle" fill="#222">3</text><text x="535.3" y="221.5" font-size="6" fill="#444">-</text><text x="531.2" y="234.4" font-size="6" fill="#444">-</text><text x="545.4" y="261.7" font-size="9.4" text-anchor="middle" fill="#222">0</text><text x="579.4" y="261.7" font-size="9.4" text-anchor="middle" fill="#222">2000</text><text x="613.4" y="261.7" font-size="9.4" text-anchor="middle" fill="#222">4000</text><text x="647.4" y="261.7" font-size="9.4" text-anchor="middle" fill="#222">6000</text><text x="607.5" y="274.0" font-size="9.8" text-anchor="middle" fill="#222">Protein index</text><text transform="translate(510.8 194) rotate(-90)" font-size="9.6" text-anchor="middle" fill="#222">Log<tspan font-size="6.5" dy="2.2">2</tspan><tspan dy="-2.2">-fold-change</tspan></text><text transform="translate(521.6 194) rotate(-90)" font-size="9.6" text-anchor="middle" fill="#222">(SIRP-EV/C-EV)</text><defs><filter id="bl" x="-30%" y="-80%" width="160%" height="260%"><feGaussianBlur stdDeviation="1.5"/></filter><filter id="bl2" x="-30%" y="-80%" width="160%" height="260%"><feGaussianBlur stdDeviation="0.9"/></filter><filter id="bl3" x="-30%" y="-80%" width="160%" height="260%"><feGaussianBlur stdDeviation="2.6"/></filter><linearGradient id="tsg" x1="0" x2="1" y1="0" y2="0"><stop offset="0" stop-color="#555"/><stop offset="0.12" stop-color="#7c7c7c"/><stop offset="0.5" stop-color="#8a8a8a"/><stop offset="1" stop-color="#7e7e7e"/></linearGradient><linearGradient id="sirpbg" x1="0" x2="1" y1="0" y2="0"><stop offset="0" stop-color="#dcdcdc"/><stop offset="0.5" stop-color="#e6e6e6"/><stop offset="1" stop-color="#dedede"/></linearGradient></defs><rect x="532.7" y="295.7" width="99.59999999999991" height="29.30000000000001" fill="url(#sirpbg)"/><rect x="532.7" y="329.0" width="99.59999999999991" height="29.399999999999977" fill="#e2e2e2"/><rect x="532.7" y="363.5" width="99.59999999999991" height="29.100000000000023" fill="#e5e5e5"/><rect x="532.7" y="396.3" width="99.59999999999991" height="29.30000000000001" fill="#dcdcdc"/><rect x="532.7" y="428.5" width="99.59999999999991" height="27.899999999999977" fill="url(#tsg)"/><rect x="532.7" y="459.3" width="99.59999999999991" height="28.19999999999999" fill="#d8d8d8"/><ellipse cx="536.5" cy="308.5" rx="2.6" ry="4.2" fill="#5e9a45" opacity="0.7" filter="url(#bl)"/><ellipse cx="536.5" cy="320.5" rx="2.6" ry="4.2" fill="#86aed8" opacity="0.7" filter="url(#bl)"/><ellipse cx="536.5" cy="336.9" rx="2.6" ry="4.2" fill="#5e9a45" opacity="0.7" filter="url(#bl)"/><ellipse cx="536.5" cy="348.3" rx="2.6" ry="4.2" fill="#86aed8" opacity="0.7" filter="url(#bl)"/><ellipse cx="536.5" cy="376.9" rx="2.6" ry="4.2" fill="#5a9a40" opacity="0.7" filter="url(#bl)"/><ellipse cx="536.5" cy="388" rx="2.6" ry="4.2" fill="#86aed8" opacity="0.7" filter="url(#bl)"/><ellipse cx="536.5" cy="400" rx="2.6" ry="4.2" fill="#7aa6d8" opacity="0.7" filter="url(#bl)"/><ellipse cx="536.5" cy="418.2" rx="2.6" ry="4.2" fill="#7aa6d8" opacity="0.7" filter="url(#bl)"/><ellipse cx="536.5" cy="448.5" rx="2.6" ry="4.2" fill="#6a90c0" opacity="0.7" filter="url(#bl)"/><ellipse cx="536.5" cy="436" rx="2.6" ry="4.2" fill="#4a5a6a" opacity="0.7" filter="url(#bl)"/><ellipse cx="536.5" cy="465.5" rx="2.6" ry="4.2" fill="#78a8da" opacity="0.7" filter="url(#bl)"/><ellipse cx="536.5" cy="484.9" rx="2.6" ry="4.2" fill="#5e9a45" opacity="0.7" filter="url(#bl)"/><rect x="590.4" y="304.4" width="38.0" height="15.4" rx="7.2" fill="#000" filter="url(#bl2)"/><ellipse cx="563.3" cy="344.6" rx="17.5" ry="2.5" fill="#2a2a2a" opacity="0.62" filter="url(#bl)"/><ellipse cx="572" cy="344.2" rx="8" ry="2.2" fill="#111" opacity="0.5" filter="url(#bl)"/><ellipse cx="608.5" cy="344.4" rx="17.5" ry="2.7" fill="#222" opacity="0.72" filter="url(#bl)"/><ellipse cx="616" cy="344" rx="8" ry="2.2" fill="#111" opacity="0.5" filter="url(#bl)"/><ellipse cx="564.4" cy="381.6" rx="16" ry="2.8" fill="#2a2a2a" opacity="0.72" filter="url(#bl)"/><ellipse cx="608.2" cy="380.4" rx="15.6" ry="2.4" fill="#444" opacity="0.38" filter="url(#bl)"/><ellipse cx="567" cy="410.5" rx="20" ry="12" fill="#555" opacity="0.35" filter="url(#bl3)"/><ellipse cx="610.5" cy="411" rx="18" ry="12" fill="#555" opacity="0.35" filter="url(#bl3)"/><path d="M552 410 C552 403 556 400.5 562 400.5 C570 400.6 578 401.5 583 404.5 C585 407 585 413 583 416.5 C578 418.8 570 419 562 419.2 C556 419.4 552 416 552 410 Z" fill="#000" filter="url(#bl2)"/><path d="M595.3 411 C595.3 404 598 401.5 604 401.2 C612 401 620 403 624.5 406 C626.5 409 626.5 414 624.5 417.5 C619 419.5 611 420.3 603 420.6 C598 420.6 595.3 417 595.3 411 Z" fill="#000" filter="url(#bl2)"/><ellipse cx="567" cy="442.6" rx="15.5" ry="2.6" fill="#222" opacity="0.55" filter="url(#bl)"/><ellipse cx="612" cy="443.2" rx="17" ry="3.0" fill="#1a1a1a" opacity="0.65" filter="url(#bl)"/><rect x="532.7" y="295.7" width="99.59999999999991" height="29.30000000000001" fill="none" stroke="#1a1a1a" stroke-width="1.1"/><text x="639.4" y="317.6" font-size="10.8" fill="#1a1a1a">SIRPα</text><text x="523.8" y="312.1" font-size="10.2" text-anchor="end" fill="#1a1a1a">25</text><line x1="525.2" y1="308.5" x2="531.8" y2="308.5" stroke="#333" stroke-width="0.9"/><text x="523.8" y="323.5" font-size="10.2" text-anchor="end" fill="#1a1a1a">20</text><line x1="525.2" y1="319.9" x2="531.8" y2="319.9" stroke="#333" stroke-width="0.9"/><rect x="532.7" y="329.0" width="99.59999999999991" height="29.399999999999977" fill="none" stroke="#1a1a1a" stroke-width="1.1"/><text x="639.4" y="349.6" font-size="10.8" fill="#1a1a1a">CD81</text><text x="523.8" y="340.5" font-size="10.2" text-anchor="end" fill="#1a1a1a">25</text><line x1="525.2" y1="336.9" x2="531.8" y2="336.9" stroke="#333" stroke-width="0.9"/><text x="523.8" y="351.9" font-size="10.2" text-anchor="end" fill="#1a1a1a">20</text><line x1="525.2" y1="348.3" x2="531.8" y2="348.3" stroke="#333" stroke-width="0.9"/><rect x="532.7" y="363.5" width="99.59999999999991" height="29.100000000000023" fill="none" stroke="#1a1a1a" stroke-width="1.1"/><text x="639.4" y="383.9" font-size="10.8" fill="#1a1a1a">CD9</text><text x="523.8" y="380.5" font-size="10.2" text-anchor="end" fill="#1a1a1a">25</text><line x1="525.2" y1="376.9" x2="531.8" y2="376.9" stroke="#333" stroke-width="0.9"/><rect x="532.7" y="396.3" width="99.59999999999991" height="29.30000000000001" fill="none" stroke="#1a1a1a" stroke-width="1.1"/><text x="639.4" y="417.2" font-size="10.8" fill="#1a1a1a">CD63</text><text x="523.8" y="403.6" font-size="10.2" text-anchor="end" fill="#1a1a1a">60</text><line x1="525.2" y1="400.0" x2="531.8" y2="400.0" stroke="#333" stroke-width="0.9"/><text x="523.8" y="421.8" font-size="10.2" text-anchor="end" fill="#1a1a1a">45</text><line x1="525.2" y1="418.2" x2="531.8" y2="418.2" stroke="#333" stroke-width="0.9"/><rect x="532.7" y="428.5" width="99.59999999999991" height="27.899999999999977" fill="none" stroke="#1a1a1a" stroke-width="1.1"/><text x="639.4" y="448.3" font-size="10.8" fill="#1a1a1a">TSG101</text><text x="523.8" y="452.1" font-size="10.2" text-anchor="end" fill="#1a1a1a">45</text><line x1="525.2" y1="448.5" x2="531.8" y2="448.5" stroke="#333" stroke-width="0.9"/><rect x="532.7" y="459.3" width="99.59999999999991" height="28.19999999999999" fill="none" stroke="#1a1a1a" stroke-width="1.1"/><text x="639.4" y="479.0" font-size="10.8" fill="#1a1a1a">Prohibitin</text><text x="523.8" y="469.1" font-size="10.2" text-anchor="end" fill="#1a1a1a">35</text><line x1="525.2" y1="465.5" x2="531.8" y2="465.5" stroke="#333" stroke-width="0.9"/><text x="523.8" y="488.5" font-size="10.2" text-anchor="end" fill="#1a1a1a">25</text><line x1="525.2" y1="484.9" x2="531.8" y2="484.9" stroke="#333" stroke-width="0.9"/><text x="512.6" y="294.6" font-size="8.6" fill="#1a1a1a">kDa</text><text x="563.0" y="293.3" font-size="10.8" text-anchor="middle" fill="#1a1a1a">C-EV</text><text x="609.0" y="293.3" font-size="10.8" text-anchor="middle" fill="#1a1a1a">SIRP-EV</text><defs><filter id="noise" x="0" y="0" width="100%" height="100%"><feTurbulence type="fractalNoise" baseFrequency="1.15" numOctaves="2" seed="3" result="n"/><feColorMatrix in="n" type="matrix" values="1 0 0 0 0  1 0 0 0 0  1 0 0 0 0  0 0 0 0 1" result="a"/><feComposite in="a" in2="SourceGraphic" operator="in"/></filter><filter id="soft"><feGaussianBlur stdDeviation="0.35"/></filter><clipPath id="ce1"><rect x="1.9" y="521.9" width="126.8" height="126.8"/></clipPath><clipPath id="ce2"><rect x="133.9" y="521.9" width="127.2" height="126.3"/></clipPath></defs><g clip-path="url(#ce1)"><rect x="1.9" y="521.9" width="126.8" height="126.8" fill="#8a8a8a"/><path d="M0 575.9 C20 577.4 40 579.2 58 578.8 C78 575 100 567.5 116 563.9 L130 557 L130 569.7 C110 573 85 580 67.4 585.5 C55 589 45 595 43.4 602 C42 612 47 622 58 630 C66 637 76 643 83 650 L68 650 C55 641 40 634 20 628 L0 622 Z" fill="#777"/><path d="M130 569.7 C110 573 85 580 67.4 585.5 C55 589 45 595 43.4 602 C42 612 47 622 58 630 C66 637 76 643 83 650 L130 650 Z" fill="#969696"/><path d="M0 622 L20 628 C40 634 55 641 68 650 L0 650 Z" fill="#939393"/><path d="M0 574.9 C20 576.4 40 578.2 58 577.8 C78 574 100 566.5 116 562.9 L130 556" fill="none" stroke="#b4b4b4" stroke-width="0.9"/><path d="M0 575.9 C20 577.4 40 579.2 58 578.8 C78 575 100 567.5 116 563.9 L130 557" fill="none" stroke="#2e2e2e" stroke-width="0.95"/><path d="M130 570.7 C110 574 85 581 67.9 586.5 C56 590 46 596 44.4 602 C43 612 48 621 59 629 C67 636 77 642 84 649" fill="none" stroke="#b4b4b4" stroke-width="0.9"/><path d="M130 569.7 C110 573 85 580 67.4 585.5 C55 589 45 595 43.4 602 C42 612 47 622 58 630 C66 637 76 643 83 650" fill="none" stroke="#2e2e2e" stroke-width="0.95"/><path d="M0 623 L20 629 C40 635 55 642 67 651" fill="none" stroke="#b0b0b0" stroke-width="0.9"/><path d="M0 622 L20 628 C40 634 55 641 68 650" fill="none" stroke="#2e2e2e" stroke-width="0.95"/><circle cx="55.9" cy="565.9" r="11.6" fill="#8a8a8a" stroke="#464646" stroke-width="1.0"/><circle cx="55.9" cy="565.9" r="12.6" fill="none" stroke="#a8a8a8" stroke-width="0.7" opacity="0.7"/><circle cx="88.6" cy="559.5" r="10.0" fill="#8a8a8a" stroke="#464646" stroke-width="1.0"/><circle cx="88.6" cy="559.5" r="11.0" fill="none" stroke="#a8a8a8" stroke-width="0.7" opacity="0.7"/><circle cx="62.6" cy="600.9" r="11.6" fill="#929292" stroke="#464646" stroke-width="1.0"/><circle cx="62.6" cy="600.9" r="12.6" fill="none" stroke="#a8a8a8" stroke-width="0.7" opacity="0.7"/><circle cx="15" cy="606.7" r="9.6" fill="#737373" stroke="#5e5e5e" stroke-width="0.7"/><rect x="1.9" y="521.9" width="126.8" height="126.8" fill="#fff" filter="url(#noise)" opacity="0.3"/></g><line x1="9.6" y1="640.4" x2="32.8" y2="640.4" stroke="#fff" stroke-width="1"/><text x="9.6" y="638.4" font-size="6.4" fill="#fff" textLength="22.5">100 nm</text><g clip-path="url(#ce2)"><rect x="133.9" y="521.9" width="127.2" height="126.3" fill="#8b8b8b"/><path d="M162.5 520 C157 538 152 552 149.7 559.4 C145 568 139 576 133 585 L133 612 C138 600 144 588 149.7 579.1 C154 572 157 566 159.6 562.3 C162 558 163 555 164.5 553.5 C168 543 171 532 174.3 520 Z" fill="#767676" stroke="#2a2a2a" stroke-width="0.85"/><path d="M249.2 520 C246 533 243 548 240.4 559.4 C234 572 228 580 222.6 587 C217 598 212 607 208.8 614.5 C203 626 195 637 187.2 650 L204.9 650 C207 640 210 630 212.8 622.4 C217 614 221 608 224.6 602.7 C229 596 233 591 236.4 587 C244 590 252 595 262 602 L262 597 C253 592 245 587 239 584 C241 580 243 577 244.3 575.2 C249 562 255 549 262 533 L258.1 520 Z" fill="#767676" stroke="#2a2a2a" stroke-width="0.85"/><circle cx="172.4" cy="557.4" r="9.9" fill="#8a8a8a" stroke="#464646" stroke-width="1.0"/><circle cx="172.4" cy="557.4" r="10.9" fill="none" stroke="#a8a8a8" stroke-width="0.7" opacity="0.7"/><circle cx="220.3" cy="567.7" r="10.8" fill="#8a8a8a" stroke="#464646" stroke-width="1.0"/><circle cx="220.3" cy="567.7" r="11.8" fill="none" stroke="#a8a8a8" stroke-width="0.7" opacity="0.7"/><circle cx="207.5" cy="588.0" r="11.3" fill="#8a8a8a" stroke="#464646" stroke-width="1.0"/><circle cx="207.5" cy="588.0" r="12.3" fill="none" stroke="#a8a8a8" stroke-width="0.7" opacity="0.7"/><circle cx="222.2" cy="627.3" r="11.4" fill="#8a8a8a" stroke="#464646" stroke-width="1.0"/><circle cx="222.2" cy="627.3" r="12.4" fill="none" stroke="#a8a8a8" stroke-width="0.7" opacity="0.7"/><circle cx="241.4" cy="627.9" r="4" fill="none" stroke="#707070" stroke-width="0.6"/><circle cx="265" cy="569" r="18" fill="#878787" stroke="#555" stroke-width="0.9"/><rect x="133.9" y="521.9" width="127.2" height="126.3" fill="#fff" filter="url(#noise)" opacity="0.3"/></g><line x1="141.8" y1="639.8" x2="165.9" y2="639.8" stroke="#fff" stroke-width="1"/><text x="142.0" y="637.8" font-size="6.4" fill="#fff" textLength="23">100 nm</text><text x="66.0" y="515.8" font-size="12.2" text-anchor="middle" fill="#111">C-EV</text><text x="198.4" y="515.8" font-size="12.2" text-anchor="middle" fill="#111">SIRP-EV</text><g stroke="#000" stroke-width="1.4" fill="none"><path d="M310.5 523.5 L310.5 624.0 L460.2 624.0"/><line x1="310.5" y1="624.0" x2="310.5" y2="629.7"/><line x1="347.6" y1="624.0" x2="347.6" y2="629.7"/><line x1="384.6" y1="624.0" x2="384.6" y2="629.7"/><line x1="421.6" y1="624.0" x2="421.6" y2="629.7"/><line x1="458.7" y1="624.0" x2="458.7" y2="629.7"/><line x1="304.2" y1="624.0" x2="310.5" y2="624.0"/><line x1="304.2" y1="598.9" x2="310.5" y2="598.9"/><line x1="304.2" y1="573.8" x2="310.5" y2="573.8"/><line x1="304.2" y1="548.7" x2="310.5" y2="548.7"/><line x1="304.2" y1="523.6" x2="310.5" y2="523.6"/></g><text x="310.5" y="642.3" font-size="9.4" text-anchor="middle" fill="#111">1</text><text x="347.6" y="642.3" font-size="9.4" text-anchor="middle" fill="#111">10</text><text x="384.6" y="642.3" font-size="9.4" text-anchor="middle" fill="#111">100</text><text x="421.6" y="642.3" font-size="9.4" text-anchor="middle" fill="#111">1000</text><text x="458.7" y="642.3" font-size="9.4" text-anchor="middle" fill="#111">10000</text><text x="302.0" y="627.5" font-size="9.6" text-anchor="end" fill="#111">0</text><text x="302.0" y="602.4" font-size="9.6" text-anchor="end" fill="#111">5</text><text x="302.0" y="577.3" font-size="9.6" text-anchor="end" fill="#111">10</text><text x="302.0" y="552.2" font-size="9.6" text-anchor="end" fill="#111">15</text><text x="302.0" y="527.1" font-size="9.6" text-anchor="end" fill="#111">20</text><text x="385.6" y="661.3" font-size="11.5" text-anchor="middle" fill="#111">Size (d. nm)</text><text transform="translate(284.7 574.5) rotate(-90)" font-size="11.5" text-anchor="middle" fill="#111">Intensity (%)</text><line x1="319.1" y1="529.7" x2="335.6" y2="529.7" stroke="#000" stroke-width="1.5"/><line x1="319.1" y1="542.8" x2="335.6" y2="542.8" stroke="#e8c92a" stroke-width="1.5"/><text x="344.7" y="533.6" font-size="10.8" fill="#111">C-EV</text><text x="344.7" y="546.7" font-size="10.8" fill="#111">SIRP-EV</text><path d="M381 624 L383.4 623.7 C385 618 386 610 387.3 602.9 C389 588 391 570 392.3 558.4 C393.5 548 394.5 541 395.4 538.1 L397.8 538.1 C398.8 544 399.6 550 400.6 558.4 C402.5 575 404 587 405.6 597.3 C407 608 408 615 409.5 620.7 C410.5 623 411.5 623.7 413 624" fill="none" stroke="#e8c92a" stroke-width="1.4"/><path d="M380 624 L382.8 623.7 C384.5 621 385.5 618 386.7 614 C388.5 603 390 590 391.2 580.6 C392.5 568 393.8 558 395 552.8 C396 548 397 545.5 398.2 545 C399.5 545.5 401 550 402.3 558.4 C404 570 405.5 583 406.7 591.7 C408 602 409.5 612 411.2 617.3 C412.5 621 413.5 623 414.5 623.7 L420 624" fill="none" stroke="#000" stroke-width="1.4"/><rect x="481.6" y="499.8" width="9.6" height="9.0" fill="#a4a3a9" stroke="#111" stroke-width="1"/><rect x="481.6" y="514.2" width="9.6" height="9.0" fill="#e8cc37" stroke="#111" stroke-width="1"/><text x="498.7" y="508.1" font-size="10.7" fill="#111">C-EV</text><text x="498.7" y="522.5" font-size="10.7" fill="#111">SIRP-EV</text><rect x="520.9" y="533.7" width="19.3" height="80.2" fill="#a4a3a9" stroke="#000" stroke-width="1.2"/><rect x="547.9" y="533.7" width="19.5" height="83.6" fill="#e8cc37" stroke="#000" stroke-width="1.2"/><g stroke="#000" stroke-width="1.2" fill="none"><line x1="513.7" y1="533.7" x2="513.7" y2="645.5"/><line x1="507.40000000000003" y1="533.7" x2="573.9" y2="533.7"/><line x1="507.40000000000003" y1="645.5" x2="573.9" y2="645.5"/><line x1="507.40000000000003" y1="571.0" x2="513.7" y2="571.0"/><line x1="507.40000000000003" y1="608.3" x2="513.7" y2="608.3"/></g><circle cx="523.0" cy="613.9" r="2.9" fill="none" stroke="#000" stroke-width="1.3"/><circle cx="530.6" cy="613.9" r="2.9" fill="none" stroke="#000" stroke-width="1.3"/><circle cx="537.5" cy="613.9" r="2.9" fill="none" stroke="#000" stroke-width="1.3"/><circle cx="530.5" cy="624.3" r="2.9" fill="#fff" stroke="#000" stroke-width="1.3"/><circle cx="557.7" cy="606.8" r="2.9" fill="none" stroke="#000" stroke-width="1.3"/><circle cx="550.2" cy="626.5" r="2.9" fill="#fff" stroke="#000" stroke-width="1.3"/><circle cx="564.5" cy="621.2" r="2.9" fill="#fff" stroke="#000" stroke-width="1.3"/><g stroke="#000" stroke-width="1.3"><line x1="520.9" y1="613.9" x2="540.2" y2="613.9"/><line x1="530.5" y1="613.9" x2="530.5" y2="623.5"/><line x1="525.5" y1="623.5" x2="535.3" y2="623.5"/><line x1="557.8" y1="606.8" x2="557.8" y2="628.2"/><line x1="552.8" y1="606.8" x2="562.6" y2="606.8"/><line x1="552.8" y1="628.2" x2="562.6" y2="628.2"/></g><path d="M532.1 632.0 L532.1 633.5 L555.5 633.5 L555.5 632.0" fill="none" stroke="#555" stroke-width="0.9"/><text x="543.8" y="642.4" font-size="6.2" text-anchor="middle" fill="#333">NS</text><text x="506.9" y="537.3" font-size="10.0" text-anchor="end" fill="#111">0</text><text x="506.9" y="574.6" font-size="10.0" text-anchor="end" fill="#111">-10</text><text x="506.9" y="611.9" font-size="10.0" text-anchor="end" fill="#111">-20</text><text x="506.9" y="649.2" font-size="10.0" text-anchor="end" fill="#111">-30</text><text transform="translate(487.6 590.5) rotate(-90)" font-size="10.6" text-anchor="middle" fill="#111">Zeta potential (mv)</text><rect x="626.7" y="534.3" width="18.8" height="110.3" fill="#a4a3a9" stroke="#000" stroke-width="1.2"/><rect x="653.6" y="537.1" width="19.1" height="107.5" fill="#e8cc37" stroke="#000" stroke-width="1.2"/><g stroke="#000" stroke-width="1.2" fill="none"><line x1="619.5" y1="532.6" x2="619.5" y2="644.6"/><line x1="613.5" y1="644.6" x2="680.8" y2="644.6"/><line x1="613.5" y1="622.2" x2="619.5" y2="622.2"/><line x1="613.5" y1="599.8" x2="619.5" y2="599.8"/><line x1="613.5" y1="577.4" x2="619.5" y2="577.4"/><line x1="613.5" y1="555.0" x2="619.5" y2="555.0"/><line x1="613.5" y1="532.6" x2="619.5" y2="532.6"/></g><text x="611.9" y="648.2" font-size="10.0" text-anchor="end" fill="#111">0</text><text x="611.9" y="625.8" font-size="10.0" text-anchor="end" fill="#111">20</text><text x="611.9" y="603.4" font-size="10.0" text-anchor="end" fill="#111">40</text><text x="611.9" y="581.0" font-size="10.0" text-anchor="end" fill="#111">60</text><text x="611.9" y="558.6" font-size="10.0" text-anchor="end" fill="#111">80</text><text x="611.9" y="536.2" font-size="10.0" text-anchor="end" fill="#111">100</text><text transform="translate(593.8 589.7) rotate(-90)" font-size="10.3" text-anchor="middle" fill="#111">% Lipid Bound</text><rect x="51.4" y="796.0" width="13.6" height="43.0" fill="#7c7c7c" stroke="#222" stroke-width="0.9"/><rect x="72.5" y="782.2" width="13.6" height="56.8" fill="#7c7c7c" stroke="#222" stroke-width="0.9"/><rect x="93.6" y="803.0" width="13.6" height="36.0" fill="#7c7c7c" stroke="#222" stroke-width="0.9"/><rect x="114.7" y="822.9" width="13.6" height="16.1" fill="#7c7c7c" stroke="#222" stroke-width="0.9"/><rect x="135.8" y="825.2" width="13.6" height="13.8" fill="#7c7c7c" stroke="#222" stroke-width="0.9"/><rect x="156.9" y="782.2" width="13.6" height="56.8" fill="#7c7c7c" stroke="#222" stroke-width="0.9"/><rect x="178.0" y="787.2" width="13.6" height="51.8" fill="#7c7c7c" stroke="#222" stroke-width="0.9"/><rect x="199.1" y="815.2" width="13.6" height="23.8" fill="#7c7c7c" stroke="#222" stroke-width="0.9"/><rect x="220.2" y="804.5" width="13.6" height="34.5" fill="#7c7c7c" stroke="#222" stroke-width="0.9"/><rect x="241.3" y="818.3" width="13.6" height="20.7" fill="#7c7c7c" stroke="#222" stroke-width="0.9"/><rect x="262.4" y="761.5" width="13.6" height="77.5" fill="#7c7c7c" stroke="#222" stroke-width="0.9"/><rect x="283.5" y="825.2" width="13.6" height="13.8" fill="#7c7c7c" stroke="#222" stroke-width="0.9"/><rect x="304.6" y="710.9" width="13.6" height="128.1" fill="#7c7c7c" stroke="#222" stroke-width="0.9"/><rect x="325.7" y="738.5" width="13.6" height="100.5" fill="#7c7c7c" stroke="#222" stroke-width="0.9"/><line x1="58.2" y1="822.4" x2="332.5" y2="822.4" stroke="#000" stroke-width="1.3"/><rect x="56.6" y="820.8" width="3.2" height="3.2" fill="#000"/><rect x="77.7" y="820.8" width="3.2" height="3.2" fill="#000"/><rect x="98.8" y="820.8" width="3.2" height="3.2" fill="#000"/><rect x="119.9" y="820.8" width="3.2" height="3.2" fill="#000"/><rect x="141.0" y="820.8" width="3.2" height="3.2" fill="#000"/><rect x="162.1" y="820.8" width="3.2" height="3.2" fill="#000"/><rect x="183.2" y="820.8" width="3.2" height="3.2" fill="#000"/><rect x="204.3" y="820.8" width="3.2" height="3.2" fill="#000"/><rect x="225.4" y="820.8" width="3.2" height="3.2" fill="#000"/><rect x="246.5" y="820.8" width="3.2" height="3.2" fill="#000"/><rect x="267.6" y="820.8" width="3.2" height="3.2" fill="#000"/><rect x="288.7" y="820.8" width="3.2" height="3.2" fill="#000"/><rect x="309.8" y="820.8" width="3.2" height="3.2" fill="#000"/><rect x="330.9" y="820.8" width="3.2" height="3.2" fill="#000"/><path d="M58.2 704.5 L79.3 750.6 L100.4 773.7 L121.5 779.7 L142.6 781.1 L163.7 781.4 L184.8 783.5 L205.9 790.7 L227.0 794.8 L248.1 799.9 L269.2 800.5 L290.3 808.0 L311.4 828.0 L332.5 839.0" fill="none" stroke="#c8201e" stroke-width="1.4"/><circle cx="58.2" cy="704.5" r="1.9" fill="#c8201e"/><circle cx="79.3" cy="750.6" r="1.9" fill="#c8201e"/><circle cx="100.4" cy="773.7" r="1.9" fill="#c8201e"/><circle cx="121.5" cy="779.7" r="1.9" fill="#c8201e"/><circle cx="142.6" cy="781.1" r="1.9" fill="#c8201e"/><circle cx="163.7" cy="781.4" r="1.9" fill="#c8201e"/><circle cx="184.8" cy="783.5" r="1.9" fill="#c8201e"/><circle cx="205.9" cy="790.7" r="1.9" fill="#c8201e"/><circle cx="227.0" cy="794.8" r="1.9" fill="#c8201e"/><circle cx="248.1" cy="799.9" r="1.9" fill="#c8201e"/><circle cx="269.2" cy="800.5" r="1.9" fill="#c8201e"/><circle cx="290.3" cy="808.0" r="1.9" fill="#c8201e"/><circle cx="311.4" cy="828.0" r="1.9" fill="#c8201e"/><circle cx="332.5" cy="839.0" r="1.9" fill="#c8201e"/><g stroke="#555" stroke-width="0.9" fill="none"><line x1="37.9" y1="685.6" x2="37.9" y2="839.0"/><line x1="353.8" y1="686.0" x2="353.8" y2="839.0"/><line x1="32.4" y1="839.0" x2="359.3" y2="839.0"/><line x1="32.4" y1="800.6" x2="37.9" y2="800.6"/><line x1="32.4" y1="762.3" x2="37.9" y2="762.3"/><line x1="32.4" y1="724.0" x2="37.9" y2="724.0"/><line x1="32.4" y1="685.6" x2="37.9" y2="685.6"/><line x1="353.8" y1="813.5" x2="359.3" y2="813.5"/><line x1="353.8" y1="788.0" x2="359.3" y2="788.0"/><line x1="353.8" y1="762.5" x2="359.3" y2="762.5"/><line x1="353.8" y1="737.0" x2="359.3" y2="737.0"/><line x1="353.8" y1="711.5" x2="359.3" y2="711.5"/><line x1="353.8" y1="686.0" x2="359.3" y2="686.0"/><line x1="58.2" y1="839.0" x2="58.2" y2="842.0"/><line x1="79.3" y1="839.0" x2="79.3" y2="842.0"/><line x1="100.4" y1="839.0" x2="100.4" y2="842.0"/><line x1="121.5" y1="839.0" x2="121.5" y2="842.0"/><line x1="142.6" y1="839.0" x2="142.6" y2="842.0"/><line x1="163.7" y1="839.0" x2="163.7" y2="842.0"/><line x1="184.8" y1="839.0" x2="184.8" y2="842.0"/><line x1="205.9" y1="839.0" x2="205.9" y2="842.0"/><line x1="227.0" y1="839.0" x2="227.0" y2="842.0"/><line x1="248.1" y1="839.0" x2="248.1" y2="842.0"/><line x1="269.2" y1="839.0" x2="269.2" y2="842.0"/><line x1="290.3" y1="839.0" x2="290.3" y2="842.0"/><line x1="311.4" y1="839.0" x2="311.4" y2="842.0"/><line x1="332.5" y1="839.0" x2="332.5" y2="842.0"/></g><text x="25.8" y="842.7" font-size="10.3" text-anchor="middle" fill="#111">0</text><text x="25.8" y="804.4" font-size="10.3" text-anchor="middle" fill="#111">5</text><text x="25.8" y="766.0" font-size="10.3" text-anchor="middle" fill="#111">10</text><text x="25.8" y="727.7" font-size="10.3" text-anchor="middle" fill="#111">15</text><text x="25.8" y="689.3" font-size="10.3" text-anchor="middle" fill="#111">20</text><text x="361.4" y="842.7" font-size="10.3" fill="#111">0</text><text x="361.4" y="817.2" font-size="10.3" fill="#111">2</text><text x="361.4" y="791.7" font-size="10.3" fill="#111">4</text><text x="361.4" y="766.2" font-size="10.3" fill="#111">6</text><text x="361.4" y="740.7" font-size="10.3" fill="#111">8</text><text x="361.4" y="715.2" font-size="10.3" fill="#111">10</text><text x="361.4" y="689.7" font-size="10.3" fill="#111">12</text><text transform="translate(11.9 761.1) rotate(-90)" font-size="11.2" text-anchor="middle" fill="#111">Percentage of proteins</text><text transform="translate(377.6 760.8) rotate(90)" font-size="11.0" text-anchor="middle" fill="#c8201e">- Log<tspan font-size="6.8" dy="2.2">10</tspan><tspan dy="-2.2"> (p-value)</tspan></text><text transform="translate(60.8 848.8) rotate(-45)" font-size="8.7" text-anchor="end" fill="#111">Antigen binding</text><text transform="translate(81.9 848.8) rotate(-45)" font-size="8.7" text-anchor="end" fill="#111">Cadherin binding</text><text transform="translate(103.0 848.8) rotate(-45)" font-size="8.7" text-anchor="end" fill="#111">Integrin binding</text><text transform="translate(124.1 848.8) rotate(-45)" font-size="8.7" text-anchor="end" fill="#111">G-protein/γ-subunit complex binding</text><text transform="translate(145.2 848.8) rotate(-45)" font-size="8.7" text-anchor="end" fill="#111">Antioxidant activity</text><text transform="translate(166.3 848.8) rotate(-45)" font-size="8.7" text-anchor="end" fill="#111">GTP binding</text><text transform="translate(187.4 848.8) rotate(-45)" font-size="8.7" text-anchor="end" fill="#111">GTPase activity</text><text transform="translate(208.5 848.8) rotate(-45)" font-size="8.7" text-anchor="end" fill="#111">Calcium-dependent protein binding</text><text transform="translate(229.6 848.8) rotate(-45)" font-size="8.7" text-anchor="end" fill="#111">Heparin binding</text><text transform="translate(247.2 844.8) rotate(-45)" font-size="8.7" text-anchor="end" fill="#111">Extracellular matrix structura</text><text transform="translate(271.8 848.8) rotate(-45)" font-size="8.7" text-anchor="end" fill="#111">Calcium ion binding</text><text transform="translate(292.9 848.8) rotate(-45)" font-size="8.7" text-anchor="end" fill="#111">Extracellular matrix binding</text><text transform="translate(314.0 848.8) rotate(-45)" font-size="8.7" text-anchor="end" fill="#111">Identical protein binding</text><text transform="translate(335.1 848.8) rotate(-45)" font-size="8.7" text-anchor="end" fill="#111">RNA binding</text><text transform="translate(253.5 851.7) rotate(-45)" font-size="8.7" text-anchor="end" fill="#111">constituent</text><rect x="445.8" y="839.5" width="12.0" height="3.7" fill="#a4a3a9" stroke="#000" stroke-width="1.1"/><circle cx="448.2" cy="839.8" r="2.5" fill="none" stroke="#000" stroke-width="1.15"/><circle cx="451.8" cy="839.1" r="2.5" fill="none" stroke="#000" stroke-width="1.15"/><circle cx="455.4" cy="839.7" r="2.5" fill="none" stroke="#000" stroke-width="1.15"/><rect x="460.2" y="839.5" width="12.4" height="3.7" fill="#e8cc37" stroke="#000" stroke-width="1.1"/><circle cx="462.8" cy="839.8" r="2.5" fill="none" stroke="#000" stroke-width="1.15"/><circle cx="466.4" cy="839.1" r="2.5" fill="none" stroke="#000" stroke-width="1.15"/><circle cx="470.0" cy="839.7" r="2.5" fill="none" stroke="#000" stroke-width="1.15"/><rect x="479.8" y="834.9" width="12.5" height="8.3" fill="#a4a3a9" stroke="#000" stroke-width="1.1"/><circle cx="482.4" cy="835.2" r="2.5" fill="none" stroke="#000" stroke-width="1.15"/><circle cx="486.1" cy="834.5" r="2.5" fill="none" stroke="#000" stroke-width="1.15"/><circle cx="489.7" cy="835.1" r="2.5" fill="none" stroke="#000" stroke-width="1.15"/><rect x="494.7" y="835.2" width="12.5" height="8.0" fill="#e8cc37" stroke="#000" stroke-width="1.1"/><circle cx="497.3" cy="835.5" r="2.5" fill="none" stroke="#000" stroke-width="1.15"/><circle cx="500.9" cy="834.8" r="2.5" fill="none" stroke="#000" stroke-width="1.15"/><circle cx="504.6" cy="835.4" r="2.5" fill="none" stroke="#000" stroke-width="1.15"/><rect x="514.1" y="816.2" width="12.4" height="27.0" fill="#a4a3a9" stroke="#000" stroke-width="1.1"/><circle cx="516.7" cy="816.5" r="2.5" fill="none" stroke="#000" stroke-width="1.15"/><circle cx="520.3" cy="815.8" r="2.5" fill="none" stroke="#000" stroke-width="1.15"/><circle cx="523.9" cy="816.4" r="2.5" fill="none" stroke="#000" stroke-width="1.15"/><rect x="529.0" y="813.5" width="12.4" height="29.7" fill="#e8cc37" stroke="#000" stroke-width="1.1"/><circle cx="531.6" cy="813.8" r="2.5" fill="none" stroke="#000" stroke-width="1.15"/><circle cx="535.2" cy="813.1" r="2.5" fill="none" stroke="#000" stroke-width="1.15"/><circle cx="538.8" cy="813.7" r="2.5" fill="none" stroke="#000" stroke-width="1.15"/><g stroke="#000" stroke-width="1.4" fill="none"><line x1="442.9" y1="689.9" x2="442.9" y2="843.2"/><line x1="442.9" y1="843.2" x2="545.1" y2="843.2"/><line x1="436.9" y1="843.2" x2="442.9" y2="843.2"/><line x1="436.9" y1="812.5" x2="442.9" y2="812.5"/><line x1="436.9" y1="781.9" x2="442.9" y2="781.9"/><line x1="436.9" y1="751.2" x2="442.9" y2="751.2"/><line x1="436.9" y1="720.6" x2="442.9" y2="720.6"/><line x1="436.9" y1="689.9" x2="442.9" y2="689.9"/><line x1="459.0" y1="843.2" x2="459.0" y2="848.7"/><line x1="493.7" y1="843.2" x2="493.7" y2="848.7"/><line x1="527.7" y1="843.2" x2="527.7" y2="848.7"/></g><line x1="442.1" y1="865.3" x2="545.1" y2="865.3" stroke="#000" stroke-width="0.8"/><text x="435.1" y="847.0" font-size="10.6" text-anchor="end" fill="#111">0</text><text x="435.1" y="816.3" font-size="10.6" text-anchor="end" fill="#111">10</text><text x="435.1" y="785.7" font-size="10.6" text-anchor="end" fill="#111">20</text><text x="435.1" y="755.0" font-size="10.6" text-anchor="end" fill="#111">30</text><text x="435.1" y="724.4" font-size="10.6" text-anchor="end" fill="#111">40</text><text x="435.1" y="693.7" font-size="10.6" text-anchor="end" fill="#111">50</text><rect x="576.1" y="837.2" width="12.4" height="4.6" fill="#a4a3a9" stroke="#000" stroke-width="1.1"/><circle cx="578.7" cy="837.5" r="2.5" fill="none" stroke="#000" stroke-width="1.15"/><circle cx="582.3" cy="836.8" r="2.5" fill="none" stroke="#000" stroke-width="1.15"/><circle cx="585.9" cy="837.4" r="2.5" fill="none" stroke="#000" stroke-width="1.15"/><rect x="590.8" y="833.2" width="12.1" height="8.6" fill="#e8cc37" stroke="#000" stroke-width="1.1"/><circle cx="593.2" cy="833.5" r="2.5" fill="none" stroke="#000" stroke-width="1.15"/><circle cx="596.8" cy="832.8" r="2.5" fill="none" stroke="#000" stroke-width="1.15"/><circle cx="600.4" cy="833.4" r="2.5" fill="none" stroke="#000" stroke-width="1.15"/><rect x="610.6" y="833.2" width="12.2" height="8.6" fill="#a4a3a9" stroke="#000" stroke-width="1.1"/><circle cx="613.1" cy="833.5" r="2.5" fill="none" stroke="#000" stroke-width="1.15"/><circle cx="616.7" cy="832.8" r="2.5" fill="none" stroke="#000" stroke-width="1.15"/><circle cx="620.3" cy="833.4" r="2.5" fill="none" stroke="#000" stroke-width="1.15"/><rect x="625.5" y="812.3" width="11.9" height="29.5" fill="#e8cc37" stroke="#000" stroke-width="1.1"/><circle cx="627.9" cy="812.6" r="2.5" fill="none" stroke="#000" stroke-width="1.15"/><circle cx="631.5" cy="811.9" r="2.5" fill="none" stroke="#000" stroke-width="1.15"/><circle cx="635.1" cy="812.5" r="2.5" fill="none" stroke="#000" stroke-width="1.15"/><rect x="645.4" y="814.2" width="11.8" height="27.6" fill="#a4a3a9" stroke="#000" stroke-width="1.1"/><circle cx="647.7" cy="814.5" r="2.5" fill="none" stroke="#000" stroke-width="1.15"/><circle cx="651.3" cy="813.8" r="2.5" fill="none" stroke="#000" stroke-width="1.15"/><circle cx="654.9" cy="814.4" r="2.5" fill="none" stroke="#000" stroke-width="1.15"/><rect x="660.0" y="726.0" width="12.4" height="115.8" fill="#e8cc37" stroke="#000" stroke-width="1.1"/><circle cx="661.9" cy="722.4" r="2.5" fill="none" stroke="#000" stroke-width="1.15"/><circle cx="670.4" cy="725.2" r="2.5" fill="none" stroke="#000" stroke-width="1.15"/><circle cx="664.4" cy="728.8" r="2.5" fill="none" stroke="#000" stroke-width="1.15"/><g stroke="#000" stroke-width="1.4" fill="none"><line x1="573.3" y1="688.2" x2="573.3" y2="841.8"/><line x1="573.3" y1="841.8" x2="675.2" y2="841.8"/><line x1="567.3" y1="841.8" x2="573.3" y2="841.8"/><line x1="567.3" y1="811.1" x2="573.3" y2="811.1"/><line x1="567.3" y1="780.4" x2="573.3" y2="780.4"/><line x1="567.3" y1="749.6" x2="573.3" y2="749.6"/><line x1="567.3" y1="718.9" x2="573.3" y2="718.9"/><line x1="567.3" y1="688.2" x2="573.3" y2="688.2"/><line x1="589.4" y1="841.8" x2="589.4" y2="847.3"/><line x1="623.9" y1="841.8" x2="623.9" y2="847.3"/><line x1="658.4" y1="841.8" x2="658.4" y2="847.3"/></g><line x1="570.3" y1="865.3" x2="673.3" y2="865.3" stroke="#000" stroke-width="0.8"/><text x="565.5" y="845.6" font-size="10.6" text-anchor="end" fill="#111">0</text><text x="565.5" y="814.9" font-size="10.6" text-anchor="end" fill="#111">10</text><text x="565.5" y="784.2" font-size="10.6" text-anchor="end" fill="#111">20</text><text x="565.5" y="753.4" font-size="10.6" text-anchor="end" fill="#111">30</text><text x="565.5" y="722.7" font-size="10.6" text-anchor="end" fill="#111">40</text><text x="565.5" y="692.0" font-size="10.6" text-anchor="end" fill="#111">50</text><text x="458.3" y="861.0" font-size="10.4" text-anchor="middle" fill="#111">1×10<tspan font-size="7.2" dy="-3.9">8</tspan></text><text x="493.4" y="861.0" font-size="10.4" text-anchor="middle" fill="#111">5×10<tspan font-size="7.2" dy="-3.9">8</tspan></text><text x="527.2" y="861.0" font-size="10.4" text-anchor="middle" fill="#111">2.5×10<tspan font-size="7.2" dy="-3.9">9</tspan></text><text x="589.4" y="861.0" font-size="10.4" text-anchor="middle" fill="#111">1×10<tspan font-size="7.2" dy="-3.9">8</tspan></text><text x="623.9" y="861.0" font-size="10.4" text-anchor="middle" fill="#111">5×10<tspan font-size="7.2" dy="-3.9">8</tspan></text><text x="657.9" y="861.0" font-size="10.4" text-anchor="middle" fill="#111">2.5×10<tspan font-size="7.2" dy="-3.9">9</tspan></text><text x="494.2" y="880.4" font-size="10.9" text-anchor="middle" fill="#111">CD47 KO</text><text x="622.8" y="880.4" font-size="10.9" text-anchor="middle" fill="#111">CD47 WT</text><text x="593.1" y="822.5" font-size="8.1" text-anchor="middle" fill="#222"><tspan font-style="italic">P</tspan>&lt;0.0001</text><path d="M580.8 827.5 L580.8 825.7 L595.5 825.7 L595.5 827.5" fill="none" stroke="#333" stroke-width="0.8"/><text x="622.8" y="801.5" font-size="8.1" text-anchor="middle" fill="#222"><tspan font-style="italic">P</tspan>&lt;0.0001</text><path d="M614.6 806.5 L614.6 804.7 L630.2 804.7 L630.2 806.5" fill="none" stroke="#333" stroke-width="0.8"/><text x="654.2" y="709.9" font-size="8.1" text-anchor="middle" fill="#222"><tspan font-style="italic">P</tspan>&lt;0.0001</text><path d="M649.6 715.4 L649.6 713.6 L664.2 713.6 L664.2 715.4" fill="none" stroke="#333" stroke-width="0.8"/><rect x="448.8" y="691.1" width="9.5" height="9.2" fill="#a4a3a9" stroke="#111" stroke-width="1"/><rect x="448.8" y="705.5" width="9.5" height="9.2" fill="#e8cc37" stroke="#111" stroke-width="1"/><text x="466.4" y="699.9" font-size="10.7" fill="#111">C-EV</text><text x="466.4" y="713.5" font-size="10.7" fill="#111">SIRP-EV</text><text transform="translate(416.9 767.4) rotate(-90)" font-size="12.6" text-anchor="middle" fill="#111">Cy5.5 Relative MFI</text></svg></body></html>
